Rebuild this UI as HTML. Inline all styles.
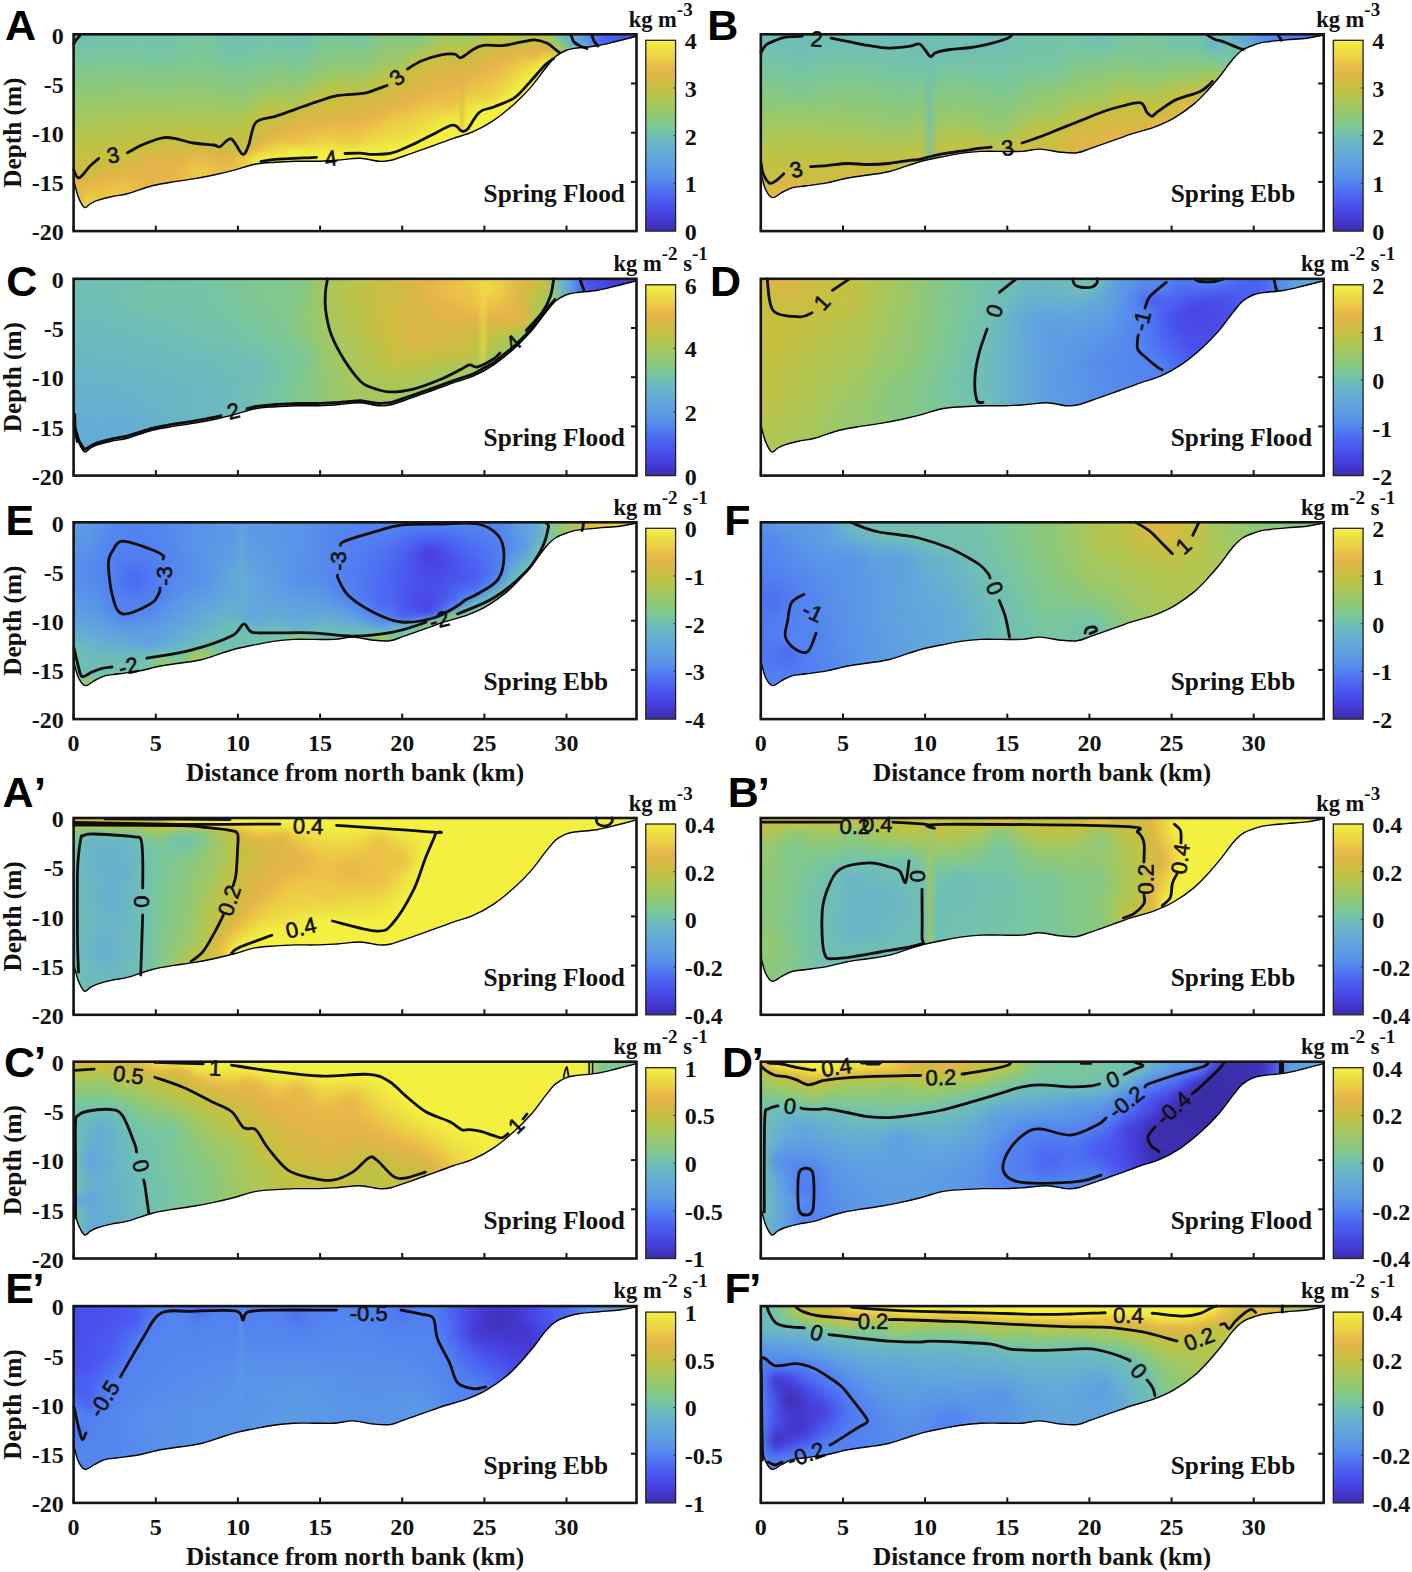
<!DOCTYPE html>
<html><head><meta charset="utf-8"><style>
html,body{margin:0;padding:0;background:#fff;}
body{width:1412px;height:1572px;position:relative;overflow:hidden;}
.fo{position:absolute;overflow:hidden;}
.fi{position:absolute;}
.fi i{position:absolute;left:0;right:0;display:block;}
svg{position:absolute;left:0;top:0;}
.tk{font-family:"Liberation Serif",serif;font-weight:bold;font-size:24px;fill:#111;}
.lab{font-family:"Liberation Serif",serif;font-weight:bold;font-size:25.3px;fill:#111;}
.un{font-family:"Liberation Serif",serif;font-weight:bold;font-size:22.5px;fill:#111;}
.un .sup{font-size:19px;}
.let{font-family:"Liberation Sans",sans-serif;font-weight:bold;font-size:43px;fill:#000;}
.cl{font-family:"Liberation Sans",sans-serif;font-size:22px;fill:#111;stroke:#111;stroke-width:0.6px;text-anchor:middle;dominant-baseline:central;}
.ct{fill:none;stroke:#0d0d0d;stroke-width:2.8;stroke-linejoin:round;stroke-linecap:round;}
</style></head><body>

<div class="fo" style="left:73.6px;top:34.3px;width:562.9px;height:196.8px">
<div class="fi" style="left:-10px;top:-10px;width:582.9px;height:220px;filter:blur(2.5px)">
<i style="top:0px;height:6px;background:linear-gradient(90deg,#6fbeb6,#6fbeb6,#71c0b2,#74c2ab,#74c3aa,#74c3aa,#75c3a8,#74c2ab,#73c1ad,#75c3a8,#78c6a1,#79c69f,#77c6a1,#74c3a9,#70bfb3,#71c0b2,#74c2aa,#75c4a7,#74c3aa,#72c0b0,#73c2ac,#79c69e,#7dc796,#7cc798,#78c6a0,#7cc799,#86c886,#8bc87d,#8ac87e,#86c885,#8fc877,#a4c860,#a6c75d,#99c86c,#9fc865,#b7c54c,#bbc349,#afc653,#adc755,#b4c54e,#a2c862,#70bfb4,#66afd0,#5a95e7,#4e73f1,#4a5cf0,#4a59f0,#4a58f0,#4a58f0)"></i>
<i style="top:5px;height:6px;background:linear-gradient(90deg,#6fbeb6,#6fbeb6,#71c0b2,#74c2ab,#74c3aa,#74c3aa,#75c3a8,#74c2ab,#73c1ad,#75c3a8,#78c6a1,#79c69f,#77c6a1,#74c3a9,#70bfb3,#71c0b2,#74c2aa,#75c4a7,#74c3aa,#72c0b0,#73c2ac,#79c69e,#7dc796,#7cc798,#78c6a0,#7cc799,#86c886,#8bc87d,#8ac87e,#86c885,#8fc877,#a4c860,#a6c75d,#99c86c,#9fc865,#b7c54c,#bbc349,#afc653,#adc755,#b4c54e,#a2c862,#70bfb4,#66afd0,#5a95e7,#4e73f1,#4a5cf0,#4a59f0,#4a58f0,#4a58f0)"></i>
<i style="top:10px;height:6px;background:linear-gradient(90deg,#6fbeb6,#6fbeb6,#71c0b1,#74c2ab,#74c3aa,#74c3aa,#75c3a8,#74c2ab,#73c1ad,#75c3a8,#78c6a1,#79c69e,#78c6a1,#74c3a9,#70bfb3,#71c0b2,#74c3aa,#76c4a6,#74c3a9,#72c0b0,#73c2ac,#79c69d,#7dc796,#7cc798,#78c6a0,#7cc798,#86c885,#8cc87c,#8bc87e,#86c885,#90c876,#a5c75f,#a7c75c,#99c86c,#a0c864,#b8c44b,#bcc348,#b1c651,#b0c653,#b9c44a,#a3c861,#70bfb4,#64abd7,#5b96e7,#4e70f1,#4a5cf0,#4a59f0,#4a58f0,#4a58f0)"></i>
<i style="top:15px;height:6px;background:linear-gradient(90deg,#70beb5,#70beb5,#72c1af,#74c3a9,#74c3a9,#74c3a9,#75c4a7,#74c3a9,#73c1ad,#75c4a7,#78c6a0,#79c69d,#78c6a0,#75c3a8,#71c0b3,#71c0b1,#75c3a8,#76c4a5,#75c3a8,#72c0b0,#74c2ab,#7ac69b,#7ec793,#7dc795,#78c6a0,#7dc796,#88c883,#8dc87a,#8dc87a,#86c885,#94c871,#aac759,#adc756,#a0c864,#acc757,#bec246,#c0c245,#bfc246,#c0c245,#ccbd41,#b2c650,#77c6a1,#63a8d9,#5d9ee1,#4e70f2,#4b5df1,#4a59f0,#4a58f0,#4a58f0)"></i>
<i style="top:20px;height:6px;background:linear-gradient(90deg,#72c1ae,#72c1ae,#74c3aa,#76c4a6,#75c4a6,#75c4a6,#76c5a4,#75c4a7,#74c2ab,#76c4a4,#79c69e,#7ac69b,#79c69e,#76c4a5,#72c1af,#72c1ae,#76c4a6,#77c5a2,#76c4a4,#73c2ab,#75c4a6,#7cc797,#81c88f,#80c890,#7cc799,#80c890,#8ac87f,#90c876,#91c875,#8ec877,#a0c864,#b3c650,#b5c54d,#b2c650,#c1c144,#c7c040,#c7bf40,#d0bb42,#d7b944,#deb647,#ccbd41,#99c86b,#6cbabd,#6ab6c4,#5281f0,#4b5df1,#4a59f0,#4a58f0,#4a58f0)"></i>
<i style="top:25px;height:6px;background:linear-gradient(90deg,#76c4a6,#76c4a5,#77c5a4,#77c6a1,#77c5a1,#77c6a1,#78c6a0,#77c5a3,#76c4a5,#78c6a1,#7bc79b,#7cc798,#7bc79b,#77c5a2,#74c3a9,#75c3a8,#77c5a2,#79c69e,#78c6a0,#77c5a4,#78c69f,#7fc792,#84c889,#83c88a,#82c88c,#85c887,#8dc879,#94c871,#97c86e,#a1c863,#b1c651,#bec246,#c0c245,#c3c143,#c9be41,#d0bc42,#d4ba43,#dbb745,#e2b548,#e5b44a,#e5b449,#bac349,#74c3aa,#70bfb4,#5281f0,#4b5df1,#4a59f0,#4a58f0,#4a58f0)"></i>
<i style="top:30px;height:6px;background:linear-gradient(90deg,#79c69f,#79c69e,#79c69e,#7ac69c,#7ac69c,#7ac69b,#7ac69c,#78c69f,#78c6a1,#79c69d,#7dc797,#7ec795,#7cc797,#79c69d,#76c5a4,#77c5a4,#7ac69d,#7cc799,#7bc79a,#7ac69d,#7bc799,#83c88b,#87c884,#87c883,#87c884,#89c880,#93c873,#98c86c,#9bc86a,#b4c54f,#c2c143,#c8bf40,#c8bf40,#c6c040,#cfbc42,#d9b844,#e1b548,#e5b44a,#e8b949,#e8ba48,#eee042,#c2c143,#74c3aa,#70bfb4,#5281f0,#4b5df1,#4a59f0,#4a58f0,#4a58f0)"></i>
<i style="top:35px;height:6px;background:linear-gradient(90deg,#7ac69c,#7ac69d,#7bc79a,#7dc797,#7dc795,#7dc795,#7dc796,#7bc79b,#78c6a0,#7bc799,#7fc792,#80c890,#7fc792,#7cc799,#77c5a2,#78c6a1,#7cc797,#7fc793,#7ec794,#7bc79a,#7ec795,#86c885,#8bc87c,#8cc87c,#88c882,#8dc87a,#99c86c,#9dc867,#9cc869,#c3c143,#c8bf41,#cfbc42,#cfbc42,#cbbe41,#d5b943,#e0b648,#e8b849,#e9bc48,#ecc646,#ecd544,#f4f040,#c2c143,#74c3aa,#70bfb4,#5281f0,#4b5df1,#4a59f0,#4a58f0,#4a58f0)"></i>
<i style="top:40px;height:6px;background:linear-gradient(90deg,#7cc797,#7cc798,#7ec795,#80c890,#80c88f,#81c88f,#80c890,#7ec794,#7bc79b,#7fc793,#82c88d,#82c88b,#81c88d,#7ec793,#7ac69d,#7bc79b,#80c891,#82c88c,#82c88c,#7ec794,#82c88c,#8bc87d,#91c875,#92c874,#8cc87b,#93c873,#a1c863,#a7c75c,#b1c652,#c7c040,#cdbd41,#d5b943,#d8b844,#d4ba43,#dbb745,#e5b44a,#e8b849,#ecc446,#ecd444,#f0e741,#f4f040,#c2c143,#74c3aa,#70bfb4,#5281f0,#4b5df1,#4a59f0,#4a58f0,#4a58f0)"></i>
<i style="top:45px;height:6px;background:linear-gradient(90deg,#82c88c,#82c88c,#82c88c,#83c88a,#84c889,#84c889,#83c88a,#82c88c,#82c88d,#83c88b,#84c888,#85c887,#84c888,#82c88d,#7fc792,#80c891,#83c88a,#86c886,#86c885,#85c886,#88c882,#91c875,#98c86d,#99c86b,#98c86d,#9dc868,#abc758,#b5c54d,#c6c040,#cabe41,#d2bb43,#dbb745,#dfb647,#dcb746,#e1b548,#e7b849,#eabe48,#eccc45,#edde43,#f4ef40,#f4f040,#c2c143,#74c3aa,#70bfb4,#5281f0,#4b5df1,#4a59f0,#4a58f0,#4a58f0)"></i>
<i style="top:50px;height:6px;background:linear-gradient(90deg,#86c885,#86c885,#86c886,#86c885,#87c884,#87c884,#87c884,#86c886,#86c885,#86c885,#88c883,#88c882,#87c883,#85c887,#83c88a,#84c889,#87c883,#8ac87f,#8ac87e,#8bc87e,#8dc87a,#98c86d,#a0c864,#a2c862,#a2c862,#a5c75e,#b5c54e,#c2c143,#c8bf40,#cfbc42,#d6b944,#deb647,#e1b548,#e2b548,#e7b54a,#e9bd48,#ecc546,#ecd444,#f0e641,#f4f040,#f4f040,#c2c143,#74c3aa,#70bfb4,#5281f0,#4b5df1,#4a59f0,#4a58f0,#4a58f0)"></i>
<i style="top:55px;height:6px;background:linear-gradient(90deg,#87c884,#87c884,#88c882,#89c880,#8ac87f,#8ac87e,#8ac87f,#89c881,#86c885,#89c880,#8bc87d,#8bc87d,#8ac87e,#88c882,#84c888,#86c886,#8bc87d,#8fc877,#8fc877,#8cc87c,#91c874,#a1c863,#a9c759,#abc758,#a2c861,#adc756,#bec246,#c6c040,#ccbd41,#d4ba43,#dbb745,#e1b548,#e3b549,#e6b54a,#e9bc48,#ecc346,#eccc45,#eddb43,#f1ea41,#f4f040,#f4f040,#c2c143,#74c3aa,#70bfb4,#5281f0,#4b5df1,#4a59f0,#4a58f0,#4a58f0)"></i>
<i style="top:60px;height:6px;background:linear-gradient(90deg,#8ac87e,#8ac87e,#8bc87d,#8dc87a,#8dc879,#8ec879,#8dc879,#8dc87a,#8bc87d,#8dc87a,#8ec878,#8fc877,#8ec878,#8cc87c,#88c882,#8ac87f,#90c875,#95c870,#96c86f,#92c873,#9ac86b,#aac759,#b3c64f,#b5c54d,#afc654,#bac44a,#c5c041,#cabe41,#d3ba43,#d9b845,#e0b647,#e4b449,#e6b54a,#e9bb48,#ebc246,#ecc845,#ecd344,#eee342,#f4f040,#f4f040,#f4f040,#c2c143,#74c3aa,#70bfb4,#5281f0,#4b5df1,#4a59f0,#4a58f0,#4a58f0)"></i>
<i style="top:65px;height:6px;background:linear-gradient(90deg,#90c876,#90c876,#90c876,#90c876,#91c874,#92c874,#92c874,#91c874,#92c873,#92c874,#93c873,#93c872,#92c873,#90c876,#8ec879,#8fc877,#96c86f,#9cc868,#9dc867,#9cc868,#a5c75f,#b5c54e,#bec247,#c1c144,#bfc246,#c6c040,#c8bf40,#d1bb43,#dab745,#dfb647,#e4b449,#e7b749,#e8ba49,#ebc147,#ecc945,#eccc45,#edd943,#f1ea41,#f4f040,#f4f040,#f4f040,#c2c143,#74c3aa,#70bfb4,#5281f0,#4b5df1,#4a59f0,#4a58f0,#4a58f0)"></i>
<i style="top:70px;height:6px;background:linear-gradient(90deg,#94c871,#95c871,#94c872,#94c871,#95c870,#96c86f,#96c86f,#96c86f,#98c86d,#97c86e,#97c86e,#98c86d,#97c86e,#95c871,#93c873,#94c871,#9dc867,#a4c860,#a6c75e,#a4c85f,#afc653,#c0c245,#c5c041,#c8bf41,#cbbe41,#cbbe41,#cebc42,#d9b844,#e0b648,#e4b549,#e8b849,#e9bb48,#e9bd48,#ecc846,#ecd144,#eccc45,#eee042,#f4f040,#f4f040,#f4f040,#f4f040,#c2c143,#74c3aa,#70bfb4,#5281f0,#4b5df1,#4a59f0,#4a58f0,#4a58f0)"></i>
<i style="top:75px;height:6px;background:linear-gradient(90deg,#95c870,#95c870,#96c86f,#98c86d,#9ac86b,#9ac86a,#9bc86a,#9ac86a,#99c86c,#9bc86a,#9cc868,#9cc868,#9cc869,#9ac86b,#94c871,#98c86d,#a4c85f,#acc756,#afc654,#a7c75c,#bcc348,#c7c040,#cabe41,#cebd42,#d3ba43,#d2bb43,#d5b943,#deb646,#e1b548,#e7b849,#eabf47,#eabf47,#eabe48,#eccf45,#eddb43,#eddd43,#f2ec41,#f4f040,#f4f040,#f4f040,#f4f040,#c2c143,#74c3aa,#70bfb4,#5281f0,#4b5df1,#4a59f0,#4a58f0,#4a58f0)"></i>
<i style="top:80px;height:6px;background:linear-gradient(90deg,#99c86c,#99c86c,#9ac86a,#9cc868,#9ec866,#9fc865,#9fc865,#9fc865,#9dc868,#a0c864,#a1c863,#a1c863,#a1c863,#9fc865,#99c86b,#9ec866,#adc756,#b5c54d,#bac44a,#bdc347,#c7c040,#cbbe41,#cfbc42,#d3ba43,#d8b844,#d8b844,#dcb746,#e3b549,#e5b44a,#eabf47,#ecc646,#ecc646,#ecc646,#ecd744,#efe542,#f3ee40,#f4f040,#f4f040,#f4f040,#f4f040,#f4f040,#c2c143,#74c3aa,#70bfb4,#5281f0,#4b5df1,#4a59f0,#4a58f0,#4a58f0)"></i>
<i style="top:85px;height:6px;background:linear-gradient(90deg,#a0c864,#a0c864,#a0c864,#a1c863,#a2c862,#a3c860,#a4c85f,#a4c85f,#a5c75f,#a5c75e,#a6c75d,#a6c75d,#a6c75d,#a6c75e,#a2c862,#a8c75b,#b6c54d,#bfc246,#c4c142,#c9be41,#cfbc42,#d1bb43,#d5b943,#d8b844,#d8b844,#dcb746,#e3b549,#e7b849,#e9bd48,#ecc646,#eccf45,#ecd144,#ecd444,#eedf42,#f3ee40,#f4f040,#f4f040,#f4f040,#f4f040,#f4f040,#f4f040,#c2c143,#74c3aa,#70bfb4,#5281f0,#4b5df1,#4a59f0,#4a58f0,#4a58f0)"></i>
<i style="top:90px;height:6px;background:linear-gradient(90deg,#a5c75e,#a6c75e,#a5c75f,#a5c75e,#a6c75d,#a8c75b,#a9c75a,#aac759,#acc757,#aac758,#abc758,#abc758,#abc758,#abc757,#a9c759,#b1c651,#c0c245,#c5c041,#c9bf41,#d0bb42,#d6b943,#d9b844,#dcb746,#deb647,#ddb746,#e1b548,#e7b849,#ebc047,#ecc646,#ecce45,#edd843,#eddb43,#eee042,#efe542,#f4f040,#f4f040,#f4f040,#f4f040,#f4f040,#f4f040,#f4f040,#c2c143,#74c3aa,#70bfb4,#5281f0,#4b5df1,#4a59f0,#4a58f0,#4a58f0)"></i>
<i style="top:95px;height:6px;background:linear-gradient(90deg,#a7c75c,#a7c75c,#a8c75b,#a9c75a,#abc758,#acc756,#aec655,#aec654,#aec655,#afc653,#b0c652,#b0c652,#afc654,#adc756,#b0c652,#bac44a,#c6c040,#c9bf41,#d0bc42,#d8b844,#ddb746,#e0b647,#e3b549,#e4b449,#e4b449,#e7b749,#eac047,#ecc945,#eccf45,#ecd544,#eede42,#efe342,#f2eb41,#f1e941,#f4f040,#f4f040,#f4f040,#f4f040,#f4f040,#f4f040,#f4f040,#c2c143,#74c3aa,#70bfb4,#5281f0,#4b5df1,#4a59f0,#4a58f0,#4a58f0)"></i>
<i style="top:100px;height:6px;background:linear-gradient(90deg,#aac759,#aac759,#acc757,#adc755,#afc653,#b1c651,#b3c64f,#b3c64f,#b0c652,#b4c54e,#b6c54d,#b5c54d,#b3c64f,#afc653,#b6c54d,#bfc246,#c8bf40,#cfbc42,#d8b844,#e0b647,#e4b549,#e7b64a,#e8b949,#e8ba49,#e8ba48,#eabf47,#ecc846,#ecd044,#ecd544,#edda43,#eede42,#f2eb41,#f4f040,#f2ec41,#f4f040,#f4f040,#f4f040,#f4f040,#f4f040,#f4f040,#f4f040,#c2c143,#74c3aa,#70bfb4,#5281f0,#4b5df1,#4a59f0,#4a58f0,#4a58f0)"></i>
<i style="top:105px;height:6px;background:linear-gradient(90deg,#b1c651,#b1c651,#b1c651,#b2c650,#b3c64f,#b6c54d,#b8c44b,#bac44a,#b9c44a,#bbc349,#bdc347,#bbc349,#b9c44a,#b7c44c,#bdc347,#c2c143,#cabe41,#d7b844,#e1b648,#e7b64a,#e8b949,#eabf47,#ebc247,#ebc047,#ebc147,#ecc846,#ecd044,#ecd544,#ecd644,#edde43,#f0e741,#f4f040,#f4f040,#f4f040,#f4f040,#f4f040,#f4f040,#f4f040,#f4f040,#f4f040,#f4f040,#c2c143,#74c3aa,#70bfb4,#5281f0,#4b5df1,#4a59f0,#4a58f0,#4a58f0)"></i>
<i style="top:110px;height:6px;background:linear-gradient(90deg,#b6c54d,#b7c54c,#b6c54d,#b6c54d,#b8c44b,#bac349,#bdc347,#bec246,#c2c143,#c3c143,#c3c142,#c0c245,#bec246,#bfc246,#c3c142,#c3c142,#cfbc42,#e1b548,#e8b949,#e9bd48,#eabf47,#ecc945,#eccb45,#ecc546,#ecc446,#ecd144,#edd843,#eddb43,#eddc43,#efe442,#f4f040,#f4f040,#f4f040,#f4f040,#f4f040,#f4f040,#f4f040,#f4f040,#f4f040,#f4f040,#f4f040,#c2c143,#74c3aa,#70bfb4,#5281f0,#4b5df1,#4a59f0,#4a58f0,#4a58f0)"></i>
<i style="top:115px;height:6px;background:linear-gradient(90deg,#b8c44c,#b7c44c,#b9c44a,#bbc349,#bcc348,#bfc246,#c2c143,#bec246,#c9bf41,#c9bf41,#c6c040,#c5c040,#bec246,#c4c142,#c6c040,#c3c142,#d7b844,#e9bb48,#ecc546,#eabf47,#ecc646,#ecd344,#ecd644,#eccd45,#eccc45,#edda43,#eee042,#efe342,#f0e741,#f3ef40,#f4f040,#f4f040,#f4f040,#f4f040,#f4f040,#f4f040,#f4f040,#f4f040,#f4f040,#f4f040,#f4f040,#c2c143,#74c3aa,#70bfb4,#5281f0,#4b5df1,#4a59f0,#4a58f0,#4a58f0)"></i>
<i style="top:120px;height:6px;background:linear-gradient(90deg,#bcc348,#bcc348,#bec246,#bfc246,#c0c244,#c3c143,#c5c040,#c7bf40,#cebc42,#cfbc42,#cdbd42,#cfbc42,#cabe41,#c8bf40,#c8bf40,#c6c040,#e5b44a,#eccb45,#ecd444,#ecd444,#ecd744,#edde43,#eee142,#eddc43,#eddc43,#efe342,#f0e741,#f2eb41,#f4ef40,#f4f040,#f4f040,#f4f040,#f4f040,#f4f040,#f4f040,#f4f040,#f4f040,#f4f040,#f4f040,#f4f040,#f4f040,#c2c143,#74c3aa,#70bfb4,#5281f0,#4b5df1,#4a59f0,#4a58f0,#4a58f0)"></i>
<i style="top:125px;height:6px;background:linear-gradient(90deg,#c3c142,#c3c142,#c4c142,#c3c143,#c4c141,#c5c041,#c8bf41,#d1bb42,#d4ba43,#d5b943,#d7b844,#deb647,#d8b844,#d1bb43,#d0bc42,#d4ba43,#ecca45,#eddb43,#eee242,#f2ec41,#f1e841,#f1e841,#f2ec41,#f2ea41,#f2ea41,#f2ec41,#f3ee40,#f4f040,#f4f040,#f4f040,#f4f040,#f4f040,#f4f040,#f4f040,#f4f040,#f4f040,#f4f040,#f4f040,#f4f040,#f4f040,#f4f040,#c2c143,#74c3aa,#70bfb4,#5281f0,#4b5df1,#4a59f0,#4a58f0,#4a58f0)"></i>
<i style="top:130px;height:6px;background:linear-gradient(90deg,#c8bf40,#c9bf41,#c9bf41,#c6c040,#c6c040,#c8bf41,#d0bc42,#dbb745,#dbb745,#dbb745,#e0b647,#e9bc48,#e3b549,#dcb746,#e3b549,#eccc45,#eee042,#f1e941,#f2ec41,#f4f040,#f4f040,#f4ef40,#f4f040,#f4f040,#f4f040,#f4f040,#f4f040,#f4f040,#f4f040,#f4f040,#f4f040,#f4f040,#f4f040,#f4f040,#f4f040,#f4f040,#f4f040,#f4f040,#f4f040,#f4f040,#f4f040,#c2c143,#74c3aa,#70bfb4,#5281f0,#4b5df1,#4a59f0,#4a58f0,#4a58f0)"></i>
<i style="top:135px;height:6px;background:linear-gradient(90deg,#c9bf41,#cabe41,#c9bf41,#c8bf40,#cbbe41,#cfbc42,#d8b844,#e3b549,#e0b647,#e0b648,#e6b54a,#e9bd48,#e8b949,#e4b549,#e9bb48,#eccc45,#f2ec41,#f4f040,#f4f040,#f4f040,#f4f040,#f4f040,#f4f040,#f4f040,#f4f040,#f4f040,#f4f040,#f4f040,#f4f040,#f4f040,#f4f040,#f4f040,#f4f040,#f4f040,#f4f040,#f4f040,#f4f040,#f4f040,#f4f040,#f4f040,#f4f040,#c2c143,#74c3aa,#70bfb4,#5281f0,#4b5df1,#4a59f0,#4a58f0,#4a58f0)"></i>
<i style="top:140px;height:6px;background:linear-gradient(90deg,#c7bf40,#c8bf40,#c6c040,#ccbd41,#d2bb43,#d7b844,#deb647,#e5b44a,#e3b549,#e4b549,#e8bb48,#ecc646,#ebc047,#e7b849,#eabf47,#eccd45,#f3ed40,#f4f040,#f4f040,#f4f040,#f4f040,#f4f040,#f4f040,#f4f040,#f4f040,#f4f040,#f4f040,#f4f040,#f4f040,#f4f040,#f4f040,#f4f040,#f4f040,#f4f040,#f4f040,#f4f040,#f4f040,#f4f040,#f4f040,#f4f040,#f4f040,#c2c143,#74c3aa,#70bfb4,#5281f0,#4b5df1,#4a59f0,#4a58f0,#4a58f0)"></i>
<i style="top:145px;height:6px;background:linear-gradient(90deg,#c6c040,#c6c040,#c8bf40,#d3ba43,#dbb745,#dfb647,#e3b549,#e6b44a,#e5b44a,#e6b54a,#eabe47,#eccc45,#ecc546,#e9bb48,#eac047,#eccd45,#f3ed40,#f4f040,#f4f040,#f4f040,#f4f040,#f4f040,#f4f040,#f4f040,#f4f040,#f4f040,#f4f040,#f4f040,#f4f040,#f4f040,#f4f040,#f4f040,#f4f040,#f4f040,#f4f040,#f4f040,#f4f040,#f4f040,#f4f040,#f4f040,#f4f040,#c2c143,#74c3aa,#70bfb4,#5281f0,#4b5df1,#4a59f0,#4a58f0,#4a58f0)"></i>
<i style="top:150px;height:6px;background:linear-gradient(90deg,#c6c040,#c8bf41,#d2bb43,#dbb745,#e3b549,#e6b54a,#e6b54a,#e6b54a,#e6b44a,#e7b749,#eac047,#eccc45,#ecc646,#e9bb48,#eac047,#eccd45,#f3ed40,#f4f040,#f4f040,#f4f040,#f4f040,#f4f040,#f4f040,#f4f040,#f4f040,#f4f040,#f4f040,#f4f040,#f4f040,#f4f040,#f4f040,#f4f040,#f4f040,#f4f040,#f4f040,#f4f040,#f4f040,#f4f040,#f4f040,#f4f040,#f4f040,#c2c143,#74c3aa,#70bfb4,#5281f0,#4b5df1,#4a59f0,#4a58f0,#4a58f0)"></i>
<i style="top:155px;height:6px;background:linear-gradient(90deg,#c7c040,#e0b647,#e3b549,#e4b549,#e9bb48,#eabe48,#e8b849,#e7b64a,#e6b54a,#e7b849,#eabf47,#eccc45,#ecc646,#e9bb48,#eac047,#eccd45,#f3ed40,#f4f040,#f4f040,#f4f040,#f4f040,#f4f040,#f4f040,#f4f040,#f4f040,#f4f040,#f4f040,#f4f040,#f4f040,#f4f040,#f4f040,#f4f040,#f4f040,#f4f040,#f4f040,#f4f040,#f4f040,#f4f040,#f4f040,#f4f040,#f4f040,#c2c143,#74c3aa,#70bfb4,#5281f0,#4b5df1,#4a59f0,#4a58f0,#4a58f0)"></i>
<i style="top:160px;height:6px;background:linear-gradient(90deg,#c7c040,#e0b647,#e8b949,#e8ba48,#ecc346,#ecc446,#e9bb48,#e7b749,#e6b54a,#e7b849,#eabf47,#eccc45,#ecc646,#e9bb48,#eac047,#eccd45,#f3ed40,#f4f040,#f4f040,#f4f040,#f4f040,#f4f040,#f4f040,#f4f040,#f4f040,#f4f040,#f4f040,#f4f040,#f4f040,#f4f040,#f4f040,#f4f040,#f4f040,#f4f040,#f4f040,#f4f040,#f4f040,#f4f040,#f4f040,#f4f040,#f4f040,#c2c143,#74c3aa,#70bfb4,#5281f0,#4b5df1,#4a59f0,#4a58f0,#4a58f0)"></i>
<i style="top:165px;height:6px;background:linear-gradient(90deg,#c7c040,#e0b648,#ebc246,#ebc147,#ecc646,#ecc646,#e9bc48,#e7b749,#e6b54a,#e7b849,#eabf47,#eccc45,#ecc646,#e9bb48,#eac047,#eccd45,#f3ed40,#f4f040,#f4f040,#f4f040,#f4f040,#f4f040,#f4f040,#f4f040,#f4f040,#f4f040,#f4f040,#f4f040,#f4f040,#f4f040,#f4f040,#f4f040,#f4f040,#f4f040,#f4f040,#f4f040,#f4f040,#f4f040,#f4f040,#f4f040,#f4f040,#c2c143,#74c3aa,#70bfb4,#5281f0,#4b5df1,#4a59f0,#4a58f0,#4a58f0)"></i>
<i style="top:170px;height:6px;background:linear-gradient(90deg,#c7c040,#e0b648,#eccc45,#ecc646,#ecc646,#ecc646,#e9bc48,#e7b749,#e6b54a,#e7b849,#eabf47,#eccc45,#ecc646,#e9bb48,#eac047,#eccd45,#f3ed40,#f4f040,#f4f040,#f4f040,#f4f040,#f4f040,#f4f040,#f4f040,#f4f040,#f4f040,#f4f040,#f4f040,#f4f040,#f4f040,#f4f040,#f4f040,#f4f040,#f4f040,#f4f040,#f4f040,#f4f040,#f4f040,#f4f040,#f4f040,#f4f040,#c2c143,#74c3aa,#70bfb4,#5281f0,#4b5df1,#4a59f0,#4a58f0,#4a58f0)"></i>
<i style="top:175px;height:6px;background:linear-gradient(90deg,#c7c040,#e0b648,#ecd544,#ecc846,#ecc646,#ecc646,#e9bc48,#e7b749,#e6b54a,#e7b849,#eabf47,#eccc45,#ecc646,#e9bb48,#eac047,#eccd45,#f3ed40,#f4f040,#f4f040,#f4f040,#f4f040,#f4f040,#f4f040,#f4f040,#f4f040,#f4f040,#f4f040,#f4f040,#f4f040,#f4f040,#f4f040,#f4f040,#f4f040,#f4f040,#f4f040,#f4f040,#f4f040,#f4f040,#f4f040,#f4f040,#f4f040,#c2c143,#74c3aa,#70bfb4,#5281f0,#4b5df1,#4a59f0,#4a58f0,#4a58f0)"></i>
<i style="top:180px;height:6px;background:linear-gradient(90deg,#c7c040,#e0b648,#ecd644,#ecc846,#ecc646,#ecc646,#e9bc48,#e7b749,#e6b54a,#e7b849,#eabf47,#eccc45,#ecc646,#e9bb48,#eac047,#eccd45,#f3ed40,#f4f040,#f4f040,#f4f040,#f4f040,#f4f040,#f4f040,#f4f040,#f4f040,#f4f040,#f4f040,#f4f040,#f4f040,#f4f040,#f4f040,#f4f040,#f4f040,#f4f040,#f4f040,#f4f040,#f4f040,#f4f040,#f4f040,#f4f040,#f4f040,#c2c143,#74c3aa,#70bfb4,#5281f0,#4b5df1,#4a59f0,#4a58f0,#4a58f0)"></i>
<i style="top:185px;height:6px;background:linear-gradient(90deg,#c7c040,#e0b648,#ecd644,#ecc846,#ecc646,#ecc646,#e9bc48,#e7b749,#e6b54a,#e7b849,#eabf47,#eccc45,#ecc646,#e9bb48,#eac047,#eccd45,#f3ed40,#f4f040,#f4f040,#f4f040,#f4f040,#f4f040,#f4f040,#f4f040,#f4f040,#f4f040,#f4f040,#f4f040,#f4f040,#f4f040,#f4f040,#f4f040,#f4f040,#f4f040,#f4f040,#f4f040,#f4f040,#f4f040,#f4f040,#f4f040,#f4f040,#c2c143,#74c3aa,#70bfb4,#5281f0,#4b5df1,#4a59f0,#4a58f0,#4a58f0)"></i>
<i style="top:190px;height:6px;background:linear-gradient(90deg,#c7c040,#e0b648,#ecd644,#ecc846,#ecc646,#ecc646,#e9bc48,#e7b749,#e6b54a,#e7b849,#eabf47,#eccc45,#ecc646,#e9bb48,#eac047,#eccd45,#f3ed40,#f4f040,#f4f040,#f4f040,#f4f040,#f4f040,#f4f040,#f4f040,#f4f040,#f4f040,#f4f040,#f4f040,#f4f040,#f4f040,#f4f040,#f4f040,#f4f040,#f4f040,#f4f040,#f4f040,#f4f040,#f4f040,#f4f040,#f4f040,#f4f040,#c2c143,#74c3aa,#70bfb4,#5281f0,#4b5df1,#4a59f0,#4a58f0,#4a58f0)"></i>
<i style="top:195px;height:6px;background:linear-gradient(90deg,#c7c040,#e0b648,#ecd644,#ecc846,#ecc646,#ecc646,#e9bc48,#e7b749,#e6b54a,#e7b849,#eabf47,#eccc45,#ecc646,#e9bb48,#eac047,#eccd45,#f3ed40,#f4f040,#f4f040,#f4f040,#f4f040,#f4f040,#f4f040,#f4f040,#f4f040,#f4f040,#f4f040,#f4f040,#f4f040,#f4f040,#f4f040,#f4f040,#f4f040,#f4f040,#f4f040,#f4f040,#f4f040,#f4f040,#f4f040,#f4f040,#f4f040,#c2c143,#74c3aa,#70bfb4,#5281f0,#4b5df1,#4a59f0,#4a58f0,#4a58f0)"></i>
<i style="top:200px;height:6px;background:linear-gradient(90deg,#c7c040,#e0b648,#ecd644,#ecc846,#ecc646,#ecc646,#e9bc48,#e7b749,#e6b54a,#e7b849,#eabf47,#eccc45,#ecc646,#e9bb48,#eac047,#eccd45,#f3ed40,#f4f040,#f4f040,#f4f040,#f4f040,#f4f040,#f4f040,#f4f040,#f4f040,#f4f040,#f4f040,#f4f040,#f4f040,#f4f040,#f4f040,#f4f040,#f4f040,#f4f040,#f4f040,#f4f040,#f4f040,#f4f040,#f4f040,#f4f040,#f4f040,#c2c143,#74c3aa,#70bfb4,#5281f0,#4b5df1,#4a59f0,#4a58f0,#4a58f0)"></i>
<i style="top:205px;height:6px;background:linear-gradient(90deg,#c7c040,#e0b648,#ecd644,#ecc846,#ecc646,#ecc646,#e9bc48,#e7b749,#e6b54a,#e7b849,#eabf47,#eccc45,#ecc646,#e9bb48,#eac047,#eccd45,#f3ed40,#f4f040,#f4f040,#f4f040,#f4f040,#f4f040,#f4f040,#f4f040,#f4f040,#f4f040,#f4f040,#f4f040,#f4f040,#f4f040,#f4f040,#f4f040,#f4f040,#f4f040,#f4f040,#f4f040,#f4f040,#f4f040,#f4f040,#f4f040,#f4f040,#c2c143,#74c3aa,#70bfb4,#5281f0,#4b5df1,#4a59f0,#4a58f0,#4a58f0)"></i>
<i style="top:210px;height:6px;background:linear-gradient(90deg,#c7c040,#e0b648,#ecd644,#ecc846,#ecc646,#ecc646,#e9bc48,#e7b749,#e6b54a,#e7b849,#eabf47,#eccc45,#ecc646,#e9bb48,#eac047,#eccd45,#f3ed40,#f4f040,#f4f040,#f4f040,#f4f040,#f4f040,#f4f040,#f4f040,#f4f040,#f4f040,#f4f040,#f4f040,#f4f040,#f4f040,#f4f040,#f4f040,#f4f040,#f4f040,#f4f040,#f4f040,#f4f040,#f4f040,#f4f040,#f4f040,#f4f040,#c2c143,#74c3aa,#70bfb4,#5281f0,#4b5df1,#4a59f0,#4a58f0,#4a58f0)"></i>
<i style="top:215px;height:6px;background:linear-gradient(90deg,#c7c040,#e0b648,#ecd644,#ecc846,#ecc646,#ecc646,#e9bc48,#e7b749,#e6b54a,#e7b849,#eabf47,#eccc45,#ecc646,#e9bb48,#eac047,#eccd45,#f3ed40,#f4f040,#f4f040,#f4f040,#f4f040,#f4f040,#f4f040,#f4f040,#f4f040,#f4f040,#f4f040,#f4f040,#f4f040,#f4f040,#f4f040,#f4f040,#f4f040,#f4f040,#f4f040,#f4f040,#f4f040,#f4f040,#f4f040,#f4f040,#f4f040,#c2c143,#74c3aa,#70bfb4,#5281f0,#4b5df1,#4a59f0,#4a58f0,#4a58f0)"></i>
</div></div>
<div class="fo" style="left:760.8px;top:34.3px;width:562.9px;height:196.8px">
<div class="fi" style="left:-10px;top:-10px;width:582.9px;height:220px;filter:blur(2.5px)">
<i style="top:0px;height:6px;background:linear-gradient(90deg,#6cb9be,#6cb9be,#6fbeb6,#70bfb3,#6dbbbb,#70bfb3,#70bfb4,#70bfb4,#70bfb4,#70bfb4,#70beb5,#6ebdb8,#6cbabe,#6dbcba,#70beb5,#70bfb4,#70bfb4,#70bfb5,#70bfb4,#70bfb4,#6fbeb6,#6fbeb6,#71c0b1,#73c2ac,#75c3a8,#75c4a6,#76c4a5,#75c3a8,#71c0b1,#70bfb4,#75c3a8,#79c69d,#7bc79b,#7ac69c,#77c5a2,#74c2ab,#73c2ac,#71c0b1,#72c1af,#6fbeb6,#65add4,#61a5dc,#5a95e7,#558aed,#517ef0,#4f76f1,#4c68f2,#4c65f2,#4c65f2)"></i>
<i style="top:5px;height:6px;background:linear-gradient(90deg,#6cb9be,#6cb9be,#6fbeb6,#70bfb3,#6dbbbb,#70bfb3,#70bfb4,#70bfb4,#70bfb4,#70bfb4,#70beb5,#6ebdb8,#6cbabe,#6dbcba,#70beb5,#70bfb4,#70bfb4,#70bfb5,#70bfb4,#70bfb4,#6fbeb6,#6fbeb6,#71c0b1,#73c2ac,#75c3a8,#75c4a6,#76c4a5,#75c3a8,#71c0b1,#70bfb4,#75c3a8,#79c69d,#7bc79b,#7ac69c,#77c5a2,#74c2ab,#73c2ac,#71c0b1,#72c1af,#6fbeb6,#65add4,#61a5dc,#5a95e7,#558aed,#517ef0,#4f76f1,#4c68f2,#4c65f2,#4c65f2)"></i>
<i style="top:10px;height:6px;background:linear-gradient(90deg,#6cb9be,#6cb9be,#70beb5,#70bfb4,#6dbbbc,#70bfb4,#70bfb4,#70bfb4,#70bfb4,#70bfb4,#70beb5,#6fbdb8,#6cbabe,#6ebcba,#70bfb5,#70bfb4,#70bfb4,#70bfb5,#70bfb4,#70bfb4,#6fbeb6,#6fbeb6,#71c0b1,#73c2ab,#75c3a8,#75c4a6,#76c4a5,#75c3a8,#71c0b0,#70bfb4,#75c4a7,#79c69d,#7bc79a,#7ac69c,#77c5a2,#74c2ab,#73c2ac,#71c0b1,#70bfb3,#6fbeb6,#65acd4,#61a5dc,#5a95e7,#568bec,#517ef0,#4f76f1,#4c68f2,#4c65f2,#4c65f2)"></i>
<i style="top:15px;height:6px;background:linear-gradient(90deg,#6cbabe,#6cbabe,#70bfb4,#70bfb5,#6dbbbc,#70bfb5,#70bfb3,#70bfb3,#70bfb4,#70bfb4,#70bfb5,#6fbeb6,#6dbbbc,#6fbdb7,#70bfb4,#70bfb4,#70bfb4,#70bfb5,#70bfb4,#70bfb4,#70bfb4,#6fbeb5,#72c1af,#74c2ab,#75c3a8,#76c4a6,#76c4a4,#75c4a6,#72c1af,#70bfb4,#76c4a5,#7ac69b,#7bc799,#7ac69b,#78c6a1,#74c2aa,#74c2aa,#71c0b0,#6ab7c3,#70bfb4,#66aed2,#62a7da,#5a95e7,#568bec,#517ff0,#4f76f1,#4c68f2,#4c65f2,#4c65f2)"></i>
<i style="top:20px;height:6px;background:linear-gradient(90deg,#6fbdb7,#70bfb5,#71c0b1,#70bfb4,#6ebcb9,#70bfb4,#71c0b1,#71c0b1,#71c0b2,#70bfb3,#70bfb4,#70bfb4,#70bfb4,#70bfb4,#70bfb4,#70bfb4,#70bfb4,#70bfb4,#70bfb4,#70bfb4,#70bfb3,#70bfb3,#73c1ad,#74c3aa,#75c3a8,#76c4a6,#77c5a3,#77c5a3,#74c2aa,#73c1ae,#78c6a0,#7cc798,#7cc797,#7bc79a,#79c69e,#76c4a5,#76c4a5,#74c3aa,#6ab7c2,#70bfb5,#70bfb4,#65add3,#5b96e7,#568bec,#517ff0,#4f76f1,#4c68f2,#4c65f2,#4c65f2)"></i>
<i style="top:25px;height:6px;background:linear-gradient(90deg,#70bfb4,#70bfb3,#73c1ae,#71c0b1,#70bfb4,#71c0b1,#73c1ae,#73c1ad,#72c1ae,#72c1af,#71c0b1,#71c0b2,#72c0b0,#72c0b0,#70bfb3,#70bfb4,#70bfb4,#71bfb3,#71c0b2,#71c0b1,#72c0b0,#72c1af,#74c2ab,#75c3a8,#75c3a7,#76c4a5,#78c6a0,#79c69f,#77c5a2,#77c5a3,#7bc799,#7ec793,#7ec795,#7cc798,#7bc799,#7ac69c,#7ac69c,#7ac69c,#6fbeb6,#72c1b0,#72c1af,#67b0ce,#5b96e7,#568bec,#517ff0,#4f76f1,#4c68f2,#4c65f2,#4c65f2)"></i>
<i style="top:30px;height:6px;background:linear-gradient(90deg,#72c1af,#72c1ae,#74c2ab,#73c1ad,#73c1ad,#73c1ad,#74c2aa,#74c3a9,#74c3aa,#74c2ab,#73c2ac,#72c1ae,#73c2ad,#73c1ad,#71c0b0,#70bfb3,#71c0b1,#72c1af,#72c1ae,#72c1ae,#73c1ad,#73c2ac,#75c3a8,#76c4a6,#75c4a7,#76c4a5,#79c69d,#7cc799,#7cc799,#7cc798,#80c891,#81c88d,#7fc792,#7dc796,#7ec793,#7fc792,#7fc792,#7fc793,#77c5a2,#76c5a4,#73c2ab,#67b0ce,#5b96e7,#568bec,#517ff0,#4f76f1,#4c68f2,#4c65f2,#4c65f2)"></i>
<i style="top:35px;height:6px;background:linear-gradient(90deg,#74c3a9,#75c3a8,#75c3a7,#74c3aa,#73c2ac,#74c3aa,#75c4a6,#76c4a5,#76c4a5,#76c4a6,#75c3a8,#74c2aa,#73c2ac,#74c2ab,#73c2ac,#72c1ae,#73c2ac,#74c2aa,#74c3aa,#74c2aa,#74c2ab,#74c2ab,#76c4a6,#77c5a3,#76c4a5,#76c4a5,#7cc799,#7fc792,#80c88f,#82c88c,#84c888,#85c887,#82c88d,#7dc796,#82c88c,#85c888,#84c889,#80c891,#82c88d,#7dc796,#74c2ab,#67b0ce,#5b96e7,#568bec,#517ff0,#4f76f1,#4c68f2,#4c65f2,#4c65f2)"></i>
<i style="top:40px;height:6px;background:linear-gradient(90deg,#77c5a3,#77c5a3,#77c5a3,#76c4a6,#74c3aa,#76c4a6,#77c5a2,#78c6a0,#78c6a0,#78c6a1,#77c5a3,#76c4a6,#74c3aa,#75c3a8,#75c3a7,#75c3a8,#76c4a6,#76c4a5,#76c4a5,#76c4a6,#75c3a9,#75c3a9,#77c5a2,#79c69f,#78c6a1,#78c6a0,#7fc793,#83c88b,#85c887,#87c884,#89c881,#89c880,#86c886,#81c88e,#87c884,#8bc87e,#8bc87d,#8ac87f,#8dc87a,#85c887,#74c2ab,#67b0ce,#5b96e7,#568bec,#517ff0,#4f76f1,#4c68f2,#4c65f2,#4c65f2)"></i>
<i style="top:45px;height:6px;background:linear-gradient(90deg,#79c69d,#79c69d,#79c69e,#77c5a2,#76c4a5,#77c5a2,#79c69d,#7bc79b,#7bc79b,#7ac69c,#79c69e,#78c6a1,#76c5a4,#77c5a3,#77c5a2,#78c6a1,#78c6a0,#78c69f,#78c6a0,#77c6a1,#76c5a4,#77c5a4,#79c69e,#7bc79a,#7cc798,#7dc796,#82c88c,#86c885,#89c880,#8cc87c,#8ec878,#8ec878,#8cc87c,#8bc87e,#8dc87a,#92c874,#94c871,#97c86e,#9cc868,#8ac87e,#74c2ab,#67b0ce,#5b96e7,#568bec,#517ff0,#4f76f1,#4c68f2,#4c65f2,#4c65f2)"></i>
<i style="top:50px;height:6px;background:linear-gradient(90deg,#7cc797,#7cc798,#7bc799,#7ac69d,#78c69f,#7ac69d,#7cc798,#7dc795,#7ec795,#7dc796,#7cc798,#7ac69c,#79c69e,#79c69e,#7ac69c,#7bc79b,#7bc799,#7cc799,#7bc79a,#7ac69c,#78c69f,#79c69f,#7cc799,#7ec794,#80c891,#81c88f,#86c886,#8ac87e,#8ec878,#91c875,#94c871,#95c870,#92c873,#93c873,#95c871,#9bc86a,#9dc867,#a0c864,#aec654,#8bc87c,#74c2ab,#67b0ce,#5b96e7,#568bec,#517ff0,#4f76f1,#4c68f2,#4c65f2,#4c65f2)"></i>
<i style="top:55px;height:6px;background:linear-gradient(90deg,#7fc791,#7fc791,#7ec793,#7cc798,#7bc79a,#7cc798,#7fc793,#80c890,#80c88f,#80c890,#7fc793,#7dc796,#7cc798,#7cc798,#7dc796,#7ec794,#7fc793,#7fc793,#7ec794,#7cc797,#7ac69b,#7bc79b,#7ec794,#81c88d,#81c88d,#82c88c,#8ac87f,#8fc877,#93c872,#97c86e,#9bc86a,#9dc868,#99c86c,#93c873,#9cc869,#a4c860,#a6c75d,#a0c864,#c4c142,#8bc87c,#74c2ab,#67b0ce,#5b96e7,#568bec,#517ff0,#4f76f1,#4c68f2,#4c65f2,#4c65f2)"></i>
<i style="top:60px;height:6px;background:linear-gradient(90deg,#83c88b,#83c88b,#81c88d,#7fc793,#7dc797,#7fc793,#82c88d,#83c88a,#83c88a,#83c88b,#81c88d,#7fc791,#7ec794,#7ec793,#80c890,#81c88d,#82c88c,#82c88c,#81c88e,#7fc792,#7cc799,#7bc799,#81c88e,#85c887,#86c885,#88c882,#8ec878,#95c871,#99c86c,#9cc868,#a2c862,#a5c75e,#a2c862,#9bc869,#a5c75f,#aec655,#b3c64f,#b9c44a,#c6c040,#8bc87c,#74c2ab,#67b0ce,#5b96e7,#568bec,#517ff0,#4f76f1,#4c68f2,#4c65f2,#4c65f2)"></i>
<i style="top:65px;height:6px;background:linear-gradient(90deg,#86c886,#86c886,#85c888,#82c88d,#7dc796,#81c88e,#85c887,#86c885,#86c885,#86c886,#84c888,#82c88c,#7fc793,#80c88f,#83c88a,#85c888,#85c886,#85c887,#84c888,#82c88c,#7ec793,#7ec794,#84c888,#89c880,#8dc87a,#8fc877,#94c871,#9ac86a,#9ec866,#a1c863,#a9c75a,#aec654,#adc756,#a8c75b,#afc653,#b8c44b,#c1c244,#c6c040,#c6c040,#8bc87c,#74c2ab,#67b0ce,#5b96e7,#568bec,#517ff0,#4f76f1,#4c68f2,#4c65f2,#4c65f2)"></i>
<i style="top:70px;height:6px;background:linear-gradient(90deg,#89c880,#89c880,#88c882,#85c886,#81c88e,#85c887,#88c882,#89c880,#89c880,#89c881,#87c884,#85c888,#81c88e,#83c88a,#86c885,#88c882,#89c881,#89c881,#87c883,#85c887,#82c88b,#83c88b,#88c883,#8dc879,#94c872,#96c86f,#9ac86a,#a1c863,#a3c860,#a4c85f,#b1c651,#b9c44b,#b9c44a,#b4c54f,#b9c44a,#c1c144,#c7bf40,#c9bf41,#c6c040,#8bc87c,#74c2ab,#67b0ce,#5b96e7,#568bec,#517ff0,#4f76f1,#4c68f2,#4c65f2,#4c65f2)"></i>
<i style="top:75px;height:6px;background:linear-gradient(90deg,#8dc87a,#8dc87a,#8cc87b,#8bc87e,#8bc87e,#8bc87e,#8cc87b,#8dc87a,#8dc87a,#8cc87c,#8ac87f,#88c882,#86c885,#87c884,#89c880,#8bc87c,#8cc87b,#8cc87b,#8bc87d,#88c882,#86c886,#86c885,#8bc87d,#92c874,#97c86e,#98c86c,#a1c863,#a8c75b,#a9c75a,#a5c75f,#bac449,#c2c143,#c4c142,#bec247,#c2c143,#c8bf40,#d8b844,#cbbe41,#c6c040,#8bc87c,#74c2ab,#67b0ce,#5b96e7,#568bec,#517ff0,#4f76f1,#4c68f2,#4c65f2,#4c65f2)"></i>
<i style="top:80px;height:6px;background:linear-gradient(90deg,#91c875,#91c875,#90c875,#90c876,#93c873,#90c876,#90c876,#91c875,#90c875,#8fc877,#8dc879,#8bc87d,#8ac87e,#8ac87e,#8dc87a,#8fc877,#90c875,#90c876,#8ec878,#8bc87d,#87c883,#87c883,#8fc877,#97c86e,#9bc86a,#9dc867,#a7c75d,#b0c652,#b3c650,#b4c54e,#c4c142,#c6c040,#c7c040,#c3c142,#c6c040,#cfbc42,#e7b849,#cbbe41,#c6c040,#8bc87c,#74c2ab,#67b0ce,#5b96e7,#568bec,#517ff0,#4f76f1,#4c68f2,#4c65f2,#4c65f2)"></i>
<i style="top:85px;height:6px;background:linear-gradient(90deg,#95c870,#95c870,#95c870,#95c871,#93c873,#94c871,#95c870,#95c870,#94c871,#93c872,#91c875,#8ec878,#8ac87e,#8dc87a,#91c875,#94c872,#95c870,#95c870,#93c872,#8fc877,#8ac87f,#8ac87f,#94c871,#9dc867,#a1c863,#a4c85f,#adc756,#bac44a,#c0c245,#c5c041,#c9bf41,#cbbe41,#c8bf41,#c5c041,#cabe41,#d5b943,#e7b849,#cbbe41,#c6c040,#8bc87c,#74c2ab,#67b0ce,#5b96e7,#568bec,#517ff0,#4f76f1,#4c68f2,#4c65f2,#4c65f2)"></i>
<i style="top:90px;height:6px;background:linear-gradient(90deg,#9ac86b,#9ac86b,#9ac86b,#9ac86b,#99c86c,#9ac86b,#9ac86b,#99c86b,#99c86c,#97c86e,#95c870,#92c873,#8fc877,#91c874,#96c86f,#99c86c,#9ac86b,#9ac86b,#98c86d,#93c872,#8ec878,#8fc877,#9ac86b,#a4c860,#a9c75a,#abc758,#b2c650,#c2c143,#c6c040,#cabe41,#cfbc42,#d0bc42,#ccbd41,#cbbe41,#dcb746,#d7b844,#e8b849,#cbbe41,#c6c040,#8bc87c,#74c2ab,#67b0ce,#5b96e7,#568bec,#517ff0,#4f76f1,#4c68f2,#4c65f2,#4c65f2)"></i>
<i style="top:95px;height:6px;background:linear-gradient(90deg,#9fc865,#9fc865,#9fc865,#a0c864,#a1c863,#a0c864,#9ec866,#9ec866,#9dc867,#9cc869,#9ac86b,#97c86e,#95c870,#97c86e,#9bc86a,#9ec866,#9fc865,#9fc865,#9dc867,#98c86c,#93c872,#94c871,#a1c863,#acc757,#b1c651,#b0c653,#bcc348,#c6c040,#c9be41,#cfbc42,#d5b943,#d6b944,#d2bb43,#ddb746,#e9bb48,#d8b844,#e7b849,#cbbe41,#c6c040,#8bc87c,#74c2ab,#67b0ce,#5b96e7,#568bec,#517ff0,#4f76f1,#4c68f2,#4c65f2,#4c65f2)"></i>
<i style="top:100px;height:6px;background:linear-gradient(90deg,#a3c860,#a3c860,#a4c860,#a5c75f,#a8c75b,#a5c75f,#a3c860,#a2c861,#a1c862,#a0c864,#9ec866,#9cc869,#9bc86a,#9cc869,#a0c864,#a3c860,#a5c75f,#a5c75e,#a4c860,#9ec867,#97c86e,#98c86d,#a8c75b,#b4c54f,#bbc349,#bcc348,#c6c040,#cdbd41,#d0bc42,#d4ba43,#dcb746,#dcb746,#d7b844,#e4b549,#e9bb48,#d8b844,#e7b849,#cbbe41,#c6c040,#8bc87c,#74c2ab,#67b0ce,#5b96e7,#568bec,#517ff0,#4f76f1,#4c68f2,#4c65f2,#4c65f2)"></i>
<i style="top:105px;height:6px;background:linear-gradient(90deg,#a8c75b,#a8c75b,#a8c75b,#a9c75a,#a9c75a,#a9c75a,#a8c75b,#a7c75c,#a6c75d,#a5c75f,#a3c860,#a0c864,#9cc869,#a0c864,#a5c75e,#a9c75a,#abc758,#abc757,#aac758,#a3c860,#9ac86b,#9bc86a,#b1c652,#bdc347,#c3c143,#c7c040,#cdbd42,#d8b844,#d7b944,#d9b844,#e2b548,#e1b548,#d9b844,#e4b549,#e9bb48,#d8b844,#e8b849,#cbbe41,#c6c040,#8bc87c,#74c2ab,#67b0ce,#5b96e7,#568bec,#517ff0,#4f76f1,#4c68f2,#4c65f2,#4c65f2)"></i>
<i style="top:110px;height:6px;background:linear-gradient(90deg,#acc756,#acc756,#acc756,#adc756,#acc757,#adc756,#acc756,#abc757,#aac758,#a9c75a,#a8c75b,#a6c75e,#a1c863,#a5c75e,#abc757,#afc653,#b0c652,#b2c650,#b2c650,#aac759,#a2c861,#a7c75c,#bcc348,#c4c142,#c6c040,#c9bf41,#d3ba43,#e1b648,#dcb746,#dcb746,#e4b549,#e4b549,#d9b844,#e4b549,#e9bb48,#d8b844,#e8b849,#cbbe41,#c6c040,#8bc87c,#74c2ab,#67b0ce,#5b96e7,#568bec,#517ff0,#4f76f1,#4c68f2,#4c65f2,#4c65f2)"></i>
<i style="top:115px;height:6px;background:linear-gradient(90deg,#b1c651,#b1c651,#b1c651,#b1c651,#b2c650,#b2c650,#b1c651,#b0c652,#afc653,#aec654,#adc755,#acc757,#abc757,#adc755,#b2c650,#b5c54d,#b7c54c,#b9c44b,#bbc349,#b2c650,#b0c652,#bbc349,#c5c041,#c6c040,#c7bf40,#ccbd41,#d7b944,#e1b648,#deb647,#deb646,#e4b549,#e4b549,#d9b844,#e4b549,#e9bb48,#d8b844,#e8b849,#cbbe41,#c6c040,#8bc87c,#74c2ab,#67b0ce,#5b96e7,#568bec,#517ff0,#4f76f1,#4c68f2,#4c65f2,#4c65f2)"></i>
<i style="top:120px;height:6px;background:linear-gradient(90deg,#b6c54d,#b6c54d,#b5c54d,#b6c54d,#b9c44b,#b6c54d,#b5c54d,#b5c54e,#b4c64f,#b3c64f,#b3c64f,#b2c650,#b5c54e,#b5c54e,#b9c44b,#bdc348,#bec247,#bfc245,#c3c142,#c1c244,#b8c44b,#c8bf40,#c7c040,#c7c040,#c8bf40,#cdbd42,#d8b844,#e0b648,#dfb647,#deb647,#e4b549,#e4b549,#d9b844,#e4b549,#e9bb48,#d8b844,#e8b849,#cbbe41,#c6c040,#8bc87c,#74c2ab,#67b0ce,#5b96e7,#568bec,#517ff0,#4f76f1,#4c68f2,#4c65f2,#4c65f2)"></i>
<i style="top:125px;height:6px;background:linear-gradient(90deg,#bbc349,#bbc349,#b9c44a,#b9c44a,#bac44a,#bac449,#bac449,#bac44a,#b8c44b,#b8c44b,#b9c44b,#b9c44b,#b7c44c,#bbc349,#c0c245,#c3c142,#c6c040,#c7c040,#c6c040,#c5c041,#b4c54e,#cbbe41,#c8bf40,#c7c040,#c8bf40,#cebc42,#d8b844,#e0b647,#dfb647,#deb647,#e4b549,#e4b549,#d9b844,#e4b549,#e9bb48,#d8b844,#e8b849,#cbbe41,#c6c040,#8bc87c,#74c2ab,#67b0ce,#5b96e7,#568bec,#517ff0,#4f76f1,#4c68f2,#4c65f2,#4c65f2)"></i>
<i style="top:130px;height:6px;background:linear-gradient(90deg,#c0c245,#c0c245,#bdc347,#bcc348,#bcc348,#bec246,#bfc246,#bfc245,#bec347,#bec247,#bfc246,#bfc246,#bcc348,#c1c144,#c5c041,#c6c040,#cbbe41,#cabe41,#c6c040,#c5c041,#b4c54e,#cbbe41,#c8bf40,#c7c040,#c8bf40,#cebc42,#d8b844,#e0b647,#dfb647,#deb647,#e4b549,#e4b549,#d9b844,#e4b549,#e9bb48,#d8b844,#e8b849,#cbbe41,#c6c040,#8bc87c,#74c2ab,#67b0ce,#5b96e7,#568bec,#517ff0,#4f76f1,#4c68f2,#4c65f2,#4c65f2)"></i>
<i style="top:135px;height:6px;background:linear-gradient(90deg,#c5c041,#c4c141,#c0c245,#c0c245,#c0c245,#c3c143,#c3c142,#c5c041,#c4c142,#c4c142,#c4c041,#c4c041,#c5c041,#c7c040,#c6c040,#c6c040,#ccbd41,#cabe41,#c6c040,#c5c041,#b4c54e,#cbbe41,#c8bf40,#c7c040,#c8bf40,#cebc42,#d8b844,#e0b647,#dfb647,#deb647,#e4b549,#e4b549,#d9b844,#e4b549,#e9bb48,#d8b844,#e8b849,#cbbe41,#c6c040,#8bc87c,#74c2ab,#67b0ce,#5b96e7,#568bec,#517ff0,#4f76f1,#4c68f2,#4c65f2,#4c65f2)"></i>
<i style="top:140px;height:6px;background:linear-gradient(90deg,#c6c040,#c6c040,#c3c143,#c3c143,#c4c141,#c6c040,#c6c040,#c6c040,#cdbd42,#cbbe41,#c8bf41,#c8bf40,#c7c040,#c8bf41,#c7c040,#c6c040,#ccbd41,#cabe41,#c6c040,#c5c041,#b4c54e,#cbbe41,#c8bf40,#c7c040,#c8bf40,#cebc42,#d8b844,#e0b647,#dfb647,#deb647,#e4b549,#e4b549,#d9b844,#e4b549,#e9bb48,#d8b844,#e8b849,#cbbe41,#c6c040,#8bc87c,#74c2ab,#67b0ce,#5b96e7,#568bec,#517ff0,#4f76f1,#4c68f2,#4c65f2,#4c65f2)"></i>
<i style="top:145px;height:6px;background:linear-gradient(90deg,#c6c040,#c6c040,#c4c142,#c6c040,#c8bf41,#c9bf41,#c8bf41,#cbbe41,#d7b844,#d1bb42,#cbbe41,#c9bf41,#c7bf40,#c8bf41,#c7c040,#c6c040,#ccbd41,#cabe41,#c6c040,#c5c041,#b4c54e,#cbbe41,#c8bf40,#c7c040,#c8bf40,#cebc42,#d8b844,#e0b647,#dfb647,#deb647,#e4b549,#e4b549,#d9b844,#e4b549,#e9bb48,#d8b844,#e8b849,#cbbe41,#c6c040,#8bc87c,#74c2ab,#67b0ce,#5b96e7,#568bec,#517ff0,#4f76f1,#4c68f2,#4c65f2,#4c65f2)"></i>
<i style="top:150px;height:6px;background:linear-gradient(90deg,#c6c040,#c6c040,#c5c040,#cfbc42,#d1bb42,#ccbe41,#cabe41,#cdbd42,#d8b844,#d3ba43,#ccbe41,#c9bf41,#c7bf40,#c8bf41,#c7c040,#c6c040,#ccbd41,#cabe41,#c6c040,#c5c041,#b4c54e,#cbbe41,#c8bf40,#c7c040,#c8bf40,#cebc42,#d8b844,#e0b647,#dfb647,#deb647,#e4b549,#e4b549,#d9b844,#e4b549,#e9bb48,#d8b844,#e8b849,#cbbe41,#c6c040,#8bc87c,#74c2ab,#67b0ce,#5b96e7,#568bec,#517ff0,#4f76f1,#4c68f2,#4c65f2,#4c65f2)"></i>
<i style="top:155px;height:6px;background:linear-gradient(90deg,#c6c040,#c5c040,#c7c040,#dfb647,#dab845,#cebc42,#cbbe41,#cebd42,#d8b844,#d3ba43,#ccbe41,#c9bf41,#c7bf40,#c8bf41,#c7c040,#c6c040,#ccbd41,#cabe41,#c6c040,#c5c041,#b4c54e,#cbbe41,#c8bf40,#c7c040,#c8bf40,#cebc42,#d8b844,#e0b647,#dfb647,#deb647,#e4b549,#e4b549,#d9b844,#e4b549,#e9bb48,#d8b844,#e8b849,#cbbe41,#c6c040,#8bc87c,#74c2ab,#67b0ce,#5b96e7,#568bec,#517ff0,#4f76f1,#4c68f2,#4c65f2,#4c65f2)"></i>
<i style="top:160px;height:6px;background:linear-gradient(90deg,#c6c040,#c5c041,#d5ba43,#e0b648,#dcb746,#cfbc42,#cbbe41,#cebd42,#d8b844,#d3ba43,#ccbe41,#c9bf41,#c7bf40,#c8bf41,#c7c040,#c6c040,#ccbd41,#cabe41,#c6c040,#c5c041,#b4c54e,#cbbe41,#c8bf40,#c7c040,#c8bf40,#cebc42,#d8b844,#e0b647,#dfb647,#deb647,#e4b549,#e4b549,#d9b844,#e4b549,#e9bb48,#d8b844,#e8b849,#cbbe41,#c6c040,#8bc87c,#74c2ab,#67b0ce,#5b96e7,#568bec,#517ff0,#4f76f1,#4c68f2,#4c65f2,#4c65f2)"></i>
<i style="top:165px;height:6px;background:linear-gradient(90deg,#c6c040,#c5c041,#e5b44a,#e1b548,#dcb746,#cfbc42,#cbbe41,#cebd42,#d8b844,#d3ba43,#ccbe41,#c9bf41,#c7bf40,#c8bf41,#c7c040,#c6c040,#ccbd41,#cabe41,#c6c040,#c5c041,#b4c54e,#cbbe41,#c8bf40,#c7c040,#c8bf40,#cebc42,#d8b844,#e0b647,#dfb647,#deb647,#e4b549,#e4b549,#d9b844,#e4b549,#e9bb48,#d8b844,#e8b849,#cbbe41,#c6c040,#8bc87c,#74c2ab,#67b0ce,#5b96e7,#568bec,#517ff0,#4f76f1,#4c68f2,#4c65f2,#4c65f2)"></i>
<i style="top:170px;height:6px;background:linear-gradient(90deg,#c6c040,#c5c041,#e8b849,#e1b548,#dcb746,#cfbc42,#cbbe41,#cebd42,#d8b844,#d3ba43,#ccbe41,#c9bf41,#c7bf40,#c8bf41,#c7c040,#c6c040,#ccbd41,#cabe41,#c6c040,#c5c041,#b4c54e,#cbbe41,#c8bf40,#c7c040,#c8bf40,#cebc42,#d8b844,#e0b647,#dfb647,#deb647,#e4b549,#e4b549,#d9b844,#e4b549,#e9bb48,#d8b844,#e8b849,#cbbe41,#c6c040,#8bc87c,#74c2ab,#67b0ce,#5b96e7,#568bec,#517ff0,#4f76f1,#4c68f2,#4c65f2,#4c65f2)"></i>
<i style="top:175px;height:6px;background:linear-gradient(90deg,#c6c040,#c5c041,#e8b849,#e1b548,#dcb746,#cfbc42,#cbbe41,#cebd42,#d8b844,#d3ba43,#ccbe41,#c9bf41,#c7bf40,#c8bf41,#c7c040,#c6c040,#ccbd41,#cabe41,#c6c040,#c5c041,#b4c54e,#cbbe41,#c8bf40,#c7c040,#c8bf40,#cebc42,#d8b844,#e0b647,#dfb647,#deb647,#e4b549,#e4b549,#d9b844,#e4b549,#e9bb48,#d8b844,#e8b849,#cbbe41,#c6c040,#8bc87c,#74c2ab,#67b0ce,#5b96e7,#568bec,#517ff0,#4f76f1,#4c68f2,#4c65f2,#4c65f2)"></i>
<i style="top:180px;height:6px;background:linear-gradient(90deg,#c6c040,#c5c041,#e8b849,#e1b548,#dcb746,#cfbc42,#cbbe41,#cebd42,#d8b844,#d3ba43,#ccbe41,#c9bf41,#c7bf40,#c8bf41,#c7c040,#c6c040,#ccbd41,#cabe41,#c6c040,#c5c041,#b4c54e,#cbbe41,#c8bf40,#c7c040,#c8bf40,#cebc42,#d8b844,#e0b647,#dfb647,#deb647,#e4b549,#e4b549,#d9b844,#e4b549,#e9bb48,#d8b844,#e8b849,#cbbe41,#c6c040,#8bc87c,#74c2ab,#67b0ce,#5b96e7,#568bec,#517ff0,#4f76f1,#4c68f2,#4c65f2,#4c65f2)"></i>
<i style="top:185px;height:6px;background:linear-gradient(90deg,#c6c040,#c5c041,#e8b849,#e1b548,#dcb746,#cfbc42,#cbbe41,#cebd42,#d8b844,#d3ba43,#ccbe41,#c9bf41,#c7bf40,#c8bf41,#c7c040,#c6c040,#ccbd41,#cabe41,#c6c040,#c5c041,#b4c54e,#cbbe41,#c8bf40,#c7c040,#c8bf40,#cebc42,#d8b844,#e0b647,#dfb647,#deb647,#e4b549,#e4b549,#d9b844,#e4b549,#e9bb48,#d8b844,#e8b849,#cbbe41,#c6c040,#8bc87c,#74c2ab,#67b0ce,#5b96e7,#568bec,#517ff0,#4f76f1,#4c68f2,#4c65f2,#4c65f2)"></i>
<i style="top:190px;height:6px;background:linear-gradient(90deg,#c6c040,#c5c041,#e8b849,#e1b548,#dcb746,#cfbc42,#cbbe41,#cebd42,#d8b844,#d3ba43,#ccbe41,#c9bf41,#c7bf40,#c8bf41,#c7c040,#c6c040,#ccbd41,#cabe41,#c6c040,#c5c041,#b4c54e,#cbbe41,#c8bf40,#c7c040,#c8bf40,#cebc42,#d8b844,#e0b647,#dfb647,#deb647,#e4b549,#e4b549,#d9b844,#e4b549,#e9bb48,#d8b844,#e8b849,#cbbe41,#c6c040,#8bc87c,#74c2ab,#67b0ce,#5b96e7,#568bec,#517ff0,#4f76f1,#4c68f2,#4c65f2,#4c65f2)"></i>
<i style="top:195px;height:6px;background:linear-gradient(90deg,#c6c040,#c5c041,#e8b849,#e1b548,#dcb746,#cfbc42,#cbbe41,#cebd42,#d8b844,#d3ba43,#ccbe41,#c9bf41,#c7bf40,#c8bf41,#c7c040,#c6c040,#ccbd41,#cabe41,#c6c040,#c5c041,#b4c54e,#cbbe41,#c8bf40,#c7c040,#c8bf40,#cebc42,#d8b844,#e0b647,#dfb647,#deb647,#e4b549,#e4b549,#d9b844,#e4b549,#e9bb48,#d8b844,#e8b849,#cbbe41,#c6c040,#8bc87c,#74c2ab,#67b0ce,#5b96e7,#568bec,#517ff0,#4f76f1,#4c68f2,#4c65f2,#4c65f2)"></i>
<i style="top:200px;height:6px;background:linear-gradient(90deg,#c6c040,#c5c041,#e8b849,#e1b548,#dcb746,#cfbc42,#cbbe41,#cebd42,#d8b844,#d3ba43,#ccbe41,#c9bf41,#c7bf40,#c8bf41,#c7c040,#c6c040,#ccbd41,#cabe41,#c6c040,#c5c041,#b4c54e,#cbbe41,#c8bf40,#c7c040,#c8bf40,#cebc42,#d8b844,#e0b647,#dfb647,#deb647,#e4b549,#e4b549,#d9b844,#e4b549,#e9bb48,#d8b844,#e8b849,#cbbe41,#c6c040,#8bc87c,#74c2ab,#67b0ce,#5b96e7,#568bec,#517ff0,#4f76f1,#4c68f2,#4c65f2,#4c65f2)"></i>
<i style="top:205px;height:6px;background:linear-gradient(90deg,#c6c040,#c5c041,#e8b849,#e1b548,#dcb746,#cfbc42,#cbbe41,#cebd42,#d8b844,#d3ba43,#ccbe41,#c9bf41,#c7bf40,#c8bf41,#c7c040,#c6c040,#ccbd41,#cabe41,#c6c040,#c5c041,#b4c54e,#cbbe41,#c8bf40,#c7c040,#c8bf40,#cebc42,#d8b844,#e0b647,#dfb647,#deb647,#e4b549,#e4b549,#d9b844,#e4b549,#e9bb48,#d8b844,#e8b849,#cbbe41,#c6c040,#8bc87c,#74c2ab,#67b0ce,#5b96e7,#568bec,#517ff0,#4f76f1,#4c68f2,#4c65f2,#4c65f2)"></i>
<i style="top:210px;height:6px;background:linear-gradient(90deg,#c6c040,#c5c041,#e8b849,#e1b548,#dcb746,#cfbc42,#cbbe41,#cebd42,#d8b844,#d3ba43,#ccbe41,#c9bf41,#c7bf40,#c8bf41,#c7c040,#c6c040,#ccbd41,#cabe41,#c6c040,#c5c041,#b4c54e,#cbbe41,#c8bf40,#c7c040,#c8bf40,#cebc42,#d8b844,#e0b647,#dfb647,#deb647,#e4b549,#e4b549,#d9b844,#e4b549,#e9bb48,#d8b844,#e8b849,#cbbe41,#c6c040,#8bc87c,#74c2ab,#67b0ce,#5b96e7,#568bec,#517ff0,#4f76f1,#4c68f2,#4c65f2,#4c65f2)"></i>
<i style="top:215px;height:6px;background:linear-gradient(90deg,#c6c040,#c5c041,#e8b849,#e1b548,#dcb746,#cfbc42,#cbbe41,#cebd42,#d8b844,#d3ba43,#ccbe41,#c9bf41,#c7bf40,#c8bf41,#c7c040,#c6c040,#ccbd41,#cabe41,#c6c040,#c5c041,#b4c54e,#cbbe41,#c8bf40,#c7c040,#c8bf40,#cebc42,#d8b844,#e0b647,#dfb647,#deb647,#e4b549,#e4b549,#d9b844,#e4b549,#e9bb48,#d8b844,#e8b849,#cbbe41,#c6c040,#8bc87c,#74c2ab,#67b0ce,#5b96e7,#568bec,#517ff0,#4f76f1,#4c68f2,#4c65f2,#4c65f2)"></i>
</div></div>
<div class="fo" style="left:73.6px;top:278.8px;width:562.9px;height:196.8px">
<div class="fi" style="left:-10px;top:-10px;width:582.9px;height:220px;filter:blur(2.5px)">
<i style="top:0px;height:6px;background:linear-gradient(90deg,#70bfb4,#70bfb4,#70bfb4,#70bfb4,#71c0b3,#72c0b0,#73c2ad,#74c2aa,#74c3aa,#74c3a9,#75c3a8,#75c4a6,#77c5a3,#79c69f,#7bc799,#7ec794,#7fc792,#81c88f,#82c88c,#84c889,#8bc87d,#9dc867,#a7c75c,#b1c651,#bac44a,#c1c244,#c8bf40,#cebc42,#d4ba43,#dbb745,#e3b549,#e8ba48,#eac047,#ecc546,#eccf45,#edd843,#ecd045,#e9bb48,#dbb745,#d0bc42,#c4c041,#6ab7c3,#5a94e8,#4952ec,#494ee9,#4741dd,#453dd7,#453dd7,#453dd7)"></i>
<i style="top:5px;height:6px;background:linear-gradient(90deg,#70bfb4,#70bfb4,#70bfb4,#70bfb4,#71c0b3,#72c0b0,#73c2ad,#74c2aa,#74c3aa,#74c3a9,#75c3a8,#75c4a6,#77c5a3,#79c69f,#7bc799,#7ec794,#7fc792,#81c88f,#82c88c,#84c889,#8bc87d,#9dc867,#a7c75c,#b1c651,#bac44a,#c1c244,#c8bf40,#cebc42,#d4ba43,#dbb745,#e3b549,#e8ba48,#eac047,#ecc546,#eccf45,#edd843,#ecd045,#e9bb48,#dbb745,#d0bc42,#c4c041,#6ab7c3,#5a94e8,#4952ec,#494ee9,#4741dd,#453dd7,#453dd7,#453dd7)"></i>
<i style="top:10px;height:6px;background:linear-gradient(90deg,#70bfb4,#70bfb4,#70bfb4,#70bfb4,#71bfb3,#72c0b0,#73c2ad,#74c2aa,#74c3aa,#74c3a9,#75c3a8,#75c4a6,#77c5a3,#79c69f,#7bc799,#7ec794,#7fc792,#81c88f,#82c88c,#84c889,#8bc87e,#9dc867,#a8c75c,#b2c651,#bac44a,#c1c244,#c8bf40,#cebc42,#d4ba43,#dbb745,#e3b549,#e8ba48,#eabf47,#ecc546,#eccf45,#edd843,#ecd045,#e9bb48,#dbb745,#cebc42,#c2c143,#6bb8c2,#5a94e8,#4953ed,#494ee9,#4741dd,#453dd7,#453dd7,#453dd7)"></i>
<i style="top:15px;height:6px;background:linear-gradient(90deg,#70bfb4,#70bfb4,#70bfb4,#70bfb4,#70bfb3,#72c0b0,#73c2ad,#74c3aa,#74c3aa,#74c3aa,#75c3a9,#75c4a7,#77c5a4,#78c69f,#7bc799,#7ec793,#7fc792,#80c88f,#82c88c,#84c889,#89c880,#9dc868,#a9c75a,#b3c650,#bac44a,#c1c244,#c8bf40,#cebc42,#d4ba43,#dab745,#e3b549,#e9bb48,#eabf47,#ecc446,#eccd45,#edd943,#eccf45,#e8ba49,#d9b845,#c9bf41,#b1c651,#6bb8c1,#5a95e7,#4a56ef,#494ee9,#4742de,#453dd7,#453dd7,#453dd7)"></i>
<i style="top:20px;height:6px;background:linear-gradient(90deg,#70bfb4,#70bfb4,#70bfb5,#70bfb5,#70bfb3,#71c0b0,#73c2ac,#74c3a9,#74c3aa,#74c3aa,#74c3a9,#75c3a7,#76c5a4,#78c6a0,#7bc79a,#7ec793,#7fc792,#80c88f,#82c88c,#84c889,#89c880,#9cc868,#aac758,#b4c54e,#bac44a,#c1c244,#c8bf40,#cfbc42,#d3ba43,#dab845,#e2b548,#e8bb48,#eabf47,#ecc346,#ecca45,#edd843,#eccd45,#e8b949,#d7b844,#c3c142,#a9c75a,#6dbbbc,#5b98e5,#4a58f0,#494ee9,#4742df,#453dd7,#453dd7,#453dd7)"></i>
<i style="top:25px;height:6px;background:linear-gradient(90deg,#70beb5,#70beb5,#6fbeb5,#70beb5,#70bfb4,#71c0b1,#73c2ac,#74c3a9,#74c3aa,#74c2aa,#74c3aa,#75c3a8,#76c4a5,#78c6a1,#7bc79b,#7ec794,#7fc793,#80c890,#82c88c,#84c888,#8ac87e,#9dc868,#abc758,#b6c54d,#bac44a,#c0c244,#c8bf40,#cfbc42,#d2bb43,#d9b844,#e1b548,#e8b949,#eabe48,#ebc147,#ecc646,#eccf45,#ecc945,#e7b749,#d6b943,#bdc347,#a8c75b,#76c5a4,#5c9ae4,#4a58f0,#494ee9,#4742df,#453dd7,#453dd7,#453dd7)"></i>
<i style="top:30px;height:6px;background:linear-gradient(90deg,#6fbeb6,#6fbeb6,#6fbeb6,#6fbeb6,#70bfb5,#71c0b2,#73c1ad,#74c3a9,#74c2aa,#74c2ab,#74c2aa,#75c3a9,#76c4a6,#77c5a2,#7ac69c,#7dc797,#7ec794,#80c890,#82c88c,#85c887,#8cc87b,#9dc867,#abc758,#b6c54d,#bac44a,#c0c245,#c8bf40,#cfbc42,#d2bb43,#d9b844,#e0b647,#e6b54a,#e8ba49,#eabe47,#ecc546,#ecc846,#ecc346,#e7b64a,#d4ba43,#b7c54c,#a6c75d,#7bc79a,#5c9ae4,#4a58f0,#494ee9,#4742df,#453dd7,#453dd7,#453dd7)"></i>
<i style="top:35px;height:6px;background:linear-gradient(90deg,#6fbdb7,#6fbdb7,#6fbdb7,#6fbeb7,#6fbeb6,#70bfb3,#72c1ae,#74c2aa,#73c2ac,#73c2ac,#73c2ab,#74c3aa,#75c4a7,#77c5a3,#79c69e,#7cc799,#7dc795,#7fc791,#82c88c,#86c885,#8ec878,#9ec867,#aac758,#b4c54e,#b9c44a,#c0c245,#c7bf40,#cebc42,#d2bb43,#d8b844,#deb647,#e4b549,#e6b54a,#e8ba48,#ebc147,#ebc147,#e9bd48,#e7b54a,#d5b943,#b1c651,#a6c75d,#7bc79a,#5c9ae4,#4a58f0,#494ee9,#4742df,#453dd7,#453dd7,#453dd7)"></i>
<i style="top:40px;height:6px;background:linear-gradient(90deg,#6ebdb8,#6ebdb8,#6ebdb8,#6fbdb8,#6fbeb6,#70bfb5,#71c0b1,#73c1ad,#73c1ad,#73c1ad,#73c2ad,#74c2ab,#75c3a8,#76c4a5,#78c6a0,#7ac69b,#7dc797,#7fc792,#82c88d,#86c885,#8fc876,#9ec866,#a9c75a,#b2c650,#b9c44b,#c0c245,#c7c040,#cdbd42,#d3ba43,#d8b844,#ddb746,#e1b548,#e3b549,#e7b64a,#e8ba48,#e8b949,#e7b749,#e7b64a,#d8b844,#acc757,#a6c75d,#7bc79a,#5c9ae4,#4a58f0,#494ee9,#4742df,#453dd7,#453dd7,#453dd7)"></i>
<i style="top:45px;height:6px;background:linear-gradient(90deg,#6ebcba,#6ebcba,#6ebcb9,#6ebcb9,#6fbdb7,#6fbeb6,#70bfb3,#72c0b0,#72c1af,#72c1af,#73c1ae,#73c2ac,#74c3aa,#76c4a6,#77c5a2,#79c69d,#7cc798,#7ec793,#81c88e,#86c885,#90c876,#9fc866,#a8c75b,#b0c652,#b8c44b,#c0c245,#c7c040,#cdbd41,#d3ba43,#d8b844,#dcb746,#dfb647,#dfb647,#e3b549,#e5b449,#e3b549,#e3b549,#e7b54a,#deb646,#a7c75c,#a6c75d,#7bc79a,#5c9ae4,#4a58f0,#494ee9,#4742df,#453dd7,#453dd7,#453dd7)"></i>
<i style="top:50px;height:6px;background:linear-gradient(90deg,#6dbbbb,#6dbbbb,#6dbbbb,#6ebcba,#6ebdb8,#6fbdb7,#70bfb5,#70bfb3,#71c0b2,#71c0b1,#72c1af,#73c1ad,#73c2ab,#75c3a8,#76c5a4,#78c69f,#7bc79a,#7ec795,#80c890,#86c886,#90c876,#9ec866,#a7c75c,#afc654,#b7c54c,#c0c245,#c6c040,#ccbd41,#d2ba43,#d8b844,#dcb746,#ddb646,#deb647,#dfb647,#deb647,#dcb746,#dbb745,#e4b549,#ddb746,#a6c75d,#a6c75d,#7bc79a,#5c9ae4,#4a58f0,#494ee9,#4742df,#453dd7,#453dd7,#453dd7)"></i>
<i style="top:55px;height:6px;background:linear-gradient(90deg,#6dbbbc,#6dbbbc,#6dbbbc,#6dbbbb,#6ebcba,#6ebdb8,#6fbeb6,#70beb5,#70bfb4,#71c0b2,#71c0b0,#72c1ae,#73c2ad,#74c3aa,#76c4a6,#77c5a2,#7ac69c,#7dc796,#7fc792,#85c887,#8fc877,#9dc868,#a7c75d,#adc755,#b5c54d,#bfc245,#c6c040,#cbbe41,#d3ba43,#d9b844,#dbb745,#dcb746,#dcb746,#dab745,#d8b844,#d4ba43,#d1bb43,#d6b944,#c8bf40,#a5c75e,#a6c75d,#7bc79a,#5c9ae4,#4a58f0,#494ee9,#4742df,#453dd7,#453dd7,#453dd7)"></i>
<i style="top:60px;height:6px;background:linear-gradient(90deg,#6cbabd,#6cbabd,#6cbabd,#6dbbbc,#6dbbbb,#6ebcb9,#6ebdb8,#6fbeb6,#6fbeb5,#70bfb4,#71c0b2,#72c1ae,#72c1ae,#73c2ac,#75c3a8,#76c5a4,#79c69e,#7cc797,#7fc793,#84c889,#8dc879,#9bc869,#a6c75d,#acc757,#b4c54e,#bec246,#c6c040,#cabe41,#d3ba43,#dab745,#dab745,#dab845,#d9b844,#d6b944,#d2bb43,#ccbd41,#c6c040,#bec347,#a8c75b,#a5c75e,#a6c75d,#7bc79a,#5c9ae4,#4a58f0,#494ee9,#4742df,#453dd7,#453dd7,#453dd7)"></i>
<i style="top:65px;height:6px;background:linear-gradient(90deg,#6cbabe,#6cbabe,#6cbabe,#6cbabd,#6dbbbc,#6dbbbb,#6ebcb9,#6ebdb8,#6fbdb7,#6fbeb6,#70bfb4,#72c0b0,#72c1b0,#73c1ae,#74c2ab,#75c4a7,#78c6a1,#7bc799,#7ec794,#83c88b,#8bc87c,#99c86b,#a6c75e,#aac759,#b2c650,#bdc348,#c5c041,#cabe41,#d2bb43,#dbb745,#d9b845,#d7b944,#d5b943,#d2bb43,#ccbd41,#c4c142,#bac44a,#acc757,#a2c862,#a5c75e,#a6c75d,#7bc79a,#5c9ae4,#4a58f0,#494ee9,#4742df,#453dd7,#453dd7,#453dd7)"></i>
<i style="top:70px;height:6px;background:linear-gradient(90deg,#6cb9bf,#6cb9be,#6cbabe,#6cbabe,#6cbabd,#6dbbbc,#6dbbbb,#6ebcb9,#6ebdb8,#6fbdb7,#70beb5,#70bfb3,#71c0b2,#72c0b0,#73c1ad,#74c3a9,#76c5a4,#7ac69d,#7dc796,#81c88e,#89c880,#97c86e,#a5c75f,#a9c75a,#b0c652,#bac449,#c3c143,#c9bf41,#d1bb42,#dbb745,#d7b844,#d3ba43,#d1bb42,#cebc42,#c7c040,#bcc348,#b0c652,#a6c75d,#a2c862,#a5c75e,#a6c75d,#7bc79a,#5c9ae4,#4a58f0,#494ee9,#4742df,#453dd7,#453dd7,#453dd7)"></i>
<i style="top:75px;height:6px;background:linear-gradient(90deg,#6bb9bf,#6bb9bf,#6cb9bf,#6cb9bf,#6cb9be,#6cbabd,#6dbbbc,#6dbbbb,#6ebcba,#6ebdb8,#6fbdb7,#6fbeb5,#70bfb4,#71c0b2,#72c0b0,#73c2ad,#75c3a7,#78c6a0,#7bc79a,#7ec794,#86c885,#94c871,#a3c861,#a8c75b,#afc654,#b8c44c,#c0c245,#c8bf40,#cfbc42,#d6b944,#d3ba43,#cebc42,#cdbd42,#ccbd41,#c0c244,#b4c54f,#aac759,#a6c75d,#a2c862,#a5c75e,#a6c75d,#7bc79a,#5c9ae4,#4a58f0,#494ee9,#4742df,#453dd7,#453dd7,#453dd7)"></i>
<i style="top:80px;height:6px;background:linear-gradient(90deg,#6bb8c1,#6bb8c1,#6bb8c0,#6bb8c0,#6bb9c0,#6cb9bf,#6cbabd,#6dbbbc,#6dbbbb,#6ebcba,#6ebdb9,#6fbdb7,#6fbeb6,#70bfb5,#71bfb3,#72c0b0,#74c2ab,#77c5a3,#79c69d,#7bc799,#83c88b,#91c874,#a1c863,#a7c75d,#adc756,#b5c54e,#bec246,#c7c040,#ccbd41,#d0bb42,#cdbd42,#c9bf41,#cabe41,#cbbe41,#bac44a,#adc755,#a7c75d,#a6c75d,#a2c862,#a5c75e,#a6c75d,#7bc79a,#5c9ae4,#4a58f0,#494ee9,#4742df,#453dd7,#453dd7,#453dd7)"></i>
<i style="top:85px;height:6px;background:linear-gradient(90deg,#6ab7c2,#6ab7c2,#6ab7c2,#6bb8c1,#6bb8c1,#6bb8c0,#6cb9bf,#6cbabe,#6dbabc,#6dbbbb,#6ebcba,#6ebcb9,#6ebdb8,#6fbeb6,#70bfb5,#70bfb4,#72c1af,#76c4a6,#78c6a0,#79c69d,#7fc791,#8fc877,#9ec866,#a6c75d,#abc758,#b2c650,#bbc349,#c6c040,#c9bf41,#cabe41,#c7c040,#c2c143,#c4c142,#c4c041,#b2c650,#a8c75b,#a6c75e,#a6c75d,#a2c862,#a5c75e,#a6c75d,#7bc79a,#5c9ae4,#4a58f0,#494ee9,#4742df,#453dd7,#453dd7,#453dd7)"></i>
<i style="top:90px;height:6px;background:linear-gradient(90deg,#6ab6c4,#6ab6c4,#6ab7c3,#6ab7c3,#6ab7c2,#6bb8c1,#6bb8c0,#6cb9bf,#6cbabe,#6dbabd,#6dbbbc,#6dbbbb,#6ebcba,#6fbdb8,#6fbeb6,#6fbeb6,#70bfb3,#75c3a9,#78c6a1,#79c69e,#7ec793,#8dc879,#9cc868,#a5c75e,#a9c75a,#b0c653,#b8c44b,#c4c142,#c9bf41,#c5c041,#bfc245,#bac349,#b8c44b,#b4c54e,#abc758,#a6c75d,#a6c75e,#a6c75d,#a2c862,#a5c75e,#a6c75d,#7bc79a,#5c9ae4,#4a58f0,#494ee9,#4742df,#453dd7,#453dd7,#453dd7)"></i>
<i style="top:95px;height:6px;background:linear-gradient(90deg,#69b6c5,#69b6c5,#69b6c5,#69b6c4,#6ab6c4,#6ab7c3,#6bb8c2,#6bb8c0,#6cb9bf,#6cb9be,#6cbabe,#6cbabd,#6dbbbb,#6ebcb9,#6fbdb7,#6fbdb7,#70beb5,#74c2aa,#77c5a2,#79c69d,#7fc791,#8dc87a,#9ac86a,#a4c85f,#a7c75c,#adc755,#b5c54e,#c0c245,#c5c041,#bec246,#b8c44b,#b2c650,#adc756,#a8c75b,#a6c75e,#a6c75d,#a6c75e,#a6c75d,#a2c862,#a5c75e,#a6c75d,#7bc79a,#5c9ae4,#4a58f0,#494ee9,#4742df,#453dd7,#453dd7,#453dd7)"></i>
<i style="top:100px;height:6px;background:linear-gradient(90deg,#68b5c7,#68b5c7,#69b5c7,#69b5c6,#69b6c5,#6ab6c4,#6ab7c3,#6ab7c2,#6bb8c1,#6bb9bf,#6cb9bf,#6cb9bf,#6cbabd,#6ebcba,#6ebdb8,#6fbdb7,#6fbeb5,#74c2ab,#77c5a2,#7bc79b,#81c88e,#8cc87b,#99c86c,#a3c861,#a6c75d,#abc758,#b1c651,#b9c44a,#bdc348,#b7c44c,#b1c651,#acc757,#a6c75d,#a5c75f,#a4c860,#a6c75e,#a6c75e,#a6c75d,#a2c862,#a5c75e,#a6c75d,#7bc79a,#5c9ae4,#4a58f0,#494ee9,#4742df,#453dd7,#453dd7,#453dd7)"></i>
<i style="top:105px;height:6px;background:linear-gradient(90deg,#68b4c8,#68b4c8,#68b4c8,#68b4c8,#68b5c7,#69b5c6,#69b6c4,#6ab7c3,#6ab7c2,#6bb8c1,#6bb8c0,#6bb8c1,#6cb9bf,#6dbbbb,#6ebcb9,#6fbdb7,#70bfb5,#74c2ab,#77c6a1,#7cc798,#83c88b,#8cc87b,#97c86d,#a1c863,#a6c75d,#a8c75b,#adc755,#b3c650,#b4c54e,#b0c652,#abc757,#a7c75c,#a6c75e,#a4c860,#a3c860,#a6c75e,#a6c75e,#a6c75d,#a2c862,#a5c75e,#a6c75d,#7bc79a,#5c9ae4,#4a58f0,#494ee9,#4742df,#453dd7,#453dd7,#453dd7)"></i>
<i style="top:110px;height:6px;background:linear-gradient(90deg,#68b3ca,#68b3ca,#68b3ca,#68b3c9,#68b4c8,#68b4c7,#69b5c6,#69b6c5,#6ab7c3,#6ab7c2,#6bb8c1,#6bb8c1,#6bb9bf,#6dbbbc,#6ebcb9,#6fbdb7,#70bfb4,#74c2aa,#78c6a0,#7dc796,#84c889,#8cc87b,#96c86f,#9fc865,#a5c75e,#a7c75d,#aac759,#adc756,#aec655,#aac758,#a7c75c,#a6c75d,#a5c75e,#a4c860,#a3c860,#a6c75e,#a6c75e,#a6c75d,#a2c862,#a5c75e,#a6c75d,#7bc79a,#5c9ae4,#4a58f0,#494ee9,#4742df,#453dd7,#453dd7,#453dd7)"></i>
<i style="top:115px;height:6px;background:linear-gradient(90deg,#67b2cb,#67b2cb,#67b2cb,#67b2ca,#68b3ca,#68b4c9,#68b4c7,#69b5c6,#69b6c4,#6ab7c3,#6ab7c2,#6bb8c1,#6bb9c0,#6dbbbc,#6ebcb9,#6fbeb7,#71c0b2,#74c3aa,#78c6a0,#7ec795,#84c888,#8cc87b,#96c870,#9ec866,#a4c860,#a6c75d,#a7c75c,#a8c75b,#a8c75b,#a6c75d,#a6c75e,#a6c75e,#a5c75e,#a4c860,#a3c860,#a6c75e,#a6c75e,#a6c75d,#a2c862,#a5c75e,#a6c75d,#7bc79a,#5c9ae4,#4a58f0,#494ee9,#4742df,#453dd7,#453dd7,#453dd7)"></i>
<i style="top:120px;height:6px;background:linear-gradient(90deg,#67b1cc,#67b1cc,#67b1cc,#67b2cc,#67b2cb,#68b3ca,#68b4c8,#68b4c7,#69b5c5,#6ab6c4,#6ab7c2,#6bb8c1,#6bb9bf,#6dbabc,#6ebcb9,#6fbeb6,#71c0b2,#74c3a9,#78c69f,#7ec794,#85c887,#8cc87b,#95c870,#9dc867,#a3c861,#a5c75e,#a6c75e,#a6c75d,#a6c75e,#a6c75e,#a6c75e,#a5c75e,#a5c75e,#a4c860,#a3c860,#a6c75e,#a6c75e,#a6c75d,#a2c862,#a5c75e,#a6c75d,#7bc79a,#5c9ae4,#4a58f0,#494ee9,#4742df,#453dd7,#453dd7,#453dd7)"></i>
<i style="top:125px;height:6px;background:linear-gradient(90deg,#67b1cd,#67b1cd,#67b1cd,#67b1cd,#67b1cc,#67b2cb,#68b3ca,#68b4c8,#69b5c6,#69b6c4,#6ab7c3,#6bb8c1,#6bb9bf,#6dbabc,#6ebcb9,#6fbeb6,#71c0b1,#75c3a9,#79c69f,#7fc793,#85c887,#8cc87b,#95c871,#9cc868,#a2c862,#a5c75f,#a5c75e,#a6c75e,#a5c75f,#a5c75e,#a6c75e,#a5c75e,#a5c75e,#a4c860,#a3c860,#a6c75e,#a6c75e,#a6c75d,#a2c862,#a5c75e,#a6c75d,#7bc79a,#5c9ae4,#4a58f0,#494ee9,#4742df,#453dd7,#453dd7,#453dd7)"></i>
<i style="top:130px;height:6px;background:linear-gradient(90deg,#67b0ce,#67b0ce,#67b1cd,#67b1ce,#67b1cd,#67b1cd,#67b2cb,#68b4c8,#68b5c7,#69b6c5,#6ab7c3,#6bb8c1,#6cb9bf,#6dbabd,#6ebcba,#6fbeb6,#71c0b1,#75c3a8,#79c69f,#7fc792,#85c886,#8cc87b,#94c871,#9bc869,#a1c863,#a4c85f,#a5c75e,#a6c75e,#a5c75f,#a5c75e,#a6c75e,#a5c75e,#a5c75e,#a4c860,#a3c860,#a6c75e,#a6c75e,#a6c75d,#a2c862,#a5c75e,#a6c75d,#7bc79a,#5c9ae4,#4a58f0,#494ee9,#4742df,#453dd7,#453dd7,#453dd7)"></i>
<i style="top:135px;height:6px;background:linear-gradient(90deg,#66b0cf,#66b0cf,#66b0ce,#66b0ce,#66b0cf,#66b0cf,#67b1cd,#68b3c9,#68b4c8,#69b5c5,#6ab7c3,#6bb8c1,#6bb9bf,#6dbabd,#6ebcba,#6fbeb6,#71c0b1,#75c3a8,#78c6a0,#7fc792,#85c886,#8cc87b,#94c871,#9bc869,#a1c863,#a4c85f,#a5c75e,#a5c75e,#a5c75f,#a5c75e,#a6c75e,#a5c75e,#a5c75e,#a4c860,#a3c860,#a6c75e,#a6c75e,#a6c75d,#a2c862,#a5c75e,#a6c75d,#7bc79a,#5c9ae4,#4a58f0,#494ee9,#4742df,#453dd7,#453dd7,#453dd7)"></i>
<i style="top:140px;height:6px;background:linear-gradient(90deg,#66afd0,#66afd0,#66afd0,#66afd0,#66afd0,#66afd1,#66afcf,#67b2cb,#68b4c8,#69b5c6,#6ab6c4,#6bb8c2,#6bb9bf,#6cbabd,#6ebcba,#6fbeb7,#71c0b1,#75c3a8,#78c6a0,#7fc792,#85c886,#8cc87b,#94c871,#9bc869,#a1c863,#a4c85f,#a5c75e,#a5c75e,#a5c75f,#a5c75e,#a6c75e,#a5c75e,#a5c75e,#a4c860,#a3c860,#a6c75e,#a6c75e,#a6c75d,#a2c862,#a5c75e,#a6c75d,#7bc79a,#5c9ae4,#4a58f0,#494ee9,#4742df,#453dd7,#453dd7,#453dd7)"></i>
<i style="top:145px;height:6px;background:linear-gradient(90deg,#66aed1,#66aed1,#66aed1,#66afd1,#66aed1,#65aed2,#66aed1,#67b1cc,#68b3c9,#69b5c7,#6ab6c4,#6ab7c2,#6bb9bf,#6cbabd,#6ebcba,#6fbeb7,#71c0b1,#75c3a8,#78c6a0,#7fc792,#85c886,#8cc87b,#94c871,#9bc869,#a1c863,#a4c85f,#a5c75e,#a5c75e,#a5c75f,#a5c75e,#a6c75e,#a5c75e,#a5c75e,#a4c860,#a3c860,#a6c75e,#a6c75e,#a6c75d,#a2c862,#a5c75e,#a6c75d,#7bc79a,#5c9ae4,#4a58f0,#494ee9,#4742df,#453dd7,#453dd7,#453dd7)"></i>
<i style="top:150px;height:6px;background:linear-gradient(90deg,#65aed2,#65add2,#65add2,#66aed2,#66aed2,#65add3,#66aed2,#67b1cd,#68b3ca,#68b5c7,#69b6c4,#6ab7c2,#6bb9c0,#6cbabd,#6ebcba,#6fbeb7,#71c0b1,#75c3a8,#78c6a0,#7fc792,#85c886,#8cc87b,#94c871,#9bc869,#a1c863,#a4c85f,#a5c75e,#a5c75e,#a5c75f,#a5c75e,#a6c75e,#a5c75e,#a5c75e,#a4c860,#a3c860,#a6c75e,#a6c75e,#a6c75d,#a2c862,#a5c75e,#a6c75d,#7bc79a,#5c9ae4,#4a58f0,#494ee9,#4742df,#453dd7,#453dd7,#453dd7)"></i>
<i style="top:155px;height:6px;background:linear-gradient(90deg,#65add2,#65add4,#65add4,#65add3,#65add2,#65add3,#66aed2,#67b0ce,#67b3ca,#68b4c7,#69b6c5,#6ab7c2,#6bb9c0,#6cbabd,#6ebcba,#6fbeb7,#71c0b1,#75c3a8,#78c6a0,#7fc792,#85c886,#8cc87b,#94c871,#9bc869,#a1c863,#a4c85f,#a5c75e,#a5c75e,#a5c75f,#a5c75e,#a6c75e,#a5c75e,#a5c75e,#a4c860,#a3c860,#a6c75e,#a6c75e,#a6c75d,#a2c862,#a5c75e,#a6c75d,#7bc79a,#5c9ae4,#4a58f0,#494ee9,#4742df,#453dd7,#453dd7,#453dd7)"></i>
<i style="top:160px;height:6px;background:linear-gradient(90deg,#65add2,#65acd5,#65acd5,#65add4,#65add3,#65add3,#66aed2,#66b0ce,#67b3ca,#68b4c7,#69b6c5,#6ab7c2,#6bb9c0,#6cbabd,#6ebcba,#6fbeb7,#71c0b1,#75c3a8,#78c6a0,#7fc792,#85c886,#8cc87b,#94c871,#9bc869,#a1c863,#a4c85f,#a5c75e,#a5c75e,#a5c75f,#a5c75e,#a6c75e,#a5c75e,#a5c75e,#a4c860,#a3c860,#a6c75e,#a6c75e,#a6c75d,#a2c862,#a5c75e,#a6c75d,#7bc79a,#5c9ae4,#4a58f0,#494ee9,#4742df,#453dd7,#453dd7,#453dd7)"></i>
<i style="top:165px;height:6px;background:linear-gradient(90deg,#65add2,#64abd6,#64abd7,#65acd5,#65add3,#65add3,#66aed2,#66b0cf,#67b3ca,#68b4c7,#69b6c5,#6ab7c2,#6bb9c0,#6cbabd,#6ebcba,#6fbeb7,#71c0b1,#75c3a8,#78c6a0,#7fc792,#85c886,#8cc87b,#94c871,#9bc869,#a1c863,#a4c85f,#a5c75e,#a5c75e,#a5c75f,#a5c75e,#a6c75e,#a5c75e,#a5c75e,#a4c860,#a3c860,#a6c75e,#a6c75e,#a6c75d,#a2c862,#a5c75e,#a6c75d,#7bc79a,#5c9ae4,#4a58f0,#494ee9,#4742df,#453dd7,#453dd7,#453dd7)"></i>
<i style="top:170px;height:6px;background:linear-gradient(90deg,#65add2,#64abd6,#64aad7,#65acd5,#65add3,#65add3,#66aed2,#66b0cf,#67b3ca,#68b4c7,#69b6c5,#6ab7c2,#6bb9c0,#6cbabd,#6ebcba,#6fbeb7,#71c0b1,#75c3a8,#78c6a0,#7fc792,#85c886,#8cc87b,#94c871,#9bc869,#a1c863,#a4c85f,#a5c75e,#a5c75e,#a5c75f,#a5c75e,#a6c75e,#a5c75e,#a5c75e,#a4c860,#a3c860,#a6c75e,#a6c75e,#a6c75d,#a2c862,#a5c75e,#a6c75d,#7bc79a,#5c9ae4,#4a58f0,#494ee9,#4742df,#453dd7,#453dd7,#453dd7)"></i>
<i style="top:175px;height:6px;background:linear-gradient(90deg,#65add2,#64abd6,#64aad8,#65acd5,#65add3,#65add3,#66aed2,#66b0cf,#67b3ca,#68b4c7,#69b6c5,#6ab7c2,#6bb9c0,#6cbabd,#6ebcba,#6fbeb7,#71c0b1,#75c3a8,#78c6a0,#7fc792,#85c886,#8cc87b,#94c871,#9bc869,#a1c863,#a4c85f,#a5c75e,#a5c75e,#a5c75f,#a5c75e,#a6c75e,#a5c75e,#a5c75e,#a4c860,#a3c860,#a6c75e,#a6c75e,#a6c75d,#a2c862,#a5c75e,#a6c75d,#7bc79a,#5c9ae4,#4a58f0,#494ee9,#4742df,#453dd7,#453dd7,#453dd7)"></i>
<i style="top:180px;height:6px;background:linear-gradient(90deg,#65add2,#64abd6,#64aad8,#65acd5,#65add3,#65add3,#66aed2,#66b0cf,#67b3ca,#68b4c7,#69b6c5,#6ab7c2,#6bb9c0,#6cbabd,#6ebcba,#6fbeb7,#71c0b1,#75c3a8,#78c6a0,#7fc792,#85c886,#8cc87b,#94c871,#9bc869,#a1c863,#a4c85f,#a5c75e,#a5c75e,#a5c75f,#a5c75e,#a6c75e,#a5c75e,#a5c75e,#a4c860,#a3c860,#a6c75e,#a6c75e,#a6c75d,#a2c862,#a5c75e,#a6c75d,#7bc79a,#5c9ae4,#4a58f0,#494ee9,#4742df,#453dd7,#453dd7,#453dd7)"></i>
<i style="top:185px;height:6px;background:linear-gradient(90deg,#65add2,#64abd6,#64aad8,#65acd5,#65add3,#65add3,#66aed2,#66b0cf,#67b3ca,#68b4c7,#69b6c5,#6ab7c2,#6bb9c0,#6cbabd,#6ebcba,#6fbeb7,#71c0b1,#75c3a8,#78c6a0,#7fc792,#85c886,#8cc87b,#94c871,#9bc869,#a1c863,#a4c85f,#a5c75e,#a5c75e,#a5c75f,#a5c75e,#a6c75e,#a5c75e,#a5c75e,#a4c860,#a3c860,#a6c75e,#a6c75e,#a6c75d,#a2c862,#a5c75e,#a6c75d,#7bc79a,#5c9ae4,#4a58f0,#494ee9,#4742df,#453dd7,#453dd7,#453dd7)"></i>
<i style="top:190px;height:6px;background:linear-gradient(90deg,#65add2,#64abd6,#64aad8,#65acd5,#65add3,#65add3,#66aed2,#66b0cf,#67b3ca,#68b4c7,#69b6c5,#6ab7c2,#6bb9c0,#6cbabd,#6ebcba,#6fbeb7,#71c0b1,#75c3a8,#78c6a0,#7fc792,#85c886,#8cc87b,#94c871,#9bc869,#a1c863,#a4c85f,#a5c75e,#a5c75e,#a5c75f,#a5c75e,#a6c75e,#a5c75e,#a5c75e,#a4c860,#a3c860,#a6c75e,#a6c75e,#a6c75d,#a2c862,#a5c75e,#a6c75d,#7bc79a,#5c9ae4,#4a58f0,#494ee9,#4742df,#453dd7,#453dd7,#453dd7)"></i>
<i style="top:195px;height:6px;background:linear-gradient(90deg,#65add2,#64abd6,#64aad8,#65acd5,#65add3,#65add3,#66aed2,#66b0cf,#67b3ca,#68b4c7,#69b6c5,#6ab7c2,#6bb9c0,#6cbabd,#6ebcba,#6fbeb7,#71c0b1,#75c3a8,#78c6a0,#7fc792,#85c886,#8cc87b,#94c871,#9bc869,#a1c863,#a4c85f,#a5c75e,#a5c75e,#a5c75f,#a5c75e,#a6c75e,#a5c75e,#a5c75e,#a4c860,#a3c860,#a6c75e,#a6c75e,#a6c75d,#a2c862,#a5c75e,#a6c75d,#7bc79a,#5c9ae4,#4a58f0,#494ee9,#4742df,#453dd7,#453dd7,#453dd7)"></i>
<i style="top:200px;height:6px;background:linear-gradient(90deg,#65add2,#64abd6,#64aad8,#65acd5,#65add3,#65add3,#66aed2,#66b0cf,#67b3ca,#68b4c7,#69b6c5,#6ab7c2,#6bb9c0,#6cbabd,#6ebcba,#6fbeb7,#71c0b1,#75c3a8,#78c6a0,#7fc792,#85c886,#8cc87b,#94c871,#9bc869,#a1c863,#a4c85f,#a5c75e,#a5c75e,#a5c75f,#a5c75e,#a6c75e,#a5c75e,#a5c75e,#a4c860,#a3c860,#a6c75e,#a6c75e,#a6c75d,#a2c862,#a5c75e,#a6c75d,#7bc79a,#5c9ae4,#4a58f0,#494ee9,#4742df,#453dd7,#453dd7,#453dd7)"></i>
<i style="top:205px;height:6px;background:linear-gradient(90deg,#65add2,#64abd6,#64aad8,#65acd5,#65add3,#65add3,#66aed2,#66b0cf,#67b3ca,#68b4c7,#69b6c5,#6ab7c2,#6bb9c0,#6cbabd,#6ebcba,#6fbeb7,#71c0b1,#75c3a8,#78c6a0,#7fc792,#85c886,#8cc87b,#94c871,#9bc869,#a1c863,#a4c85f,#a5c75e,#a5c75e,#a5c75f,#a5c75e,#a6c75e,#a5c75e,#a5c75e,#a4c860,#a3c860,#a6c75e,#a6c75e,#a6c75d,#a2c862,#a5c75e,#a6c75d,#7bc79a,#5c9ae4,#4a58f0,#494ee9,#4742df,#453dd7,#453dd7,#453dd7)"></i>
<i style="top:210px;height:6px;background:linear-gradient(90deg,#65add2,#64abd6,#64aad8,#65acd5,#65add3,#65add3,#66aed2,#66b0cf,#67b3ca,#68b4c7,#69b6c5,#6ab7c2,#6bb9c0,#6cbabd,#6ebcba,#6fbeb7,#71c0b1,#75c3a8,#78c6a0,#7fc792,#85c886,#8cc87b,#94c871,#9bc869,#a1c863,#a4c85f,#a5c75e,#a5c75e,#a5c75f,#a5c75e,#a6c75e,#a5c75e,#a5c75e,#a4c860,#a3c860,#a6c75e,#a6c75e,#a6c75d,#a2c862,#a5c75e,#a6c75d,#7bc79a,#5c9ae4,#4a58f0,#494ee9,#4742df,#453dd7,#453dd7,#453dd7)"></i>
<i style="top:215px;height:6px;background:linear-gradient(90deg,#65add2,#64abd6,#64aad8,#65acd5,#65add3,#65add3,#66aed2,#66b0cf,#67b3ca,#68b4c7,#69b6c5,#6ab7c2,#6bb9c0,#6cbabd,#6ebcba,#6fbeb7,#71c0b1,#75c3a8,#78c6a0,#7fc792,#85c886,#8cc87b,#94c871,#9bc869,#a1c863,#a4c85f,#a5c75e,#a5c75e,#a5c75f,#a5c75e,#a6c75e,#a5c75e,#a5c75e,#a4c860,#a3c860,#a6c75e,#a6c75e,#a6c75d,#a2c862,#a5c75e,#a6c75d,#7bc79a,#5c9ae4,#4a58f0,#494ee9,#4742df,#453dd7,#453dd7,#453dd7)"></i>
</div></div>
<div class="fo" style="left:760.8px;top:278.8px;width:562.9px;height:196.8px">
<div class="fi" style="left:-10px;top:-10px;width:582.9px;height:220px;filter:blur(2.5px)">
<i style="top:0px;height:6px;background:linear-gradient(90deg,#dfb647,#dfb647,#dfb647,#dab745,#d5b943,#cebc42,#c8bf41,#c6c040,#c6c040,#bdc347,#b2c650,#a9c75a,#a1c863,#9ac86b,#91c875,#89c881,#82c88c,#7dc796,#78c69f,#75c3a8,#72c0b0,#70bfb3,#6fbeb6,#6cb9bf,#6ab7c2,#6cb9bf,#6dbbbb,#71c0b0,#73c1ad,#68b4c8,#5d9de2,#5b98e5,#578deb,#5487ee,#5283f0,#507af1,#5079f1,#5384ef,#5384ef,#517ff0,#4c68f2,#4b62f1,#4b65f1,#517ef0,#5a95e7,#5ea1df,#62a8da,#63a8da,#63a8da)"></i>
<i style="top:5px;height:6px;background:linear-gradient(90deg,#dfb647,#dfb647,#dfb647,#dab745,#d5b943,#cebc42,#c8bf41,#c6c040,#c6c040,#bdc347,#b2c650,#a9c75a,#a1c863,#9ac86b,#91c875,#89c881,#82c88c,#7dc796,#78c69f,#75c3a8,#72c0b0,#70bfb3,#6fbeb6,#6cb9bf,#6ab7c2,#6cb9bf,#6dbbbb,#71c0b0,#73c1ad,#68b4c8,#5d9de2,#5b98e5,#578deb,#5487ee,#5283f0,#507af1,#5079f1,#5384ef,#5384ef,#517ff0,#4c68f2,#4b62f1,#4b65f1,#517ef0,#5a95e7,#5ea1df,#62a8da,#63a8da,#63a8da)"></i>
<i style="top:10px;height:6px;background:linear-gradient(90deg,#deb647,#deb647,#deb647,#d9b845,#d5b943,#cebd42,#c8bf41,#c6c040,#c6c040,#bdc347,#b2c650,#a9c75a,#a1c863,#9ac86b,#91c875,#88c881,#82c88c,#7dc796,#78c69f,#75c3a8,#72c0b0,#70bfb4,#6fbeb7,#6bb9c0,#6ab7c2,#6cb9bf,#6dbbbb,#71c0b1,#72c1ae,#68b4c8,#5d9de2,#5b98e5,#578ceb,#5487ee,#5282f0,#5079f1,#4f78f1,#5282f0,#5282f0,#507bf1,#4c68f2,#4b62f1,#4b65f1,#517ef0,#5a95e7,#5ea1e0,#62a8da,#63a8da,#63a8da)"></i>
<i style="top:15px;height:6px;background:linear-gradient(90deg,#d7b844,#d7b844,#d8b844,#d8b844,#d5b943,#cdbd42,#c8bf40,#c6c040,#c5c041,#bdc347,#b2c650,#a9c75a,#a1c863,#9ac86b,#91c875,#88c882,#82c88d,#7dc796,#78c69f,#75c3a9,#71c0b1,#70bfb4,#6ebcb9,#6ab7c2,#69b6c4,#6bb9c0,#6dbabc,#70bfb4,#71c0b2,#67b1cd,#5d9de2,#5b97e6,#5589ed,#5486ee,#5282f0,#4f75f1,#4e70f1,#4f75f1,#4e73f1,#4d6df2,#4b64f1,#4b61f1,#4b64f1,#507bf1,#5a94e8,#5ea0e0,#62a8da,#63a8da,#63a8da)"></i>
<i style="top:20px;height:6px;background:linear-gradient(90deg,#cdbd42,#ccbd41,#cdbd42,#d8b844,#d5ba43,#ccbd41,#c7c040,#c6c040,#c3c143,#bdc348,#b2c650,#a8c75b,#a1c863,#9bc86a,#91c875,#88c882,#81c88e,#7dc796,#78c69f,#74c3a9,#71c0b1,#70bfb5,#6cbabd,#69b6c5,#68b4c8,#6ab7c3,#6bb8c0,#6ebcba,#6bb9c0,#64abd6,#5d9ee2,#5a95e8,#5283f0,#5384ef,#507bf1,#4d6ef2,#4c67f2,#4c66f2,#4b62f1,#4b5ef1,#4b60f1,#4b61f1,#4b64f1,#4f76f1,#5992e9,#5ea0e0,#62a8da,#63a8da,#63a8da)"></i>
<i style="top:25px;height:6px;background:linear-gradient(90deg,#c8bf40,#c8bf40,#c9bf41,#d5b943,#d3ba43,#cbbe41,#c6c040,#c5c041,#c1c144,#bdc348,#b1c651,#a7c75c,#a0c864,#9bc869,#91c875,#88c883,#80c891,#7dc795,#78c6a0,#74c3a9,#71c0b2,#6fbdb7,#6bb8c1,#68b3c9,#67b2cc,#68b3c9,#69b5c7,#69b6c5,#66afd1,#61a5dc,#5d9de2,#5992e9,#507af1,#4b62f1,#4d6cf2,#4c66f2,#4b5ef1,#4a59f0,#4a55ee,#4952ec,#4a5bf0,#4b61f1,#4b63f1,#4f76f1,#5992e9,#5ea0e0,#62a8da,#63a8da,#63a8da)"></i>
<i style="top:30px;height:6px;background:linear-gradient(90deg,#c6c040,#c6c040,#c7bf40,#cfbc42,#cfbc42,#c9bf41,#c6c040,#c3c142,#c1c244,#bcc348,#b0c652,#a7c75c,#a0c864,#9bc86a,#90c875,#87c883,#7fc791,#7dc796,#78c6a0,#74c3aa,#71bfb3,#6ebcba,#69b5c6,#66b0ce,#66afd0,#66b0cf,#67b1cd,#66b0ce,#64a9d8,#61a5dc,#5d9ce3,#5890ea,#507af1,#4a5cf0,#4b64f1,#4b5ff1,#4a55ee,#494de9,#494fea,#4950eb,#4a58f0,#4b60f1,#4b63f1,#4f76f1,#5992e9,#5ea0e0,#62a8da,#63a8da,#63a8da)"></i>
<i style="top:35px;height:6px;background:linear-gradient(90deg,#c6c040,#c6c040,#c7c040,#cabe41,#cbbe41,#c7bf40,#c5c041,#c2c143,#c0c245,#bac44a,#afc653,#a6c75d,#a0c864,#9ac86b,#90c876,#87c883,#80c890,#7dc796,#78c6a1,#74c2ab,#70bfb3,#6cbabd,#67b2cb,#65add3,#65acd6,#65acd5,#65add3,#65acd5,#62a7db,#60a3dd,#5c9be4,#588fea,#5282f0,#4d6ff2,#4b61f1,#4a58f0,#494ee9,#4846e4,#494ce8,#494fea,#4a55ee,#4b60f1,#4b63f1,#4f76f1,#5992e9,#5ea0e0,#62a8da,#63a8da,#63a8da)"></i>
<i style="top:40px;height:6px;background:linear-gradient(90deg,#c6c040,#c6c040,#c6c040,#c7c040,#c8bf40,#c6c040,#c4c142,#c0c244,#bdc347,#b7c44c,#aec654,#a6c75e,#9fc865,#99c86c,#8fc877,#87c883,#81c88f,#7cc798,#77c5a2,#73c2ac,#70bfb5,#6bb8c0,#66b0cf,#63a9d9,#63a8da,#63a8d9,#64a9d9,#63a8d9,#61a4dd,#5ea1e0,#5c99e5,#578eeb,#5384ef,#4f78f1,#4b60f1,#4953ec,#494be7,#4846e4,#494be7,#494eea,#4a54ed,#4b60f1,#4b63f1,#4f76f1,#5992e9,#5ea0e0,#62a8da,#63a8da,#63a8da)"></i>
<i style="top:45px;height:6px;background:linear-gradient(90deg,#c6c040,#c6c040,#c6c040,#c6c040,#c6c040,#c5c041,#c2c143,#bec246,#bbc349,#b5c54e,#adc756,#a5c75f,#9ec866,#97c86e,#8fc877,#87c883,#81c88e,#7cc798,#77c5a3,#73c2ad,#6fbeb5,#6ab7c3,#65aed2,#61a6db,#61a5dc,#61a5dc,#61a6db,#61a5dc,#5fa2de,#5d9ee1,#5b97e6,#578deb,#5383ef,#4f78f1,#4b60f1,#494ee9,#484ae6,#4847e5,#484ae7,#494de9,#4a54ed,#4b60f1,#4b63f1,#4f76f1,#5992e9,#5ea0e0,#62a8da,#63a8da,#63a8da)"></i>
<i style="top:50px;height:6px;background:linear-gradient(90deg,#c6c040,#c6c040,#c6c040,#c6c040,#c5c041,#c3c142,#c0c245,#bcc348,#b8c44b,#b2c650,#abc758,#a4c860,#9dc867,#96c86f,#8ec878,#87c883,#81c88e,#7bc799,#76c5a4,#72c1ae,#6fbdb7,#69b6c5,#65acd4,#61a5dc,#5fa2de,#5fa1df,#60a3de,#5fa2de,#5ea0e0,#5c9be3,#5a95e7,#568cec,#5283f0,#4f76f1,#4b60f1,#494de8,#484ae7,#4849e6,#494be7,#494de8,#4a54ed,#4b60f1,#4b63f1,#4f76f1,#5992e9,#5ea0e0,#62a8da,#63a8da,#63a8da)"></i>
<i style="top:55px;height:6px;background:linear-gradient(90deg,#c6c040,#c6c040,#c6c040,#c5c041,#c4c142,#c2c143,#bec246,#bac449,#b6c54d,#b0c652,#aac759,#a3c861,#9cc869,#95c870,#8ec879,#87c884,#81c88f,#7bc79a,#76c4a5,#72c1af,#6ebdb8,#69b5c6,#65acd5,#61a5dc,#5ea0e0,#5d9ee1,#5ea1e0,#5ea0e0,#5d9de2,#5c99e5,#5a93e8,#568aec,#5282f0,#4f76f1,#4b61f1,#494fea,#494be8,#494be7,#494be7,#494ce8,#4a54ed,#4b60f1,#4b63f1,#4f76f1,#5992e9,#5ea0e0,#62a8da,#63a8da,#63a8da)"></i>
<i style="top:60px;height:6px;background:linear-gradient(90deg,#c6c040,#c6c040,#c6c040,#c5c041,#c3c143,#c0c245,#bcc348,#b8c44b,#b3c64f,#aec654,#a8c75b,#a1c863,#9bc86a,#94c871,#8dc87a,#86c885,#80c88f,#7ac69b,#75c4a7,#71c0b1,#6ebcb9,#68b4c8,#65acd5,#61a5dc,#5e9fe1,#5d9de2,#5e9fe1,#5d9ee2,#5c9be4,#5b97e6,#5991e9,#5589ed,#5282f0,#4f75f1,#4b63f1,#4953ed,#494de9,#494ce8,#494ce8,#494ce8,#4a54ed,#4b60f1,#4b63f1,#4f76f1,#5992e9,#5ea0e0,#62a8da,#63a8da,#63a8da)"></i>
<i style="top:65px;height:6px;background:linear-gradient(90deg,#c5c040,#c5c040,#c6c040,#c5c041,#c2c143,#bec246,#bac349,#b6c54d,#b1c651,#adc756,#a7c75c,#a0c864,#9ac86b,#94c872,#8cc87b,#86c885,#80c891,#7ac69d,#75c3a8,#71c0b2,#6dbbbb,#68b4c8,#65acd4,#61a6db,#5ea0e0,#5d9de2,#5d9de2,#5c9be3,#5b98e5,#5a95e7,#588fea,#5588ed,#5282f0,#4f76f1,#4b65f1,#4a56ef,#494fea,#494ee9,#494ce8,#494ce8,#4a54ed,#4b60f1,#4b63f1,#4f76f1,#5992e9,#5ea0e0,#62a8da,#63a8da,#63a8da)"></i>
<i style="top:70px;height:6px;background:linear-gradient(90deg,#c5c041,#c5c041,#c6c040,#c4c041,#c0c244,#bdc347,#b9c44b,#b4c54e,#b0c653,#acc757,#a6c75e,#9fc866,#99c86c,#93c872,#8cc87b,#85c886,#7fc792,#79c69e,#74c3a9,#70bfb3,#6dbbbc,#68b4c9,#65add4,#62a6db,#5ea0e0,#5d9de2,#5d9ce3,#5c9ae4,#5b96e7,#5992e9,#578deb,#5488ee,#5282f0,#4f78f1,#4c68f2,#4a5af0,#494fea,#494eea,#494ce8,#494ce8,#4a54ed,#4b60f1,#4b63f1,#4f76f1,#5992e9,#5ea0e0,#62a8da,#63a8da,#63a8da)"></i>
<i style="top:75px;height:6px;background:linear-gradient(90deg,#c4c141,#c4c141,#c5c041,#c3c142,#bfc246,#bbc349,#b7c54c,#b2c650,#aec655,#abc758,#a4c85f,#9dc867,#97c86e,#93c872,#8bc87c,#85c887,#7ec793,#78c69f,#74c2ab,#70bfb4,#6cbabd,#68b3c9,#65add4,#62a6db,#5fa1df,#5d9de2,#5c9be3,#5b98e5,#5a94e8,#5890ea,#568cec,#5487ee,#5282f0,#507af1,#4c6bf2,#4b5ef1,#4952ec,#494fea,#494ce8,#494ce8,#4a54ed,#4b60f1,#4b63f1,#4f76f1,#5992e9,#5ea0e0,#62a8da,#63a8da,#63a8da)"></i>
<i style="top:80px;height:6px;background:linear-gradient(90deg,#c3c142,#c3c142,#c3c142,#c1c144,#bec347,#bac44a,#b5c54d,#b1c651,#aec655,#aac758,#a3c861,#9cc868,#97c86e,#93c873,#8bc87e,#84c889,#7ec795,#78c6a1,#73c2ac,#70bfb5,#6cbabe,#68b3c9,#65add3,#62a7db,#5fa2df,#5d9ee2,#5c9ae4,#5b97e6,#5991e9,#578deb,#568bec,#5487ee,#5282f0,#517df0,#4e70f1,#4b62f1,#4a56ef,#4950eb,#494ce8,#494ce8,#4a54ed,#4b60f1,#4b63f1,#4f76f1,#5992e9,#5ea0e0,#62a8da,#63a8da,#63a8da)"></i>
<i style="top:85px;height:6px;background:linear-gradient(90deg,#c2c143,#c2c143,#c2c144,#c0c245,#bcc348,#b8c44b,#b4c54f,#b0c653,#adc756,#a9c75a,#a2c862,#9bc86a,#97c86f,#92c874,#8ac87f,#83c88a,#7dc797,#77c5a2,#73c1ae,#70beb5,#6cb9be,#68b3ca,#65add3,#62a7da,#5fa2df,#5d9de2,#5c9ae4,#5b96e7,#588fea,#568bec,#568aec,#5487ee,#5283f0,#5280f0,#4f75f1,#4c66f2,#4a5af0,#4950eb,#494ce8,#494ce8,#4a54ed,#4b60f1,#4b63f1,#4f76f1,#5992e9,#5ea0e0,#62a8da,#63a8da,#63a8da)"></i>
<i style="top:90px;height:6px;background:linear-gradient(90deg,#c1c244,#c1c244,#c0c245,#bec246,#bbc349,#b7c54c,#b2c650,#aec654,#abc757,#a7c75c,#a0c864,#9ac86b,#95c870,#8fc876,#89c881,#82c88c,#7cc799,#77c5a4,#72c1ae,#6fbeb6,#6cb9bf,#68b3ca,#65add3,#62a7da,#5fa2df,#5d9de2,#5c99e4,#5a95e7,#578eeb,#568bec,#558aed,#5487ee,#5383ef,#5282f0,#507af1,#4c6af2,#4a5cf0,#4950eb,#494ce8,#494ce8,#4a54ed,#4b60f1,#4b63f1,#4f76f1,#5992e9,#5ea0e0,#62a8da,#63a8da,#63a8da)"></i>
<i style="top:95px;height:6px;background:linear-gradient(90deg,#c0c245,#c0c245,#bfc246,#bdc347,#b9c44a,#b5c54d,#b1c651,#adc756,#a9c75a,#a5c75f,#9ec866,#98c86d,#93c873,#8dc879,#87c883,#81c88e,#7ac69b,#76c4a5,#72c1af,#6fbeb6,#6cb9bf,#68b3ca,#65add3,#62a7da,#5fa2df,#5d9ce2,#5c99e5,#5a95e7,#588fea,#568bec,#558aed,#5487ee,#5384ef,#5282f0,#517ff0,#4d6ef2,#4a5cf0,#4950eb,#494ce8,#494ce8,#4a54ed,#4b60f1,#4b63f1,#4f76f1,#5992e9,#5ea0e0,#62a8da,#63a8da,#63a8da)"></i>
<i style="top:100px;height:6px;background:linear-gradient(90deg,#bfc246,#bfc246,#bec246,#bcc348,#b8c44b,#b4c54e,#b0c653,#abc757,#a7c75c,#a2c861,#9cc868,#96c86f,#91c875,#8cc87c,#86c885,#80c891,#79c69e,#76c4a6,#72c0b0,#6fbeb6,#6bb9bf,#68b3ca,#65add3,#62a7da,#5fa1df,#5d9ce3,#5b98e5,#5a95e7,#5890ea,#568cec,#568aec,#5588ed,#5385ef,#5283f0,#5282f0,#4e70f1,#4a5cf0,#4950eb,#494ce8,#494ce8,#4a54ed,#4b60f1,#4b63f1,#4f76f1,#5992e9,#5ea0e0,#62a8da,#63a8da,#63a8da)"></i>
<i style="top:105px;height:6px;background:linear-gradient(90deg,#bec246,#bec246,#bdc347,#bbc349,#b7c44c,#b3c64f,#aec654,#aac759,#a5c75e,#a0c864,#9ac86a,#94c871,#8ec878,#8ac87f,#85c887,#7fc793,#78c6a1,#76c4a6,#71c0b1,#6fbeb6,#6bb9c0,#68b3ca,#65add3,#62a7da,#5fa1df,#5c9be4,#5b98e5,#5a95e7,#5991e9,#578deb,#568bec,#5589ed,#5486ee,#5383ef,#5283f0,#4e70f1,#4a5cf0,#4950eb,#494ce8,#494ce8,#4a54ed,#4b60f1,#4b63f1,#4f76f1,#5992e9,#5ea0e0,#62a8da,#63a8da,#63a8da)"></i>
<i style="top:110px;height:6px;background:linear-gradient(90deg,#bdc347,#bdc347,#bdc348,#bac349,#b6c54d,#b1c651,#adc756,#a8c75b,#a4c860,#9ec866,#98c86c,#92c874,#8cc87b,#88c881,#84c889,#7ec794,#77c5a2,#76c4a6,#71c0b1,#6fbeb7,#6bb9bf,#68b3ca,#65add3,#62a7da,#5fa1df,#5c9ae4,#5b98e5,#5a95e7,#5991e9,#578eeb,#568bec,#5589ed,#5486ee,#5384ef,#5283f0,#4e70f1,#4a5cf0,#4950eb,#494ce8,#494ce8,#4a54ed,#4b60f1,#4b63f1,#4f76f1,#5992e9,#5ea0e0,#62a8da,#63a8da,#63a8da)"></i>
<i style="top:115px;height:6px;background:linear-gradient(90deg,#bdc347,#bdc347,#bcc348,#bac44a,#b5c54d,#b0c652,#acc757,#a7c75c,#a2c862,#9dc868,#97c86e,#90c876,#8ac87e,#87c883,#83c88a,#7dc795,#77c6a1,#75c4a6,#72c0b0,#6fbeb6,#6cb9bf,#68b3ca,#65add3,#62a7da,#5fa1df,#5c9be4,#5b98e5,#5b96e7,#5992e9,#578eeb,#568bec,#568aec,#5487ee,#5384ef,#5283f0,#4e70f1,#4a5cf0,#4950eb,#494ce8,#494ce8,#4a54ed,#4b60f1,#4b63f1,#4f76f1,#5992e9,#5ea0e0,#62a8da,#63a8da,#63a8da)"></i>
<i style="top:120px;height:6px;background:linear-gradient(90deg,#bcc348,#bcc348,#bcc348,#bac44a,#b4c54e,#afc653,#aac759,#a5c75e,#a0c864,#9bc86a,#95c870,#8ec878,#88c882,#86c885,#83c88b,#7dc795,#78c6a0,#75c4a7,#72c1af,#6fbeb6,#6cb9bf,#68b3c9,#65add3,#63a8da,#5fa2df,#5d9ce3,#5c99e5,#5b96e7,#5993e9,#588fea,#568bec,#568aec,#5487ee,#5384ef,#5283f0,#4e70f1,#4a5cf0,#4950eb,#494ce8,#494ce8,#4a54ed,#4b60f1,#4b63f1,#4f76f1,#5992e9,#5ea0e0,#62a8da,#63a8da,#63a8da)"></i>
<i style="top:125px;height:6px;background:linear-gradient(90deg,#bbc348,#bbc348,#bcc348,#bac44a,#b4c64f,#aec654,#a9c75a,#a4c860,#9ec866,#9ac86b,#94c872,#8dc87a,#86c885,#86c886,#82c88b,#7ec795,#79c69f,#75c4a7,#72c1af,#6fbeb5,#6cbabe,#68b3c9,#65add2,#63a8da,#5fa2de,#5d9ce3,#5c99e5,#5b96e7,#5a93e8,#588fea,#568bec,#568aec,#5487ee,#5384ef,#5283f0,#4e70f1,#4a5cf0,#4950eb,#494ce8,#494ce8,#4a54ed,#4b60f1,#4b63f1,#4f76f1,#5992e9,#5ea0e0,#62a8da,#63a8da,#63a8da)"></i>
<i style="top:130px;height:6px;background:linear-gradient(90deg,#bac349,#bbc349,#bcc348,#b9c44a,#b2c650,#adc756,#a8c75b,#a2c862,#9dc868,#98c86d,#93c873,#8cc87b,#86c885,#85c886,#82c88c,#7ec794,#79c69e,#75c4a7,#72c1af,#70bfb4,#6cbabd,#68b3c9,#65aed2,#63a8da,#5fa2de,#5d9ce2,#5c99e5,#5b96e6,#5a94e8,#588fea,#568bec,#568aec,#5487ee,#5384ef,#5283f0,#4e70f1,#4a5cf0,#4950eb,#494ce8,#494ce8,#4a54ed,#4b60f1,#4b63f1,#4f76f1,#5992e9,#5ea0e0,#62a8da,#63a8da,#63a8da)"></i>
<i style="top:135px;height:6px;background:linear-gradient(90deg,#b9c44a,#b9c44a,#bac44a,#b7c44c,#b1c651,#acc757,#a7c75d,#a1c863,#9bc86a,#97c86e,#92c873,#8cc87b,#87c883,#85c886,#82c88b,#7ec794,#79c69e,#75c4a7,#72c1af,#70bfb4,#6cbabd,#68b3c9,#65aed2,#63a8da,#60a3de,#5d9ce3,#5c99e5,#5b97e6,#5a94e8,#588fea,#568bec,#568aec,#5487ee,#5384ef,#5283f0,#4e70f1,#4a5cf0,#4950eb,#494ce8,#494ce8,#4a54ed,#4b60f1,#4b63f1,#4f76f1,#5992e9,#5ea0e0,#62a8da,#63a8da,#63a8da)"></i>
<i style="top:140px;height:6px;background:linear-gradient(90deg,#b7c44c,#b7c44c,#b7c44c,#b5c54e,#b0c653,#abc758,#a5c75e,#9fc865,#99c86c,#96c86f,#92c874,#8cc87b,#88c882,#85c886,#82c88b,#7ec793,#79c69e,#75c4a7,#72c1ae,#70bfb4,#6cbabd,#68b3c9,#65aed2,#63a8da,#60a3de,#5d9ce3,#5c99e5,#5b97e6,#5a94e8,#588fea,#568bec,#568aec,#5487ee,#5384ef,#5283f0,#4e70f1,#4a5cf0,#4950eb,#494ce8,#494ce8,#4a54ed,#4b60f1,#4b63f1,#4f76f1,#5992e9,#5ea0e0,#62a8da,#63a8da,#63a8da)"></i>
<i style="top:145px;height:6px;background:linear-gradient(90deg,#b6c54d,#b6c54d,#b5c54e,#b2c650,#aec654,#aac759,#a5c75f,#9ec866,#97c86e,#96c86f,#92c874,#8dc87a,#88c881,#86c886,#83c88b,#7ec793,#79c69e,#75c4a7,#72c1ae,#70bfb4,#6cbabd,#68b3c9,#65aed2,#63a8da,#60a3de,#5d9ce3,#5c99e5,#5b97e6,#5a94e8,#588fea,#568bec,#568aec,#5487ee,#5384ef,#5283f0,#4e70f1,#4a5cf0,#4950eb,#494ce8,#494ce8,#4a54ed,#4b60f1,#4b63f1,#4f76f1,#5992e9,#5ea0e0,#62a8da,#63a8da,#63a8da)"></i>
<i style="top:150px;height:6px;background:linear-gradient(90deg,#b4c54e,#b4c54f,#b2c650,#b0c653,#adc756,#a9c75a,#a4c860,#9ec867,#97c86e,#96c86f,#92c874,#8dc87a,#89c881,#86c886,#83c88b,#7ec793,#79c69e,#75c4a7,#72c1ae,#70bfb4,#6cbabd,#68b3c9,#65aed2,#63a8da,#60a3de,#5d9ce3,#5c99e5,#5b97e6,#5a94e8,#588fea,#568bec,#568aec,#5487ee,#5384ef,#5283f0,#4e70f1,#4a5cf0,#4950eb,#494ce8,#494ce8,#4a54ed,#4b60f1,#4b63f1,#4f76f1,#5992e9,#5ea0e0,#62a8da,#63a8da,#63a8da)"></i>
<i style="top:155px;height:6px;background:linear-gradient(90deg,#b4c54f,#b2c650,#b0c652,#adc755,#abc758,#a8c75b,#a4c860,#9ec867,#97c86e,#96c86f,#92c873,#8dc87a,#89c881,#86c886,#83c88b,#7ec793,#79c69e,#75c4a7,#72c1ae,#70bfb4,#6cbabd,#68b3c9,#65aed2,#63a8da,#60a3de,#5d9ce3,#5c99e5,#5b97e6,#5a94e8,#588fea,#568bec,#568aec,#5487ee,#5384ef,#5283f0,#4e70f1,#4a5cf0,#4950eb,#494ce8,#494ce8,#4a54ed,#4b60f1,#4b63f1,#4f76f1,#5992e9,#5ea0e0,#62a8da,#63a8da,#63a8da)"></i>
<i style="top:160px;height:6px;background:linear-gradient(90deg,#b4c54f,#b1c651,#aec654,#abc757,#aac759,#a8c75b,#a4c860,#9ec866,#98c86d,#96c86f,#92c873,#8dc87a,#89c881,#86c886,#83c88b,#7ec793,#79c69e,#75c4a7,#72c1ae,#70bfb4,#6cbabd,#68b3c9,#65aed2,#63a8da,#60a3de,#5d9ce3,#5c99e5,#5b97e6,#5a94e8,#588fea,#568bec,#568aec,#5487ee,#5384ef,#5283f0,#4e70f1,#4a5cf0,#4950eb,#494ce8,#494ce8,#4a54ed,#4b60f1,#4b63f1,#4f76f1,#5992e9,#5ea0e0,#62a8da,#63a8da,#63a8da)"></i>
<i style="top:165px;height:6px;background:linear-gradient(90deg,#b4c54f,#b0c652,#adc756,#aac759,#a9c75a,#a7c75c,#a4c860,#9ec866,#98c86d,#96c86f,#92c873,#8dc87a,#89c881,#86c886,#83c88b,#7ec793,#79c69e,#75c4a7,#72c1ae,#70bfb4,#6cbabd,#68b3c9,#65aed2,#63a8da,#60a3de,#5d9ce3,#5c99e5,#5b97e6,#5a94e8,#588fea,#568bec,#568aec,#5487ee,#5384ef,#5283f0,#4e70f1,#4a5cf0,#4950eb,#494ce8,#494ce8,#4a54ed,#4b60f1,#4b63f1,#4f76f1,#5992e9,#5ea0e0,#62a8da,#63a8da,#63a8da)"></i>
<i style="top:170px;height:6px;background:linear-gradient(90deg,#b4c54f,#b0c652,#acc757,#a9c75a,#a9c75a,#a7c75c,#a4c860,#9ec866,#98c86d,#96c86f,#92c873,#8dc87a,#89c881,#86c886,#83c88b,#7ec793,#79c69e,#75c4a7,#72c1ae,#70bfb4,#6cbabd,#68b3c9,#65aed2,#63a8da,#60a3de,#5d9ce3,#5c99e5,#5b97e6,#5a94e8,#588fea,#568bec,#568aec,#5487ee,#5384ef,#5283f0,#4e70f1,#4a5cf0,#4950eb,#494ce8,#494ce8,#4a54ed,#4b60f1,#4b63f1,#4f76f1,#5992e9,#5ea0e0,#62a8da,#63a8da,#63a8da)"></i>
<i style="top:175px;height:6px;background:linear-gradient(90deg,#b4c54f,#b0c652,#acc757,#a9c75a,#a9c75a,#a7c75c,#a4c860,#9ec866,#98c86d,#96c86f,#92c873,#8dc87a,#89c881,#86c886,#83c88b,#7ec793,#79c69e,#75c4a7,#72c1ae,#70bfb4,#6cbabd,#68b3c9,#65aed2,#63a8da,#60a3de,#5d9ce3,#5c99e5,#5b97e6,#5a94e8,#588fea,#568bec,#568aec,#5487ee,#5384ef,#5283f0,#4e70f1,#4a5cf0,#4950eb,#494ce8,#494ce8,#4a54ed,#4b60f1,#4b63f1,#4f76f1,#5992e9,#5ea0e0,#62a8da,#63a8da,#63a8da)"></i>
<i style="top:180px;height:6px;background:linear-gradient(90deg,#b4c54f,#b0c652,#acc757,#a9c75a,#a9c75a,#a7c75c,#a4c860,#9ec866,#98c86d,#96c86f,#92c873,#8dc87a,#89c881,#86c886,#83c88b,#7ec793,#79c69e,#75c4a7,#72c1ae,#70bfb4,#6cbabd,#68b3c9,#65aed2,#63a8da,#60a3de,#5d9ce3,#5c99e5,#5b97e6,#5a94e8,#588fea,#568bec,#568aec,#5487ee,#5384ef,#5283f0,#4e70f1,#4a5cf0,#4950eb,#494ce8,#494ce8,#4a54ed,#4b60f1,#4b63f1,#4f76f1,#5992e9,#5ea0e0,#62a8da,#63a8da,#63a8da)"></i>
<i style="top:185px;height:6px;background:linear-gradient(90deg,#b4c54f,#b0c652,#acc757,#a9c75a,#a9c75a,#a7c75c,#a4c860,#9ec866,#98c86d,#96c86f,#92c873,#8dc87a,#89c881,#86c886,#83c88b,#7ec793,#79c69e,#75c4a7,#72c1ae,#70bfb4,#6cbabd,#68b3c9,#65aed2,#63a8da,#60a3de,#5d9ce3,#5c99e5,#5b97e6,#5a94e8,#588fea,#568bec,#568aec,#5487ee,#5384ef,#5283f0,#4e70f1,#4a5cf0,#4950eb,#494ce8,#494ce8,#4a54ed,#4b60f1,#4b63f1,#4f76f1,#5992e9,#5ea0e0,#62a8da,#63a8da,#63a8da)"></i>
<i style="top:190px;height:6px;background:linear-gradient(90deg,#b4c54f,#b0c652,#acc757,#a9c75a,#a9c75a,#a7c75c,#a4c860,#9ec866,#98c86d,#96c86f,#92c873,#8dc87a,#89c881,#86c886,#83c88b,#7ec793,#79c69e,#75c4a7,#72c1ae,#70bfb4,#6cbabd,#68b3c9,#65aed2,#63a8da,#60a3de,#5d9ce3,#5c99e5,#5b97e6,#5a94e8,#588fea,#568bec,#568aec,#5487ee,#5384ef,#5283f0,#4e70f1,#4a5cf0,#4950eb,#494ce8,#494ce8,#4a54ed,#4b60f1,#4b63f1,#4f76f1,#5992e9,#5ea0e0,#62a8da,#63a8da,#63a8da)"></i>
<i style="top:195px;height:6px;background:linear-gradient(90deg,#b4c54f,#b0c652,#acc757,#a9c75a,#a9c75a,#a7c75c,#a4c860,#9ec866,#98c86d,#96c86f,#92c873,#8dc87a,#89c881,#86c886,#83c88b,#7ec793,#79c69e,#75c4a7,#72c1ae,#70bfb4,#6cbabd,#68b3c9,#65aed2,#63a8da,#60a3de,#5d9ce3,#5c99e5,#5b97e6,#5a94e8,#588fea,#568bec,#568aec,#5487ee,#5384ef,#5283f0,#4e70f1,#4a5cf0,#4950eb,#494ce8,#494ce8,#4a54ed,#4b60f1,#4b63f1,#4f76f1,#5992e9,#5ea0e0,#62a8da,#63a8da,#63a8da)"></i>
<i style="top:200px;height:6px;background:linear-gradient(90deg,#b4c54f,#b0c652,#acc757,#a9c75a,#a9c75a,#a7c75c,#a4c860,#9ec866,#98c86d,#96c86f,#92c873,#8dc87a,#89c881,#86c886,#83c88b,#7ec793,#79c69e,#75c4a7,#72c1ae,#70bfb4,#6cbabd,#68b3c9,#65aed2,#63a8da,#60a3de,#5d9ce3,#5c99e5,#5b97e6,#5a94e8,#588fea,#568bec,#568aec,#5487ee,#5384ef,#5283f0,#4e70f1,#4a5cf0,#4950eb,#494ce8,#494ce8,#4a54ed,#4b60f1,#4b63f1,#4f76f1,#5992e9,#5ea0e0,#62a8da,#63a8da,#63a8da)"></i>
<i style="top:205px;height:6px;background:linear-gradient(90deg,#b4c54f,#b0c652,#acc757,#a9c75a,#a9c75a,#a7c75c,#a4c860,#9ec866,#98c86d,#96c86f,#92c873,#8dc87a,#89c881,#86c886,#83c88b,#7ec793,#79c69e,#75c4a7,#72c1ae,#70bfb4,#6cbabd,#68b3c9,#65aed2,#63a8da,#60a3de,#5d9ce3,#5c99e5,#5b97e6,#5a94e8,#588fea,#568bec,#568aec,#5487ee,#5384ef,#5283f0,#4e70f1,#4a5cf0,#4950eb,#494ce8,#494ce8,#4a54ed,#4b60f1,#4b63f1,#4f76f1,#5992e9,#5ea0e0,#62a8da,#63a8da,#63a8da)"></i>
<i style="top:210px;height:6px;background:linear-gradient(90deg,#b4c54f,#b0c652,#acc757,#a9c75a,#a9c75a,#a7c75c,#a4c860,#9ec866,#98c86d,#96c86f,#92c873,#8dc87a,#89c881,#86c886,#83c88b,#7ec793,#79c69e,#75c4a7,#72c1ae,#70bfb4,#6cbabd,#68b3c9,#65aed2,#63a8da,#60a3de,#5d9ce3,#5c99e5,#5b97e6,#5a94e8,#588fea,#568bec,#568aec,#5487ee,#5384ef,#5283f0,#4e70f1,#4a5cf0,#4950eb,#494ce8,#494ce8,#4a54ed,#4b60f1,#4b63f1,#4f76f1,#5992e9,#5ea0e0,#62a8da,#63a8da,#63a8da)"></i>
<i style="top:215px;height:6px;background:linear-gradient(90deg,#b4c54f,#b0c652,#acc757,#a9c75a,#a9c75a,#a7c75c,#a4c860,#9ec866,#98c86d,#96c86f,#92c873,#8dc87a,#89c881,#86c886,#83c88b,#7ec793,#79c69e,#75c4a7,#72c1ae,#70bfb4,#6cbabd,#68b3c9,#65aed2,#63a8da,#60a3de,#5d9ce3,#5c99e5,#5b97e6,#5a94e8,#588fea,#568bec,#568aec,#5487ee,#5384ef,#5283f0,#4e70f1,#4a5cf0,#4950eb,#494ce8,#494ce8,#4a54ed,#4b60f1,#4b63f1,#4f76f1,#5992e9,#5ea0e0,#62a8da,#63a8da,#63a8da)"></i>
</div></div>
<div class="fo" style="left:73.6px;top:522.3px;width:562.9px;height:196.8px">
<div class="fi" style="left:-10px;top:-10px;width:582.9px;height:220px;filter:blur(2.5px)">
<i style="top:0px;height:6px;background:linear-gradient(90deg,#5c9ae4,#5c9ae4,#5b98e5,#5891ea,#5589ed,#5385ef,#5384ef,#5385ef,#5487ee,#568aec,#588fea,#5a93e8,#5b96e7,#5b98e5,#5c9ae4,#5c9ae4,#5c9ae4,#5b98e5,#5b96e6,#5a94e8,#5991e9,#578deb,#5588ed,#5384ef,#5283f0,#5282f0,#5282f0,#5282f0,#5283f0,#5383ef,#5384ef,#5384ef,#5383ef,#5283f0,#5282f0,#5282f0,#5588ed,#5a95e7,#60a3de,#64abd6,#78c6a0,#95c870,#a9c75a,#e0b647,#ebc047,#ecd144,#edd843,#edda43,#edda43)"></i>
<i style="top:5px;height:6px;background:linear-gradient(90deg,#5c9ae4,#5c9ae4,#5b98e5,#5891ea,#5589ed,#5385ef,#5384ef,#5385ef,#5487ee,#568aec,#588fea,#5a93e8,#5b96e7,#5b98e5,#5c9ae4,#5c9ae4,#5c9ae4,#5b98e5,#5b96e6,#5a94e8,#5991e9,#578deb,#5588ed,#5384ef,#5283f0,#5282f0,#5282f0,#5282f0,#5283f0,#5383ef,#5384ef,#5384ef,#5383ef,#5283f0,#5282f0,#5282f0,#5588ed,#5a95e7,#60a3de,#64abd6,#78c6a0,#95c870,#a9c75a,#e0b647,#ebc047,#ecd144,#edd843,#edda43,#edda43)"></i>
<i style="top:10px;height:6px;background:linear-gradient(90deg,#5c9ae4,#5c9ae4,#5b98e5,#5890ea,#5589ed,#5385ef,#5384ef,#5385ef,#5487ee,#568aec,#588fea,#5a93e8,#5b96e7,#5b98e5,#5c9ae4,#5c9ae4,#5c9ae4,#5b98e5,#5b96e6,#5a94e8,#5991e9,#578deb,#5488ee,#5384ef,#5283f0,#5282f0,#5282f0,#5282f0,#5282f0,#5282f0,#5282f0,#5282f0,#5282f0,#5282f0,#5282f0,#5282f0,#5487ee,#5a95e7,#60a3de,#64abd7,#78c69f,#94c872,#a9c75a,#e0b647,#ebc047,#ecd144,#edd843,#edda43,#edda43)"></i>
<i style="top:15px;height:6px;background:linear-gradient(90deg,#5c9ae4,#5c9ae4,#5b98e5,#5890ea,#5588ed,#5384ef,#5383ef,#5384ef,#5486ee,#568aec,#588fea,#5a93e8,#5a95e7,#5b98e5,#5c9ae4,#5c9be4,#5c9ae4,#5c99e5,#5b96e6,#5a94e8,#5992e9,#578deb,#5487ee,#5384ef,#5282f0,#5282f0,#5282f0,#5281f0,#517ef0,#507bf1,#5078f1,#5079f1,#507cf1,#517ef0,#5280f0,#5282f0,#5486ee,#5a94e8,#5fa2df,#64aad8,#78c69f,#93c873,#abc758,#e0b647,#ebc047,#ecd144,#edd843,#edda43,#edda43)"></i>
<i style="top:20px;height:6px;background:linear-gradient(90deg,#5c9ae4,#5c9ae4,#5b97e6,#588fea,#5487ee,#5283f0,#5283f0,#5384ef,#5486ee,#558aed,#588fea,#5a94e8,#5a95e7,#5b98e5,#5c9ae4,#5c9be3,#5c9ae4,#5c99e5,#5b96e6,#5a94e8,#5992e9,#578ceb,#5487ee,#5283f0,#5282f0,#5282f0,#5281f0,#517df0,#4f77f1,#4d70f2,#4c6af2,#4c6cf2,#4e72f1,#4f78f1,#517df0,#5281f0,#5384ef,#5992e9,#5ea0e0,#64abd7,#76c4a4,#91c875,#acc756,#e0b647,#ebc047,#ecd144,#edd843,#edda43,#edda43)"></i>
<i style="top:25px;height:6px;background:linear-gradient(90deg,#5b98e5,#5b98e5,#5b96e7,#578deb,#5385ef,#5282f0,#5283f0,#5283f0,#5385ef,#5589ed,#588fea,#5a94e8,#5a95e7,#5c99e5,#5c9be3,#5d9ce3,#5c9be3,#5c99e5,#5b97e6,#5a94e8,#5992e9,#578ceb,#5486ee,#5282f0,#5282f0,#5281f0,#517ef0,#5079f1,#4e70f1,#4c66f2,#4b5df1,#4b60f1,#4c68f2,#4e71f1,#5078f1,#517ef0,#5283f0,#5890ea,#5c9be3,#67b1cd,#76c4a5,#90c876,#acc756,#e0b647,#ebc047,#ecd144,#edd843,#edda43,#edda43)"></i>
<i style="top:30px;height:6px;background:linear-gradient(90deg,#5b96e6,#5b96e6,#5a93e8,#568bec,#5383ef,#5282f0,#5282f0,#5282f0,#5384ef,#5588ed,#588eea,#5a94e8,#5b96e7,#5c99e4,#5d9ce3,#5d9de2,#5d9ce3,#5c9ae4,#5b97e6,#5a94e8,#5992e9,#568cec,#5486ee,#5282f0,#5281f0,#517ff0,#507af1,#4e74f1,#4c69f2,#4b5df1,#4950ea,#4a55ee,#4b61f1,#4c6af2,#4e73f1,#507bf1,#5282f0,#588fea,#5b98e6,#6ab7c3,#74c3a9,#90c876,#acc756,#e0b647,#ebc047,#ecd144,#edd843,#edda43,#edda43)"></i>
<i style="top:35px;height:6px;background:linear-gradient(90deg,#5a94e8,#5a94e8,#5991e9,#5589ed,#5282f0,#5281f0,#5281f0,#5282f0,#5283f0,#5487ee,#578eeb,#5a93e8,#5b96e7,#5c9ae4,#5d9de2,#5d9ee1,#5d9de2,#5c9ae4,#5b97e6,#5a94e8,#5991e9,#568cec,#5486ee,#5282f0,#5180f0,#517cf0,#4f77f1,#4d6ff2,#4b64f1,#4a55ee,#4743e0,#494be8,#4a5af0,#4b65f1,#4d6ff2,#5078f1,#5281f0,#5890ea,#5c9ae4,#6ebdb9,#74c3aa,#90c876,#acc756,#e0b647,#ebc047,#ecd144,#edd843,#edda43,#edda43)"></i>
<i style="top:40px;height:6px;background:linear-gradient(90deg,#5992e9,#5992e9,#588fea,#5588ed,#5282f0,#517ff0,#517ef0,#5280f0,#5282f0,#5487ee,#578deb,#5992e9,#5b96e6,#5c9be3,#5e9fe1,#5ea0e0,#5d9ee1,#5c9be3,#5b97e6,#5a94e8,#5890ea,#568bec,#5486ee,#5282f0,#517ff0,#507af1,#4f74f1,#4c6bf2,#4b61f1,#4951eb,#463fda,#4847e4,#4a55ee,#4b61f1,#4c6af2,#4f75f1,#5180f0,#5a95e7,#61a6db,#70bfb4,#74c3aa,#90c876,#acc756,#e0b647,#ebc047,#ecd144,#edd843,#edda43,#edda43)"></i>
<i style="top:45px;height:6px;background:linear-gradient(90deg,#5890ea,#5890ea,#578deb,#5487ee,#5281f0,#507cf1,#507af1,#517ef0,#5281f0,#5487ee,#578deb,#5992e9,#5b97e6,#5d9ce2,#5fa1df,#5fa1df,#5e9fe1,#5c9be3,#5b97e6,#5a94e8,#5890ea,#568bec,#5486ee,#5282f0,#517ef0,#5079f1,#4e72f1,#4c69f2,#4b5ef1,#494fea,#4640dc,#4846e4,#4951ec,#4b5df1,#4c67f2,#4e73f1,#5180f0,#5c9be3,#66b0ce,#70bfb3,#74c3aa,#90c876,#acc756,#e0b647,#ebc047,#ecd144,#edd843,#edda43,#edda43)"></i>
<i style="top:50px;height:6px;background:linear-gradient(90deg,#588fea,#588fea,#578ceb,#5487ee,#5280f0,#5079f1,#4f76f1,#507bf1,#5281f0,#5487ee,#578ceb,#5991e9,#5b97e6,#5d9ee2,#60a3de,#60a4dd,#5ea1e0,#5d9ce2,#5b98e6,#5a93e8,#588fea,#568bec,#5486ee,#5281f0,#517df0,#4f77f1,#4d70f2,#4c67f2,#4a5cf0,#494fea,#4744e1,#4846e4,#4950eb,#4a5bf0,#4b64f1,#4e72f1,#5281f0,#5fa2df,#6bb9c0,#71c0b2,#74c3aa,#90c876,#acc756,#e0b647,#ebc047,#ecd144,#edd843,#edda43,#edda43)"></i>
<i style="top:55px;height:6px;background:linear-gradient(90deg,#588fea,#588fea,#568cec,#5487ee,#5280f0,#4f75f1,#4e70f1,#5079f1,#5281f0,#5487ee,#578ceb,#5890ea,#5b96e6,#5e9fe1,#61a6db,#62a6db,#5fa2df,#5d9de2,#5b98e6,#5992e9,#588fea,#568bec,#5486ee,#5281f0,#517cf0,#4f76f1,#4d6ef2,#4b65f1,#4a5bf0,#4950eb,#4847e5,#4849e6,#4951eb,#4a59f0,#4b61f1,#4e71f1,#5384ef,#64aad8,#6fbeb7,#71c0b2,#74c3aa,#90c876,#acc756,#e0b647,#ebc047,#ecd144,#edd843,#edda43,#edda43)"></i>
<i style="top:60px;height:6px;background:linear-gradient(90deg,#588fea,#588fea,#568cec,#5487ee,#5180f0,#4e72f1,#4c6bf2,#4f77f1,#5281f0,#5487ee,#578deb,#5890ea,#5b96e7,#5ea0e0,#63a8d9,#63a8da,#60a3de,#5d9ee1,#5b98e5,#5991e9,#588fea,#578ceb,#5486ee,#5280f0,#517cf0,#4f76f1,#4d6df2,#4b64f1,#4a5bf0,#4951eb,#484ae7,#494ce8,#4952ec,#4a58f0,#4b5ef1,#4e72f1,#5487ee,#68b4c9,#70bfb4,#71c0b2,#74c3aa,#90c876,#acc756,#e0b647,#ebc047,#ecd144,#edd843,#edda43,#edda43)"></i>
<i style="top:65px;height:6px;background:linear-gradient(90deg,#588fea,#588fea,#578ceb,#5487ee,#5280f0,#4e72f1,#4c6af2,#4f77f1,#5281f0,#5588ed,#578eeb,#588fea,#5b96e6,#5fa1df,#64a9d9,#63a9d9,#60a4dd,#5e9fe1,#5c99e5,#5890ea,#5890ea,#578eeb,#5487ee,#5281f0,#517df0,#4f75f1,#4d6cf2,#4b64f1,#4a5af0,#4951eb,#494ce8,#494ee9,#4a55ee,#4a58f0,#4b5ff1,#4f77f1,#578eeb,#6ebdb8,#70bfb4,#71c0b2,#74c3aa,#90c876,#acc756,#e0b647,#ebc047,#ecd144,#edd843,#edda43,#edda43)"></i>
<i style="top:70px;height:6px;background:linear-gradient(90deg,#5890ea,#5890ea,#578deb,#5488ee,#5282f0,#4e74f1,#4d6df2,#5079f1,#5282f0,#5589ed,#588fea,#5991e9,#5b98e5,#5fa2de,#63a9d9,#63a9d9,#61a4dc,#5ea0e0,#5c9ae4,#5993e9,#5992e9,#5890ea,#5589ed,#5282f0,#517ef0,#4f75f1,#4c6bf2,#4b63f1,#4a5af0,#4951eb,#494de8,#4950eb,#4a58f0,#4b5df1,#4c66f2,#5281f0,#62a7da,#70bfb4,#70bfb4,#71c0b2,#74c3aa,#90c876,#acc756,#e0b647,#ebc047,#ecd144,#edd843,#edda43,#edda43)"></i>
<i style="top:75px;height:6px;background:linear-gradient(90deg,#5992e9,#5992e9,#588fea,#5589ed,#5282f0,#4f77f1,#4e73f1,#507bf1,#5282f0,#568bec,#5992e9,#5a95e7,#5c9be3,#60a4dd,#63a9d9,#63a8d9,#61a5dc,#5fa1df,#5d9de2,#5b97e6,#5b96e7,#5a94e8,#578deb,#5283f0,#517ff0,#4f76f1,#4c6bf2,#4b64f1,#4a59f0,#4950eb,#494ce8,#4952ec,#4b5df1,#4c68f2,#4f78f1,#5a93e8,#6ebcb9,#70bfb4,#83c88a,#71c0b2,#74c3aa,#90c876,#acc756,#e0b647,#ebc047,#ecd144,#edd843,#edda43,#edda43)"></i>
<i style="top:80px;height:6px;background:linear-gradient(90deg,#5a94e8,#5a94e8,#5991e9,#568aec,#5282f0,#507bf1,#5079f1,#517ff0,#5383ef,#578deb,#5a95e7,#5c99e5,#5e9fe1,#61a5dc,#63a9d9,#63a8da,#61a5dc,#60a3de,#5e9fe1,#5c9be3,#5c99e5,#5b97e6,#5992e9,#5486ee,#5281f0,#4f77f1,#4c6af2,#4b64f1,#4a59f0,#494fea,#484ae7,#4953ec,#4b62f1,#4f78f1,#5385ef,#66aed1,#70bfb4,#70bfb4,#83c88a,#71c0b2,#74c3aa,#90c876,#acc756,#e0b647,#ebc047,#ecd144,#edd843,#edda43,#edda43)"></i>
<i style="top:85px;height:6px;background:linear-gradient(90deg,#5b96e6,#5b96e6,#5a94e8,#578deb,#5383ef,#517ff0,#517df0,#5281f0,#5385ef,#5991e9,#5b98e5,#5d9de2,#5fa2de,#62a7da,#64aad8,#63a8d9,#61a6db,#61a4dd,#5fa2df,#5e9fe1,#5d9de2,#5c9be3,#5b97e6,#568bec,#5282f0,#507bf1,#4c6af2,#4b65f1,#4a59f0,#494de9,#4847e5,#4a54ed,#4c68f2,#5281f0,#61a5dc,#6fbeb5,#70bfb4,#70bfb4,#83c88a,#71c0b2,#74c3aa,#90c876,#acc756,#e0b647,#ebc047,#ecd144,#edd843,#edda43,#edda43)"></i>
<i style="top:90px;height:6px;background:linear-gradient(90deg,#5c99e5,#5c99e5,#5b96e6,#5890ea,#5385ef,#5281f0,#5280f0,#5282f0,#5589ed,#5a95e8,#5c9be3,#5ea0e0,#61a5dc,#64aad8,#65abd6,#63a8d9,#62a6db,#62a6db,#61a4dd,#5fa2df,#5ea1df,#5ea0e0,#5d9ce3,#5a94e8,#5486ee,#5280f0,#4d6df2,#4c69f2,#4a59f0,#494de9,#4845e2,#4a57f0,#4f75f1,#5c99e5,#6ebcba,#71c0b2,#70bfb4,#70bfb4,#83c88a,#71c0b2,#74c3aa,#90c876,#acc756,#e0b647,#ebc047,#ecd144,#edd843,#edda43,#edda43)"></i>
<i style="top:95px;height:6px;background:linear-gradient(90deg,#5d9ce3,#5d9ce3,#5c99e4,#5a94e8,#5588ed,#5282f0,#5282f0,#5385ef,#578eeb,#5b98e6,#5d9ee1,#60a4dd,#63a8d9,#65add4,#66aed1,#63a8d9,#62a6db,#63a8da,#62a7da,#61a5dc,#60a4dd,#60a4dd,#5fa2df,#5c9be3,#5890ea,#5283f0,#5079f1,#4d70f2,#4a5af0,#4951eb,#4846e3,#4b62f1,#558aed,#70bfb4,#75c4a7,#71c0b1,#70bfb4,#70bfb4,#83c88a,#71c0b2,#74c3aa,#90c876,#acc756,#e0b647,#ebc047,#ecd144,#edd843,#edda43,#edda43)"></i>
<i style="top:100px;height:6px;background:linear-gradient(90deg,#5ea0e0,#5e9fe0,#5d9de2,#5b97e6,#578ceb,#5283f0,#5486ee,#568bec,#5a94e8,#5c9be3,#5fa1df,#62a7db,#65acd5,#66b0ce,#67b2cb,#63a9d9,#62a7db,#64abd7,#64aad8,#62a7da,#62a7da,#63a9d9,#63a8da,#60a3de,#5c9ae4,#568cec,#5282f0,#507bf1,#4b5ef1,#4b5ef1,#4a55ee,#517ff0,#88c882,#72c1ae,#77c6a1,#71c0b1,#70bfb4,#70bfb4,#83c88a,#71c0b2,#74c3aa,#90c876,#acc756,#e0b647,#ebc047,#ecd144,#edd843,#edda43,#edda43)"></i>
<i style="top:105px;height:6px;background:linear-gradient(90deg,#60a3de,#60a3de,#5ea1df,#5c9be3,#5a93e8,#568aec,#578deb,#5992e9,#5b98e5,#5e9fe1,#61a4dc,#64aad8,#66afd0,#68b4c9,#6ab7c2,#65acd5,#63a8da,#66afd1,#66aed1,#64aad8,#64abd7,#66aed2,#66aed2,#64aad7,#61a4dd,#5c9ae4,#568bec,#5385ef,#4f74f1,#4f78f1,#61a5dc,#7bc79a,#99c86c,#73c1ad,#77c6a1,#71c0b1,#70bfb4,#70bfb4,#83c88a,#71c0b2,#74c3aa,#90c876,#acc756,#e0b647,#ebc047,#ecd144,#edd843,#edda43,#edda43)"></i>
<i style="top:110px;height:6px;background:linear-gradient(90deg,#62a7db,#62a7db,#61a4dd,#5ea0e0,#5c99e5,#5a94e8,#5a95e7,#5b98e6,#5d9ce3,#5fa2df,#62a7da,#65add3,#67b2cb,#6ab7c2,#6ebcb9,#6ab6c4,#65acd5,#68b4c8,#68b3ca,#65aed2,#66afd0,#68b4c9,#69b5c7,#67b2cb,#65aed2,#62a6db,#5b98e5,#5d9de2,#64aad8,#70bfb4,#7ec794,#8dc87a,#99c86c,#73c1ad,#77c6a1,#71c0b1,#70bfb4,#70bfb4,#83c88a,#71c0b2,#74c3aa,#90c876,#acc756,#e0b647,#ebc047,#ecd144,#edd843,#edda43,#edda43)"></i>
<i style="top:115px;height:6px;background:linear-gradient(90deg,#64abd6,#64abd6,#63a8d9,#60a4dd,#5e9fe0,#5c9be3,#5c9ae4,#5d9ce3,#5e9fe1,#61a5dc,#64abd7,#67b0ce,#69b6c4,#6dbbbc,#70beb5,#70bfb4,#6bb8c0,#6dbbbc,#6cbabe,#68b4c8,#69b6c5,#6dbabc,#6dbbba,#6cb9be,#6ab7c3,#68b4c8,#63a9d9,#69b5c6,#70bfb4,#76c4a6,#83c88a,#8dc87a,#99c86c,#73c1ad,#77c6a1,#71c0b1,#70bfb4,#70bfb4,#83c88a,#71c0b2,#74c3aa,#90c876,#acc756,#e0b647,#ebc047,#ecd144,#edd843,#edda43,#edda43)"></i>
<i style="top:120px;height:6px;background:linear-gradient(90deg,#66b0ce,#66b0cf,#65add4,#63a8d9,#61a4dc,#5fa2df,#5e9fe0,#5e9fe1,#5fa2df,#63a8d9,#66aed2,#68b4c9,#6cbabd,#6fbeb7,#70bfb4,#70bfb3,#71c0b1,#71c0b1,#72c1ae,#7dc795,#78c6a0,#72c0b0,#71c0b2,#6fbeb6,#6fbeb6,#73c2ac,#8ec878,#75c4a6,#74c3a9,#79c69e,#83c88a,#8dc87a,#99c86c,#73c1ad,#77c6a1,#71c0b1,#70bfb4,#70bfb4,#83c88a,#71c0b2,#74c3aa,#90c876,#acc756,#e0b647,#ebc047,#ecd144,#edd843,#edda43,#edda43)"></i>
<i style="top:125px;height:6px;background:linear-gradient(90deg,#69b6c5,#69b5c6,#67b1cd,#65add4,#64a9d8,#62a7da,#60a4dd,#5ea0e0,#60a4dd,#65acd5,#67b1cc,#6ab7c2,#6fbdb7,#70bfb4,#70bfb3,#71c0b1,#74c2aa,#74c3a9,#78c6a0,#a9c75a,#91c874,#75c3a7,#72c1af,#71c0b2,#70bfb4,#7cc799,#b2c650,#83c88a,#75c4a7,#79c69e,#83c88a,#8dc87a,#99c86c,#73c1ad,#77c6a1,#71c0b1,#70bfb4,#70bfb4,#83c88a,#71c0b2,#74c3aa,#90c876,#acc756,#e0b647,#ebc047,#ecd144,#edd843,#edda43,#edda43)"></i>
<i style="top:130px;height:6px;background:linear-gradient(90deg,#6ebcba,#6dbbbc,#68b5c7,#67b1cd,#66aed1,#65add4,#64a9d8,#60a3dd,#63a8da,#67b1cd,#69b6c5,#6ebcba,#70bfb3,#71c0b0,#71c0b2,#72c0b0,#74c3a9,#75c3a8,#78c6a0,#a9c75a,#91c874,#75c3a7,#72c1af,#71c0b2,#70bfb4,#7cc799,#b2c650,#83c88a,#75c4a7,#79c69e,#83c88a,#8dc87a,#99c86c,#73c1ad,#77c6a1,#71c0b1,#70bfb4,#70bfb4,#83c88a,#71c0b2,#74c3aa,#90c876,#acc756,#e0b647,#ebc047,#ecd144,#edd843,#edda43,#edda43)"></i>
<i style="top:135px;height:6px;background:linear-gradient(90deg,#70bfb4,#6fbeb5,#6bb8c1,#68b4c7,#68b3ca,#67b2cb,#67b1cd,#65add2,#66b0cf,#6ab7c2,#6ebdb9,#7ec794,#81c88f,#74c3a9,#71c0b1,#72c0b0,#74c3a9,#75c3a8,#78c6a0,#a9c75a,#91c874,#75c3a7,#72c1af,#71c0b2,#70bfb4,#7cc799,#b2c650,#83c88a,#75c4a7,#79c69e,#83c88a,#8dc87a,#99c86c,#73c1ad,#77c6a1,#71c0b1,#70bfb4,#70bfb4,#83c88a,#71c0b2,#74c3aa,#90c876,#acc756,#e0b647,#ebc047,#ecd144,#edd843,#edda43,#edda43)"></i>
<i style="top:140px;height:6px;background:linear-gradient(90deg,#70bfb3,#70bfb4,#6dbbbc,#6bb8c0,#6bb8c1,#6bb8c0,#6cb9bf,#6cb9be,#76c4a6,#71c0b1,#78c6a0,#b2c650,#96c86f,#77c5a2,#71c0b1,#72c0b0,#74c3a9,#75c3a8,#78c6a0,#a9c75a,#91c874,#75c3a7,#72c1af,#71c0b2,#70bfb4,#7cc799,#b2c650,#83c88a,#75c4a7,#79c69e,#83c88a,#8dc87a,#99c86c,#73c1ad,#77c6a1,#71c0b1,#70bfb4,#70bfb4,#83c88a,#71c0b2,#74c3aa,#90c876,#acc756,#e0b647,#ebc047,#ecd144,#edd843,#edda43,#edda43)"></i>
<i style="top:145px;height:6px;background:linear-gradient(90deg,#70bfb3,#70bfb4,#6ebcb9,#6dbbbb,#6ebcba,#6ebdb8,#70bfb5,#73c2ad,#97c86e,#7ec793,#82c88d,#b2c650,#9dc867,#77c5a2,#71c0b1,#72c0b0,#74c3a9,#75c3a8,#78c6a0,#a9c75a,#91c874,#75c3a7,#72c1af,#71c0b2,#70bfb4,#7cc799,#b2c650,#83c88a,#75c4a7,#79c69e,#83c88a,#8dc87a,#99c86c,#73c1ad,#77c6a1,#71c0b1,#70bfb4,#70bfb4,#83c88a,#71c0b2,#74c3aa,#90c876,#acc756,#e0b647,#ebc047,#ecd144,#edd843,#edda43,#edda43)"></i>
<i style="top:150px;height:6px;background:linear-gradient(90deg,#70bfb3,#70bfb4,#6fbdb7,#6fbeb6,#70beb5,#70bfb4,#71c0b2,#78c6a0,#97c86e,#83c88a,#83c88b,#b2c650,#9dc867,#77c5a2,#71c0b1,#72c0b0,#74c3a9,#75c3a8,#78c6a0,#a9c75a,#91c874,#75c3a7,#72c1af,#71c0b2,#70bfb4,#7cc799,#b2c650,#83c88a,#75c4a7,#79c69e,#83c88a,#8dc87a,#99c86c,#73c1ad,#77c6a1,#71c0b1,#70bfb4,#70bfb4,#83c88a,#71c0b2,#74c3aa,#90c876,#acc756,#e0b647,#ebc047,#ecd144,#edd843,#edda43,#edda43)"></i>
<i style="top:155px;height:6px;background:linear-gradient(90deg,#70bfb3,#70bfb3,#6fbeb6,#70bfb4,#70bfb3,#71bfb3,#71c0b0,#79c69e,#98c86d,#83c88a,#83c88b,#b2c650,#9dc867,#77c5a2,#71c0b1,#72c0b0,#74c3a9,#75c3a8,#78c6a0,#a9c75a,#91c874,#75c3a7,#72c1af,#71c0b2,#70bfb4,#7cc799,#b2c650,#83c88a,#75c4a7,#79c69e,#83c88a,#8dc87a,#99c86c,#73c1ad,#77c6a1,#71c0b1,#70bfb4,#70bfb4,#83c88a,#71c0b2,#74c3aa,#90c876,#acc756,#e0b647,#ebc047,#ecd144,#edd843,#edda43,#edda43)"></i>
<i style="top:160px;height:6px;background:linear-gradient(90deg,#70bfb3,#70bfb3,#70bfb4,#74c2ab,#71c0b2,#71c0b2,#71c0b0,#79c69e,#98c86d,#83c88a,#83c88b,#b2c650,#9dc867,#77c5a2,#71c0b1,#72c0b0,#74c3a9,#75c3a8,#78c6a0,#a9c75a,#91c874,#75c3a7,#72c1af,#71c0b2,#70bfb4,#7cc799,#b2c650,#83c88a,#75c4a7,#79c69e,#83c88a,#8dc87a,#99c86c,#73c1ad,#77c6a1,#71c0b1,#70bfb4,#70bfb4,#83c88a,#71c0b2,#74c3aa,#90c876,#acc756,#e0b647,#ebc047,#ecd144,#edd843,#edda43,#edda43)"></i>
<i style="top:165px;height:6px;background:linear-gradient(90deg,#70bfb3,#70bfb3,#93c873,#78c6a0,#71c0b2,#71c0b2,#71c0b0,#79c69e,#98c86d,#83c88a,#83c88b,#b2c650,#9dc867,#77c5a2,#71c0b1,#72c0b0,#74c3a9,#75c3a8,#78c6a0,#a9c75a,#91c874,#75c3a7,#72c1af,#71c0b2,#70bfb4,#7cc799,#b2c650,#83c88a,#75c4a7,#79c69e,#83c88a,#8dc87a,#99c86c,#73c1ad,#77c6a1,#71c0b1,#70bfb4,#70bfb4,#83c88a,#71c0b2,#74c3aa,#90c876,#acc756,#e0b647,#ebc047,#ecd144,#edd843,#edda43,#edda43)"></i>
<i style="top:170px;height:6px;background:linear-gradient(90deg,#70bfb3,#70bfb3,#a0c864,#78c6a0,#71c0b2,#71c0b2,#71c0b0,#79c69e,#98c86d,#83c88a,#83c88b,#b2c650,#9dc867,#77c5a2,#71c0b1,#72c0b0,#74c3a9,#75c3a8,#78c6a0,#a9c75a,#91c874,#75c3a7,#72c1af,#71c0b2,#70bfb4,#7cc799,#b2c650,#83c88a,#75c4a7,#79c69e,#83c88a,#8dc87a,#99c86c,#73c1ad,#77c6a1,#71c0b1,#70bfb4,#70bfb4,#83c88a,#71c0b2,#74c3aa,#90c876,#acc756,#e0b647,#ebc047,#ecd144,#edd843,#edda43,#edda43)"></i>
<i style="top:175px;height:6px;background:linear-gradient(90deg,#70bfb3,#70bfb3,#a0c864,#78c6a0,#71c0b2,#71c0b2,#71c0b0,#79c69e,#98c86d,#83c88a,#83c88b,#b2c650,#9dc867,#77c5a2,#71c0b1,#72c0b0,#74c3a9,#75c3a8,#78c6a0,#a9c75a,#91c874,#75c3a7,#72c1af,#71c0b2,#70bfb4,#7cc799,#b2c650,#83c88a,#75c4a7,#79c69e,#83c88a,#8dc87a,#99c86c,#73c1ad,#77c6a1,#71c0b1,#70bfb4,#70bfb4,#83c88a,#71c0b2,#74c3aa,#90c876,#acc756,#e0b647,#ebc047,#ecd144,#edd843,#edda43,#edda43)"></i>
<i style="top:180px;height:6px;background:linear-gradient(90deg,#70bfb3,#70bfb3,#a0c864,#78c6a0,#71c0b2,#71c0b2,#71c0b0,#79c69e,#98c86d,#83c88a,#83c88b,#b2c650,#9dc867,#77c5a2,#71c0b1,#72c0b0,#74c3a9,#75c3a8,#78c6a0,#a9c75a,#91c874,#75c3a7,#72c1af,#71c0b2,#70bfb4,#7cc799,#b2c650,#83c88a,#75c4a7,#79c69e,#83c88a,#8dc87a,#99c86c,#73c1ad,#77c6a1,#71c0b1,#70bfb4,#70bfb4,#83c88a,#71c0b2,#74c3aa,#90c876,#acc756,#e0b647,#ebc047,#ecd144,#edd843,#edda43,#edda43)"></i>
<i style="top:185px;height:6px;background:linear-gradient(90deg,#70bfb3,#70bfb3,#a0c864,#78c6a0,#71c0b2,#71c0b2,#71c0b0,#79c69e,#98c86d,#83c88a,#83c88b,#b2c650,#9dc867,#77c5a2,#71c0b1,#72c0b0,#74c3a9,#75c3a8,#78c6a0,#a9c75a,#91c874,#75c3a7,#72c1af,#71c0b2,#70bfb4,#7cc799,#b2c650,#83c88a,#75c4a7,#79c69e,#83c88a,#8dc87a,#99c86c,#73c1ad,#77c6a1,#71c0b1,#70bfb4,#70bfb4,#83c88a,#71c0b2,#74c3aa,#90c876,#acc756,#e0b647,#ebc047,#ecd144,#edd843,#edda43,#edda43)"></i>
<i style="top:190px;height:6px;background:linear-gradient(90deg,#70bfb3,#70bfb3,#a0c864,#78c6a0,#71c0b2,#71c0b2,#71c0b0,#79c69e,#98c86d,#83c88a,#83c88b,#b2c650,#9dc867,#77c5a2,#71c0b1,#72c0b0,#74c3a9,#75c3a8,#78c6a0,#a9c75a,#91c874,#75c3a7,#72c1af,#71c0b2,#70bfb4,#7cc799,#b2c650,#83c88a,#75c4a7,#79c69e,#83c88a,#8dc87a,#99c86c,#73c1ad,#77c6a1,#71c0b1,#70bfb4,#70bfb4,#83c88a,#71c0b2,#74c3aa,#90c876,#acc756,#e0b647,#ebc047,#ecd144,#edd843,#edda43,#edda43)"></i>
<i style="top:195px;height:6px;background:linear-gradient(90deg,#70bfb3,#70bfb3,#a0c864,#78c6a0,#71c0b2,#71c0b2,#71c0b0,#79c69e,#98c86d,#83c88a,#83c88b,#b2c650,#9dc867,#77c5a2,#71c0b1,#72c0b0,#74c3a9,#75c3a8,#78c6a0,#a9c75a,#91c874,#75c3a7,#72c1af,#71c0b2,#70bfb4,#7cc799,#b2c650,#83c88a,#75c4a7,#79c69e,#83c88a,#8dc87a,#99c86c,#73c1ad,#77c6a1,#71c0b1,#70bfb4,#70bfb4,#83c88a,#71c0b2,#74c3aa,#90c876,#acc756,#e0b647,#ebc047,#ecd144,#edd843,#edda43,#edda43)"></i>
<i style="top:200px;height:6px;background:linear-gradient(90deg,#70bfb3,#70bfb3,#a0c864,#78c6a0,#71c0b2,#71c0b2,#71c0b0,#79c69e,#98c86d,#83c88a,#83c88b,#b2c650,#9dc867,#77c5a2,#71c0b1,#72c0b0,#74c3a9,#75c3a8,#78c6a0,#a9c75a,#91c874,#75c3a7,#72c1af,#71c0b2,#70bfb4,#7cc799,#b2c650,#83c88a,#75c4a7,#79c69e,#83c88a,#8dc87a,#99c86c,#73c1ad,#77c6a1,#71c0b1,#70bfb4,#70bfb4,#83c88a,#71c0b2,#74c3aa,#90c876,#acc756,#e0b647,#ebc047,#ecd144,#edd843,#edda43,#edda43)"></i>
<i style="top:205px;height:6px;background:linear-gradient(90deg,#70bfb3,#70bfb3,#a0c864,#78c6a0,#71c0b2,#71c0b2,#71c0b0,#79c69e,#98c86d,#83c88a,#83c88b,#b2c650,#9dc867,#77c5a2,#71c0b1,#72c0b0,#74c3a9,#75c3a8,#78c6a0,#a9c75a,#91c874,#75c3a7,#72c1af,#71c0b2,#70bfb4,#7cc799,#b2c650,#83c88a,#75c4a7,#79c69e,#83c88a,#8dc87a,#99c86c,#73c1ad,#77c6a1,#71c0b1,#70bfb4,#70bfb4,#83c88a,#71c0b2,#74c3aa,#90c876,#acc756,#e0b647,#ebc047,#ecd144,#edd843,#edda43,#edda43)"></i>
<i style="top:210px;height:6px;background:linear-gradient(90deg,#70bfb3,#70bfb3,#a0c864,#78c6a0,#71c0b2,#71c0b2,#71c0b0,#79c69e,#98c86d,#83c88a,#83c88b,#b2c650,#9dc867,#77c5a2,#71c0b1,#72c0b0,#74c3a9,#75c3a8,#78c6a0,#a9c75a,#91c874,#75c3a7,#72c1af,#71c0b2,#70bfb4,#7cc799,#b2c650,#83c88a,#75c4a7,#79c69e,#83c88a,#8dc87a,#99c86c,#73c1ad,#77c6a1,#71c0b1,#70bfb4,#70bfb4,#83c88a,#71c0b2,#74c3aa,#90c876,#acc756,#e0b647,#ebc047,#ecd144,#edd843,#edda43,#edda43)"></i>
<i style="top:215px;height:6px;background:linear-gradient(90deg,#70bfb3,#70bfb3,#a0c864,#78c6a0,#71c0b2,#71c0b2,#71c0b0,#79c69e,#98c86d,#83c88a,#83c88b,#b2c650,#9dc867,#77c5a2,#71c0b1,#72c0b0,#74c3a9,#75c3a8,#78c6a0,#a9c75a,#91c874,#75c3a7,#72c1af,#71c0b2,#70bfb4,#7cc799,#b2c650,#83c88a,#75c4a7,#79c69e,#83c88a,#8dc87a,#99c86c,#73c1ad,#77c6a1,#71c0b1,#70bfb4,#70bfb4,#83c88a,#71c0b2,#74c3aa,#90c876,#acc756,#e0b647,#ebc047,#ecd144,#edd843,#edda43,#edda43)"></i>
</div></div>
<div class="fo" style="left:760.8px;top:522.3px;width:562.9px;height:196.8px">
<div class="fi" style="left:-10px;top:-10px;width:582.9px;height:220px;filter:blur(2.5px)">
<i style="top:0px;height:6px;background:linear-gradient(90deg,#5992e9,#5992e9,#5c99e5,#5c99e5,#5c9ae4,#5d9de2,#5e9fe1,#64aad8,#6dbbbb,#70bfb3,#71bfb3,#71c0b1,#72c1af,#72c1b0,#72c1b0,#72c0b0,#72c0b0,#72c1ae,#73c2ab,#75c4a7,#78c6a0,#7cc798,#81c88d,#87c884,#8cc87b,#91c874,#99c86c,#a3c861,#acc757,#b2c650,#b9c44b,#c1c244,#c6c040,#ddb646,#dcb746,#d3ba43,#cabe41,#c4c142,#a9c75a,#9fc865,#99c86b,#92c874,#8ec878,#8bc87d,#86c885,#83c88b,#83c88b,#83c88b,#83c88b)"></i>
<i style="top:5px;height:6px;background:linear-gradient(90deg,#5992e9,#5992e9,#5c99e5,#5c99e5,#5c9ae4,#5d9de2,#5e9fe1,#64aad8,#6dbbbb,#70bfb3,#71bfb3,#71c0b1,#72c1af,#72c1b0,#72c1b0,#72c0b0,#72c0b0,#72c1ae,#73c2ab,#75c4a7,#78c6a0,#7cc798,#81c88d,#87c884,#8cc87b,#91c874,#99c86c,#a3c861,#acc757,#b2c650,#b9c44b,#c1c244,#c6c040,#ddb646,#dcb746,#d3ba43,#cabe41,#c4c142,#a9c75a,#9fc865,#99c86b,#92c874,#8ec878,#8bc87d,#86c885,#83c88b,#83c88b,#83c88b,#83c88b)"></i>
<i style="top:10px;height:6px;background:linear-gradient(90deg,#5991e9,#5991e9,#5b98e5,#5c99e5,#5c9ae4,#5d9de2,#5e9fe1,#64a9d9,#6cbabd,#70bfb4,#70bfb3,#71c0b1,#72c1af,#72c0b0,#72c0b0,#72c0b0,#72c0b0,#72c1af,#73c2ab,#75c4a7,#78c6a0,#7cc798,#81c88d,#87c884,#8cc87b,#91c875,#99c86c,#a3c861,#acc757,#b2c650,#b9c44b,#c0c245,#c6c040,#dfb647,#dcb746,#d3ba43,#cabe41,#c4c142,#a9c75a,#9fc865,#9ac86b,#92c874,#8ec878,#8bc87d,#86c885,#83c88b,#83c88b,#83c88b,#83c88b)"></i>
<i style="top:15px;height:6px;background:linear-gradient(90deg,#578deb,#578eeb,#5b96e6,#5b98e6,#5c99e5,#5d9ce2,#5e9fe1,#63a8da,#69b5c6,#6ebdb8,#70bfb4,#70bfb3,#71c0b0,#71c0b1,#71c0b0,#71c0b0,#71c0b0,#72c1af,#73c2ac,#75c3a7,#78c6a1,#7cc798,#81c88e,#87c884,#8cc87b,#91c875,#99c86c,#a3c861,#adc756,#b2c650,#b8c44b,#c0c245,#c7c040,#e1b648,#dab745,#d3ba43,#c9bf41,#c1c144,#a7c75c,#a0c864,#9ac86a,#92c873,#8ec878,#8bc87d,#86c885,#83c88a,#83c88b,#83c88b,#83c88b)"></i>
<i style="top:20px;height:6px;background:linear-gradient(90deg,#5589ed,#5589ed,#578eeb,#5a95e7,#5b98e5,#5c9be3,#5d9ee1,#61a6dc,#66b0cf,#6ab7c2,#6ebcb9,#70bfb5,#70bfb5,#71c0b2,#71c0b2,#71c0b1,#71c0b1,#72c1b0,#73c2ac,#75c3a8,#77c6a1,#7bc799,#81c88f,#87c884,#8dc87a,#90c876,#98c86d,#a2c861,#adc755,#b2c650,#b7c44c,#bfc246,#cabe41,#deb646,#d6b943,#d3ba43,#c7bf40,#bfc246,#a7c75c,#a0c864,#9bc869,#93c872,#8ec878,#8bc87d,#86c885,#83c88a,#83c88b,#83c88b,#83c88b)"></i>
<i style="top:25px;height:6px;background:linear-gradient(90deg,#5487ee,#5487ee,#5588ed,#5992e9,#5b96e6,#5c9ae4,#5d9de2,#60a3de,#64aad8,#67b1cd,#6ab6c4,#6cb9be,#6cbabd,#6ebdb8,#70bfb5,#71c0b2,#71c0b2,#71c0b1,#73c1ad,#74c3a9,#77c5a2,#7bc79a,#80c890,#86c885,#8dc87a,#8fc877,#98c86d,#a2c862,#adc755,#b2c650,#b6c54d,#bdc347,#c8bf40,#c9bf41,#d0bc42,#d2bb43,#c6c040,#bcc348,#a9c75a,#a1c863,#9dc868,#94c872,#8ec878,#8bc87d,#86c885,#83c88a,#83c88b,#83c88b,#83c88b)"></i>
<i style="top:30px;height:6px;background:linear-gradient(90deg,#5486ee,#5486ee,#5588ed,#588fea,#5a95e8,#5b98e5,#5c9be3,#5ea0e0,#60a4dd,#64aad8,#66b0ce,#67b3ca,#68b3ca,#6ab7c3,#6dbbbb,#6fbeb5,#70bfb4,#71c0b2,#72c1af,#74c2aa,#77c5a4,#7ac69c,#7fc791,#86c886,#8cc87b,#8fc877,#97c86e,#a1c863,#acc757,#b2c651,#b4c54e,#bbc349,#c3c142,#c4c141,#c9bf41,#ccbd41,#c4c141,#b9c44a,#abc758,#a3c860,#9ec866,#94c872,#8ec878,#8bc87d,#86c885,#83c88a,#83c88b,#83c88b,#83c88b)"></i>
<i style="top:35px;height:6px;background:linear-gradient(90deg,#5486ee,#5486ee,#5487ee,#578deb,#5993e9,#5b96e7,#5c99e5,#5d9ce3,#5d9ee1,#60a4dd,#64abd7,#65add4,#65abd6,#66b0ce,#6ab7c3,#6dbbbb,#6fbdb7,#70bfb3,#72c0b0,#73c2ac,#76c4a5,#79c69e,#7fc793,#85c887,#8bc87d,#8fc877,#96c86f,#9fc865,#aac759,#afc653,#b2c650,#b8c44b,#bfc246,#c2c144,#c5c040,#c6c040,#c0c245,#b6c54d,#adc756,#a6c75e,#9fc866,#94c872,#8ec878,#8bc87d,#86c885,#83c88a,#83c88b,#83c88b,#83c88b)"></i>
<i style="top:40px;height:6px;background:linear-gradient(90deg,#5385ef,#5385ef,#5487ee,#568bec,#5890ea,#5a95e8,#5b97e6,#5c99e5,#5b97e6,#5d9ee1,#61a6db,#62a7da,#60a4dd,#64aad8,#67b3ca,#6bb8c2,#6bb8c1,#6ebdb8,#71c0b2,#72c1af,#76c4a6,#78c6a0,#7ec795,#84c889,#89c880,#8ec878,#95c870,#9ec867,#a6c75d,#acc756,#b0c652,#b5c54d,#bbc349,#bfc246,#c3c142,#c4c142,#bcc348,#b3c64f,#aec655,#a8c75b,#9fc866,#94c872,#8ec878,#8bc87d,#86c885,#83c88a,#83c88b,#83c88b,#83c88b)"></i>
<i style="top:45px;height:6px;background:linear-gradient(90deg,#5384ef,#5384ef,#5486ee,#558aed,#578eeb,#5993e9,#5a95e7,#5b96e7,#5a94e8,#5c9ae4,#5fa2de,#60a4dd,#5ea0e0,#62a6db,#66b0cf,#68b4c8,#68b4c7,#6bb8c0,#70bfb4,#71c0b1,#75c4a7,#77c5a2,#7dc797,#83c88b,#88c882,#8dc87a,#94c872,#9cc869,#a4c860,#a9c75a,#adc755,#b2c650,#b7c44c,#bcc348,#bfc245,#c0c245,#b8c44b,#b2c650,#afc654,#a9c75a,#9fc866,#94c872,#8ec878,#8bc87d,#86c885,#83c88a,#83c88b,#83c88b,#83c88b)"></i>
<i style="top:50px;height:6px;background:linear-gradient(90deg,#5283f0,#5283f0,#5384ef,#5588ed,#568cec,#5890ea,#5a94e8,#5a95e8,#5a94e8,#5b98e5,#5e9fe0,#5fa1df,#5ea0e0,#61a5dc,#65add3,#67b2cb,#68b4c8,#6ab7c3,#6fbeb7,#70bfb4,#75c3a9,#77c5a3,#7cc798,#82c88c,#87c884,#8cc87b,#92c873,#9ac86b,#a1c863,#a6c75d,#abc758,#afc653,#b4c54e,#b8c44b,#bcc348,#bcc348,#b6c54d,#b2c650,#b0c653,#a9c759,#9fc866,#94c872,#8ec878,#8bc87d,#86c885,#83c88a,#83c88b,#83c88b,#83c88b)"></i>
<i style="top:55px;height:6px;background:linear-gradient(90deg,#5281f0,#5281f0,#5282f0,#5486ee,#568aec,#578eeb,#5992e9,#5a94e8,#5a94e8,#5b98e6,#5d9ee2,#5ea0e0,#5ea0e0,#61a5dc,#65acd6,#66b0ce,#68b3ca,#6ab6c4,#6ebcb9,#70bfb4,#73c1ad,#76c5a4,#7bc79a,#81c88e,#86c885,#8bc87d,#90c875,#98c86d,#9fc865,#a3c860,#a8c75b,#adc756,#b1c651,#b5c54d,#b8c44b,#b9c44b,#b5c54e,#b2c650,#b0c652,#a9c759,#9fc866,#94c872,#8ec878,#8bc87d,#86c885,#83c88a,#83c88b,#83c88b,#83c88b)"></i>
<i style="top:60px;height:6px;background:linear-gradient(90deg,#517ef0,#517ef0,#5180f0,#5384ef,#5588ed,#578ceb,#5890ea,#5993e9,#5a94e8,#5b98e5,#5d9de2,#5e9fe0,#5fa1df,#61a5dc,#64aad7,#66afd0,#67b2cb,#69b6c5,#6dbbbc,#6fbeb5,#71c0b1,#75c4a7,#7ac69c,#80c891,#85c887,#89c880,#8fc877,#96c86f,#9ec867,#a1c863,#a5c75e,#aac759,#aec654,#b2c650,#b5c54d,#b6c54d,#b4c54e,#b2c650,#b1c652,#a9c759,#9fc866,#94c872,#8ec878,#8bc87d,#86c885,#83c88a,#83c88b,#83c88b,#83c88b)"></i>
<i style="top:65px;height:6px;background:linear-gradient(90deg,#507bf1,#507cf1,#517df0,#5281f0,#5486ee,#568aec,#588fea,#5992e9,#5a95e8,#5b98e5,#5d9ce3,#5e9fe1,#5fa1df,#61a5dc,#64aad8,#66aed2,#67b1cc,#69b5c6,#6cbabe,#6fbeb7,#70bfb3,#74c3a9,#79c69e,#7fc792,#84c889,#88c882,#8dc87a,#93c872,#9cc868,#a0c864,#a3c861,#a7c75c,#acc757,#b0c652,#b3c64f,#b4c54e,#b3c64f,#b2c650,#b1c652,#a9c759,#9fc866,#94c872,#8ec878,#8bc87d,#86c885,#83c88a,#83c88b,#83c88b,#83c88b)"></i>
<i style="top:70px;height:6px;background:linear-gradient(90deg,#5079f1,#5079f1,#5079f1,#517ef0,#5384ef,#5589ed,#578deb,#5991e9,#5a95e8,#5b98e5,#5d9ce3,#5e9fe1,#5fa2df,#61a5dc,#63a9d9,#65add3,#67b0ce,#68b4c8,#6bb9c0,#6ebdb8,#70bfb4,#73c2ab,#78c6a0,#7ec794,#83c88a,#87c884,#8bc87d,#90c875,#99c86b,#9fc866,#a0c864,#a5c75f,#a9c75a,#aec655,#b1c652,#b2c650,#b2c650,#b2c650,#b1c652,#a9c759,#9fc866,#94c872,#8ec878,#8bc87d,#86c885,#83c88a,#83c88b,#83c88b,#83c88b)"></i>
<i style="top:75px;height:6px;background:linear-gradient(90deg,#4f76f1,#4f76f1,#4f75f1,#507bf1,#5283f0,#5487ee,#578ceb,#5991e9,#5a95e8,#5b98e5,#5c9be3,#5e9fe1,#5fa2df,#61a5dc,#63a9d9,#65acd5,#66afcf,#68b3c9,#6bb8c2,#6ebcba,#70bfb4,#73c1ad,#77c5a2,#7dc796,#82c88c,#85c887,#89c881,#8dc879,#95c871,#9ac86a,#9dc867,#a2c862,#a7c75c,#abc757,#afc654,#b1c651,#b2c650,#b2c650,#b1c652,#a9c759,#9fc866,#94c872,#8ec878,#8bc87d,#86c885,#83c88a,#83c88b,#83c88b,#83c88b)"></i>
<i style="top:80px;height:6px;background:linear-gradient(90deg,#4f74f1,#4f74f1,#4e72f1,#5079f1,#5282f0,#5486ee,#568cec,#5890ea,#5a94e8,#5b98e6,#5c9be3,#5e9fe1,#5fa2df,#61a5dc,#63a8da,#65abd6,#66aed1,#67b2cb,#6ab7c3,#6dbbbb,#70bfb4,#72c1af,#77c5a4,#7cc798,#82c88c,#84c889,#86c885,#8ac87f,#8fc876,#95c870,#9ac86b,#9fc865,#a5c75f,#aac759,#adc755,#b0c653,#b1c651,#b2c650,#b1c652,#a9c759,#9fc866,#94c872,#8ec878,#8bc87d,#86c885,#83c88a,#83c88b,#83c88b,#83c88b)"></i>
<i style="top:85px;height:6px;background:linear-gradient(90deg,#4e73f1,#4e73f1,#4e70f1,#507af1,#5282f0,#5486ee,#568bec,#5890ea,#5a94e8,#5b97e6,#5c9be3,#5e9fe1,#5fa2df,#61a5dc,#63a8da,#64abd7,#65add2,#67b1cd,#69b5c5,#6dbabc,#70beb5,#71c0b1,#76c4a6,#7bc799,#82c88d,#83c88b,#84c889,#86c885,#8bc87e,#90c876,#96c86f,#9dc868,#a3c861,#a8c75b,#acc757,#afc654,#b1c651,#b2c650,#b1c652,#a9c759,#9fc866,#94c872,#8ec878,#8bc87d,#86c885,#83c88a,#83c88b,#83c88b,#83c88b)"></i>
<i style="top:90px;height:6px;background:linear-gradient(90deg,#4e74f1,#4e74f1,#4e71f1,#517cf0,#5283f0,#5486ee,#568bec,#5890ea,#5a94e8,#5b97e6,#5c9be3,#5e9fe1,#5fa2de,#61a4dc,#62a7da,#64aad8,#65acd4,#66b0cf,#68b4c7,#6cbabe,#6fbeb6,#71c0b2,#75c3a7,#7ac69b,#81c88f,#82c88c,#81c88e,#82c88c,#86c886,#8bc87c,#92c873,#9ac86b,#a1c863,#a6c75d,#abc758,#aec655,#b1c651,#b2c650,#b1c652,#a9c759,#9fc866,#94c872,#8ec878,#8bc87d,#86c885,#83c88a,#83c88b,#83c88b,#83c88b)"></i>
<i style="top:95px;height:6px;background:linear-gradient(90deg,#4f75f1,#4f75f1,#4f75f1,#5180f0,#5283f0,#5486ee,#568aec,#588fea,#5a94e8,#5b97e6,#5c9be4,#5e9fe1,#5fa2de,#60a4dd,#62a7db,#64a9d9,#65abd6,#66aed1,#68b4c9,#6cb9bf,#6fbeb6,#70bfb3,#74c3a9,#79c69e,#7fc793,#80c890,#7ec794,#7dc796,#81c88f,#87c884,#8ec878,#97c86e,#9fc865,#a5c75e,#aac759,#aec655,#b1c651,#b2c650,#b1c652,#a9c759,#9fc866,#94c872,#8ec878,#8bc87d,#86c885,#83c88a,#83c88b,#83c88b,#83c88b)"></i>
<i style="top:100px;height:6px;background:linear-gradient(90deg,#4f77f1,#4f77f1,#5079f1,#5282f0,#5383ef,#5485ee,#558aed,#588fea,#5a94e8,#5b96e7,#5c9be4,#5e9fe1,#5fa2de,#60a4dd,#62a6db,#63a9d9,#64aad7,#65add4,#67b3ca,#6bb9bf,#6fbeb6,#70bfb4,#74c2ab,#78c6a0,#7cc797,#7dc795,#7bc799,#79c69f,#7bc79a,#82c88c,#8bc87d,#95c870,#9dc867,#a4c85f,#a9c75a,#aec655,#b1c651,#b2c650,#b1c652,#a9c759,#9fc866,#94c872,#8ec878,#8bc87d,#86c885,#83c88a,#83c88b,#83c88b,#83c88b)"></i>
<i style="top:105px;height:6px;background:linear-gradient(90deg,#5079f1,#5079f1,#507bf1,#5282f0,#5383ef,#5385ef,#5589ed,#588fea,#5a94e8,#5b96e7,#5c9ae4,#5e9fe1,#60a2de,#60a4dd,#62a6db,#63a8d9,#64aad8,#65acd5,#67b2cb,#6bb8c0,#6fbeb6,#70bfb4,#73c2ad,#77c5a3,#7bc79b,#7bc799,#79c69e,#77c5a3,#76c4a5,#7dc796,#88c882,#93c873,#9dc868,#a4c860,#a9c75a,#aec655,#b1c651,#b2c650,#b1c652,#a9c759,#9fc866,#94c872,#8ec878,#8bc87d,#86c885,#83c88a,#83c88b,#83c88b,#83c88b)"></i>
<i style="top:110px;height:6px;background:linear-gradient(90deg,#507af1,#507af1,#517df0,#5282f0,#5383ef,#5384ef,#5588ed,#578eeb,#5a94e8,#5b96e7,#5c9ae4,#5e9fe1,#5fa2de,#60a3dd,#61a6db,#63a8da,#64aad8,#65acd5,#67b2cc,#6bb8c1,#6fbeb7,#70bfb4,#72c1ae,#76c4a5,#79c69e,#7ac69c,#78c6a0,#76c5a4,#72c0b0,#78c6a0,#85c886,#90c875,#9dc868,#a4c860,#a9c75a,#aec655,#b1c651,#b2c650,#b1c652,#a9c759,#9fc866,#94c872,#8ec878,#8bc87d,#86c885,#83c88a,#83c88b,#83c88b,#83c88b)"></i>
<i style="top:115px;height:6px;background:linear-gradient(90deg,#507bf1,#507bf1,#517ef0,#5282f0,#5384ef,#5283f0,#5487ee,#578deb,#5a93e8,#5b96e7,#5c9ae4,#5d9ee1,#5fa2df,#60a3dd,#61a5dc,#63a8da,#64aad8,#65acd5,#67b2cc,#6bb8c1,#6ebdb8,#70bfb4,#72c1af,#76c4a6,#78c6a0,#79c69f,#77c5a2,#74c2aa,#70bfb4,#75c3a8,#84c888,#90c875,#9dc868,#a4c860,#a9c75a,#aec655,#b1c651,#b2c650,#b1c652,#a9c759,#9fc866,#94c872,#8ec878,#8bc87d,#86c885,#83c88a,#83c88b,#83c88b,#83c88b)"></i>
<i style="top:120px;height:6px;background:linear-gradient(90deg,#507bf1,#507bf1,#517ef0,#5282f0,#5384ef,#5282f0,#5486ee,#578deb,#5992e9,#5b96e7,#5c9ae4,#5d9ee1,#5fa1df,#60a3de,#61a5dc,#62a7da,#64aad8,#65acd4,#67b1cc,#6ab7c2,#6ebcb9,#70bfb5,#72c1af,#75c3a7,#78c6a1,#78c6a0,#76c5a4,#73c1ad,#70bfb4,#73c1ad,#84c888,#90c875,#9dc868,#a4c860,#a9c75a,#aec655,#b1c651,#b2c650,#b1c652,#a9c759,#9fc866,#94c872,#8ec878,#8bc87d,#86c885,#83c88a,#83c88b,#83c88b,#83c88b)"></i>
<i style="top:125px;height:6px;background:linear-gradient(90deg,#507af1,#507af1,#517cf0,#5282f0,#5486ee,#5282f0,#5486ee,#568cec,#5992e9,#5b96e7,#5c99e4,#5d9de2,#5ea1e0,#60a3de,#61a5dc,#62a7da,#64aad8,#65add4,#67b1cc,#6ab7c2,#6ebcb9,#70bfb5,#72c1af,#75c3a8,#78c6a1,#78c6a1,#76c4a5,#72c1ae,#70bfb4,#73c1ad,#84c888,#90c875,#9dc868,#a4c860,#a9c75a,#aec655,#b1c651,#b2c650,#b1c652,#a9c759,#9fc866,#94c872,#8ec878,#8bc87d,#86c885,#83c88a,#83c88b,#83c88b,#83c88b)"></i>
<i style="top:130px;height:6px;background:linear-gradient(90deg,#507af1,#507af1,#5079f1,#507cf1,#5486ee,#5282f0,#5486ee,#568cec,#5991e9,#5b96e7,#5c99e5,#5d9de2,#5ea0e0,#5fa2de,#61a5dc,#62a7da,#64a9d9,#65add4,#67b1cc,#6ab7c2,#6ebcb9,#70bfb5,#72c1af,#75c3a8,#78c6a1,#78c6a1,#76c4a5,#72c1ae,#70bfb4,#73c1ad,#84c888,#90c875,#9dc868,#a4c860,#a9c75a,#aec655,#b1c651,#b2c650,#b1c652,#a9c759,#9fc866,#94c872,#8ec878,#8bc87d,#86c885,#83c88a,#83c88b,#83c88b,#83c88b)"></i>
<i style="top:135px;height:6px;background:linear-gradient(90deg,#5079f1,#5079f1,#4f76f1,#4c6bf2,#5283f0,#5282f0,#5486ee,#568bec,#5991e9,#5a95e7,#5c99e5,#5d9ce2,#5ea0e0,#5fa2de,#61a4dc,#62a7db,#64a9d9,#65add4,#67b1cc,#6ab7c2,#6ebcb9,#70bfb5,#72c1af,#75c3a8,#78c6a1,#78c6a1,#76c4a5,#72c1ae,#70bfb4,#73c1ad,#84c888,#90c875,#9dc868,#a4c860,#a9c75a,#aec655,#b1c651,#b2c650,#b1c652,#a9c759,#9fc866,#94c872,#8ec878,#8bc87d,#86c885,#83c88a,#83c88b,#83c88b,#83c88b)"></i>
<i style="top:140px;height:6px;background:linear-gradient(90deg,#5079f1,#5079f1,#4f75f1,#4c6bf2,#517cf0,#5282f0,#5486ee,#568bec,#5890ea,#5a95e7,#5c99e5,#5d9ce3,#5e9fe1,#5fa2df,#61a4dd,#62a7db,#64a9d9,#65add4,#67b1cc,#6ab7c2,#6ebcb9,#70bfb5,#72c1af,#75c3a8,#78c6a1,#78c6a1,#76c4a5,#72c1ae,#70bfb4,#73c1ad,#84c888,#90c875,#9dc868,#a4c860,#a9c75a,#aec655,#b1c651,#b2c650,#b1c652,#a9c759,#9fc866,#94c872,#8ec878,#8bc87d,#86c885,#83c88a,#83c88b,#83c88b,#83c88b)"></i>
<i style="top:145px;height:6px;background:linear-gradient(90deg,#5079f1,#5079f1,#4f76f1,#4d6ff2,#5079f1,#5281f0,#5486ee,#568bec,#5890ea,#5a95e7,#5b98e5,#5d9ce3,#5e9fe1,#5fa2df,#61a4dd,#62a7db,#64a9d9,#65add4,#67b1cc,#6ab7c2,#6ebcb9,#70bfb5,#72c1af,#75c3a8,#78c6a1,#78c6a1,#76c4a5,#72c1ae,#70bfb4,#73c1ad,#84c888,#90c875,#9dc868,#a4c860,#a9c75a,#aec655,#b1c651,#b2c650,#b1c652,#a9c759,#9fc866,#94c872,#8ec878,#8bc87d,#86c885,#83c88a,#83c88b,#83c88b,#83c88b)"></i>
<i style="top:150px;height:6px;background:linear-gradient(90deg,#5079f1,#507af1,#5079f1,#4f74f1,#5079f1,#5280f0,#5385ef,#568aec,#5890ea,#5a95e7,#5b98e5,#5d9ce3,#5e9fe1,#5fa2df,#61a4dd,#62a7db,#64a9d9,#65add4,#67b1cc,#6ab7c2,#6ebcb9,#70bfb5,#72c1af,#75c3a8,#78c6a1,#78c6a1,#76c4a5,#72c1ae,#70bfb4,#73c1ad,#84c888,#90c875,#9dc868,#a4c860,#a9c75a,#aec655,#b1c651,#b2c650,#b1c652,#a9c759,#9fc866,#94c872,#8ec878,#8bc87d,#86c885,#83c88a,#83c88b,#83c88b,#83c88b)"></i>
<i style="top:155px;height:6px;background:linear-gradient(90deg,#5079f1,#507cf1,#517df0,#5078f1,#507af1,#5280f0,#5385ef,#558aed,#588fea,#5a95e7,#5b98e5,#5d9ce3,#5e9fe1,#5fa2df,#61a4dd,#62a7db,#64a9d9,#65add4,#67b1cc,#6ab7c2,#6ebcb9,#70bfb5,#72c1af,#75c3a8,#78c6a1,#78c6a1,#76c4a5,#72c1ae,#70bfb4,#73c1ad,#84c888,#90c875,#9dc868,#a4c860,#a9c75a,#aec655,#b1c651,#b2c650,#b1c652,#a9c759,#9fc866,#94c872,#8ec878,#8bc87d,#86c885,#83c88a,#83c88b,#83c88b,#83c88b)"></i>
<i style="top:160px;height:6px;background:linear-gradient(90deg,#5079f1,#517cf0,#5280f0,#507cf1,#507af1,#5180f0,#5385ef,#558aed,#588fea,#5a95e7,#5b98e5,#5d9ce3,#5e9fe1,#5fa2df,#61a4dd,#62a7db,#64a9d9,#65add4,#67b1cc,#6ab7c2,#6ebcb9,#70bfb5,#72c1af,#75c3a8,#78c6a1,#78c6a1,#76c4a5,#72c1ae,#70bfb4,#73c1ad,#84c888,#90c875,#9dc868,#a4c860,#a9c75a,#aec655,#b1c651,#b2c650,#b1c652,#a9c759,#9fc866,#94c872,#8ec878,#8bc87d,#86c885,#83c88a,#83c88b,#83c88b,#83c88b)"></i>
<i style="top:165px;height:6px;background:linear-gradient(90deg,#5079f1,#517cf0,#5282f0,#517ef0,#507af1,#5180f0,#5385ef,#558aed,#588fea,#5a95e7,#5b98e5,#5d9ce3,#5e9fe1,#5fa2df,#61a4dd,#62a7db,#64a9d9,#65add4,#67b1cc,#6ab7c2,#6ebcb9,#70bfb5,#72c1af,#75c3a8,#78c6a1,#78c6a1,#76c4a5,#72c1ae,#70bfb4,#73c1ad,#84c888,#90c875,#9dc868,#a4c860,#a9c75a,#aec655,#b1c651,#b2c650,#b1c652,#a9c759,#9fc866,#94c872,#8ec878,#8bc87d,#86c885,#83c88a,#83c88b,#83c88b,#83c88b)"></i>
<i style="top:170px;height:6px;background:linear-gradient(90deg,#5079f1,#517cf0,#5282f0,#517ef0,#507af1,#5180f0,#5385ef,#558aed,#588fea,#5a95e7,#5b98e5,#5d9ce3,#5e9fe1,#5fa2df,#61a4dd,#62a7db,#64a9d9,#65add4,#67b1cc,#6ab7c2,#6ebcb9,#70bfb5,#72c1af,#75c3a8,#78c6a1,#78c6a1,#76c4a5,#72c1ae,#70bfb4,#73c1ad,#84c888,#90c875,#9dc868,#a4c860,#a9c75a,#aec655,#b1c651,#b2c650,#b1c652,#a9c759,#9fc866,#94c872,#8ec878,#8bc87d,#86c885,#83c88a,#83c88b,#83c88b,#83c88b)"></i>
<i style="top:175px;height:6px;background:linear-gradient(90deg,#5079f1,#517cf0,#5282f0,#517ef0,#507af1,#5180f0,#5385ef,#558aed,#588fea,#5a95e7,#5b98e5,#5d9ce3,#5e9fe1,#5fa2df,#61a4dd,#62a7db,#64a9d9,#65add4,#67b1cc,#6ab7c2,#6ebcb9,#70bfb5,#72c1af,#75c3a8,#78c6a1,#78c6a1,#76c4a5,#72c1ae,#70bfb4,#73c1ad,#84c888,#90c875,#9dc868,#a4c860,#a9c75a,#aec655,#b1c651,#b2c650,#b1c652,#a9c759,#9fc866,#94c872,#8ec878,#8bc87d,#86c885,#83c88a,#83c88b,#83c88b,#83c88b)"></i>
<i style="top:180px;height:6px;background:linear-gradient(90deg,#5079f1,#517cf0,#5282f0,#517ef0,#507af1,#5180f0,#5385ef,#558aed,#588fea,#5a95e7,#5b98e5,#5d9ce3,#5e9fe1,#5fa2df,#61a4dd,#62a7db,#64a9d9,#65add4,#67b1cc,#6ab7c2,#6ebcb9,#70bfb5,#72c1af,#75c3a8,#78c6a1,#78c6a1,#76c4a5,#72c1ae,#70bfb4,#73c1ad,#84c888,#90c875,#9dc868,#a4c860,#a9c75a,#aec655,#b1c651,#b2c650,#b1c652,#a9c759,#9fc866,#94c872,#8ec878,#8bc87d,#86c885,#83c88a,#83c88b,#83c88b,#83c88b)"></i>
<i style="top:185px;height:6px;background:linear-gradient(90deg,#5079f1,#517cf0,#5282f0,#517ef0,#507af1,#5180f0,#5385ef,#558aed,#588fea,#5a95e7,#5b98e5,#5d9ce3,#5e9fe1,#5fa2df,#61a4dd,#62a7db,#64a9d9,#65add4,#67b1cc,#6ab7c2,#6ebcb9,#70bfb5,#72c1af,#75c3a8,#78c6a1,#78c6a1,#76c4a5,#72c1ae,#70bfb4,#73c1ad,#84c888,#90c875,#9dc868,#a4c860,#a9c75a,#aec655,#b1c651,#b2c650,#b1c652,#a9c759,#9fc866,#94c872,#8ec878,#8bc87d,#86c885,#83c88a,#83c88b,#83c88b,#83c88b)"></i>
<i style="top:190px;height:6px;background:linear-gradient(90deg,#5079f1,#517cf0,#5282f0,#517ef0,#507af1,#5180f0,#5385ef,#558aed,#588fea,#5a95e7,#5b98e5,#5d9ce3,#5e9fe1,#5fa2df,#61a4dd,#62a7db,#64a9d9,#65add4,#67b1cc,#6ab7c2,#6ebcb9,#70bfb5,#72c1af,#75c3a8,#78c6a1,#78c6a1,#76c4a5,#72c1ae,#70bfb4,#73c1ad,#84c888,#90c875,#9dc868,#a4c860,#a9c75a,#aec655,#b1c651,#b2c650,#b1c652,#a9c759,#9fc866,#94c872,#8ec878,#8bc87d,#86c885,#83c88a,#83c88b,#83c88b,#83c88b)"></i>
<i style="top:195px;height:6px;background:linear-gradient(90deg,#5079f1,#517cf0,#5282f0,#517ef0,#507af1,#5180f0,#5385ef,#558aed,#588fea,#5a95e7,#5b98e5,#5d9ce3,#5e9fe1,#5fa2df,#61a4dd,#62a7db,#64a9d9,#65add4,#67b1cc,#6ab7c2,#6ebcb9,#70bfb5,#72c1af,#75c3a8,#78c6a1,#78c6a1,#76c4a5,#72c1ae,#70bfb4,#73c1ad,#84c888,#90c875,#9dc868,#a4c860,#a9c75a,#aec655,#b1c651,#b2c650,#b1c652,#a9c759,#9fc866,#94c872,#8ec878,#8bc87d,#86c885,#83c88a,#83c88b,#83c88b,#83c88b)"></i>
<i style="top:200px;height:6px;background:linear-gradient(90deg,#5079f1,#517cf0,#5282f0,#517ef0,#507af1,#5180f0,#5385ef,#558aed,#588fea,#5a95e7,#5b98e5,#5d9ce3,#5e9fe1,#5fa2df,#61a4dd,#62a7db,#64a9d9,#65add4,#67b1cc,#6ab7c2,#6ebcb9,#70bfb5,#72c1af,#75c3a8,#78c6a1,#78c6a1,#76c4a5,#72c1ae,#70bfb4,#73c1ad,#84c888,#90c875,#9dc868,#a4c860,#a9c75a,#aec655,#b1c651,#b2c650,#b1c652,#a9c759,#9fc866,#94c872,#8ec878,#8bc87d,#86c885,#83c88a,#83c88b,#83c88b,#83c88b)"></i>
<i style="top:205px;height:6px;background:linear-gradient(90deg,#5079f1,#517cf0,#5282f0,#517ef0,#507af1,#5180f0,#5385ef,#558aed,#588fea,#5a95e7,#5b98e5,#5d9ce3,#5e9fe1,#5fa2df,#61a4dd,#62a7db,#64a9d9,#65add4,#67b1cc,#6ab7c2,#6ebcb9,#70bfb5,#72c1af,#75c3a8,#78c6a1,#78c6a1,#76c4a5,#72c1ae,#70bfb4,#73c1ad,#84c888,#90c875,#9dc868,#a4c860,#a9c75a,#aec655,#b1c651,#b2c650,#b1c652,#a9c759,#9fc866,#94c872,#8ec878,#8bc87d,#86c885,#83c88a,#83c88b,#83c88b,#83c88b)"></i>
<i style="top:210px;height:6px;background:linear-gradient(90deg,#5079f1,#517cf0,#5282f0,#517ef0,#507af1,#5180f0,#5385ef,#558aed,#588fea,#5a95e7,#5b98e5,#5d9ce3,#5e9fe1,#5fa2df,#61a4dd,#62a7db,#64a9d9,#65add4,#67b1cc,#6ab7c2,#6ebcb9,#70bfb5,#72c1af,#75c3a8,#78c6a1,#78c6a1,#76c4a5,#72c1ae,#70bfb4,#73c1ad,#84c888,#90c875,#9dc868,#a4c860,#a9c75a,#aec655,#b1c651,#b2c650,#b1c652,#a9c759,#9fc866,#94c872,#8ec878,#8bc87d,#86c885,#83c88a,#83c88b,#83c88b,#83c88b)"></i>
<i style="top:215px;height:6px;background:linear-gradient(90deg,#5079f1,#517cf0,#5282f0,#517ef0,#507af1,#5180f0,#5385ef,#558aed,#588fea,#5a95e7,#5b98e5,#5d9ce3,#5e9fe1,#5fa2df,#61a4dd,#62a7db,#64a9d9,#65add4,#67b1cc,#6ab7c2,#6ebcb9,#70bfb5,#72c1af,#75c3a8,#78c6a1,#78c6a1,#76c4a5,#72c1ae,#70bfb4,#73c1ad,#84c888,#90c875,#9dc868,#a4c860,#a9c75a,#aec655,#b1c651,#b2c650,#b1c652,#a9c759,#9fc866,#94c872,#8ec878,#8bc87d,#86c885,#83c88a,#83c88b,#83c88b,#83c88b)"></i>
</div></div>
<div class="fo" style="left:73.6px;top:818.0px;width:562.9px;height:196.8px">
<div class="fi" style="left:-10px;top:-10px;width:582.9px;height:220px;filter:blur(2.5px)">
<i style="top:0px;height:6px;background:linear-gradient(90deg,#d5b943,#d5b943,#dab745,#dcb746,#d9b845,#d7b944,#d5b943,#d1bb42,#e5b449,#f4f040,#f4f040,#f4f040,#f4f040,#f4f040,#f4f040,#f4f040,#f4f040,#f4f040,#f4f040,#f4f040,#f4f040,#f4f040,#f4f040,#f4f040,#f4f040,#f4f040,#f4f040,#f4f040,#f4f040,#f4f040,#f4f040,#f4f040,#f4f040,#f4f040,#f4f040,#f4f040,#f4f040,#f4f040,#f4f040,#f4f040,#f4f040,#f4f040,#f4f040,#f4f040,#f4f040,#f4f040,#f4f040,#f4f040,#f4f040)"></i>
<i style="top:5px;height:6px;background:linear-gradient(90deg,#d5b943,#d5b943,#dab745,#dcb746,#d9b845,#d7b944,#d5b943,#d1bb42,#e5b449,#f4f040,#f4f040,#f4f040,#f4f040,#f4f040,#f4f040,#f4f040,#f4f040,#f4f040,#f4f040,#f4f040,#f4f040,#f4f040,#f4f040,#f4f040,#f4f040,#f4f040,#f4f040,#f4f040,#f4f040,#f4f040,#f4f040,#f4f040,#f4f040,#f4f040,#f4f040,#f4f040,#f4f040,#f4f040,#f4f040,#f4f040,#f4f040,#f4f040,#f4f040,#f4f040,#f4f040,#f4f040,#f4f040,#f4f040,#f4f040)"></i>
<i style="top:10px;height:6px;background:linear-gradient(90deg,#d1bb42,#d1bb43,#d5b943,#d7b944,#d4ba43,#d2bb43,#d1bb42,#cebd42,#dab745,#f4f040,#f4f040,#f4f040,#f4f040,#f4f040,#f4f040,#f4f040,#f4f040,#f4f040,#f4f040,#f4f040,#f4f040,#f4f040,#f4f040,#f4f040,#f4f040,#f4f040,#f4f040,#f4f040,#f4f040,#f4f040,#f4f040,#f4f040,#f4f040,#f4f040,#f4f040,#f4f040,#f4f040,#f4f040,#f4f040,#f4f040,#f4f040,#f4f040,#f4f040,#f4f040,#f4f040,#f4f040,#f4f040,#f4f040,#f4f040)"></i>
<i style="top:15px;height:6px;background:linear-gradient(90deg,#bcc348,#bcc348,#b7c54c,#b5c54d,#b8c44b,#bac449,#bbc349,#bfc246,#c2c143,#ebc246,#ebc246,#ebc246,#ebc246,#ecd744,#edda43,#f0e641,#f2eb41,#f2ea41,#f1e941,#f2ec41,#f3ee40,#f3ee40,#f4ef40,#f4f040,#f4f040,#f4f040,#f4f040,#f4f040,#f4f040,#f4f040,#f4f040,#f4f040,#f4f040,#f4f040,#f4f040,#f4f040,#f4f040,#f4f040,#f4f040,#f4f040,#f4f040,#f4f040,#f4f040,#f4f040,#f4f040,#f4f040,#f4f040,#f4f040,#f4f040)"></i>
<i style="top:20px;height:6px;background:linear-gradient(90deg,#9bc86a,#99c86b,#85c886,#83c88b,#8cc87b,#92c874,#93c873,#a4c85f,#aac759,#93c872,#8fc876,#91c874,#a4c860,#c3c143,#cabe41,#ecc446,#ecd744,#ecd544,#eccd45,#eddd43,#efe542,#f1e841,#f1ea41,#f2ec41,#f2eb41,#f0e741,#efe442,#f3ee40,#f4ef40,#f4f040,#f4f040,#f4f040,#f4f040,#f4f040,#f4f040,#f4f040,#f4f040,#f4f040,#f4f040,#f4f040,#f4f040,#f4f040,#f4f040,#f4f040,#f4f040,#f4f040,#f4f040,#f4f040,#f4f040)"></i>
<i style="top:25px;height:6px;background:linear-gradient(90deg,#81c88d,#7fc792,#6ebcb9,#6cbabe,#72c1b0,#72c1ae,#72c1ae,#8bc87c,#91c875,#7bc799,#76c4a6,#7bc79b,#93c872,#acc756,#c1c144,#ddb746,#ebc047,#eabf47,#e3b549,#eccd45,#eddb43,#eee142,#efe442,#efe542,#eee342,#edd943,#ecc546,#eddd43,#efe542,#f2eb41,#f4f040,#f4f040,#f4f040,#f4f040,#f4f040,#f4f040,#f4f040,#f4f040,#f4f040,#f4f040,#f4f040,#f4f040,#f4f040,#f4f040,#f4f040,#f4f040,#f4f040,#f4f040,#f4f040)"></i>
<i style="top:30px;height:6px;background:linear-gradient(90deg,#75c4a6,#74c3aa,#6bb8c1,#69b5c6,#6bb9c0,#6bb8c1,#6fbeb5,#7dc796,#84c889,#76c4a5,#72c1ae,#79c69f,#90c875,#a7c75d,#bcc348,#d2bb43,#dfb647,#e4b549,#e1b648,#ebc247,#ecd244,#edd943,#eddd43,#eddd43,#edda43,#ecd044,#ebc247,#ecd144,#eddd43,#f0e841,#f4ef40,#f4f040,#f4f040,#f4f040,#f4f040,#f4f040,#f4f040,#f4f040,#f4f040,#f4f040,#f4f040,#f4f040,#f4f040,#f4f040,#f4f040,#f4f040,#f4f040,#f4f040,#f4f040)"></i>
<i style="top:35px;height:6px;background:linear-gradient(90deg,#73c1ad,#72c1af,#6ab7c2,#68b3c9,#69b5c6,#69b5c5,#6ebcb9,#76c4a4,#7cc797,#76c5a4,#75c3a8,#7dc795,#93c873,#a5c75f,#bbc349,#ccbd41,#d1bb43,#ddb746,#e1b648,#e9bb48,#ecc845,#ecd244,#ecd644,#ecd644,#ecd344,#ecca45,#ebc247,#ecca45,#ecd544,#efe442,#f4ef40,#f4f040,#f4f040,#f4f040,#f4f040,#f4f040,#f4f040,#f4f040,#f4f040,#f4f040,#f4f040,#f4f040,#f4f040,#f4f040,#f4f040,#f4f040,#f4f040,#f4f040,#f4f040)"></i>
<i style="top:40px;height:6px;background:linear-gradient(90deg,#72c1ae,#72c1af,#6ab7c3,#67b2ca,#68b3c9,#68b5c7,#6dbbbb,#75c3a8,#7ac69b,#78c69f,#7ac69d,#83c88a,#96c86f,#a4c85f,#bcc348,#cabe41,#ccbd41,#dab845,#e0b648,#e7b649,#ebc047,#eccc45,#ecd045,#ecce45,#eccb45,#ecc646,#ebc247,#ecc646,#eccd45,#eee242,#f4f040,#f4f040,#f4f040,#f4f040,#f4f040,#f4f040,#f4f040,#f4f040,#f4f040,#f4f040,#f4f040,#f4f040,#f4f040,#f4f040,#f4f040,#f4f040,#f4f040,#f4f040,#f4f040)"></i>
<i style="top:45px;height:6px;background:linear-gradient(90deg,#72c1af,#72c0b0,#69b6c5,#67b2cc,#67b2ca,#68b4c8,#6dbbbc,#75c3a9,#7ac69b,#7bc79a,#7fc791,#89c881,#98c86c,#a6c75e,#c0c245,#cabe41,#cdbd41,#d9b844,#e0b648,#e5b44a,#e8ba48,#ecc646,#ecca45,#ecc746,#ecc446,#ecc346,#ebc247,#ecc346,#ecc446,#eee142,#f4f040,#f4f040,#f4f040,#f4f040,#f4f040,#f4f040,#f4f040,#f4f040,#f4f040,#f4f040,#f4f040,#f4f040,#f4f040,#f4f040,#f4f040,#f4f040,#f4f040,#f4f040,#f4f040)"></i>
<i style="top:50px;height:6px;background:linear-gradient(90deg,#71c0b1,#71c0b2,#69b5c6,#67b2cc,#67b2cb,#67b3ca,#6cbabd,#74c3a9,#7ac69b,#7ec795,#84c889,#8ec879,#9ac86b,#a9c75a,#c2c143,#cbbe41,#d0bc42,#dab845,#e1b548,#e5b44a,#e7b849,#ecc346,#ecc546,#ebc047,#eabe47,#ebc147,#ebc147,#ebc246,#ebc246,#eee242,#f4f040,#f4f040,#f4f040,#f4f040,#f4f040,#f4f040,#f4f040,#f4f040,#f4f040,#f4f040,#f4f040,#f4f040,#f4f040,#f4f040,#f4f040,#f4f040,#f4f040,#f4f040,#f4f040)"></i>
<i style="top:55px;height:6px;background:linear-gradient(90deg,#70bfb3,#70bfb4,#69b6c5,#67b2cc,#67b2cc,#67b2cc,#6cb9be,#74c3a9,#7bc79b,#80c891,#87c883,#92c873,#9ac86a,#acc756,#c3c143,#cebd42,#d3ba43,#dbb745,#e3b549,#e6b44a,#e8b949,#ebc247,#ecc346,#e9bb48,#e8ba49,#eac047,#ebc147,#ecc346,#ecc746,#f0e641,#f4f040,#f4f040,#f4f040,#f4f040,#f4f040,#f4f040,#f4f040,#f4f040,#f4f040,#f4f040,#f4f040,#f4f040,#f4f040,#f4f040,#f4f040,#f4f040,#f4f040,#f4f040,#f4f040)"></i>
<i style="top:60px;height:6px;background:linear-gradient(90deg,#71c0b3,#70bfb4,#6ab7c2,#67b2ca,#67b2cc,#67b2cc,#6cb9bf,#74c3a9,#7bc79a,#81c88e,#89c880,#92c873,#9cc869,#afc653,#c3c142,#d1bb42,#d6b944,#deb647,#e5b44a,#e7b749,#e9bc48,#ebc247,#ebc247,#e8ba48,#e8b949,#eabf47,#ebc247,#ecc646,#ecd144,#f2ea41,#f4f040,#f4f040,#f4f040,#f4f040,#f4f040,#f4f040,#f4f040,#f4f040,#f4f040,#f4f040,#f4f040,#f4f040,#f4f040,#f4f040,#f4f040,#f4f040,#f4f040,#f4f040,#f4f040)"></i>
<i style="top:65px;height:6px;background:linear-gradient(90deg,#71c0b2,#70bfb4,#6bb8c0,#68b3c9,#67b2cc,#67b2cb,#6cbabe,#74c3a9,#7bc79a,#82c88b,#8ac87f,#93c873,#9ec866,#b2c650,#c4c142,#d4ba43,#d9b844,#e0b648,#e7b649,#e9bb48,#eac047,#ecc346,#ecc346,#e9bd48,#e9bc48,#ebc047,#ebc247,#ecc945,#edd943,#f3ed40,#f4f040,#f4f040,#f4f040,#f4f040,#f4f040,#f4f040,#f4f040,#f4f040,#f4f040,#f4f040,#f4f040,#f4f040,#f4f040,#f4f040,#f4f040,#f4f040,#f4f040,#f4f040,#f4f040)"></i>
<i style="top:70px;height:6px;background:linear-gradient(90deg,#71c0b2,#70bfb4,#6cb9bf,#68b3c9,#67b2cc,#68b3c9,#6dbabd,#74c3aa,#7cc799,#83c88a,#8ac87e,#94c871,#a2c862,#b5c54e,#c6c040,#d6b944,#dab745,#e3b549,#e8ba49,#ebc047,#ecc446,#ecc646,#ecc546,#ebc147,#ebc047,#ebc246,#ebc247,#eccd45,#eedf42,#f4f040,#f4f040,#f4f040,#f4f040,#f4f040,#f4f040,#f4f040,#f4f040,#f4f040,#f4f040,#f4f040,#f4f040,#f4f040,#f4f040,#f4f040,#f4f040,#f4f040,#f4f040,#f4f040,#f4f040)"></i>
<i style="top:75px;height:6px;background:linear-gradient(90deg,#71c0b2,#70bfb4,#6cb9be,#68b3c9,#67b1cd,#68b4c8,#6dbbbc,#74c3aa,#7cc798,#84c889,#8bc87e,#96c86f,#a5c75e,#b8c44b,#c7c040,#d6b943,#dcb746,#e6b54a,#eabe47,#ecc646,#ecc845,#ecc845,#ecc846,#ecc646,#ecc646,#ecc646,#ecc446,#ecd244,#efe442,#f4f040,#f4f040,#f4f040,#f4f040,#f4f040,#f4f040,#f4f040,#f4f040,#f4f040,#f4f040,#f4f040,#f4f040,#f4f040,#f4f040,#f4f040,#f4f040,#f4f040,#f4f040,#f4f040,#f4f040)"></i>
<i style="top:80px;height:6px;background:linear-gradient(90deg,#71c0b3,#70bfb4,#6cb9be,#67b3ca,#66b0ce,#68b4c8,#6dbbbb,#74c3aa,#7cc797,#84c888,#8ac87f,#98c86d,#a8c75b,#bbc349,#c7c040,#d6b944,#e0b647,#e8b949,#ecc346,#eccb45,#eccc45,#eccb45,#eccb45,#ecca45,#eccb45,#eccb45,#eccb45,#edd843,#f1e941,#f4f040,#f4f040,#f4f040,#f4f040,#f4f040,#f4f040,#f4f040,#f4f040,#f4f040,#f4f040,#f4f040,#f4f040,#f4f040,#f4f040,#f4f040,#f4f040,#f4f040,#f4f040,#f4f040,#f4f040)"></i>
<i style="top:85px;height:6px;background:linear-gradient(90deg,#71c0b3,#70bfb4,#6cb9be,#67b2cb,#66afd0,#68b4c8,#6dbbbb,#74c3aa,#7dc797,#85c887,#89c880,#99c86c,#abc758,#bdc347,#c8bf40,#d8b844,#e4b549,#eabe48,#ecc746,#ecd045,#ecd045,#ecce45,#eccc45,#eccf45,#ecd144,#ecd244,#ecd444,#edde43,#f2ec41,#f4f040,#f4f040,#f4f040,#f4f040,#f4f040,#f4f040,#f4f040,#f4f040,#f4f040,#f4f040,#f4f040,#f4f040,#f4f040,#f4f040,#f4f040,#f4f040,#f4f040,#f4f040,#f4f040,#f4f040)"></i>
<i style="top:90px;height:6px;background:linear-gradient(90deg,#71bfb3,#70bfb4,#6cbabe,#67b2cb,#66afd0,#68b4c7,#6dbbba,#74c3aa,#7dc796,#85c886,#8ac87f,#9bc86a,#aec655,#c0c245,#cabe41,#dbb745,#e7b749,#ecc346,#eccc45,#ecd144,#ecd244,#ecd244,#ecce45,#ecd544,#ecd744,#edd843,#eddb43,#efe442,#f3ef40,#f4f040,#f4f040,#f4f040,#f4f040,#f4f040,#f4f040,#f4f040,#f4f040,#f4f040,#f4f040,#f4f040,#f4f040,#f4f040,#f4f040,#f4f040,#f4f040,#f4f040,#f4f040,#f4f040,#f4f040)"></i>
<i style="top:95px;height:6px;background:linear-gradient(90deg,#71bfb3,#70bfb4,#6cbabe,#68b3ca,#66b0ce,#69b5c6,#6ebcba,#74c2aa,#7dc796,#85c886,#8bc87c,#9dc867,#b0c652,#c2c143,#ccbd41,#dfb647,#e9bd48,#ecc945,#ecd144,#ecd444,#ecd744,#edd843,#ecd744,#eddb43,#eddd43,#edde43,#eee142,#f1e841,#f4f040,#f4f040,#f4f040,#f4f040,#f4f040,#f4f040,#f4f040,#f4f040,#f4f040,#f4f040,#f4f040,#f4f040,#f4f040,#f4f040,#f4f040,#f4f040,#f4f040,#f4f040,#f4f040,#f4f040,#f4f040)"></i>
<i style="top:100px;height:6px;background:linear-gradient(90deg,#71bfb3,#70bfb4,#6cbabd,#68b4c8,#67b2cb,#69b6c5,#6ebcba,#74c2aa,#7dc796,#86c886,#8ec878,#a0c865,#b3c64f,#c4c142,#d0bc42,#e4b549,#ecc446,#ecd045,#ecd744,#edda43,#eddd43,#eedf42,#eee042,#eee242,#eee342,#eee342,#f0e641,#f2ec41,#f4f040,#f4f040,#f4f040,#f4f040,#f4f040,#f4f040,#f4f040,#f4f040,#f4f040,#f4f040,#f4f040,#f4f040,#f4f040,#f4f040,#f4f040,#f4f040,#f4f040,#f4f040,#f4f040,#f4f040,#f4f040)"></i>
<i style="top:105px;height:6px;background:linear-gradient(90deg,#71bfb3,#70bfb4,#6dbabd,#69b5c6,#68b3c9,#6ab7c3,#6ebcba,#74c2aa,#7dc795,#87c884,#91c875,#a2c862,#b6c54d,#c6c040,#d5b943,#e8b949,#eccb45,#ecd744,#eddd43,#eee042,#efe442,#f0e741,#f1e941,#f1e941,#f1e841,#f1e841,#f1ea41,#f3ee40,#f4f040,#f4f040,#f4f040,#f4f040,#f4f040,#f4f040,#f4f040,#f4f040,#f4f040,#f4f040,#f4f040,#f4f040,#f4f040,#f4f040,#f4f040,#f4f040,#f4f040,#f4f040,#f4f040,#f4f040,#f4f040)"></i>
<i style="top:110px;height:6px;background:linear-gradient(90deg,#71bfb3,#70bfb4,#6dbabc,#69b6c5,#68b4c7,#6ab7c2,#6ebcb9,#74c3aa,#7ec794,#88c883,#92c873,#a3c860,#b9c44a,#c7c040,#dbb745,#ebc247,#ecd444,#eddd43,#eee342,#f0e741,#f2eb41,#f3ee40,#f4f040,#f3ee40,#f3ed40,#f2ec41,#f3ed40,#f4f040,#f4f040,#f4f040,#f4f040,#f4f040,#f4f040,#f4f040,#f4f040,#f4f040,#f4f040,#f4f040,#f4f040,#f4f040,#f4f040,#f4f040,#f4f040,#f4f040,#f4f040,#f4f040,#f4f040,#f4f040,#f4f040)"></i>
<i style="top:115px;height:6px;background:linear-gradient(90deg,#71bfb3,#70bfb4,#6cbabd,#69b5c5,#69b5c7,#6bb8c1,#6ebcb9,#74c3aa,#7ec793,#89c881,#93c872,#a4c85f,#bcc348,#c9be41,#e4b549,#eccc45,#eddc43,#efe542,#f1e941,#f3ed40,#f4f040,#f4f040,#f4f040,#f4f040,#f4f040,#f4ef40,#f4ef40,#f4f040,#f4f040,#f4f040,#f4f040,#f4f040,#f4f040,#f4f040,#f4f040,#f4f040,#f4f040,#f4f040,#f4f040,#f4f040,#f4f040,#f4f040,#f4f040,#f4f040,#f4f040,#f4f040,#f4f040,#f4f040,#f4f040)"></i>
<i style="top:120px;height:6px;background:linear-gradient(90deg,#71c0b3,#70bfb4,#6cbabe,#69b5c7,#68b5c7,#6bb8c1,#6ebcb9,#74c3aa,#7fc792,#89c880,#94c871,#a4c860,#c0c245,#cfbc42,#e9bd48,#ecd744,#efe542,#f2eb41,#f3ef40,#f4f040,#f4f040,#f4f040,#f4f040,#f4f040,#f4f040,#f4f040,#f4f040,#f4f040,#f4f040,#f4f040,#f4f040,#f4f040,#f4f040,#f4f040,#f4f040,#f4f040,#f4f040,#f4f040,#f4f040,#f4f040,#f4f040,#f4f040,#f4f040,#f4f040,#f4f040,#f4f040,#f4f040,#f4f040,#f4f040)"></i>
<i style="top:125px;height:6px;background:linear-gradient(90deg,#71c0b2,#70bfb4,#6cb9bf,#68b3c9,#68b4c8,#6bb8c1,#6ebcb9,#74c3a9,#7fc791,#8bc87e,#95c870,#a2c862,#c3c142,#d7b944,#ecca45,#eee142,#f2ec41,#f4f040,#f4f040,#f4f040,#f4f040,#f4f040,#f4f040,#f4f040,#f4f040,#f4f040,#f4f040,#f4f040,#f4f040,#f4f040,#f4f040,#f4f040,#f4f040,#f4f040,#f4f040,#f4f040,#f4f040,#f4f040,#f4f040,#f4f040,#f4f040,#f4f040,#f4f040,#f4f040,#f4f040,#f4f040,#f4f040,#f4f040,#f4f040)"></i>
<i style="top:130px;height:6px;background:linear-gradient(90deg,#71c0b2,#70bfb3,#6bb8c1,#67b1cc,#68b3c9,#6bb8c1,#6ebcb9,#74c3a9,#80c890,#8cc87c,#96c86f,#a2c862,#c6c040,#e0b647,#edd943,#f2eb41,#f4f040,#f4f040,#f4f040,#f4f040,#f4f040,#f4f040,#f4f040,#f4f040,#f4f040,#f4f040,#f4f040,#f4f040,#f4f040,#f4f040,#f4f040,#f4f040,#f4f040,#f4f040,#f4f040,#f4f040,#f4f040,#f4f040,#f4f040,#f4f040,#f4f040,#f4f040,#f4f040,#f4f040,#f4f040,#f4f040,#f4f040,#f4f040,#f4f040)"></i>
<i style="top:135px;height:6px;background:linear-gradient(90deg,#71c0b2,#70bfb3,#6ab7c3,#66afcf,#67b3ca,#6bb8c1,#6ebcb9,#74c3a9,#81c88e,#8ec879,#99c86c,#aac759,#c8bf40,#e7b749,#f0e741,#f4f040,#f4f040,#f4f040,#f4f040,#f4f040,#f4f040,#f4f040,#f4f040,#f4f040,#f4f040,#f4f040,#f4f040,#f4f040,#f4f040,#f4f040,#f4f040,#f4f040,#f4f040,#f4f040,#f4f040,#f4f040,#f4f040,#f4f040,#f4f040,#f4f040,#f4f040,#f4f040,#f4f040,#f4f040,#f4f040,#f4f040,#f4f040,#f4f040,#f4f040)"></i>
<i style="top:140px;height:6px;background:linear-gradient(90deg,#71c0b2,#70bfb4,#6ab7c3,#66afd0,#67b2cb,#6bb8c1,#6ebdb8,#74c3a9,#82c88d,#90c875,#a2c862,#bac44a,#cbbe41,#eabf47,#f4f040,#f4f040,#f4f040,#f4f040,#f4f040,#f4f040,#f4f040,#f4f040,#f4f040,#f4f040,#f4f040,#f4f040,#f4f040,#f4f040,#f4f040,#f4f040,#f4f040,#f4f040,#f4f040,#f4f040,#f4f040,#f4f040,#f4f040,#f4f040,#f4f040,#f4f040,#f4f040,#f4f040,#f4f040,#f4f040,#f4f040,#f4f040,#f4f040,#f4f040,#f4f040)"></i>
<i style="top:145px;height:6px;background:linear-gradient(90deg,#70bfb3,#70bfb4,#6bb8c1,#66b0ce,#68b3ca,#6bb8c0,#6fbdb8,#74c3a9,#82c88c,#93c872,#abc757,#c5c041,#cebd42,#ebc147,#f4f040,#f4f040,#f4f040,#f4f040,#f4f040,#f4f040,#f4f040,#f4f040,#f4f040,#f4f040,#f4f040,#f4f040,#f4f040,#f4f040,#f4f040,#f4f040,#f4f040,#f4f040,#f4f040,#f4f040,#f4f040,#f4f040,#f4f040,#f4f040,#f4f040,#f4f040,#f4f040,#f4f040,#f4f040,#f4f040,#f4f040,#f4f040,#f4f040,#f4f040,#f4f040)"></i>
<i style="top:150px;height:6px;background:linear-gradient(90deg,#70bfb3,#70bfb4,#6cb9be,#67b3ca,#68b4c7,#6cb9bf,#6fbeb6,#74c3aa,#82c88c,#95c870,#b1c651,#c7c040,#cebc42,#ebc147,#f4f040,#f4f040,#f4f040,#f4f040,#f4f040,#f4f040,#f4f040,#f4f040,#f4f040,#f4f040,#f4f040,#f4f040,#f4f040,#f4f040,#f4f040,#f4f040,#f4f040,#f4f040,#f4f040,#f4f040,#f4f040,#f4f040,#f4f040,#f4f040,#f4f040,#f4f040,#f4f040,#f4f040,#f4f040,#f4f040,#f4f040,#f4f040,#f4f040,#f4f040,#f4f040)"></i>
<i style="top:155px;height:6px;background:linear-gradient(90deg,#70bfb3,#70bfb3,#6dbbbc,#69b5c6,#69b6c5,#6cb9be,#6fbeb6,#74c3aa,#82c88d,#95c870,#afc654,#c7bf40,#cebc42,#ebc147,#f4f040,#f4f040,#f4f040,#f4f040,#f4f040,#f4f040,#f4f040,#f4f040,#f4f040,#f4f040,#f4f040,#f4f040,#f4f040,#f4f040,#f4f040,#f4f040,#f4f040,#f4f040,#f4f040,#f4f040,#f4f040,#f4f040,#f4f040,#f4f040,#f4f040,#f4f040,#f4f040,#f4f040,#f4f040,#f4f040,#f4f040,#f4f040,#f4f040,#f4f040,#f4f040)"></i>
<i style="top:160px;height:6px;background:linear-gradient(90deg,#70bfb3,#71bfb3,#6dbbbb,#6ab7c3,#6ab7c3,#6cbabe,#6fbeb6,#74c2aa,#81c88d,#95c870,#afc654,#c7bf40,#cebc42,#ebc147,#f4f040,#f4f040,#f4f040,#f4f040,#f4f040,#f4f040,#f4f040,#f4f040,#f4f040,#f4f040,#f4f040,#f4f040,#f4f040,#f4f040,#f4f040,#f4f040,#f4f040,#f4f040,#f4f040,#f4f040,#f4f040,#f4f040,#f4f040,#f4f040,#f4f040,#f4f040,#f4f040,#f4f040,#f4f040,#f4f040,#f4f040,#f4f040,#f4f040,#f4f040,#f4f040)"></i>
<i style="top:165px;height:6px;background:linear-gradient(90deg,#70bfb3,#70bfb3,#6ebcba,#6bb8c0,#6bb8c2,#6cbabd,#6fbeb6,#74c2ab,#81c88d,#95c870,#afc654,#c7bf40,#cebc42,#ebc147,#f4f040,#f4f040,#f4f040,#f4f040,#f4f040,#f4f040,#f4f040,#f4f040,#f4f040,#f4f040,#f4f040,#f4f040,#f4f040,#f4f040,#f4f040,#f4f040,#f4f040,#f4f040,#f4f040,#f4f040,#f4f040,#f4f040,#f4f040,#f4f040,#f4f040,#f4f040,#f4f040,#f4f040,#f4f040,#f4f040,#f4f040,#f4f040,#f4f040,#f4f040,#f4f040)"></i>
<i style="top:170px;height:6px;background:linear-gradient(90deg,#70bfb3,#70bfb3,#6ebcba,#6bb9bf,#6bb8c1,#6cbabd,#6fbeb6,#74c2ab,#81c88d,#95c870,#afc654,#c7bf40,#cebc42,#ebc147,#f4f040,#f4f040,#f4f040,#f4f040,#f4f040,#f4f040,#f4f040,#f4f040,#f4f040,#f4f040,#f4f040,#f4f040,#f4f040,#f4f040,#f4f040,#f4f040,#f4f040,#f4f040,#f4f040,#f4f040,#f4f040,#f4f040,#f4f040,#f4f040,#f4f040,#f4f040,#f4f040,#f4f040,#f4f040,#f4f040,#f4f040,#f4f040,#f4f040,#f4f040,#f4f040)"></i>
<i style="top:175px;height:6px;background:linear-gradient(90deg,#70bfb3,#70bfb3,#6ebcba,#6cb9bf,#6bb8c1,#6cbabd,#6fbeb6,#74c2ab,#81c88d,#95c870,#afc654,#c7bf40,#cebc42,#ebc147,#f4f040,#f4f040,#f4f040,#f4f040,#f4f040,#f4f040,#f4f040,#f4f040,#f4f040,#f4f040,#f4f040,#f4f040,#f4f040,#f4f040,#f4f040,#f4f040,#f4f040,#f4f040,#f4f040,#f4f040,#f4f040,#f4f040,#f4f040,#f4f040,#f4f040,#f4f040,#f4f040,#f4f040,#f4f040,#f4f040,#f4f040,#f4f040,#f4f040,#f4f040,#f4f040)"></i>
<i style="top:180px;height:6px;background:linear-gradient(90deg,#70bfb3,#70bfb3,#6ebcba,#6cb9bf,#6bb8c1,#6cbabd,#6fbeb6,#74c2ab,#81c88d,#95c870,#afc654,#c7bf40,#cebc42,#ebc147,#f4f040,#f4f040,#f4f040,#f4f040,#f4f040,#f4f040,#f4f040,#f4f040,#f4f040,#f4f040,#f4f040,#f4f040,#f4f040,#f4f040,#f4f040,#f4f040,#f4f040,#f4f040,#f4f040,#f4f040,#f4f040,#f4f040,#f4f040,#f4f040,#f4f040,#f4f040,#f4f040,#f4f040,#f4f040,#f4f040,#f4f040,#f4f040,#f4f040,#f4f040,#f4f040)"></i>
<i style="top:185px;height:6px;background:linear-gradient(90deg,#70bfb3,#70bfb3,#6ebcba,#6cb9bf,#6bb8c1,#6cbabd,#6fbeb6,#74c2ab,#81c88d,#95c870,#afc654,#c7bf40,#cebc42,#ebc147,#f4f040,#f4f040,#f4f040,#f4f040,#f4f040,#f4f040,#f4f040,#f4f040,#f4f040,#f4f040,#f4f040,#f4f040,#f4f040,#f4f040,#f4f040,#f4f040,#f4f040,#f4f040,#f4f040,#f4f040,#f4f040,#f4f040,#f4f040,#f4f040,#f4f040,#f4f040,#f4f040,#f4f040,#f4f040,#f4f040,#f4f040,#f4f040,#f4f040,#f4f040,#f4f040)"></i>
<i style="top:190px;height:6px;background:linear-gradient(90deg,#70bfb3,#70bfb3,#6ebcba,#6cb9bf,#6bb8c1,#6cbabd,#6fbeb6,#74c2ab,#81c88d,#95c870,#afc654,#c7bf40,#cebc42,#ebc147,#f4f040,#f4f040,#f4f040,#f4f040,#f4f040,#f4f040,#f4f040,#f4f040,#f4f040,#f4f040,#f4f040,#f4f040,#f4f040,#f4f040,#f4f040,#f4f040,#f4f040,#f4f040,#f4f040,#f4f040,#f4f040,#f4f040,#f4f040,#f4f040,#f4f040,#f4f040,#f4f040,#f4f040,#f4f040,#f4f040,#f4f040,#f4f040,#f4f040,#f4f040,#f4f040)"></i>
<i style="top:195px;height:6px;background:linear-gradient(90deg,#70bfb3,#70bfb3,#6ebcba,#6cb9bf,#6bb8c1,#6cbabd,#6fbeb6,#74c2ab,#81c88d,#95c870,#afc654,#c7bf40,#cebc42,#ebc147,#f4f040,#f4f040,#f4f040,#f4f040,#f4f040,#f4f040,#f4f040,#f4f040,#f4f040,#f4f040,#f4f040,#f4f040,#f4f040,#f4f040,#f4f040,#f4f040,#f4f040,#f4f040,#f4f040,#f4f040,#f4f040,#f4f040,#f4f040,#f4f040,#f4f040,#f4f040,#f4f040,#f4f040,#f4f040,#f4f040,#f4f040,#f4f040,#f4f040,#f4f040,#f4f040)"></i>
<i style="top:200px;height:6px;background:linear-gradient(90deg,#70bfb3,#70bfb3,#6ebcba,#6cb9bf,#6bb8c1,#6cbabd,#6fbeb6,#74c2ab,#81c88d,#95c870,#afc654,#c7bf40,#cebc42,#ebc147,#f4f040,#f4f040,#f4f040,#f4f040,#f4f040,#f4f040,#f4f040,#f4f040,#f4f040,#f4f040,#f4f040,#f4f040,#f4f040,#f4f040,#f4f040,#f4f040,#f4f040,#f4f040,#f4f040,#f4f040,#f4f040,#f4f040,#f4f040,#f4f040,#f4f040,#f4f040,#f4f040,#f4f040,#f4f040,#f4f040,#f4f040,#f4f040,#f4f040,#f4f040,#f4f040)"></i>
<i style="top:205px;height:6px;background:linear-gradient(90deg,#70bfb3,#70bfb3,#6ebcba,#6cb9bf,#6bb8c1,#6cbabd,#6fbeb6,#74c2ab,#81c88d,#95c870,#afc654,#c7bf40,#cebc42,#ebc147,#f4f040,#f4f040,#f4f040,#f4f040,#f4f040,#f4f040,#f4f040,#f4f040,#f4f040,#f4f040,#f4f040,#f4f040,#f4f040,#f4f040,#f4f040,#f4f040,#f4f040,#f4f040,#f4f040,#f4f040,#f4f040,#f4f040,#f4f040,#f4f040,#f4f040,#f4f040,#f4f040,#f4f040,#f4f040,#f4f040,#f4f040,#f4f040,#f4f040,#f4f040,#f4f040)"></i>
<i style="top:210px;height:6px;background:linear-gradient(90deg,#70bfb3,#70bfb3,#6ebcba,#6cb9bf,#6bb8c1,#6cbabd,#6fbeb6,#74c2ab,#81c88d,#95c870,#afc654,#c7bf40,#cebc42,#ebc147,#f4f040,#f4f040,#f4f040,#f4f040,#f4f040,#f4f040,#f4f040,#f4f040,#f4f040,#f4f040,#f4f040,#f4f040,#f4f040,#f4f040,#f4f040,#f4f040,#f4f040,#f4f040,#f4f040,#f4f040,#f4f040,#f4f040,#f4f040,#f4f040,#f4f040,#f4f040,#f4f040,#f4f040,#f4f040,#f4f040,#f4f040,#f4f040,#f4f040,#f4f040,#f4f040)"></i>
<i style="top:215px;height:6px;background:linear-gradient(90deg,#70bfb3,#70bfb3,#6ebcba,#6cb9bf,#6bb8c1,#6cbabd,#6fbeb6,#74c2ab,#81c88d,#95c870,#afc654,#c7bf40,#cebc42,#ebc147,#f4f040,#f4f040,#f4f040,#f4f040,#f4f040,#f4f040,#f4f040,#f4f040,#f4f040,#f4f040,#f4f040,#f4f040,#f4f040,#f4f040,#f4f040,#f4f040,#f4f040,#f4f040,#f4f040,#f4f040,#f4f040,#f4f040,#f4f040,#f4f040,#f4f040,#f4f040,#f4f040,#f4f040,#f4f040,#f4f040,#f4f040,#f4f040,#f4f040,#f4f040,#f4f040)"></i>
</div></div>
<div class="fo" style="left:760.8px;top:818.0px;width:562.9px;height:196.8px">
<div class="fi" style="left:-10px;top:-10px;width:582.9px;height:220px;filter:blur(2.5px)">
<i style="top:0px;height:6px;background:linear-gradient(90deg,#c7bf40,#c8bf40,#c8bf41,#cabe41,#ebc247,#cbbe41,#c9bf41,#cabe41,#cdbd42,#ccbe41,#c9bf41,#c8bf40,#c7c040,#c9bf41,#c8bf40,#c7bf40,#c7bf40,#c9bf41,#cabe41,#cebd42,#e1b648,#e7b749,#cfbc42,#cabe41,#c8bf40,#c8bf41,#cbbe41,#d1bb42,#e8ba49,#eccc45,#d9b844,#cabe41,#cfbc42,#e3b549,#ecd544,#f3ef40,#f4f040,#f4f040,#f4f040,#f4f040,#f4f040,#f4f040,#f4f040,#f4f040,#f4f040,#f4f040,#f4f040,#f4f040,#f4f040)"></i>
<i style="top:5px;height:6px;background:linear-gradient(90deg,#c7bf40,#c8bf40,#c8bf41,#cabe41,#ebc247,#cbbe41,#c9bf41,#cabe41,#cdbd42,#ccbe41,#c9bf41,#c8bf40,#c7c040,#c9bf41,#c8bf40,#c7bf40,#c7bf40,#c9bf41,#cabe41,#cebd42,#e1b648,#e7b749,#cfbc42,#cabe41,#c8bf40,#c8bf41,#cbbe41,#d1bb42,#e8ba49,#eccc45,#d9b844,#cabe41,#cfbc42,#e3b549,#ecd544,#f3ef40,#f4f040,#f4f040,#f4f040,#f4f040,#f4f040,#f4f040,#f4f040,#f4f040,#f4f040,#f4f040,#f4f040,#f4f040,#f4f040)"></i>
<i style="top:10px;height:6px;background:linear-gradient(90deg,#c6c040,#c6c040,#c6c040,#c7c040,#ebc247,#c7c040,#c6c040,#c7c040,#c7bf40,#c7c040,#c6c040,#c6c040,#c6c040,#c8bf40,#c8bf40,#c7c040,#c7c040,#c8bf40,#c9bf41,#ccbd41,#dab745,#e4b549,#cdbd41,#c9bf41,#c7bf40,#c8bf40,#cabe41,#d0bc42,#e7b64a,#eccb45,#d6b944,#cabe41,#cebc42,#e3b549,#ecd544,#f4ef40,#f4f040,#f4f040,#f4f040,#f4f040,#f4f040,#f4f040,#f4f040,#f4f040,#f4f040,#f4f040,#f4f040,#f4f040,#f4f040)"></i>
<i style="top:15px;height:6px;background:linear-gradient(90deg,#bfc246,#bfc246,#bdc347,#b4c54e,#bfc245,#b3c64f,#bbc349,#b7c54c,#a7c75d,#b0c652,#bbc349,#bec246,#c2c143,#c4c142,#c4c141,#c6c040,#c5c041,#c4c142,#c3c142,#c1c144,#b9c44a,#c3c142,#c0c244,#c3c142,#c5c041,#c7c040,#c7bf40,#c9bf41,#d1bb42,#e0b648,#cabe41,#c7c040,#cbbe41,#e1b648,#ecd344,#f4f040,#f4f040,#f4f040,#f4f040,#f4f040,#f4f040,#f4f040,#f4f040,#f4f040,#f4f040,#f4f040,#f4f040,#f4f040,#f4f040)"></i>
<i style="top:20px;height:6px;background:linear-gradient(90deg,#b6c54d,#b5c54d,#b0c652,#a2c862,#8ec878,#a1c863,#acc757,#a6c75d,#8ac87e,#9cc869,#adc756,#b2c650,#b7c44c,#b9c44a,#bcc348,#c1c244,#bfc246,#bcc348,#b8c44b,#b0c652,#93c872,#8cc87b,#aec655,#b9c44a,#bec246,#c1c144,#c1c244,#bdc347,#aec655,#a0c864,#bac44a,#c5c040,#c8bf40,#ddb746,#eccf45,#f3ee40,#f4f040,#f4f040,#f4f040,#f4f040,#f4f040,#f4f040,#f4f040,#f4f040,#f4f040,#f4f040,#f4f040,#f4f040,#f4f040)"></i>
<i style="top:25px;height:6px;background:linear-gradient(90deg,#adc756,#acc756,#a5c75e,#96c870,#8ec878,#96c86f,#9fc865,#99c86b,#8ac87e,#91c874,#a0c864,#a6c75d,#aac759,#adc756,#b1c651,#b6c54d,#b5c54e,#b1c651,#adc756,#a2c862,#8ac87e,#88c882,#9fc865,#aec655,#b5c54e,#b8c44b,#b7c44c,#b1c652,#9cc869,#8ec878,#adc755,#c0c245,#c6c040,#d9b844,#ecca45,#f1ea41,#f4f040,#f4f040,#f4f040,#f4f040,#f4f040,#f4f040,#f4f040,#f4f040,#f4f040,#f4f040,#f4f040,#f4f040,#f4f040)"></i>
<i style="top:30px;height:6px;background:linear-gradient(90deg,#a5c75f,#a4c85f,#9cc869,#8cc87c,#8ac87f,#8fc876,#95c870,#90c876,#88c882,#8bc87d,#94c871,#9ac86b,#9dc867,#a0c864,#a5c75e,#aac759,#aac759,#a7c75c,#a2c862,#96c86f,#85c887,#83c88a,#95c870,#a4c860,#acc757,#afc653,#aec654,#a7c75c,#96c86f,#8fc877,#a7c75c,#bbc349,#c5c041,#d5b943,#ecc446,#f0e641,#f4f040,#f4f040,#f4f040,#f4f040,#f4f040,#f4f040,#f4f040,#f4f040,#f4f040,#f4f040,#f4f040,#f4f040,#f4f040)"></i>
<i style="top:35px;height:6px;background:linear-gradient(90deg,#9fc866,#9ec866,#94c871,#83c88a,#85c888,#8ac87e,#8dc87a,#89c880,#84c888,#85c887,#8ac87f,#8ec878,#90c876,#92c873,#99c86b,#9fc865,#a0c864,#9dc867,#98c86d,#8dc87a,#7ec794,#7cc798,#8dc87a,#9bc869,#a3c861,#a6c75d,#a6c75d,#a0c864,#95c871,#93c873,#a5c75f,#b7c54c,#c2c143,#d3ba43,#e9bd48,#eee342,#f4f040,#f4f040,#f4f040,#f4f040,#f4f040,#f4f040,#f4f040,#f4f040,#f4f040,#f4f040,#f4f040,#f4f040,#f4f040)"></i>
<i style="top:40px;height:6px;background:linear-gradient(90deg,#9ac86a,#9ac86b,#90c876,#7fc791,#81c88d,#86c885,#87c884,#83c88a,#7fc792,#7fc793,#81c88d,#84c888,#85c887,#86c886,#8ec878,#95c871,#96c86f,#94c872,#8fc877,#87c884,#7ac69c,#78c6a0,#87c883,#93c872,#9bc86a,#9ec866,#9fc866,#9bc86a,#94c872,#95c871,#a4c860,#b4c54f,#c0c245,#d2bb43,#e7b749,#eedf42,#f4f040,#f4f040,#f4f040,#f4f040,#f4f040,#f4f040,#f4f040,#f4f040,#f4f040,#f4f040,#f4f040,#f4f040,#f4f040)"></i>
<i style="top:45px;height:6px;background:linear-gradient(90deg,#98c86d,#97c86d,#8ec878,#80c890,#80c890,#83c88b,#82c88c,#7dc795,#79c69d,#78c6a0,#78c69f,#7bc79a,#7bc79a,#79c69e,#85c887,#8cc87c,#8dc87a,#8bc87d,#88c882,#82c88c,#79c69f,#78c6a0,#84c889,#8dc87a,#93c872,#97c86e,#98c86d,#96c86f,#92c873,#95c870,#a3c860,#b2c650,#bfc246,#d1bb43,#e4b549,#eddd43,#f4f040,#f4f040,#f4f040,#f4f040,#f4f040,#f4f040,#f4f040,#f4f040,#f4f040,#f4f040,#f4f040,#f4f040,#f4f040)"></i>
<i style="top:50px;height:6px;background:linear-gradient(90deg,#97c86e,#97c86e,#8ec878,#82c88c,#80c891,#7fc791,#7dc796,#78c6a1,#74c3a9,#73c2ac,#72c1ae,#74c2aa,#74c3a9,#71c0b2,#7ec795,#85c887,#86c886,#84c889,#81c88d,#7dc795,#78c6a1,#78c6a1,#80c88f,#88c882,#8cc87b,#8fc877,#92c874,#92c874,#90c876,#94c871,#a3c861,#b1c651,#bdc347,#d2bb43,#e3b549,#eddd43,#f4f040,#f4f040,#f4f040,#f4f040,#f4f040,#f4f040,#f4f040,#f4f040,#f4f040,#f4f040,#f4f040,#f4f040,#f4f040)"></i>
<i style="top:55px;height:6px;background:linear-gradient(90deg,#96c86f,#96c86f,#8ec879,#84c889,#7fc791,#7dc796,#79c69e,#74c2ab,#70bfb3,#70bfb4,#6fbeb6,#70bfb3,#71c0b2,#70bfb3,#78c69f,#7fc793,#7fc793,#7cc799,#7bc79a,#79c69d,#77c5a4,#77c5a2,#7ec795,#84c889,#87c884,#89c880,#8dc87a,#8ec878,#8dc879,#92c874,#a1c862,#b2c650,#bbc349,#d3ba43,#e6b44a,#eee142,#f4f040,#f4f040,#f4f040,#f4f040,#f4f040,#f4f040,#f4f040,#f4f040,#f4f040,#f4f040,#f4f040,#f4f040,#f4f040)"></i>
<i style="top:60px;height:6px;background:linear-gradient(90deg,#93c872,#93c872,#8dc87a,#84c888,#7fc792,#7bc79a,#76c4a5,#71c0b2,#6fbdb7,#6ebcba,#6ebdb8,#6fbeb6,#70bfb4,#70bfb3,#76c4a6,#7ac69d,#78c6a0,#74c3a9,#76c4a6,#77c5a4,#75c4a7,#76c4a5,#7bc799,#80c88f,#82c88d,#84c889,#89c881,#8bc87d,#8bc87d,#8dc879,#9fc865,#b2c650,#bac449,#d7b844,#eabe48,#f1ea41,#f4f040,#f4f040,#f4f040,#f4f040,#f4f040,#f4f040,#f4f040,#f4f040,#f4f040,#f4f040,#f4f040,#f4f040,#f4f040)"></i>
<i style="top:65px;height:6px;background:linear-gradient(90deg,#90c875,#90c876,#8bc87c,#84c888,#7fc793,#79c69d,#74c3aa,#70bfb4,#6bb8c1,#6bb9bf,#6dbbbb,#6ebdb8,#70beb5,#70bfb4,#74c2ab,#76c4a5,#74c2aa,#6fbeb6,#72c1b0,#74c3a9,#74c3aa,#75c3a9,#79c69d,#7dc795,#7dc796,#7ec793,#85c886,#88c881,#88c881,#89c881,#9dc867,#b0c652,#b9c44a,#ddb746,#ecc646,#f4f040,#f4f040,#f4f040,#f4f040,#f4f040,#f4f040,#f4f040,#f4f040,#f4f040,#f4f040,#f4f040,#f4f040,#f4f040,#f4f040)"></i>
<i style="top:70px;height:6px;background:linear-gradient(90deg,#8ec878,#8ec879,#8ac87e,#84c888,#7ec794,#78c6a0,#73c1ae,#70beb5,#69b5c6,#6ab7c3,#6cb9be,#6dbbbb,#6fbdb7,#70bfb4,#72c1af,#74c2ab,#71c0b1,#6ebcb9,#70bfb5,#73c2ad,#73c2ab,#74c2aa,#78c6a0,#7bc799,#7bc79a,#7cc798,#83c88a,#87c884,#87c884,#87c884,#9bc869,#adc755,#b9c44a,#e1b648,#eccc45,#f4f040,#f4f040,#f4f040,#f4f040,#f4f040,#f4f040,#f4f040,#f4f040,#f4f040,#f4f040,#f4f040,#f4f040,#f4f040,#f4f040)"></i>
<i style="top:75px;height:6px;background:linear-gradient(90deg,#8cc87b,#8cc87b,#8ac87f,#84c889,#7ec795,#77c5a3,#71c0b1,#6fbeb7,#69b6c5,#6ab6c4,#6bb8c1,#6cbabe,#6ebcba,#70bfb5,#71c0b2,#72c1af,#70bfb4,#6ebcb9,#6fbeb5,#72c1af,#73c2ac,#74c2aa,#77c5a2,#7ac69c,#7bc79b,#7cc799,#82c88c,#86c886,#87c884,#88c882,#9bc869,#adc756,#b9c44a,#dfb647,#ecd244,#f4f040,#f4f040,#f4f040,#f4f040,#f4f040,#f4f040,#f4f040,#f4f040,#f4f040,#f4f040,#f4f040,#f4f040,#f4f040,#f4f040)"></i>
<i style="top:80px;height:6px;background:linear-gradient(90deg,#8bc87d,#8bc87d,#89c880,#84c889,#7dc796,#76c4a5,#71c0b2,#6ebdb8,#6ab7c3,#69b6c5,#6ab7c3,#6bb8c1,#6cb9bf,#6ebdb8,#70bfb4,#71c0b2,#70bfb4,#6fbdb7,#70beb5,#72c1af,#73c2ac,#74c3a9,#77c5a3,#79c69e,#7ac69b,#7cc797,#81c88d,#85c887,#87c883,#8bc87d,#9dc868,#aec655,#bbc349,#ddb646,#edda43,#f4f040,#f4f040,#f4f040,#f4f040,#f4f040,#f4f040,#f4f040,#f4f040,#f4f040,#f4f040,#f4f040,#f4f040,#f4f040,#f4f040)"></i>
<i style="top:85px;height:6px;background:linear-gradient(90deg,#8bc87e,#8ac87e,#8ac87f,#84c889,#7cc797,#76c4a6,#71bfb3,#6ebcb9,#6ab7c2,#69b5c6,#69b5c6,#6ab7c3,#6ab7c3,#6dbbbb,#70bfb5,#71c0b3,#70bfb4,#6fbeb6,#70bfb4,#72c1b0,#73c2ac,#75c3a9,#77c5a3,#79c69e,#7ac69b,#7dc797,#81c88e,#85c887,#88c882,#8ec878,#9fc865,#b0c652,#bdc347,#dfb647,#eee242,#f4f040,#f4f040,#f4f040,#f4f040,#f4f040,#f4f040,#f4f040,#f4f040,#f4f040,#f4f040,#f4f040,#f4f040,#f4f040,#f4f040)"></i>
<i style="top:90px;height:6px;background:linear-gradient(90deg,#8ac87e,#8ac87e,#89c880,#83c88a,#7cc798,#75c3a7,#70bfb4,#6ebcb9,#6bb8c1,#69b5c6,#68b4c7,#6ab6c4,#6ab7c3,#6dbbbc,#70bfb5,#70bfb3,#70bfb4,#70beb5,#70bfb3,#72c1af,#73c2ac,#75c3a8,#77c5a3,#79c69f,#7ac69b,#7dc796,#81c88e,#85c888,#88c881,#90c876,#a2c861,#b5c54e,#c0c245,#e1b548,#f1ea41,#f4f040,#f4f040,#f4f040,#f4f040,#f4f040,#f4f040,#f4f040,#f4f040,#f4f040,#f4f040,#f4f040,#f4f040,#f4f040,#f4f040)"></i>
<i style="top:95px;height:6px;background:linear-gradient(90deg,#8bc87e,#8ac87e,#89c881,#83c88b,#7cc799,#75c3a8,#70bfb4,#6ebcba,#6bb8c1,#68b5c7,#68b4c8,#69b6c4,#6ab7c2,#6dbbbc,#70bfb5,#70bfb3,#70bfb4,#70bfb4,#71c0b2,#72c1af,#73c2ab,#75c3a8,#77c5a3,#78c69f,#7ac69b,#7dc796,#81c88f,#85c888,#89c881,#90c876,#a5c75e,#bbc349,#c5c041,#e2b548,#f4f040,#f4f040,#f4f040,#f4f040,#f4f040,#f4f040,#f4f040,#f4f040,#f4f040,#f4f040,#f4f040,#f4f040,#f4f040,#f4f040,#f4f040)"></i>
<i style="top:100px;height:6px;background:linear-gradient(90deg,#8bc87d,#8bc87d,#88c882,#82c88c,#7bc799,#74c3a9,#70bfb4,#6ebcba,#6ab7c2,#68b4c7,#68b4c8,#6ab6c4,#6bb8c0,#6dbbbb,#70bfb5,#71bfb3,#70bfb3,#70bfb3,#71c0b1,#72c1ae,#74c2ab,#75c3a7,#77c5a3,#78c69f,#7ac69b,#7dc796,#80c88f,#85c888,#89c881,#8fc877,#a8c75b,#c1c244,#c6c040,#e1b548,#f4ef40,#f4f040,#f4f040,#f4f040,#f4f040,#f4f040,#f4f040,#f4f040,#f4f040,#f4f040,#f4f040,#f4f040,#f4f040,#f4f040,#f4f040)"></i>
<i style="top:105px;height:6px;background:linear-gradient(90deg,#8cc87c,#8cc87c,#88c882,#81c88d,#7bc799,#74c3a9,#70bfb4,#6dbbbb,#6ab7c3,#68b4c8,#68b5c7,#6ab7c3,#6cb9bf,#6ebcba,#70bfb5,#71bfb3,#70bfb3,#71c0b2,#71c0b1,#72c1ae,#74c2ab,#75c3a7,#77c5a3,#78c69f,#7ac69c,#7cc797,#80c890,#84c888,#89c881,#8cc87c,#a9c75a,#c5c041,#c6c040,#e1b548,#f4ef40,#f4f040,#f4f040,#f4f040,#f4f040,#f4f040,#f4f040,#f4f040,#f4f040,#f4f040,#f4f040,#f4f040,#f4f040,#f4f040,#f4f040)"></i>
<i style="top:110px;height:6px;background:linear-gradient(90deg,#8dc879,#8dc87a,#88c881,#80c88f,#7cc799,#75c3a8,#70bfb4,#6dbbbb,#6ab6c3,#68b3c9,#69b5c7,#6bb8c1,#6cbabd,#6ebcb9,#70bfb4,#70bfb3,#71bfb3,#71c0b2,#71c0b0,#73c1ae,#74c2ab,#75c4a7,#77c5a3,#78c69f,#7ac69c,#7cc798,#80c890,#84c888,#89c881,#8ac87e,#a7c75d,#c7c040,#c6c040,#e1b548,#f4ef40,#f4f040,#f4f040,#f4f040,#f4f040,#f4f040,#f4f040,#f4f040,#f4f040,#f4f040,#f4f040,#f4f040,#f4f040,#f4f040,#f4f040)"></i>
<i style="top:115px;height:6px;background:linear-gradient(90deg,#90c876,#8fc877,#8ac87f,#7fc792,#7cc798,#75c4a7,#70bfb4,#6dbbbb,#6ab6c4,#68b3ca,#69b5c6,#6bb8c0,#6dbbbb,#6fbdb8,#70bfb4,#70bfb3,#71c0b2,#71c0b2,#72c0b0,#73c1ad,#74c2aa,#75c4a7,#77c5a3,#78c69f,#7ac69c,#7bc79a,#80c891,#84c889,#88c882,#8bc87e,#a4c85f,#c7c040,#c6c040,#e1b548,#f4ef40,#f4f040,#f4f040,#f4f040,#f4f040,#f4f040,#f4f040,#f4f040,#f4f040,#f4f040,#f4f040,#f4f040,#f4f040,#f4f040,#f4f040)"></i>
<i style="top:120px;height:6px;background:linear-gradient(90deg,#93c873,#93c873,#8cc87c,#7fc792,#7cc798,#75c4a7,#70bfb4,#6dbbbb,#6ab7c3,#68b3ca,#69b6c4,#6cbabe,#6ebcba,#6fbeb7,#70bfb4,#70bfb3,#71c0b2,#71c0b1,#72c0b0,#73c1ad,#74c2aa,#75c4a7,#77c5a3,#78c6a0,#7ac69c,#7bc79a,#7fc791,#84c889,#88c882,#8ac87f,#a4c85f,#c7c040,#c6c040,#e1b548,#f4ef40,#f4f040,#f4f040,#f4f040,#f4f040,#f4f040,#f4f040,#f4f040,#f4f040,#f4f040,#f4f040,#f4f040,#f4f040,#f4f040,#f4f040)"></i>
<i style="top:125px;height:6px;background:linear-gradient(90deg,#96c86f,#96c86f,#8fc877,#81c88d,#7cc798,#75c4a6,#70bfb4,#6ebcba,#6bb8c1,#68b4c7,#6bb8c1,#6dbbbb,#6ebdb8,#6fbeb6,#70bfb4,#70bfb3,#71c0b2,#71c0b1,#72c0b0,#73c1ad,#74c2aa,#75c4a7,#77c5a3,#78c6a0,#7ac69c,#7bc79a,#7fc791,#84c889,#88c883,#8ac87f,#a4c85f,#c7c040,#c6c040,#e1b548,#f4ef40,#f4f040,#f4f040,#f4f040,#f4f040,#f4f040,#f4f040,#f4f040,#f4f040,#f4f040,#f4f040,#f4f040,#f4f040,#f4f040,#f4f040)"></i>
<i style="top:130px;height:6px;background:linear-gradient(90deg,#97c86e,#97c86e,#91c875,#84c889,#7cc797,#76c4a6,#70bfb4,#6ebcb9,#6cbabe,#6bb8c1,#6cbabd,#6ebcb9,#6fbeb6,#70bfb5,#70bfb4,#70bfb3,#71c0b2,#71c0b1,#72c0b0,#73c1ad,#74c2aa,#75c4a7,#77c5a3,#78c6a0,#7ac69c,#7bc79a,#7fc791,#84c889,#88c883,#8ac87f,#a4c85f,#c7c040,#c6c040,#e1b548,#f4ef40,#f4f040,#f4f040,#f4f040,#f4f040,#f4f040,#f4f040,#f4f040,#f4f040,#f4f040,#f4f040,#f4f040,#f4f040,#f4f040,#f4f040)"></i>
<i style="top:135px;height:6px;background:linear-gradient(90deg,#97c86e,#97c86e,#91c875,#85c887,#7dc796,#76c4a6,#70bfb4,#6fbdb7,#6ebcba,#6dbbbb,#6ebcb9,#6fbeb6,#70bfb5,#70bfb4,#70bfb4,#70bfb3,#71c0b3,#71c0b1,#72c0b0,#73c1ad,#74c2aa,#75c4a7,#77c5a3,#78c6a0,#7ac69c,#7bc79a,#7fc791,#84c889,#88c883,#8ac87f,#a4c85f,#c7c040,#c6c040,#e1b548,#f4ef40,#f4f040,#f4f040,#f4f040,#f4f040,#f4f040,#f4f040,#f4f040,#f4f040,#f4f040,#f4f040,#f4f040,#f4f040,#f4f040,#f4f040)"></i>
<i style="top:140px;height:6px;background:linear-gradient(90deg,#95c870,#95c871,#8fc877,#85c886,#7dc796,#76c4a6,#70bfb4,#6fbeb5,#6fbeb7,#6fbeb6,#6fbeb5,#70bfb4,#70bfb4,#70bfb4,#70bfb4,#70bfb3,#71c0b3,#71c0b1,#72c0b0,#73c1ad,#74c2aa,#75c4a7,#77c5a3,#78c6a0,#7ac69c,#7bc79a,#7fc791,#84c889,#88c883,#8ac87f,#a4c85f,#c7c040,#c6c040,#e1b548,#f4ef40,#f4f040,#f4f040,#f4f040,#f4f040,#f4f040,#f4f040,#f4f040,#f4f040,#f4f040,#f4f040,#f4f040,#f4f040,#f4f040,#f4f040)"></i>
<i style="top:145px;height:6px;background:linear-gradient(90deg,#94c871,#92c873,#8dc87a,#85c886,#7ec795,#76c4a5,#70bfb3,#70bfb4,#70bfb4,#70bfb4,#70bfb3,#70bfb4,#70bfb4,#70bfb4,#70bfb4,#70bfb3,#71c0b3,#71c0b1,#72c0b0,#73c1ad,#74c2aa,#75c4a7,#77c5a3,#78c6a0,#7ac69c,#7bc79a,#7fc791,#84c889,#88c883,#8ac87f,#a4c85f,#c7c040,#c6c040,#e1b548,#f4ef40,#f4f040,#f4f040,#f4f040,#f4f040,#f4f040,#f4f040,#f4f040,#f4f040,#f4f040,#f4f040,#f4f040,#f4f040,#f4f040,#f4f040)"></i>
<i style="top:150px;height:6px;background:linear-gradient(90deg,#94c871,#90c875,#8cc87c,#85c886,#7ec794,#76c5a4,#71c0b1,#70bfb4,#70bfb3,#70bfb4,#71c0b2,#70bfb4,#70bfb4,#70bfb4,#70bfb4,#70bfb3,#71c0b3,#71c0b1,#72c0b0,#73c1ad,#74c2aa,#75c4a7,#77c5a3,#78c6a0,#7ac69c,#7bc79a,#7fc791,#84c889,#88c883,#8ac87f,#a4c85f,#c7c040,#c6c040,#e1b548,#f4ef40,#f4f040,#f4f040,#f4f040,#f4f040,#f4f040,#f4f040,#f4f040,#f4f040,#f4f040,#f4f040,#f4f040,#f4f040,#f4f040,#f4f040)"></i>
<i style="top:155px;height:6px;background:linear-gradient(90deg,#94c871,#8fc877,#8bc87e,#85c886,#7ec793,#77c5a3,#72c1af,#70bfb3,#70bfb3,#70bfb4,#71c0b2,#70bfb4,#70bfb4,#70bfb4,#70bfb4,#70bfb3,#71c0b3,#71c0b1,#72c0b0,#73c1ad,#74c2aa,#75c4a7,#77c5a3,#78c6a0,#7ac69c,#7bc79a,#7fc791,#84c889,#88c883,#8ac87f,#a4c85f,#c7c040,#c6c040,#e1b548,#f4ef40,#f4f040,#f4f040,#f4f040,#f4f040,#f4f040,#f4f040,#f4f040,#f4f040,#f4f040,#f4f040,#f4f040,#f4f040,#f4f040,#f4f040)"></i>
<i style="top:160px;height:6px;background:linear-gradient(90deg,#94c871,#8fc877,#8ac87f,#86c886,#7fc793,#77c5a3,#72c1af,#70bfb3,#70bfb3,#70bfb4,#71c0b2,#70bfb4,#70bfb4,#70bfb4,#70bfb4,#70bfb3,#71c0b3,#71c0b1,#72c0b0,#73c1ad,#74c2aa,#75c4a7,#77c5a3,#78c6a0,#7ac69c,#7bc79a,#7fc791,#84c889,#88c883,#8ac87f,#a4c85f,#c7c040,#c6c040,#e1b548,#f4ef40,#f4f040,#f4f040,#f4f040,#f4f040,#f4f040,#f4f040,#f4f040,#f4f040,#f4f040,#f4f040,#f4f040,#f4f040,#f4f040,#f4f040)"></i>
<i style="top:165px;height:6px;background:linear-gradient(90deg,#94c871,#8fc877,#8ac87f,#86c885,#7fc793,#77c5a3,#72c1af,#70bfb3,#70bfb3,#70bfb4,#71c0b2,#70bfb4,#70bfb4,#70bfb4,#70bfb4,#70bfb3,#71c0b3,#71c0b1,#72c0b0,#73c1ad,#74c2aa,#75c4a7,#77c5a3,#78c6a0,#7ac69c,#7bc79a,#7fc791,#84c889,#88c883,#8ac87f,#a4c85f,#c7c040,#c6c040,#e1b548,#f4ef40,#f4f040,#f4f040,#f4f040,#f4f040,#f4f040,#f4f040,#f4f040,#f4f040,#f4f040,#f4f040,#f4f040,#f4f040,#f4f040,#f4f040)"></i>
<i style="top:170px;height:6px;background:linear-gradient(90deg,#94c871,#8fc877,#8ac87f,#86c885,#7fc793,#77c5a3,#72c1af,#70bfb3,#70bfb3,#70bfb4,#71c0b2,#70bfb4,#70bfb4,#70bfb4,#70bfb4,#70bfb3,#71c0b3,#71c0b1,#72c0b0,#73c1ad,#74c2aa,#75c4a7,#77c5a3,#78c6a0,#7ac69c,#7bc79a,#7fc791,#84c889,#88c883,#8ac87f,#a4c85f,#c7c040,#c6c040,#e1b548,#f4ef40,#f4f040,#f4f040,#f4f040,#f4f040,#f4f040,#f4f040,#f4f040,#f4f040,#f4f040,#f4f040,#f4f040,#f4f040,#f4f040,#f4f040)"></i>
<i style="top:175px;height:6px;background:linear-gradient(90deg,#94c871,#8fc877,#8ac87f,#86c885,#7fc793,#77c5a3,#72c1af,#70bfb3,#70bfb3,#70bfb4,#71c0b2,#70bfb4,#70bfb4,#70bfb4,#70bfb4,#70bfb3,#71c0b3,#71c0b1,#72c0b0,#73c1ad,#74c2aa,#75c4a7,#77c5a3,#78c6a0,#7ac69c,#7bc79a,#7fc791,#84c889,#88c883,#8ac87f,#a4c85f,#c7c040,#c6c040,#e1b548,#f4ef40,#f4f040,#f4f040,#f4f040,#f4f040,#f4f040,#f4f040,#f4f040,#f4f040,#f4f040,#f4f040,#f4f040,#f4f040,#f4f040,#f4f040)"></i>
<i style="top:180px;height:6px;background:linear-gradient(90deg,#94c871,#8fc877,#8ac87f,#86c885,#7fc793,#77c5a3,#72c1af,#70bfb3,#70bfb3,#70bfb4,#71c0b2,#70bfb4,#70bfb4,#70bfb4,#70bfb4,#70bfb3,#71c0b3,#71c0b1,#72c0b0,#73c1ad,#74c2aa,#75c4a7,#77c5a3,#78c6a0,#7ac69c,#7bc79a,#7fc791,#84c889,#88c883,#8ac87f,#a4c85f,#c7c040,#c6c040,#e1b548,#f4ef40,#f4f040,#f4f040,#f4f040,#f4f040,#f4f040,#f4f040,#f4f040,#f4f040,#f4f040,#f4f040,#f4f040,#f4f040,#f4f040,#f4f040)"></i>
<i style="top:185px;height:6px;background:linear-gradient(90deg,#94c871,#8fc877,#8ac87f,#86c885,#7fc793,#77c5a3,#72c1af,#70bfb3,#70bfb3,#70bfb4,#71c0b2,#70bfb4,#70bfb4,#70bfb4,#70bfb4,#70bfb3,#71c0b3,#71c0b1,#72c0b0,#73c1ad,#74c2aa,#75c4a7,#77c5a3,#78c6a0,#7ac69c,#7bc79a,#7fc791,#84c889,#88c883,#8ac87f,#a4c85f,#c7c040,#c6c040,#e1b548,#f4ef40,#f4f040,#f4f040,#f4f040,#f4f040,#f4f040,#f4f040,#f4f040,#f4f040,#f4f040,#f4f040,#f4f040,#f4f040,#f4f040,#f4f040)"></i>
<i style="top:190px;height:6px;background:linear-gradient(90deg,#94c871,#8fc877,#8ac87f,#86c885,#7fc793,#77c5a3,#72c1af,#70bfb3,#70bfb3,#70bfb4,#71c0b2,#70bfb4,#70bfb4,#70bfb4,#70bfb4,#70bfb3,#71c0b3,#71c0b1,#72c0b0,#73c1ad,#74c2aa,#75c4a7,#77c5a3,#78c6a0,#7ac69c,#7bc79a,#7fc791,#84c889,#88c883,#8ac87f,#a4c85f,#c7c040,#c6c040,#e1b548,#f4ef40,#f4f040,#f4f040,#f4f040,#f4f040,#f4f040,#f4f040,#f4f040,#f4f040,#f4f040,#f4f040,#f4f040,#f4f040,#f4f040,#f4f040)"></i>
<i style="top:195px;height:6px;background:linear-gradient(90deg,#94c871,#8fc877,#8ac87f,#86c885,#7fc793,#77c5a3,#72c1af,#70bfb3,#70bfb3,#70bfb4,#71c0b2,#70bfb4,#70bfb4,#70bfb4,#70bfb4,#70bfb3,#71c0b3,#71c0b1,#72c0b0,#73c1ad,#74c2aa,#75c4a7,#77c5a3,#78c6a0,#7ac69c,#7bc79a,#7fc791,#84c889,#88c883,#8ac87f,#a4c85f,#c7c040,#c6c040,#e1b548,#f4ef40,#f4f040,#f4f040,#f4f040,#f4f040,#f4f040,#f4f040,#f4f040,#f4f040,#f4f040,#f4f040,#f4f040,#f4f040,#f4f040,#f4f040)"></i>
<i style="top:200px;height:6px;background:linear-gradient(90deg,#94c871,#8fc877,#8ac87f,#86c885,#7fc793,#77c5a3,#72c1af,#70bfb3,#70bfb3,#70bfb4,#71c0b2,#70bfb4,#70bfb4,#70bfb4,#70bfb4,#70bfb3,#71c0b3,#71c0b1,#72c0b0,#73c1ad,#74c2aa,#75c4a7,#77c5a3,#78c6a0,#7ac69c,#7bc79a,#7fc791,#84c889,#88c883,#8ac87f,#a4c85f,#c7c040,#c6c040,#e1b548,#f4ef40,#f4f040,#f4f040,#f4f040,#f4f040,#f4f040,#f4f040,#f4f040,#f4f040,#f4f040,#f4f040,#f4f040,#f4f040,#f4f040,#f4f040)"></i>
<i style="top:205px;height:6px;background:linear-gradient(90deg,#94c871,#8fc877,#8ac87f,#86c885,#7fc793,#77c5a3,#72c1af,#70bfb3,#70bfb3,#70bfb4,#71c0b2,#70bfb4,#70bfb4,#70bfb4,#70bfb4,#70bfb3,#71c0b3,#71c0b1,#72c0b0,#73c1ad,#74c2aa,#75c4a7,#77c5a3,#78c6a0,#7ac69c,#7bc79a,#7fc791,#84c889,#88c883,#8ac87f,#a4c85f,#c7c040,#c6c040,#e1b548,#f4ef40,#f4f040,#f4f040,#f4f040,#f4f040,#f4f040,#f4f040,#f4f040,#f4f040,#f4f040,#f4f040,#f4f040,#f4f040,#f4f040,#f4f040)"></i>
<i style="top:210px;height:6px;background:linear-gradient(90deg,#94c871,#8fc877,#8ac87f,#86c885,#7fc793,#77c5a3,#72c1af,#70bfb3,#70bfb3,#70bfb4,#71c0b2,#70bfb4,#70bfb4,#70bfb4,#70bfb4,#70bfb3,#71c0b3,#71c0b1,#72c0b0,#73c1ad,#74c2aa,#75c4a7,#77c5a3,#78c6a0,#7ac69c,#7bc79a,#7fc791,#84c889,#88c883,#8ac87f,#a4c85f,#c7c040,#c6c040,#e1b548,#f4ef40,#f4f040,#f4f040,#f4f040,#f4f040,#f4f040,#f4f040,#f4f040,#f4f040,#f4f040,#f4f040,#f4f040,#f4f040,#f4f040,#f4f040)"></i>
<i style="top:215px;height:6px;background:linear-gradient(90deg,#94c871,#8fc877,#8ac87f,#86c885,#7fc793,#77c5a3,#72c1af,#70bfb3,#70bfb3,#70bfb4,#71c0b2,#70bfb4,#70bfb4,#70bfb4,#70bfb4,#70bfb3,#71c0b3,#71c0b1,#72c0b0,#73c1ad,#74c2aa,#75c4a7,#77c5a3,#78c6a0,#7ac69c,#7bc79a,#7fc791,#84c889,#88c883,#8ac87f,#a4c85f,#c7c040,#c6c040,#e1b548,#f4ef40,#f4f040,#f4f040,#f4f040,#f4f040,#f4f040,#f4f040,#f4f040,#f4f040,#f4f040,#f4f040,#f4f040,#f4f040,#f4f040,#f4f040)"></i>
</div></div>
<div class="fo" style="left:73.6px;top:1061.7px;width:562.9px;height:196.8px">
<div class="fi" style="left:-10px;top:-10px;width:582.9px;height:220px;filter:blur(2.5px)">
<i style="top:0px;height:6px;background:linear-gradient(90deg,#d5b943,#d5b943,#d8b844,#cdbd41,#cdbd42,#cdbd42,#d6b944,#ecd144,#f4f040,#f4f040,#f4f040,#f4f040,#f4f040,#f4f040,#f4f040,#f4f040,#f4f040,#f4f040,#f4f040,#f4f040,#f4f040,#f4f040,#f4f040,#f4f040,#f4f040,#f4f040,#f4f040,#f4f040,#f4f040,#f4f040,#f4f040,#f4f040,#f4f040,#f4f040,#f4f040,#f4f040,#f4f040,#f4f040,#f4f040,#f4f040,#f4f040,#f4f040,#f4f040,#f4f040,#88c882,#7fc793,#7fc793,#7fc793,#7fc793)"></i>
<i style="top:5px;height:6px;background:linear-gradient(90deg,#d5b943,#d5b943,#d8b844,#cdbd41,#cdbd42,#cdbd42,#d6b944,#ecd144,#f4f040,#f4f040,#f4f040,#f4f040,#f4f040,#f4f040,#f4f040,#f4f040,#f4f040,#f4f040,#f4f040,#f4f040,#f4f040,#f4f040,#f4f040,#f4f040,#f4f040,#f4f040,#f4f040,#f4f040,#f4f040,#f4f040,#f4f040,#f4f040,#f4f040,#f4f040,#f4f040,#f4f040,#f4f040,#f4f040,#f4f040,#f4f040,#f4f040,#f4f040,#f4f040,#f4f040,#88c882,#7fc793,#7fc793,#7fc793,#7fc793)"></i>
<i style="top:10px;height:6px;background:linear-gradient(90deg,#d3ba43,#d4ba43,#d8b844,#ccbd41,#ccbd41,#cdbd41,#d4ba43,#ecc945,#efe542,#eddb43,#f4f040,#f4f040,#f4f040,#f4f040,#f4f040,#f4f040,#f4f040,#f4f040,#f4f040,#f4f040,#f4f040,#f4f040,#f4f040,#f4f040,#f4f040,#f4f040,#f4f040,#f4f040,#f4f040,#f4f040,#f4f040,#f4f040,#f4f040,#f4f040,#f4f040,#f4f040,#f4f040,#f4f040,#f4f040,#f4f040,#f4f040,#f4f040,#f4f040,#f4f040,#88c881,#7fc793,#7fc793,#7fc793,#7fc793)"></i>
<i style="top:15px;height:6px;background:linear-gradient(90deg,#cabe41,#cabe41,#cfbc42,#c8bf40,#c8bf40,#cabe41,#cdbd42,#e4b549,#ecc446,#e2b548,#eabe47,#eee142,#f0e641,#f0e841,#f1ea41,#f2ec41,#f3ef40,#f4f040,#f4f040,#f4f040,#f4f040,#f4f040,#f4f040,#f4f040,#f4f040,#f4f040,#f4f040,#f4f040,#f4f040,#f4f040,#f4f040,#f4f040,#f4f040,#f4f040,#f4f040,#f4f040,#f4f040,#f4f040,#f4f040,#f4f040,#f4f040,#f4f040,#f4f040,#f4f040,#8ac87f,#7ec793,#7fc793,#7fc793,#7fc793)"></i>
<i style="top:20px;height:6px;background:linear-gradient(90deg,#bac44a,#bac44a,#b7c54c,#b6c54d,#bdc347,#c5c041,#c6c040,#cebc42,#d6b944,#d7b944,#dfb647,#eccc45,#ecd744,#eddb43,#eddd43,#edd943,#eee142,#f1e941,#f3ee40,#f3ee40,#f3ef40,#f4f040,#f4f040,#f4f040,#f4ef40,#f4f040,#f4f040,#f4f040,#f4f040,#f4f040,#f4f040,#f4f040,#f4f040,#f4f040,#f4f040,#f4f040,#f4f040,#f4f040,#f4f040,#f4f040,#f4f040,#f4f040,#f4f040,#f4f040,#8bc87d,#7ec793,#7fc793,#7fc793,#7fc793)"></i>
<i style="top:25px;height:6px;background:linear-gradient(90deg,#abc758,#aac759,#a5c75e,#9cc868,#acc757,#b9c44a,#bfc246,#c1c244,#c7c040,#ccbd41,#d5b943,#e7b849,#ecc646,#eccd45,#eccd45,#eac047,#ecc945,#eddd43,#eee142,#edd943,#eedf42,#f2ec41,#f2ec41,#f2ec41,#f1e841,#f2ec41,#f4f040,#f4f040,#f4f040,#f4f040,#f4f040,#f4f040,#f4f040,#f4f040,#f4f040,#f4f040,#f4f040,#f4f040,#f4f040,#f4f040,#f4f040,#f4f040,#f4f040,#f4f040,#8bc87d,#7ec793,#7fc793,#7fc793,#7fc793)"></i>
<i style="top:30px;height:6px;background:linear-gradient(90deg,#9ec867,#9dc867,#98c86d,#8ec878,#9ec866,#adc756,#b4c54e,#b8c44b,#c0c245,#c5c041,#cbbe41,#dab745,#e6b54a,#e9bd48,#eabe48,#e3b549,#e8b949,#ecd045,#ecd444,#ebc147,#eccc45,#eee142,#eee342,#eee042,#edde43,#efe542,#f2ec41,#f4f040,#f4f040,#f4f040,#f4f040,#f4f040,#f4f040,#f4f040,#f4f040,#f4f040,#f4f040,#f4f040,#f4f040,#f4f040,#f4f040,#f4f040,#f4f040,#f4f040,#8bc87d,#7ec793,#7fc793,#7fc793,#7fc793)"></i>
<i style="top:35px;height:6px;background:linear-gradient(90deg,#92c873,#92c874,#8fc877,#8ec879,#94c872,#a0c864,#a9c75a,#afc653,#b8c44b,#c0c245,#c6c040,#cebd42,#d9b845,#e2b548,#e4b549,#e1b648,#e5b44a,#ecc446,#ecc746,#e8b949,#ebc147,#ecd644,#edd943,#ecd344,#ecd244,#eddd43,#f0e741,#f3ef40,#f4f040,#f4f040,#f4f040,#f4f040,#f4f040,#f4f040,#f4f040,#f4f040,#f4f040,#f4f040,#f4f040,#f4f040,#f4f040,#f4f040,#f4f040,#f4f040,#8bc87d,#7ec793,#7fc793,#7fc793,#7fc793)"></i>
<i style="top:40px;height:6px;background:linear-gradient(90deg,#89c880,#89c881,#87c883,#88c883,#8bc87d,#95c871,#9fc865,#a7c75d,#afc653,#b8c44b,#c1c144,#c6c040,#cebc42,#d7b944,#dbb745,#ddb746,#e2b548,#e9bb48,#eabf47,#e8b849,#eabe48,#eccd45,#eccf45,#ecc446,#ecc446,#ecd644,#eee242,#f2eb41,#f4f040,#f4f040,#f4f040,#f4f040,#f4f040,#f4f040,#f4f040,#f4f040,#f4f040,#f4f040,#f4f040,#f4f040,#f4f040,#f4f040,#f4f040,#f4f040,#8bc87d,#7ec793,#7fc793,#7fc793,#7fc793)"></i>
<i style="top:45px;height:6px;background:linear-gradient(90deg,#81c88e,#81c88e,#80c891,#80c890,#82c88c,#8ac87e,#95c870,#9ec866,#a6c75d,#afc653,#b9c44a,#c3c143,#c7bf40,#cebd42,#d4ba43,#d8b844,#deb647,#e6b54a,#e8b949,#e7b749,#e9bc48,#ecc546,#ecc646,#e9bc48,#e9bb48,#eccf45,#eddc43,#f0e641,#f3ee40,#f4f040,#f4f040,#f4f040,#f4f040,#f4f040,#f4f040,#f4f040,#f4f040,#f4f040,#f4f040,#f4f040,#f4f040,#f4f040,#f4f040,#f4f040,#8bc87d,#7ec793,#7fc793,#7fc793,#7fc793)"></i>
<i style="top:50px;height:6px;background:linear-gradient(90deg,#79c69e,#79c69f,#78c6a1,#77c5a2,#78c6a1,#81c88e,#8cc87c,#95c870,#9dc867,#a6c75e,#b0c652,#bcc348,#c4c141,#c8bf40,#cdbd42,#d4ba43,#dab745,#e2b548,#e6b44a,#e7b64a,#e8ba49,#eac047,#ebc047,#e8ba49,#e8ba48,#ecca45,#ecd744,#eee142,#f2eb41,#f4f040,#f4f040,#f4f040,#f4f040,#f4f040,#f4f040,#f4f040,#f4f040,#f4f040,#f4f040,#f4f040,#f4f040,#f4f040,#f4f040,#f4f040,#8bc87d,#7ec793,#7fc793,#7fc793,#7fc793)"></i>
<i style="top:55px;height:6px;background:linear-gradient(90deg,#73c2ab,#73c2ac,#72c1af,#71c0b2,#71c0b2,#78c6a0,#85c888,#8dc879,#94c871,#9cc869,#a8c75b,#b4c54e,#bfc246,#c5c041,#c8bf40,#cfbc42,#d6b944,#ddb646,#e3b549,#e6b54a,#e7b849,#e9bc48,#e9bc48,#e8b849,#e8ba49,#ecc646,#ecd244,#eddc43,#f0e641,#f3ee40,#f4f040,#f4f040,#f4f040,#f4f040,#f4f040,#f4f040,#f4f040,#f4f040,#f4f040,#f4f040,#f4f040,#f4f040,#f4f040,#f4f040,#8bc87d,#7ec793,#7fc793,#7fc793,#7fc793)"></i>
<i style="top:60px;height:6px;background:linear-gradient(90deg,#71c0b2,#70bfb3,#6fbeb6,#6dbabc,#6fbeb6,#73c1ad,#7ec794,#87c884,#8bc87c,#92c874,#9fc865,#adc756,#b8c44b,#c1c244,#c6c040,#ccbd41,#d2bb43,#dab845,#e0b648,#e6b44a,#e7b64a,#e8b949,#e8b949,#e7b749,#e8b949,#ebc247,#eccc45,#ecd644,#eee042,#f1ea41,#f4f040,#f4f040,#f4f040,#f4f040,#f4f040,#f4f040,#f4f040,#f4f040,#f4f040,#f4f040,#f4f040,#f4f040,#f4f040,#f4f040,#8bc87d,#7ec793,#7fc793,#7fc793,#7fc793)"></i>
<i style="top:65px;height:6px;background:linear-gradient(90deg,#70bfb3,#70bfb4,#6dbabd,#68b5c7,#6cbabd,#70bfb4,#79c69f,#81c88e,#84c888,#88c882,#97c86e,#a6c75d,#b2c650,#bcc348,#c5c041,#c9bf41,#cebc42,#d6b943,#deb646,#e5b44a,#e6b44a,#e7b64a,#e7b649,#e7b54a,#e7b849,#eabe47,#ecc646,#ecd044,#edda43,#efe442,#f2ec41,#f4f040,#f4f040,#f4f040,#f4f040,#f4f040,#f4f040,#f4f040,#f4f040,#f4f040,#f4f040,#f4f040,#f4f040,#f4f040,#8bc87d,#7ec793,#7fc793,#7fc793,#7fc793)"></i>
<i style="top:70px;height:6px;background:linear-gradient(90deg,#71c0b2,#70bfb3,#6ab7c2,#66afd0,#6ab6c4,#70bfb4,#75c4a7,#7cc798,#7ec795,#7ec793,#8fc877,#a0c864,#acc757,#b6c54d,#c1c144,#c7bf40,#cabe41,#d2bb43,#dbb745,#e4b549,#e5b449,#e5b44a,#e6b44a,#e6b44a,#e6b54a,#e8ba48,#ebc147,#ecca45,#ecd444,#eddd43,#f0e641,#f2ec41,#f4f040,#f4f040,#f4f040,#f4f040,#f4f040,#f4f040,#f4f040,#f4f040,#f4f040,#f4f040,#f4f040,#f4f040,#8bc87d,#7ec793,#7fc793,#7fc793,#7fc793)"></i>
<i style="top:75px;height:6px;background:linear-gradient(90deg,#71c0b2,#70bfb3,#69b5c6,#65acd5,#68b4c9,#6fbeb6,#73c2ac,#78c69f,#79c69d,#78c69f,#8ac87e,#9ac86a,#a7c75d,#b0c652,#bbc349,#c5c041,#c7c040,#cebc42,#d7b844,#dfb647,#e2b548,#e3b549,#e4b549,#e4b549,#e5b449,#e7b649,#e9bb48,#ecc346,#eccd45,#ecd744,#eedf42,#f0e741,#f3ee40,#f4f040,#f4f040,#f4f040,#f4f040,#f4f040,#f4f040,#f4f040,#f4f040,#f4f040,#f4f040,#f4f040,#8bc87d,#7ec793,#7fc793,#7fc793,#7fc793)"></i>
<i style="top:80px;height:6px;background:linear-gradient(90deg,#71c0b1,#70bfb3,#68b4c8,#65acd5,#67b2ca,#6ebdb8,#72c1af,#76c4a5,#78c6a0,#78c69f,#87c883,#96c86f,#a2c862,#aac759,#b3c64f,#c0c245,#c6c040,#cbbe41,#d4ba43,#dbb745,#dfb647,#e1b548,#e2b548,#e1b548,#e2b548,#e5b449,#e7b64a,#e9bd48,#ecc646,#eccf45,#edd843,#eee142,#f1e941,#f3ee40,#f4ef40,#f4f040,#f4f040,#f4f040,#f4f040,#f4f040,#f4f040,#f4f040,#f4f040,#f4f040,#8bc87d,#7ec793,#7fc793,#7fc793,#7fc793)"></i>
<i style="top:85px;height:6px;background:linear-gradient(90deg,#71c0b0,#70bfb3,#68b3ca,#65add4,#67b2cb,#6dbbba,#71c0b2,#75c3a8,#77c5a2,#7ac69c,#86c886,#92c873,#9dc867,#a5c75f,#abc758,#bac44a,#c4c041,#c9bf41,#d1bb42,#d8b844,#dcb746,#dfb647,#e0b648,#dfb647,#deb647,#e1b548,#e6b44a,#e7b749,#eabe47,#ecc746,#ecd144,#eddb43,#efe442,#f2ea41,#f3ed40,#f4ef40,#f4f040,#f4f040,#f4f040,#f4f040,#f4f040,#f4f040,#f4f040,#f4f040,#8bc87d,#7ec793,#7fc793,#7fc793,#7fc793)"></i>
<i style="top:90px;height:6px;background:linear-gradient(90deg,#72c1af,#71bfb3,#67b1cc,#65add4,#67b2cb,#6dbbbc,#70bfb3,#74c2aa,#77c5a3,#7bc799,#85c887,#8fc877,#99c86b,#a0c864,#a3c860,#b4c54e,#c2c143,#c7c040,#cebd42,#d4ba43,#d9b845,#deb646,#dfb647,#dcb746,#dab745,#dcb746,#e4b549,#e4b549,#e7b749,#eabe47,#ecc845,#ecd544,#eedf42,#f0e741,#f2eb41,#f3ee40,#f4f040,#f4f040,#f4f040,#f4f040,#f4f040,#f4f040,#f4f040,#f4f040,#8bc87d,#7ec793,#7fc793,#7fc793,#7fc793)"></i>
<i style="top:95px;height:6px;background:linear-gradient(90deg,#73c1ad,#71c0b2,#66aed2,#65acd5,#67b2cb,#6cbabd,#70bfb4,#73c2ac,#77c5a3,#7cc799,#84c889,#8dc87a,#96c86f,#9ec866,#a1c863,#b0c652,#bfc246,#c6c040,#cbbe41,#d1bb42,#d6b944,#dcb746,#dfb647,#dab845,#d5b943,#d4ba43,#dab745,#ddb746,#e2b548,#e7b54a,#eac047,#eccd45,#edda43,#eee342,#f1e941,#f3ed40,#f4f040,#f4f040,#f4f040,#f4f040,#f4f040,#f4f040,#f4f040,#f4f040,#8bc87d,#7ec793,#7fc793,#7fc793,#7fc793)"></i>
<i style="top:100px;height:6px;background:linear-gradient(90deg,#74c2ab,#71c0b1,#63a8d9,#64abd7,#67b2cc,#6cb9be,#70bfb4,#73c1ad,#77c5a4,#7cc799,#83c88a,#8ac87e,#93c873,#9cc869,#a1c863,#aec655,#bbc349,#c5c041,#c8bf41,#cebd42,#d3ba43,#d9b844,#ddb746,#d6b944,#d0bc42,#cbbe41,#cfbc42,#d6b944,#dbb745,#dfb647,#e7b649,#ecc646,#ecd644,#eee042,#f0e741,#f3ed40,#f4f040,#f4f040,#f4f040,#f4f040,#f4f040,#f4f040,#f4f040,#f4f040,#8bc87d,#7ec793,#7fc793,#7fc793,#7fc793)"></i>
<i style="top:105px;height:6px;background:linear-gradient(90deg,#74c3a9,#71c0b1,#61a5dc,#64aad8,#67b1cc,#6cb9bf,#70bfb4,#72c1ae,#76c5a4,#7bc799,#82c88c,#88c881,#90c876,#9ac86b,#a1c863,#acc757,#b8c44b,#c3c142,#c7c040,#cbbe41,#d0bc42,#d5b943,#d7b844,#d2bb43,#cbbe41,#c6c040,#c8bf40,#cfbc42,#d4ba43,#d7b944,#e0b647,#eabf47,#ecd144,#edde43,#f0e641,#f3ed40,#f4f040,#f4f040,#f4f040,#f4f040,#f4f040,#f4f040,#f4f040,#f4f040,#8bc87d,#7ec793,#7fc793,#7fc793,#7fc793)"></i>
<i style="top:110px;height:6px;background:linear-gradient(90deg,#74c3aa,#71c0b1,#61a5dc,#64aad8,#67b1cc,#6bb9c0,#6fbeb5,#72c1af,#76c4a5,#7bc79a,#81c88e,#86c885,#8dc87a,#97c86e,#a0c864,#aac759,#b4c54e,#c0c245,#c6c040,#c9bf41,#ccbd41,#d0bc42,#d1bb43,#cdbd42,#c8bf40,#c5c041,#c6c040,#cabe41,#cebd42,#cebc42,#d7b944,#e8b949,#ecce45,#eddc43,#f0e641,#f3ed40,#f4f040,#f4f040,#f4f040,#f4f040,#f4f040,#f4f040,#f4f040,#f4f040,#8bc87d,#7ec793,#7fc793,#7fc793,#7fc793)"></i>
<i style="top:115px;height:6px;background:linear-gradient(90deg,#73c2ac,#71c0b2,#64abd7,#65abd6,#67b2cc,#6bb8c0,#6fbeb6,#72c0b0,#76c4a6,#7bc79b,#80c890,#84c889,#8ac87e,#95c870,#9fc865,#a9c75a,#b1c652,#bdc348,#c5c041,#c7c040,#c9bf41,#ccbd41,#ccbd41,#c9bf41,#c6c040,#c0c245,#c3c142,#c7c040,#c9bf41,#c8bf40,#cebc42,#e6b44a,#eccc45,#eddc43,#f0e641,#f3ed40,#f4f040,#f4f040,#f4f040,#f4f040,#f4f040,#f4f040,#f4f040,#f4f040,#8bc87d,#7ec793,#7fc793,#7fc793,#7fc793)"></i>
<i style="top:120px;height:6px;background:linear-gradient(90deg,#72c1ae,#71c0b2,#66afcf,#65add3,#67b2cb,#6bb8c1,#6fbeb7,#71c0b1,#75c4a7,#7ac69c,#7fc792,#82c88b,#88c882,#93c872,#9fc866,#a8c75b,#adc755,#bac44a,#c2c143,#c5c041,#c6c040,#c8bf40,#c8bf40,#c6c040,#c5c041,#bcc348,#c0c244,#c6c040,#c6c040,#ccbd41,#cabe41,#e6b44a,#eccc45,#eddc43,#f0e641,#f3ed40,#f4f040,#f4f040,#f4f040,#f4f040,#f4f040,#f4f040,#f4f040,#f4f040,#8bc87d,#7ec793,#7fc793,#7fc793,#7fc793)"></i>
<i style="top:125px;height:6px;background:linear-gradient(90deg,#72c1af,#71c0b3,#67b2cc,#66aed1,#67b2cb,#6bb8c1,#6fbdb7,#71c0b1,#75c3a7,#7ac69d,#7fc793,#82c88c,#87c884,#92c873,#9ec866,#a8c75b,#acc757,#b7c44c,#bfc246,#c2c143,#c5c041,#c6c040,#c6c040,#c6c040,#c3c142,#bcc348,#bfc245,#c5c041,#c6c040,#cfbc42,#cabe41,#e6b44a,#eccc45,#eddc43,#f0e641,#f3ed40,#f4f040,#f4f040,#f4f040,#f4f040,#f4f040,#f4f040,#f4f040,#f4f040,#8bc87d,#7ec793,#7fc793,#7fc793,#7fc793)"></i>
<i style="top:130px;height:6px;background:linear-gradient(90deg,#72c1ae,#71c0b2,#67b1cc,#66afd1,#67b2cb,#6ab7c2,#6ebdb8,#71c0b2,#75c3a8,#79c69e,#7ec794,#82c88c,#87c884,#91c874,#9dc868,#a7c75c,#acc757,#b6c54d,#bdc347,#bec246,#c1c144,#c5c041,#c6c040,#c6c040,#c3c143,#bdc347,#bfc246,#c4c141,#c6c040,#cfbc42,#cabe41,#e6b44a,#eccc45,#eddc43,#f0e641,#f3ed40,#f4f040,#f4f040,#f4f040,#f4f040,#f4f040,#f4f040,#f4f040,#f4f040,#8bc87d,#7ec793,#7fc793,#7fc793,#7fc793)"></i>
<i style="top:135px;height:6px;background:linear-gradient(90deg,#73c1ad,#71c0b2,#66aed1,#66aed2,#67b2cb,#6ab7c2,#6ebcb9,#71c0b2,#75c3a8,#79c69e,#7ec795,#82c88c,#87c883,#91c875,#9cc869,#a5c75e,#acc757,#b5c54e,#bbc349,#bcc348,#c0c245,#c4c041,#c6c040,#c5c040,#c3c143,#bdc347,#bfc246,#c4c142,#c6c040,#cfbc42,#cabe41,#e6b44a,#eccc45,#eddc43,#f0e641,#f3ed40,#f4f040,#f4f040,#f4f040,#f4f040,#f4f040,#f4f040,#f4f040,#f4f040,#8bc87d,#7ec793,#7fc793,#7fc793,#7fc793)"></i>
<i style="top:140px;height:6px;background:linear-gradient(90deg,#6bb9bf,#6cbabe,#63a9d9,#65add3,#67b2cc,#6ab7c3,#6ebcba,#71c0b2,#74c3a9,#78c69f,#7dc795,#82c88c,#87c883,#90c876,#9bc86a,#a4c85f,#acc757,#b5c54e,#bbc349,#bcc348,#c0c245,#c4c041,#c6c040,#c5c040,#c3c143,#bdc347,#bfc246,#c4c142,#c6c040,#cfbc42,#cabe41,#e6b44a,#eccc45,#eddc43,#f0e641,#f3ed40,#f4f040,#f4f040,#f4f040,#f4f040,#f4f040,#f4f040,#f4f040,#f4f040,#8bc87d,#7ec793,#7fc793,#7fc793,#7fc793)"></i>
<i style="top:145px;height:6px;background:linear-gradient(90deg,#61a5dc,#60a3de,#61a5dc,#65acd4,#67b1cc,#6ab6c4,#6dbcba,#71c0b3,#74c3aa,#78c6a0,#7dc796,#82c88c,#87c883,#8fc877,#9ac86a,#a4c85f,#acc757,#b5c54e,#bbc349,#bcc348,#c0c245,#c4c041,#c6c040,#c5c040,#c3c143,#bdc347,#bfc246,#c4c142,#c6c040,#cfbc42,#cabe41,#e6b44a,#eccc45,#eddc43,#f0e641,#f3ed40,#f4f040,#f4f040,#f4f040,#f4f040,#f4f040,#f4f040,#f4f040,#f4f040,#8bc87d,#7ec793,#7fc793,#7fc793,#7fc793)"></i>
<i style="top:150px;height:6px;background:linear-gradient(90deg,#67b2cc,#67b1ce,#62a7da,#65acd4,#67b1cd,#69b6c4,#6dbbbb,#70bfb4,#74c2aa,#78c6a0,#7dc797,#82c88d,#87c883,#8fc877,#9ac86a,#a4c85f,#acc757,#b5c54e,#bbc349,#bcc348,#c0c245,#c4c041,#c6c040,#c5c040,#c3c143,#bdc347,#bfc246,#c4c142,#c6c040,#cfbc42,#cabe41,#e6b44a,#eccc45,#eddc43,#f0e641,#f3ed40,#f4f040,#f4f040,#f4f040,#f4f040,#f4f040,#f4f040,#f4f040,#f4f040,#8bc87d,#7ec793,#7fc793,#7fc793,#7fc793)"></i>
<i style="top:155px;height:6px;background:linear-gradient(90deg,#6ebcba,#6fbeb6,#65add4,#65add3,#67b1cd,#69b6c5,#6dbbbc,#70bfb4,#74c2ab,#78c6a1,#7cc798,#82c88d,#87c883,#8fc877,#9ac86a,#a4c85f,#acc757,#b5c54e,#bbc349,#bcc348,#c0c245,#c4c041,#c6c040,#c5c040,#c3c143,#bdc347,#bfc246,#c4c142,#c6c040,#cfbc42,#cabe41,#e6b44a,#eccc45,#eddc43,#f0e641,#f3ed40,#f4f040,#f4f040,#f4f040,#f4f040,#f4f040,#f4f040,#f4f040,#f4f040,#8bc87d,#7ec793,#7fc793,#7fc793,#7fc793)"></i>
<i style="top:160px;height:6px;background:linear-gradient(90deg,#6ebcba,#6fbeb6,#66afd0,#65add3,#67b1cd,#69b5c6,#6dbabd,#70bfb4,#74c2ab,#78c6a1,#7cc798,#82c88d,#87c883,#8fc877,#9ac86a,#a4c85f,#acc757,#b5c54e,#bbc349,#bcc348,#c0c245,#c4c041,#c6c040,#c5c040,#c3c143,#bdc347,#bfc246,#c4c142,#c6c040,#cfbc42,#cabe41,#e6b44a,#eccc45,#eddc43,#f0e641,#f3ed40,#f4f040,#f4f040,#f4f040,#f4f040,#f4f040,#f4f040,#f4f040,#f4f040,#8bc87d,#7ec793,#7fc793,#7fc793,#7fc793)"></i>
<i style="top:165px;height:6px;background:linear-gradient(90deg,#6ebcba,#6fbeb6,#66aed1,#65add3,#67b0ce,#69b5c7,#6cbabd,#70bfb4,#74c2ab,#78c6a1,#7cc798,#82c88d,#87c883,#8fc877,#9ac86a,#a4c85f,#acc757,#b5c54e,#bbc349,#bcc348,#c0c245,#c4c041,#c6c040,#c5c040,#c3c143,#bdc347,#bfc246,#c4c142,#c6c040,#cfbc42,#cabe41,#e6b44a,#eccc45,#eddc43,#f0e641,#f3ed40,#f4f040,#f4f040,#f4f040,#f4f040,#f4f040,#f4f040,#f4f040,#f4f040,#8bc87d,#7ec793,#7fc793,#7fc793,#7fc793)"></i>
<i style="top:170px;height:6px;background:linear-gradient(90deg,#6ebcba,#6fbeb6,#65abd6,#65acd4,#66b0ce,#69b5c7,#6cbabd,#70bfb4,#74c2ab,#78c6a1,#7cc798,#82c88d,#87c883,#8fc877,#9ac86a,#a4c85f,#acc757,#b5c54e,#bbc349,#bcc348,#c0c245,#c4c041,#c6c040,#c5c040,#c3c143,#bdc347,#bfc246,#c4c142,#c6c040,#cfbc42,#cabe41,#e6b44a,#eccc45,#eddc43,#f0e641,#f3ed40,#f4f040,#f4f040,#f4f040,#f4f040,#f4f040,#f4f040,#f4f040,#f4f040,#8bc87d,#7ec793,#7fc793,#7fc793,#7fc793)"></i>
<i style="top:175px;height:6px;background:linear-gradient(90deg,#6ebcba,#6fbeb6,#64aad8,#65acd5,#66b0ce,#69b5c7,#6cbabd,#70bfb4,#74c2ab,#78c6a1,#7cc798,#82c88d,#87c883,#8fc877,#9ac86a,#a4c85f,#acc757,#b5c54e,#bbc349,#bcc348,#c0c245,#c4c041,#c6c040,#c5c040,#c3c143,#bdc347,#bfc246,#c4c142,#c6c040,#cfbc42,#cabe41,#e6b44a,#eccc45,#eddc43,#f0e641,#f3ed40,#f4f040,#f4f040,#f4f040,#f4f040,#f4f040,#f4f040,#f4f040,#f4f040,#8bc87d,#7ec793,#7fc793,#7fc793,#7fc793)"></i>
<i style="top:180px;height:6px;background:linear-gradient(90deg,#6ebcba,#6fbeb6,#64aad8,#65acd5,#66b0ce,#69b5c7,#6cbabd,#70bfb4,#74c2ab,#78c6a1,#7cc798,#82c88d,#87c883,#8fc877,#9ac86a,#a4c85f,#acc757,#b5c54e,#bbc349,#bcc348,#c0c245,#c4c041,#c6c040,#c5c040,#c3c143,#bdc347,#bfc246,#c4c142,#c6c040,#cfbc42,#cabe41,#e6b44a,#eccc45,#eddc43,#f0e641,#f3ed40,#f4f040,#f4f040,#f4f040,#f4f040,#f4f040,#f4f040,#f4f040,#f4f040,#8bc87d,#7ec793,#7fc793,#7fc793,#7fc793)"></i>
<i style="top:185px;height:6px;background:linear-gradient(90deg,#6ebcba,#6fbeb6,#64aad8,#65acd5,#66b0ce,#69b5c7,#6cbabd,#70bfb4,#74c2ab,#78c6a1,#7cc798,#82c88d,#87c883,#8fc877,#9ac86a,#a4c85f,#acc757,#b5c54e,#bbc349,#bcc348,#c0c245,#c4c041,#c6c040,#c5c040,#c3c143,#bdc347,#bfc246,#c4c142,#c6c040,#cfbc42,#cabe41,#e6b44a,#eccc45,#eddc43,#f0e641,#f3ed40,#f4f040,#f4f040,#f4f040,#f4f040,#f4f040,#f4f040,#f4f040,#f4f040,#8bc87d,#7ec793,#7fc793,#7fc793,#7fc793)"></i>
<i style="top:190px;height:6px;background:linear-gradient(90deg,#6ebcba,#6fbeb6,#64aad8,#65acd5,#66b0ce,#69b5c7,#6cbabd,#70bfb4,#74c2ab,#78c6a1,#7cc798,#82c88d,#87c883,#8fc877,#9ac86a,#a4c85f,#acc757,#b5c54e,#bbc349,#bcc348,#c0c245,#c4c041,#c6c040,#c5c040,#c3c143,#bdc347,#bfc246,#c4c142,#c6c040,#cfbc42,#cabe41,#e6b44a,#eccc45,#eddc43,#f0e641,#f3ed40,#f4f040,#f4f040,#f4f040,#f4f040,#f4f040,#f4f040,#f4f040,#f4f040,#8bc87d,#7ec793,#7fc793,#7fc793,#7fc793)"></i>
<i style="top:195px;height:6px;background:linear-gradient(90deg,#6ebcba,#6fbeb6,#64aad8,#65acd5,#66b0ce,#69b5c7,#6cbabd,#70bfb4,#74c2ab,#78c6a1,#7cc798,#82c88d,#87c883,#8fc877,#9ac86a,#a4c85f,#acc757,#b5c54e,#bbc349,#bcc348,#c0c245,#c4c041,#c6c040,#c5c040,#c3c143,#bdc347,#bfc246,#c4c142,#c6c040,#cfbc42,#cabe41,#e6b44a,#eccc45,#eddc43,#f0e641,#f3ed40,#f4f040,#f4f040,#f4f040,#f4f040,#f4f040,#f4f040,#f4f040,#f4f040,#8bc87d,#7ec793,#7fc793,#7fc793,#7fc793)"></i>
<i style="top:200px;height:6px;background:linear-gradient(90deg,#6ebcba,#6fbeb6,#64aad8,#65acd5,#66b0ce,#69b5c7,#6cbabd,#70bfb4,#74c2ab,#78c6a1,#7cc798,#82c88d,#87c883,#8fc877,#9ac86a,#a4c85f,#acc757,#b5c54e,#bbc349,#bcc348,#c0c245,#c4c041,#c6c040,#c5c040,#c3c143,#bdc347,#bfc246,#c4c142,#c6c040,#cfbc42,#cabe41,#e6b44a,#eccc45,#eddc43,#f0e641,#f3ed40,#f4f040,#f4f040,#f4f040,#f4f040,#f4f040,#f4f040,#f4f040,#f4f040,#8bc87d,#7ec793,#7fc793,#7fc793,#7fc793)"></i>
<i style="top:205px;height:6px;background:linear-gradient(90deg,#6ebcba,#6fbeb6,#64aad8,#65acd5,#66b0ce,#69b5c7,#6cbabd,#70bfb4,#74c2ab,#78c6a1,#7cc798,#82c88d,#87c883,#8fc877,#9ac86a,#a4c85f,#acc757,#b5c54e,#bbc349,#bcc348,#c0c245,#c4c041,#c6c040,#c5c040,#c3c143,#bdc347,#bfc246,#c4c142,#c6c040,#cfbc42,#cabe41,#e6b44a,#eccc45,#eddc43,#f0e641,#f3ed40,#f4f040,#f4f040,#f4f040,#f4f040,#f4f040,#f4f040,#f4f040,#f4f040,#8bc87d,#7ec793,#7fc793,#7fc793,#7fc793)"></i>
<i style="top:210px;height:6px;background:linear-gradient(90deg,#6ebcba,#6fbeb6,#64aad8,#65acd5,#66b0ce,#69b5c7,#6cbabd,#70bfb4,#74c2ab,#78c6a1,#7cc798,#82c88d,#87c883,#8fc877,#9ac86a,#a4c85f,#acc757,#b5c54e,#bbc349,#bcc348,#c0c245,#c4c041,#c6c040,#c5c040,#c3c143,#bdc347,#bfc246,#c4c142,#c6c040,#cfbc42,#cabe41,#e6b44a,#eccc45,#eddc43,#f0e641,#f3ed40,#f4f040,#f4f040,#f4f040,#f4f040,#f4f040,#f4f040,#f4f040,#f4f040,#8bc87d,#7ec793,#7fc793,#7fc793,#7fc793)"></i>
<i style="top:215px;height:6px;background:linear-gradient(90deg,#6ebcba,#6fbeb6,#64aad8,#65acd5,#66b0ce,#69b5c7,#6cbabd,#70bfb4,#74c2ab,#78c6a1,#7cc798,#82c88d,#87c883,#8fc877,#9ac86a,#a4c85f,#acc757,#b5c54e,#bbc349,#bcc348,#c0c245,#c4c041,#c6c040,#c5c040,#c3c143,#bdc347,#bfc246,#c4c142,#c6c040,#cfbc42,#cabe41,#e6b44a,#eccc45,#eddc43,#f0e641,#f3ed40,#f4f040,#f4f040,#f4f040,#f4f040,#f4f040,#f4f040,#f4f040,#f4f040,#8bc87d,#7ec793,#7fc793,#7fc793,#7fc793)"></i>
</div></div>
<div class="fo" style="left:760.8px;top:1061.7px;width:562.9px;height:196.8px">
<div class="fi" style="left:-10px;top:-10px;width:582.9px;height:220px;filter:blur(2.5px)">
<i style="top:0px;height:6px;background:linear-gradient(90deg,#eabe47,#eccc45,#f4f040,#f4f040,#eee342,#f4f040,#f4f040,#f4f040,#ecd644,#f4f040,#f4f040,#efe442,#ecc446,#e7b749,#d7b944,#d6b943,#e7b64a,#e4b549,#d1bb42,#cbbe41,#ccbe41,#cbbe41,#aac759,#8bc87d,#7fc792,#7bc79b,#7ac69c,#7ac69b,#78c69f,#77c5a3,#76c4a5,#72c0b0,#70bfb4,#67b1cd,#63a9d9,#5c9be3,#5ea0e0,#568cec,#4b5df1,#3a2ea8,#3c30af,#3d31b5,#3f33bc,#4849e6,#5b97e6,#5ea0e0,#61a5dc,#61a5dc,#61a5dc)"></i>
<i style="top:5px;height:6px;background:linear-gradient(90deg,#eabe47,#eccc45,#f4f040,#f4f040,#eee342,#f4f040,#f4f040,#f4f040,#ecd644,#f4f040,#f4f040,#efe442,#ecc446,#e7b749,#d7b944,#d6b943,#e7b64a,#e4b549,#d1bb42,#cbbe41,#ccbe41,#cbbe41,#aac759,#8bc87d,#7fc792,#7bc79b,#7ac69c,#7ac69b,#78c69f,#77c5a3,#76c4a5,#72c0b0,#70bfb4,#67b1cd,#63a9d9,#5c9be3,#5ea0e0,#568cec,#4b5df1,#3a2ea8,#3c30af,#3d31b5,#3f33bc,#4849e6,#5b97e6,#5ea0e0,#61a5dc,#61a5dc,#61a5dc)"></i>
<i style="top:10px;height:6px;background:linear-gradient(90deg,#ddb646,#e3b549,#f0e841,#f4f040,#eee342,#f4f040,#f4f040,#f4f040,#ecd644,#f4f040,#f0e841,#eddc43,#ebc246,#e7b649,#d6b943,#d4ba43,#e6b54a,#e3b549,#d0bc42,#cbbe41,#cabe41,#c9bf41,#a8c75b,#8ac87f,#7fc793,#7ac69b,#7ac69c,#7ac69b,#78c69f,#77c5a3,#76c4a6,#71c0b0,#70bfb4,#66b0ce,#63a9d9,#5c99e5,#5ea0e0,#5589ed,#4a59f0,#3a2ea8,#3c30af,#3d31b4,#3f33bc,#4849e6,#5b97e6,#5ea0e0,#61a5dc,#61a5dc,#61a5dc)"></i>
<i style="top:15px;height:6px;background:linear-gradient(90deg,#c1c244,#c4c041,#ecc746,#edd943,#eddc43,#f4f040,#f2ec41,#f0e741,#eccd45,#ecd544,#ecca45,#ecc346,#ebc247,#e2b548,#d1bb43,#cebd42,#deb647,#d9b845,#cbbe41,#c8bf40,#c3c142,#bdc347,#9dc867,#86c885,#7dc797,#79c69d,#7ac69d,#7ac69b,#78c6a0,#76c4a5,#75c3a9,#71c0b2,#6fbdb7,#65acd5,#63a8da,#588fea,#5a94e8,#507bf1,#4742de,#3a2ea8,#3c30b1,#3d31b4,#3f33bb,#494ce8,#5b96e6,#5ea0e0,#61a5dc,#61a5dc,#61a5dc)"></i>
<i style="top:20px;height:6px;background:linear-gradient(90deg,#b3c650,#b8c44b,#c6c040,#dab745,#e8ba48,#ecd644,#ecc845,#eabe47,#d9b845,#dab845,#d7b944,#d5b943,#dbb745,#d2bb43,#cabe41,#c5c041,#c4c142,#c4c142,#c4c041,#bdc348,#a9c75b,#98c86c,#8ec879,#80c890,#7ac69d,#78c6a1,#79c69f,#7ac69b,#77c5a3,#74c2ab,#72c0b0,#70beb5,#67b2cb,#5fa1df,#5b98e5,#5282f0,#4d6ff2,#4a5bf0,#3d31b3,#3a2eaa,#3c30b1,#3d31b3,#3e32ba,#494fea,#5a95e7,#5ea0e0,#61a5dc,#61a5dc,#61a5dc)"></i>
<i style="top:25px;height:6px;background:linear-gradient(90deg,#a7c75c,#a9c75a,#b9c44a,#bfc245,#c9bf41,#dab745,#cabe41,#c9be41,#bac44a,#b8c44b,#b9c44b,#b8c44b,#b2c650,#b8c44b,#bfc246,#bbc349,#b1c651,#b0c652,#b2c650,#a9c759,#91c875,#87c884,#80c890,#78c6a0,#76c4a5,#75c4a7,#76c4a4,#78c69f,#75c3a8,#71c0b1,#70bfb4,#6ab7c3,#60a4dd,#578deb,#5383ef,#4f76f1,#4a58f0,#453dd7,#3a2ea8,#3b2faa,#3c30b0,#3d31b3,#3e32b9,#494fea,#5a95e7,#5ea0e0,#61a5dc,#61a5dc,#61a5dc)"></i>
<i style="top:30px;height:6px;background:linear-gradient(90deg,#9cc869,#9dc868,#a7c75c,#aec654,#b1c651,#c6c040,#bac349,#b1c651,#a9c75a,#a5c75e,#a6c75e,#a3c860,#95c871,#a2c861,#aec654,#acc757,#a3c861,#a0c864,#9fc865,#95c870,#86c885,#7fc791,#75c3a8,#72c1b0,#72c0b0,#71c0b0,#72c1b0,#72c1ae,#71c0b1,#6fbdb7,#6ab7c3,#64aad8,#5a94e8,#5180f0,#4e74f1,#4b61f1,#4743e0,#3c30b1,#3a2ea8,#3b2faa,#3c30af,#3d31b2,#3e32b9,#494fea,#5a95e7,#5ea0e0,#61a5dc,#61a5dc,#61a5dc)"></i>
<i style="top:35px;height:6px;background:linear-gradient(90deg,#90c875,#91c875,#97c86e,#9fc866,#a0c864,#b8c44b,#abc758,#a1c863,#9bc869,#98c86d,#98c86c,#96c86f,#8ec878,#95c870,#9fc865,#9dc867,#95c870,#90c876,#8cc87b,#84c888,#79c69d,#73c2ac,#70bfb5,#6ebcba,#6dbbbb,#6dbbbc,#6cbabd,#6cb9bf,#6cbabe,#69b6c5,#65acd5,#5d9de2,#5486ee,#4e74f1,#4b63f1,#494fea,#4236c8,#3a2ea8,#3a2ea8,#3a2eaa,#3b2fad,#3d31b2,#3e32b9,#494fea,#5a95e7,#5ea0e0,#61a5dc,#61a5dc,#61a5dc)"></i>
<i style="top:40px;height:6px;background:linear-gradient(90deg,#86c885,#87c884,#8ac87f,#90c876,#99c86c,#a2c862,#9ac86a,#92c873,#8fc877,#8dc879,#8ec879,#8cc87b,#8cc87c,#8dc87a,#91c875,#8fc877,#89c880,#83c88a,#7dc795,#76c4a5,#71c0b2,#6fbdb7,#6cbabd,#6ab6c3,#69b5c6,#68b4c8,#67b1cc,#66afd0,#66b0cf,#65acd5,#5fa1df,#578eeb,#517cf0,#4b62f1,#4a54ed,#4640db,#3c30af,#3a2ea8,#3a2ea8,#3a2eaa,#3b2fad,#3d31b2,#3e32b9,#494fea,#5a95e7,#5ea0e0,#61a5dc,#61a5dc,#61a5dc)"></i>
<i style="top:45px;height:6px;background:linear-gradient(90deg,#7dc796,#7dc797,#7ec795,#82c88b,#87c884,#8dc87a,#8ac87e,#86c886,#85c887,#85c887,#85c886,#85c887,#86c886,#86c886,#86c885,#83c88a,#7ec794,#77c5a1,#73c2ad,#70bfb5,#6ebcba,#6ab7c3,#68b3c9,#67b0ce,#66afd1,#65add3,#64a9d9,#61a5dc,#62a6db,#5fa2de,#5b96e7,#5384ef,#4d6ef2,#4953ec,#4847e4,#4236c8,#3a2ea8,#3a2ea8,#3a2ea8,#3a2ea9,#3b2fad,#3d31b2,#3e32b9,#494fea,#5a95e7,#5ea0e0,#61a5dc,#61a5dc,#61a5dc)"></i>
<i style="top:50px;height:6px;background:linear-gradient(90deg,#75c3a7,#75c3a8,#73c2ab,#75c3a8,#76c4a6,#7dc797,#7cc797,#7ac69c,#7bc79a,#7cc798,#7ec795,#7ec794,#7ec793,#7ec794,#7cc798,#78c69f,#75c4a7,#71c0b2,#70bfb5,#6dbbbc,#68b4c8,#66afd0,#65add4,#64aad8,#63a8d9,#62a6db,#5fa2de,#5c9be3,#5d9ee2,#5c99e5,#5589ed,#5280f0,#4b63f1,#494fea,#463ed8,#3d31b2,#3a2ea8,#3a2ea8,#3a2ea8,#3a2ea9,#3b2fad,#3d31b2,#3e32b9,#494fea,#5a95e7,#5ea0e0,#61a5dc,#61a5dc,#61a5dc)"></i>
<i style="top:55px;height:6px;background:linear-gradient(90deg,#71c0b1,#71c0b2,#6fbeb6,#6ebcba,#6fbdb7,#71c0b2,#71c0b2,#71c0b2,#74c2ab,#75c3a8,#76c5a4,#77c5a3,#77c5a2,#77c5a3,#74c2aa,#72c0b0,#70bfb3,#6fbdb7,#6dbbbc,#69b5c7,#65abd6,#62a7db,#62a6db,#60a4dd,#5fa2df,#5ea0e0,#5d9ce3,#5b97e6,#5b97e6,#588fea,#5282f0,#4f74f1,#4a5af0,#484ae7,#4236c8,#3a2ea8,#3a2ea8,#3a2ea8,#3a2ea8,#3a2ea9,#3b2fad,#3d31b2,#3e32b9,#494fea,#5a95e7,#5ea0e0,#61a5dc,#61a5dc,#61a5dc)"></i>
<i style="top:60px;height:6px;background:linear-gradient(90deg,#70bfb3,#70bfb4,#6dbcba,#6ab7c3,#6ab7c3,#6bb9bf,#6cbabe,#6dbbbb,#6fbeb6,#71c0b2,#71c0b1,#72c1ae,#72c0b0,#72c0b0,#70beb5,#6fbeb6,#6ebcba,#6cbabe,#69b6c4,#66afcf,#60a4dd,#5ea0e0,#5ea0e0,#5d9de2,#5c9ae4,#5c9ae4,#5b97e6,#5b96e7,#5890ea,#5486ee,#517ff0,#4c66f2,#4950eb,#4640db,#3d31b2,#3a2ea8,#3a2ea8,#3a2ea8,#3a2ea8,#3a2ea9,#3b2fad,#3d31b2,#3e32b9,#494fea,#5a95e7,#5ea0e0,#61a5dc,#61a5dc,#61a5dc)"></i>
<i style="top:65px;height:6px;background:linear-gradient(90deg,#70bfb3,#70bfb4,#6cbabe,#67b2ca,#66b0cf,#67b2cb,#68b5c7,#6bb7c2,#6dbabc,#6ebdb8,#6ebdb8,#70bfb5,#6ebcb9,#6dbbbb,#6dbbbb,#6dbabd,#6bb8c0,#69b6c5,#67b2cc,#64abd7,#5ea0e0,#5d9de2,#5c9ae4,#5a95e7,#5992e9,#5a93e8,#5992e9,#5890ea,#5589ed,#5282f0,#4f74f1,#4a58f0,#4846e4,#4337cb,#3a2ea8,#3a2ea8,#3a2ea8,#3a2ea8,#3a2ea8,#3a2ea9,#3b2fad,#3d31b2,#3e32b9,#494fea,#5a95e7,#5ea0e0,#61a5dc,#61a5dc,#61a5dc)"></i>
<i style="top:70px;height:6px;background:linear-gradient(90deg,#71c0b2,#70bfb3,#6bb8c2,#66afd1,#63a9d9,#65add3,#67b1cd,#68b4c9,#6ab7c3,#6bb9c0,#6bb9bf,#6bb9bf,#69b5c7,#68b4c8,#6ab6c4,#69b6c4,#68b4c7,#67b2cb,#66aed2,#62a7da,#5e9fe1,#5c9ae4,#5a93e8,#568cec,#5488ee,#568aec,#568cec,#5589ed,#5384ef,#517ff0,#4c67f2,#484ae7,#463fda,#3d31b6,#3a2ea9,#3b2faa,#3a2ea9,#3a2ea8,#3a2ea8,#3a2ea9,#3b2fad,#3d31b2,#3e32b9,#494fea,#5a95e7,#5ea0e0,#61a5dc,#61a5dc,#61a5dc)"></i>
<i style="top:75px;height:6px;background:linear-gradient(90deg,#71c0b1,#70bfb3,#69b5c5,#65abd6,#61a5dc,#63a9d9,#65add3,#66b0ce,#68b3ca,#68b4c7,#68b4c8,#67b2cb,#65acd5,#65aed2,#67b1cc,#67b2cb,#67b1cd,#66aed1,#64aad7,#61a4dd,#5d9ce2,#5b96e7,#568bec,#5384ef,#5282f0,#5384ef,#5486ee,#5383ef,#5280f0,#4f75f1,#4b5ef1,#4742df,#453bd4,#3a2eaa,#3b2fab,#3b2fad,#3b2faa,#3a2ea9,#3a2ea8,#3a2ea9,#3b2fad,#3d31b2,#3e32b9,#494fea,#5a95e7,#5ea0e0,#61a5dc,#61a5dc,#61a5dc)"></i>
<i style="top:80px;height:6px;background:linear-gradient(90deg,#71c0b1,#70bfb3,#68b3c9,#63a9d9,#61a5dc,#62a6db,#64a9d8,#65add4,#66afd0,#67b1cd,#66b0ce,#65acd5,#60a3dd,#63a8da,#65add3,#66afd1,#65aed2,#65abd6,#62a7da,#5fa2df,#5c9ae4,#5991e9,#5385ef,#5282f0,#5180f0,#5180f0,#5281f0,#5281f0,#4f77f1,#4c69f2,#4a57ef,#4743df,#4438d0,#3a2ea8,#3c30af,#3c30b0,#3b2fac,#3a2ea9,#3a2ea8,#3a2ea9,#3b2fad,#3d31b2,#3e32b9,#494fea,#5a95e7,#5ea0e0,#61a5dc,#61a5dc,#61a5dc)"></i>
<i style="top:85px;height:6px;background:linear-gradient(90deg,#72c1af,#71bfb3,#66b0ce,#61a5dc,#5fa2de,#60a3de,#62a6db,#64a9d9,#65acd5,#65add3,#65acd4,#63a8da,#5ea0e0,#60a4dd,#64aad8,#65abd6,#64abd7,#63a8d9,#61a5dc,#5e9fe1,#5b97e6,#568cec,#5283f0,#517ff0,#507bf1,#507bf1,#517cf0,#507af1,#4c6bf2,#4b60f1,#4953ed,#4743e0,#4337cb,#3a2ea8,#3c30b0,#3c30b1,#3b2fad,#3a2ea9,#3a2ea8,#3a2ea9,#3b2fad,#3d31b2,#3e32b9,#494fea,#5a95e7,#5ea0e0,#61a5dc,#61a5dc,#61a5dc)"></i>
<i style="top:90px;height:6px;background:linear-gradient(90deg,#73c1ae,#71c0b2,#65acd5,#5fa1df,#5e9fe1,#5ea0e0,#60a3de,#62a6db,#63a9d9,#64aad8,#64a9d9,#61a5dc,#5ea0e0,#60a3de,#62a7da,#63a9d9,#63a8da,#61a6db,#5fa2de,#5d9ce3,#5a94e8,#5487ee,#5282f0,#517cf0,#4f76f1,#4f75f1,#4f77f1,#4f74f1,#4b64f1,#4a59f0,#4952ec,#4744e1,#4337ca,#3a2ea8,#3c30af,#3c30b1,#3b2fae,#3a2ea9,#3a2ea8,#3a2ea9,#3b2fad,#3d31b2,#3e32b9,#494fea,#5a95e7,#5ea0e0,#61a5dc,#61a5dc,#61a5dc)"></i>
<i style="top:95px;height:6px;background:linear-gradient(90deg,#73c2ab,#71c0b2,#61a5dc,#5c9be3,#5c9ae4,#5c9be3,#5e9fe1,#60a3de,#62a6db,#62a7da,#62a7db,#60a4dd,#5ea1e0,#5fa2de,#61a5dc,#62a6db,#61a5dc,#60a3dd,#5ea0e0,#5c9ae4,#5991e9,#5384ef,#5281f0,#507af1,#4e70f1,#4d6ff2,#4e73f1,#4d70f2,#4b60f1,#4a58f0,#4951ec,#4844e2,#4337cd,#3b2fab,#3b2fac,#3c30b1,#3b2fae,#3a2ea9,#3a2ea8,#3a2ea9,#3b2fad,#3d31b2,#3e32b9,#494fea,#5a95e7,#5ea0e0,#61a5dc,#61a5dc,#61a5dc)"></i>
<i style="top:100px;height:6px;background:linear-gradient(90deg,#75c3a9,#71c0b1,#5d9ce3,#5a95e7,#5a95e8,#5b96e7,#5c9be3,#5ea0e0,#60a3dd,#61a5dc,#61a5dc,#60a3de,#5ea1df,#5fa2df,#60a3dd,#60a4dd,#60a3de,#5fa1df,#5d9de2,#5b98e6,#578eeb,#5283f0,#517ff0,#4f77f1,#4c6bf2,#4c69f2,#4e71f1,#4d6ff2,#4b62f1,#4a5af0,#4953ed,#4845e3,#4438d1,#3c30b0,#3b2faa,#3c30b0,#3b2fae,#3a2ea9,#3a2ea8,#3a2ea9,#3b2fad,#3d31b2,#3e32b9,#494fea,#5a95e7,#5ea0e0,#61a5dc,#61a5dc,#61a5dc)"></i>
<i style="top:105px;height:6px;background:linear-gradient(90deg,#75c3a7,#71c0b0,#5a93e8,#5890ea,#578deb,#588fea,#5b97e6,#5d9de2,#5fa1df,#60a3de,#60a3de,#5fa2de,#5ea1df,#5fa1df,#5fa2de,#5fa2de,#5fa1df,#5e9fe1,#5c9be3,#5b96e7,#568cec,#5282f0,#517ff0,#4f77f1,#4c68f2,#4c67f2,#4e70f1,#4e70f1,#4c67f2,#4b5ff1,#4a56ee,#4847e5,#453ad3,#3d31b6,#3a2eaa,#3c30b0,#3b2fae,#3a2ea9,#3a2ea8,#3a2ea9,#3b2fad,#3d31b2,#3e32b9,#494fea,#5a95e7,#5ea0e0,#61a5dc,#61a5dc,#61a5dc)"></i>
<i style="top:110px;height:6px;background:linear-gradient(90deg,#75c3a7,#71c0b0,#5a95e8,#578eeb,#5487ee,#5588ed,#5a93e8,#5c9ae4,#5e9fe1,#5fa1df,#5fa2df,#5fa1df,#5ea0e0,#5ea1df,#5fa1df,#5ea1e0,#5e9fe1,#5d9de2,#5c9ae4,#5a94e8,#568aec,#5282f0,#517ff0,#4f77f1,#4c69f2,#4c68f2,#4e72f1,#4e74f1,#4d6ff2,#4c66f2,#4a59f0,#4849e6,#453cd6,#3f33bb,#3a2eaa,#3c30b0,#3b2fae,#3a2ea9,#3a2ea8,#3a2ea9,#3b2fad,#3d31b2,#3e32b9,#494fea,#5a95e7,#5ea0e0,#61a5dc,#61a5dc,#61a5dc)"></i>
<i style="top:115px;height:6px;background:linear-gradient(90deg,#74c3a9,#71c0b1,#5e9fe1,#588fea,#5283f0,#5282f0,#588fea,#5b98e6,#5d9ce2,#5e9fe1,#5ea0e0,#5ea0e0,#5ea0e0,#5ea0e0,#5ea0e0,#5e9fe1,#5d9de2,#5c9be3,#5b98e5,#5a93e8,#5589ed,#5282f0,#517ff0,#507af1,#4d70f2,#4d6ef2,#4f76f1,#5079f1,#4f78f1,#4d70f2,#4b5df1,#494ce8,#453dd7,#3f33bb,#3a2eaa,#3c30b0,#3b2fae,#3a2ea9,#3a2ea8,#3a2ea9,#3b2fad,#3d31b2,#3e32b9,#494fea,#5a95e7,#5ea0e0,#61a5dc,#61a5dc,#61a5dc)"></i>
<i style="top:120px;height:6px;background:linear-gradient(90deg,#73c2ac,#71c0b2,#61a5dc,#5992e9,#5282f0,#5282f0,#578ceb,#5b96e7,#5c9ae4,#5d9de2,#5e9fe1,#5e9fe0,#5ea0e0,#5ea0e0,#5e9fe0,#5d9ee1,#5c9be3,#5c9ae4,#5b97e6,#5992e9,#5589ed,#5282f0,#5281f0,#517df0,#5078f1,#4f77f1,#507bf1,#517df0,#517ff0,#507af1,#4b62f1,#494ce8,#453dd7,#3f33bb,#3a2eaa,#3c30b0,#3b2fae,#3a2ea9,#3a2ea8,#3a2ea9,#3b2fad,#3d31b2,#3e32b9,#494fea,#5a95e7,#5ea0e0,#61a5dc,#61a5dc,#61a5dc)"></i>
<i style="top:125px;height:6px;background:linear-gradient(90deg,#73c1ad,#71c0b2,#64a9d9,#5a95e8,#5282f0,#5282f0,#568aec,#5a94e8,#5c99e5,#5d9ce3,#5d9ee1,#5e9fe1,#5e9fe1,#5e9fe1,#5e9fe1,#5d9de2,#5c9ae4,#5c9ae4,#5b97e6,#5991e9,#5589ed,#5283f0,#5282f0,#5281f0,#5180f0,#517ff0,#5280f0,#5281f0,#5282f0,#5180f0,#4b64f1,#494ce8,#453dd7,#3f33bb,#3a2eaa,#3c30b0,#3b2fae,#3a2ea9,#3a2ea8,#3a2ea9,#3b2fad,#3d31b2,#3e32b9,#494fea,#5a95e7,#5ea0e0,#61a5dc,#61a5dc,#61a5dc)"></i>
<i style="top:130px;height:6px;background:linear-gradient(90deg,#72c1ae,#71c0b2,#65acd5,#5b96e7,#5282f0,#517ff0,#5589ed,#5992e9,#5b97e6,#5c9be4,#5d9de2,#5d9ee1,#5e9fe1,#5e9fe1,#5d9ee1,#5d9de2,#5c9ae4,#5c99e4,#5b97e6,#5991e9,#5589ed,#5383ef,#5282f0,#5282f0,#5282f0,#5283f0,#5283f0,#5282f0,#5282f0,#5180f0,#4b64f1,#494ce8,#453dd7,#3f33bb,#3a2eaa,#3c30b0,#3b2fae,#3a2ea9,#3a2ea8,#3a2ea9,#3b2fad,#3d31b2,#3e32b9,#494fea,#5a95e7,#5ea0e0,#61a5dc,#61a5dc,#61a5dc)"></i>
<i style="top:135px;height:6px;background:linear-gradient(90deg,#72c1af,#71bfb3,#65add2,#5b98e5,#517df0,#507bf1,#5589ed,#5991e9,#5b96e6,#5c9ae4,#5d9ce3,#5d9de2,#5d9ee1,#5d9ee1,#5d9ee1,#5d9de2,#5c9ae4,#5c99e5,#5b97e6,#5991e9,#5589ed,#5384ef,#5282f0,#5283f0,#5282f0,#5384ef,#5383ef,#5283f0,#5282f0,#5180f0,#4b64f1,#494ce8,#453dd7,#3f33bb,#3a2eaa,#3c30b0,#3b2fae,#3a2ea9,#3a2ea8,#3a2ea9,#3b2fad,#3d31b2,#3e32b9,#494fea,#5a95e7,#5ea0e0,#61a5dc,#61a5dc,#61a5dc)"></i>
<i style="top:140px;height:6px;background:linear-gradient(90deg,#72c1af,#71bfb3,#66afd1,#5c9be3,#5385ef,#507cf1,#5588ed,#5890ea,#5a95e7,#5c99e5,#5c9be3,#5d9de2,#5d9ee1,#5d9ee1,#5d9ee2,#5d9de2,#5c9be4,#5c99e5,#5b97e6,#5991e9,#5589ed,#5384ef,#5282f0,#5283f0,#5282f0,#5384ef,#5383ef,#5283f0,#5282f0,#5180f0,#4b64f1,#494ce8,#453dd7,#3f33bb,#3a2eaa,#3c30b0,#3b2fae,#3a2ea9,#3a2ea8,#3a2ea9,#3b2fad,#3d31b2,#3e32b9,#494fea,#5a95e7,#5ea0e0,#61a5dc,#61a5dc,#61a5dc)"></i>
<i style="top:145px;height:6px;background:linear-gradient(90deg,#72c0b0,#70bfb3,#66afcf,#5d9ee1,#5b97e6,#5282f0,#5487ee,#588eea,#5a95e8,#5b98e5,#5c9be3,#5d9de2,#5d9ee2,#5d9ee1,#5d9ee2,#5d9de2,#5c9be4,#5c99e5,#5b97e6,#5991e9,#5589ed,#5384ef,#5282f0,#5283f0,#5282f0,#5384ef,#5383ef,#5283f0,#5282f0,#5180f0,#4b64f1,#494ce8,#453dd7,#3f33bb,#3a2eaa,#3c30b0,#3b2fae,#3a2ea9,#3a2ea8,#3a2ea9,#3b2fad,#3d31b2,#3e32b9,#494fea,#5a95e7,#5ea0e0,#61a5dc,#61a5dc,#61a5dc)"></i>
<i style="top:150px;height:6px;background:linear-gradient(90deg,#72c0b0,#70bfb3,#66b0cf,#5d9ee1,#578eeb,#5282f0,#5486ee,#578deb,#5a94e8,#5b98e5,#5c9ae4,#5d9ce2,#5d9ee2,#5d9ee1,#5d9ee2,#5d9de2,#5c9be4,#5c99e5,#5b97e6,#5991e9,#5589ed,#5384ef,#5282f0,#5283f0,#5282f0,#5384ef,#5383ef,#5283f0,#5282f0,#5180f0,#4b64f1,#494ce8,#453dd7,#3f33bb,#3a2eaa,#3c30b0,#3b2fae,#3a2ea9,#3a2ea8,#3a2ea9,#3b2fad,#3d31b2,#3e32b9,#494fea,#5a95e7,#5ea0e0,#61a5dc,#61a5dc,#61a5dc)"></i>
<i style="top:155px;height:6px;background:linear-gradient(90deg,#72c0b0,#70bfb3,#66b0cf,#5d9de2,#5283f0,#5282f0,#5486ee,#578deb,#5a93e8,#5b98e6,#5c9ae4,#5d9ce2,#5d9ee2,#5d9ee1,#5d9ee2,#5d9de2,#5c9be4,#5c99e5,#5b97e6,#5991e9,#5589ed,#5384ef,#5282f0,#5283f0,#5282f0,#5384ef,#5383ef,#5283f0,#5282f0,#5180f0,#4b64f1,#494ce8,#453dd7,#3f33bb,#3a2eaa,#3c30b0,#3b2fae,#3a2ea9,#3a2ea8,#3a2ea9,#3b2fad,#3d31b2,#3e32b9,#494fea,#5a95e7,#5ea0e0,#61a5dc,#61a5dc,#61a5dc)"></i>
<i style="top:160px;height:6px;background:linear-gradient(90deg,#72c0b0,#6fbeb6,#66aed1,#5d9de2,#5384ef,#5282f0,#5486ee,#568cec,#5a93e8,#5b98e6,#5c9ae4,#5d9ce2,#5d9ee2,#5d9ee1,#5d9ee2,#5d9de2,#5c9be4,#5c99e5,#5b97e6,#5991e9,#5589ed,#5384ef,#5282f0,#5283f0,#5282f0,#5384ef,#5383ef,#5283f0,#5282f0,#5180f0,#4b64f1,#494ce8,#453dd7,#3f33bb,#3a2eaa,#3c30b0,#3b2fae,#3a2ea9,#3a2ea8,#3a2ea9,#3b2fad,#3d31b2,#3e32b9,#494fea,#5a95e7,#5ea0e0,#61a5dc,#61a5dc,#61a5dc)"></i>
<i style="top:165px;height:6px;background:linear-gradient(90deg,#72c0b0,#6ebcb9,#65add3,#5d9de2,#5588ed,#5282f0,#5385ef,#568cec,#5a93e8,#5b98e6,#5c9ae4,#5d9ce2,#5d9ee2,#5d9ee1,#5d9ee2,#5d9de2,#5c9be4,#5c99e5,#5b97e6,#5991e9,#5589ed,#5384ef,#5282f0,#5283f0,#5282f0,#5384ef,#5383ef,#5283f0,#5282f0,#5180f0,#4b64f1,#494ce8,#453dd7,#3f33bb,#3a2eaa,#3c30b0,#3b2fae,#3a2ea9,#3a2ea8,#3a2ea9,#3b2fad,#3d31b2,#3e32b9,#494fea,#5a95e7,#5ea0e0,#61a5dc,#61a5dc,#61a5dc)"></i>
<i style="top:170px;height:6px;background:linear-gradient(90deg,#72c0b0,#6ebcb9,#65acd6,#5d9ee1,#568aec,#5282f0,#5385ef,#568cec,#5a93e8,#5b98e6,#5c9ae4,#5d9ce2,#5d9ee2,#5d9ee1,#5d9ee2,#5d9de2,#5c9be4,#5c99e5,#5b97e6,#5991e9,#5589ed,#5384ef,#5282f0,#5283f0,#5282f0,#5384ef,#5383ef,#5283f0,#5282f0,#5180f0,#4b64f1,#494ce8,#453dd7,#3f33bb,#3a2eaa,#3c30b0,#3b2fae,#3a2ea9,#3a2ea8,#3a2ea9,#3b2fad,#3d31b2,#3e32b9,#494fea,#5a95e7,#5ea0e0,#61a5dc,#61a5dc,#61a5dc)"></i>
<i style="top:175px;height:6px;background:linear-gradient(90deg,#72c0b0,#6ebcb9,#64abd6,#5e9fe1,#568aec,#5282f0,#5385ef,#568cec,#5a93e8,#5b98e6,#5c9ae4,#5d9ce2,#5d9ee2,#5d9ee1,#5d9ee2,#5d9de2,#5c9be4,#5c99e5,#5b97e6,#5991e9,#5589ed,#5384ef,#5282f0,#5283f0,#5282f0,#5384ef,#5383ef,#5283f0,#5282f0,#5180f0,#4b64f1,#494ce8,#453dd7,#3f33bb,#3a2eaa,#3c30b0,#3b2fae,#3a2ea9,#3a2ea8,#3a2ea9,#3b2fad,#3d31b2,#3e32b9,#494fea,#5a95e7,#5ea0e0,#61a5dc,#61a5dc,#61a5dc)"></i>
<i style="top:180px;height:6px;background:linear-gradient(90deg,#72c0b0,#6ebcb9,#65abd6,#5e9fe1,#568aec,#5282f0,#5385ef,#568cec,#5a93e8,#5b98e6,#5c9ae4,#5d9ce2,#5d9ee2,#5d9ee1,#5d9ee2,#5d9de2,#5c9be4,#5c99e5,#5b97e6,#5991e9,#5589ed,#5384ef,#5282f0,#5283f0,#5282f0,#5384ef,#5383ef,#5283f0,#5282f0,#5180f0,#4b64f1,#494ce8,#453dd7,#3f33bb,#3a2eaa,#3c30b0,#3b2fae,#3a2ea9,#3a2ea8,#3a2ea9,#3b2fad,#3d31b2,#3e32b9,#494fea,#5a95e7,#5ea0e0,#61a5dc,#61a5dc,#61a5dc)"></i>
<i style="top:185px;height:6px;background:linear-gradient(90deg,#72c0b0,#6ebcb9,#65abd6,#5e9fe1,#568aec,#5282f0,#5385ef,#568cec,#5a93e8,#5b98e6,#5c9ae4,#5d9ce2,#5d9ee2,#5d9ee1,#5d9ee2,#5d9de2,#5c9be4,#5c99e5,#5b97e6,#5991e9,#5589ed,#5384ef,#5282f0,#5283f0,#5282f0,#5384ef,#5383ef,#5283f0,#5282f0,#5180f0,#4b64f1,#494ce8,#453dd7,#3f33bb,#3a2eaa,#3c30b0,#3b2fae,#3a2ea9,#3a2ea8,#3a2ea9,#3b2fad,#3d31b2,#3e32b9,#494fea,#5a95e7,#5ea0e0,#61a5dc,#61a5dc,#61a5dc)"></i>
<i style="top:190px;height:6px;background:linear-gradient(90deg,#72c0b0,#6ebcb9,#65abd6,#5e9fe1,#568aec,#5282f0,#5385ef,#568cec,#5a93e8,#5b98e6,#5c9ae4,#5d9ce2,#5d9ee2,#5d9ee1,#5d9ee2,#5d9de2,#5c9be4,#5c99e5,#5b97e6,#5991e9,#5589ed,#5384ef,#5282f0,#5283f0,#5282f0,#5384ef,#5383ef,#5283f0,#5282f0,#5180f0,#4b64f1,#494ce8,#453dd7,#3f33bb,#3a2eaa,#3c30b0,#3b2fae,#3a2ea9,#3a2ea8,#3a2ea9,#3b2fad,#3d31b2,#3e32b9,#494fea,#5a95e7,#5ea0e0,#61a5dc,#61a5dc,#61a5dc)"></i>
<i style="top:195px;height:6px;background:linear-gradient(90deg,#72c0b0,#6ebcb9,#65abd6,#5e9fe1,#568aec,#5282f0,#5385ef,#568cec,#5a93e8,#5b98e6,#5c9ae4,#5d9ce2,#5d9ee2,#5d9ee1,#5d9ee2,#5d9de2,#5c9be4,#5c99e5,#5b97e6,#5991e9,#5589ed,#5384ef,#5282f0,#5283f0,#5282f0,#5384ef,#5383ef,#5283f0,#5282f0,#5180f0,#4b64f1,#494ce8,#453dd7,#3f33bb,#3a2eaa,#3c30b0,#3b2fae,#3a2ea9,#3a2ea8,#3a2ea9,#3b2fad,#3d31b2,#3e32b9,#494fea,#5a95e7,#5ea0e0,#61a5dc,#61a5dc,#61a5dc)"></i>
<i style="top:200px;height:6px;background:linear-gradient(90deg,#72c0b0,#6ebcb9,#65abd6,#5e9fe1,#568aec,#5282f0,#5385ef,#568cec,#5a93e8,#5b98e6,#5c9ae4,#5d9ce2,#5d9ee2,#5d9ee1,#5d9ee2,#5d9de2,#5c9be4,#5c99e5,#5b97e6,#5991e9,#5589ed,#5384ef,#5282f0,#5283f0,#5282f0,#5384ef,#5383ef,#5283f0,#5282f0,#5180f0,#4b64f1,#494ce8,#453dd7,#3f33bb,#3a2eaa,#3c30b0,#3b2fae,#3a2ea9,#3a2ea8,#3a2ea9,#3b2fad,#3d31b2,#3e32b9,#494fea,#5a95e7,#5ea0e0,#61a5dc,#61a5dc,#61a5dc)"></i>
<i style="top:205px;height:6px;background:linear-gradient(90deg,#72c0b0,#6ebcb9,#65abd6,#5e9fe1,#568aec,#5282f0,#5385ef,#568cec,#5a93e8,#5b98e6,#5c9ae4,#5d9ce2,#5d9ee2,#5d9ee1,#5d9ee2,#5d9de2,#5c9be4,#5c99e5,#5b97e6,#5991e9,#5589ed,#5384ef,#5282f0,#5283f0,#5282f0,#5384ef,#5383ef,#5283f0,#5282f0,#5180f0,#4b64f1,#494ce8,#453dd7,#3f33bb,#3a2eaa,#3c30b0,#3b2fae,#3a2ea9,#3a2ea8,#3a2ea9,#3b2fad,#3d31b2,#3e32b9,#494fea,#5a95e7,#5ea0e0,#61a5dc,#61a5dc,#61a5dc)"></i>
<i style="top:210px;height:6px;background:linear-gradient(90deg,#72c0b0,#6ebcb9,#65abd6,#5e9fe1,#568aec,#5282f0,#5385ef,#568cec,#5a93e8,#5b98e6,#5c9ae4,#5d9ce2,#5d9ee2,#5d9ee1,#5d9ee2,#5d9de2,#5c9be4,#5c99e5,#5b97e6,#5991e9,#5589ed,#5384ef,#5282f0,#5283f0,#5282f0,#5384ef,#5383ef,#5283f0,#5282f0,#5180f0,#4b64f1,#494ce8,#453dd7,#3f33bb,#3a2eaa,#3c30b0,#3b2fae,#3a2ea9,#3a2ea8,#3a2ea9,#3b2fad,#3d31b2,#3e32b9,#494fea,#5a95e7,#5ea0e0,#61a5dc,#61a5dc,#61a5dc)"></i>
<i style="top:215px;height:6px;background:linear-gradient(90deg,#72c0b0,#6ebcb9,#65abd6,#5e9fe1,#568aec,#5282f0,#5385ef,#568cec,#5a93e8,#5b98e6,#5c9ae4,#5d9ce2,#5d9ee2,#5d9ee1,#5d9ee2,#5d9de2,#5c9be4,#5c99e5,#5b97e6,#5991e9,#5589ed,#5384ef,#5282f0,#5283f0,#5282f0,#5384ef,#5383ef,#5283f0,#5282f0,#5180f0,#4b64f1,#494ce8,#453dd7,#3f33bb,#3a2eaa,#3c30b0,#3b2fae,#3a2ea9,#3a2ea8,#3a2ea9,#3b2fad,#3d31b2,#3e32b9,#494fea,#5a95e7,#5ea0e0,#61a5dc,#61a5dc,#61a5dc)"></i>
</div></div>
<div class="fo" style="left:73.6px;top:1306.1px;width:562.9px;height:196.8px">
<div class="fi" style="left:-10px;top:-10px;width:582.9px;height:220px;filter:blur(2.5px)">
<i style="top:0px;height:6px;background:linear-gradient(90deg,#494eea,#494fea,#494fea,#4951eb,#4a54ed,#4a57ef,#4b5ef1,#4e72f1,#5281f0,#5282f0,#5180f0,#4c66f2,#507bf1,#5282f0,#5282f0,#5282f0,#5282f0,#5282f0,#5282f0,#4e72f1,#5180f0,#5282f0,#5282f0,#5282f0,#5282f0,#5282f0,#5282f0,#5282f0,#4c6af2,#5281f0,#5280f0,#4f75f1,#4b62f1,#494fea,#463fdb,#4337cc,#4135c2,#4337ce,#4640dc,#484ae6,#4a5af0,#4c66f2,#4e74f1,#5589ed,#5a94e8,#5c99e5,#60a3dd,#61a5dc,#61a5dc)"></i>
<i style="top:5px;height:6px;background:linear-gradient(90deg,#494eea,#494fea,#494fea,#4951eb,#4a54ed,#4a57ef,#4b5ef1,#4e72f1,#5281f0,#5282f0,#5180f0,#4c66f2,#507bf1,#5282f0,#5282f0,#5282f0,#5282f0,#5282f0,#5282f0,#4e72f1,#5180f0,#5282f0,#5282f0,#5282f0,#5282f0,#5282f0,#5282f0,#5282f0,#4c6af2,#5281f0,#5280f0,#4f75f1,#4b62f1,#494fea,#463fdb,#4337cc,#4135c2,#4337ce,#4640dc,#484ae6,#4a5af0,#4c66f2,#4e74f1,#5589ed,#5a94e8,#5c99e5,#60a3dd,#61a5dc,#61a5dc)"></i>
<i style="top:10px;height:6px;background:linear-gradient(90deg,#494eea,#494eea,#494fea,#4951eb,#4a54ed,#4a57ef,#4b5ef1,#4e73f1,#5281f0,#5282f0,#5281f0,#4c66f2,#517ef0,#5282f0,#5282f0,#5282f0,#5282f0,#5282f0,#5282f0,#4e74f1,#5282f0,#5282f0,#5282f0,#5282f0,#5282f0,#5282f0,#5282f0,#5282f0,#4c6af2,#5281f0,#5281f0,#4f76f1,#4b63f1,#494fea,#463fda,#4337cb,#4034c2,#4337cd,#4640db,#4849e6,#4a59f0,#4c66f2,#4e73f1,#5589ed,#5a94e8,#5c99e5,#60a3dd,#61a5dc,#61a5dc)"></i>
<i style="top:15px;height:6px;background:linear-gradient(90deg,#494ee9,#494ee9,#494fea,#4951eb,#4a54ed,#4a57ef,#4a5cf0,#4f75f1,#5282f0,#5282f0,#5282f0,#4c6af2,#5282f0,#5282f0,#5282f0,#5282f0,#5282f0,#5282f0,#5281f0,#4e71f1,#507bf1,#5282f0,#5283f0,#5383ef,#5383ef,#5283f0,#5282f0,#517ef0,#4d6ef2,#5282f0,#5282f0,#4f77f1,#4b63f1,#494fea,#463ed9,#4236c9,#4034bf,#4337cb,#463fda,#484ae6,#4a57f0,#4c66f2,#4e72f1,#5589ed,#5a94e8,#5b97e6,#60a3dd,#61a5dc,#61a5dc)"></i>
<i style="top:20px;height:6px;background:linear-gradient(90deg,#494ee9,#494ee9,#494fea,#4951eb,#4a54ed,#4a58f0,#4b5df1,#5079f1,#5282f0,#5283f0,#5283f0,#4f77f1,#5282f0,#5283f0,#5282f0,#5282f0,#5283f0,#5283f0,#5280f0,#4f75f1,#507af1,#5282f0,#5384ef,#5385ef,#5485ee,#5384ef,#5282f0,#517cf0,#4f78f1,#5282f0,#5282f0,#5078f1,#4b65f1,#494eea,#453cd6,#4236c7,#3f33bc,#4236c8,#453dd7,#4849e6,#4a54ed,#4b64f1,#4e72f1,#5589ed,#5a94e8,#5b97e6,#60a3dd,#61a5dc,#61a5dc)"></i>
<i style="top:25px;height:6px;background:linear-gradient(90deg,#494de9,#494de9,#494fea,#4951eb,#4a55ee,#4a59f0,#4b61f1,#517ff0,#5283f0,#5383ef,#5383ef,#517ef0,#5282f0,#5384ef,#5283f0,#5283f0,#5383ef,#5383ef,#5281f0,#507af1,#517df0,#5283f0,#5385ef,#5487ee,#5488ee,#5385ef,#5283f0,#517ef0,#517df0,#5282f0,#5283f0,#5079f1,#4c67f2,#494ee9,#453ad3,#4236c7,#3f33bc,#4135c6,#4439d2,#4845e3,#4950eb,#4b64f1,#4e72f1,#5589ed,#5a94e8,#5b97e6,#60a3dd,#61a5dc,#61a5dc)"></i>
<i style="top:30px;height:6px;background:linear-gradient(90deg,#494de9,#494de9,#494fea,#4952ec,#4a57ef,#4b5ef1,#4c6af2,#5282f0,#5283f0,#5384ef,#5384ef,#5281f0,#5383ef,#5384ef,#5384ef,#5384ef,#5384ef,#5384ef,#5283f0,#517ff0,#5280f0,#5384ef,#5486ee,#5589ed,#5589ed,#5486ee,#5384ef,#5281f0,#5180f0,#5283f0,#5283f0,#5079f1,#4c69f2,#494fea,#4438d0,#4337cb,#4135c2,#4236c7,#4337cb,#4742de,#494ce8,#4b64f1,#4e72f1,#5589ed,#5a94e8,#5b97e6,#60a3dd,#61a5dc,#61a5dc)"></i>
<i style="top:35px;height:6px;background:linear-gradient(90deg,#494de9,#494de9,#494fea,#4953ed,#4a59f0,#4b62f1,#4e74f1,#5282f0,#5383ef,#5385ef,#5385ef,#5384ef,#5384ef,#5385ef,#5385ef,#5485ee,#5486ee,#5485ee,#5384ef,#5282f0,#5283f0,#5385ef,#5487ee,#5589ed,#5589ed,#5487ee,#5385ef,#5283f0,#5282f0,#5383ef,#5384ef,#507bf1,#4c69f2,#4951eb,#4439d1,#4438d1,#4337cc,#4337ca,#4337cb,#463fda,#494ce8,#4b64f1,#4e72f1,#5589ed,#5a94e8,#5b97e6,#60a3dd,#61a5dc,#61a5dc)"></i>
<i style="top:40px;height:6px;background:linear-gradient(90deg,#494ee9,#494ee9,#4950eb,#4a55ee,#4a5bf0,#4c67f2,#507bf1,#5282f0,#5384ef,#5485ee,#5486ee,#5385ef,#5485ee,#5486ee,#5487ee,#5487ee,#5487ee,#5487ee,#5486ee,#5385ef,#5385ef,#5487ee,#5588ed,#5589ed,#5589ed,#5588ed,#5486ee,#5385ef,#5384ef,#5384ef,#5384ef,#5281f0,#4d6cf2,#4a55ee,#4640db,#453cd6,#453ad3,#4438d1,#4438d0,#453dd7,#494ce8,#4b64f1,#4e72f1,#5589ed,#5a94e8,#5b97e6,#60a3dd,#61a5dc,#61a5dc)"></i>
<i style="top:45px;height:6px;background:linear-gradient(90deg,#494fea,#494fea,#4951ec,#4a57ef,#4a5cf0,#4c6bf2,#517ff0,#5283f0,#5385ef,#5486ee,#5487ee,#5486ee,#5487ee,#5487ee,#5588ed,#5588ed,#5589ed,#5588ed,#5588ed,#5487ee,#5487ee,#5588ed,#5589ed,#568aec,#568aec,#5589ed,#5488ee,#5486ee,#5486ee,#5385ef,#5384ef,#5282f0,#4e71f1,#4a5bf0,#4847e5,#4742de,#463fd9,#453cd5,#453ad3,#453cd6,#494ce8,#4b64f1,#4e72f1,#5589ed,#5a94e8,#5b97e6,#60a3dd,#61a5dc,#61a5dc)"></i>
<i style="top:50px;height:6px;background:linear-gradient(90deg,#4951eb,#4951eb,#4952ec,#4a58f0,#4a5cf0,#4d6ff2,#5282f0,#5384ef,#5385ef,#5487ee,#5487ee,#5487ee,#5588ed,#5589ed,#5589ed,#558aed,#568aec,#568aec,#5589ed,#5589ed,#5589ed,#568aec,#568bec,#568bec,#568bec,#568aec,#5589ed,#5588ed,#5487ee,#5486ee,#5384ef,#5282f0,#4f77f1,#4b61f1,#4950eb,#4847e5,#4743df,#463fda,#453cd6,#453cd6,#494ce8,#4b64f1,#4e72f1,#5589ed,#5a94e8,#5b97e6,#60a3dd,#61a5dc,#61a5dc)"></i>
<i style="top:55px;height:6px;background:linear-gradient(90deg,#4952ec,#4952ec,#4952ec,#4a58f0,#4a5cf0,#4e74f1,#5282f0,#5384ef,#5486ee,#5487ee,#5488ee,#5588ed,#5589ed,#558aed,#568bec,#568bec,#568cec,#568cec,#568bec,#568bec,#568bec,#568bec,#568cec,#568cec,#568cec,#568bec,#568aec,#5589ed,#5588ed,#5487ee,#5385ef,#5283f0,#507cf1,#4c67f2,#4a58f0,#494ee9,#4847e5,#4742df,#463ed9,#453cd6,#494ce8,#4b64f1,#4e72f1,#5589ed,#5a94e8,#5b97e6,#60a3dd,#61a5dc,#61a5dc)"></i>
<i style="top:60px;height:6px;background:linear-gradient(90deg,#4953ed,#4953ec,#4953ec,#4a59f0,#4b62f1,#5079f1,#5283f0,#5385ef,#5486ee,#5488ee,#5588ed,#5589ed,#568aec,#568bec,#568cec,#578deb,#578deb,#578deb,#578deb,#578deb,#578deb,#578deb,#578deb,#578deb,#578ceb,#568cec,#568bec,#568bec,#568aec,#5588ed,#5486ee,#5383ef,#517ff0,#4d6cf2,#4b5ef1,#4a55ee,#494de8,#4846e4,#463fda,#453cd6,#494ce8,#4b64f1,#4e72f1,#5589ed,#5a94e8,#5b97e6,#60a3dd,#61a5dc,#61a5dc)"></i>
<i style="top:65px;height:6px;background:linear-gradient(90deg,#4a54ed,#4a54ed,#4953ed,#4a5cf0,#4c69f2,#517ff0,#5383ef,#5385ef,#5487ee,#5588ed,#5589ed,#568aec,#568bec,#568cec,#578deb,#588fea,#588fea,#588fea,#588fea,#588fea,#588fea,#588fea,#578eeb,#578eeb,#578deb,#578deb,#578ceb,#578ceb,#568cec,#558aed,#5487ee,#5384ef,#5281f0,#4e72f1,#4b65f1,#4a5bf0,#4952ec,#484ae6,#463fda,#453cd6,#494ce8,#4b64f1,#4e72f1,#5589ed,#5a94e8,#5b97e6,#60a3dd,#61a5dc,#61a5dc)"></i>
<i style="top:70px;height:6px;background:linear-gradient(90deg,#4a56ef,#4a56ef,#4a56ef,#4b60f1,#4d70f2,#5282f0,#5384ef,#5486ee,#5488ee,#5589ed,#558aed,#568bec,#568cec,#578deb,#588fea,#5891ea,#5991e9,#5891ea,#5991e9,#5991e9,#5991e9,#5890ea,#588fea,#588fea,#578eeb,#578eeb,#578eeb,#578eeb,#578deb,#568bec,#5588ed,#5385ef,#5282f0,#4f77f1,#4c6bf2,#4b61f1,#4a57ef,#494de9,#463fda,#453cd6,#494ce8,#4b64f1,#4e72f1,#5589ed,#5a94e8,#5b97e6,#60a3dd,#61a5dc,#61a5dc)"></i>
<i style="top:75px;height:6px;background:linear-gradient(90deg,#4a59f0,#4a59f0,#4a5bf0,#4b64f1,#4f76f1,#5282f0,#5384ef,#5487ee,#5588ed,#558aed,#568bec,#568cec,#578deb,#578eeb,#5890ea,#5992e9,#5993e9,#5992e9,#5992e9,#5a93e8,#5993e9,#5992e9,#5991e9,#5890ea,#588fea,#588fea,#588fea,#588fea,#588fea,#578deb,#558aed,#5486ee,#5282f0,#507cf1,#4e72f1,#4c67f2,#4a5cf0,#494fea,#463fda,#453cd6,#494ce8,#4b64f1,#4e72f1,#5589ed,#5a94e8,#5b97e6,#60a3dd,#61a5dc,#61a5dc)"></i>
<i style="top:80px;height:6px;background:linear-gradient(90deg,#4a5cf0,#4a5cf0,#4b5ef1,#4c69f2,#507bf1,#5283f0,#5385ef,#5487ee,#5589ed,#568aec,#568cec,#578deb,#578eeb,#588fea,#5991e9,#5a94e8,#5a94e8,#5a93e8,#5a94e8,#5a95e8,#5a94e8,#5a93e8,#5992e9,#5991e9,#5890ea,#5890ea,#5890ea,#5890ea,#5890ea,#578eeb,#568bec,#5487ee,#5283f0,#517ff0,#5079f1,#4d6ff2,#4b61f1,#494fea,#463fda,#453cd6,#494ce8,#4b64f1,#4e72f1,#5589ed,#5a94e8,#5b97e6,#60a3dd,#61a5dc,#61a5dc)"></i>
<i style="top:85px;height:6px;background:linear-gradient(90deg,#4b5ef1,#4b5ef1,#4b60f1,#4d6df2,#517ff0,#5383ef,#5486ee,#5588ed,#568aec,#568bec,#578ceb,#578eeb,#588fea,#5890ea,#5992e9,#5a94e8,#5a94e8,#5a94e8,#5a95e7,#5b96e7,#5b96e7,#5a94e8,#5a93e8,#5992e9,#5991e9,#5891ea,#5890ea,#5891ea,#5890ea,#5890ea,#578deb,#5588ed,#5383ef,#5282f0,#517ff0,#4f77f1,#4b62f1,#494fea,#463fda,#453cd6,#494ce8,#4b64f1,#4e72f1,#5589ed,#5a94e8,#5b97e6,#60a3dd,#61a5dc,#61a5dc)"></i>
<i style="top:90px;height:6px;background:linear-gradient(90deg,#4b61f1,#4b61f1,#4b61f1,#4d70f2,#5282f0,#5384ef,#5487ee,#5589ed,#568bec,#568cec,#578deb,#588eea,#5890ea,#5991e9,#5992e9,#5a94e8,#5a94e8,#5a95e7,#5b96e6,#5b98e6,#5b97e6,#5a95e7,#5a94e8,#5993e9,#5992e9,#5991e9,#5991e9,#5991e9,#5991e9,#5991e9,#588fea,#558aed,#5385ef,#5282f0,#5282f0,#517ff0,#4b62f1,#494fea,#463fda,#453cd6,#494ce8,#4b64f1,#4e72f1,#5589ed,#5a94e8,#5b97e6,#60a3dd,#61a5dc,#61a5dc)"></i>
<i style="top:95px;height:6px;background:linear-gradient(90deg,#4b65f1,#4b64f1,#4b61f1,#4e73f1,#5282f0,#5385ef,#5588ed,#568aec,#568cec,#578deb,#578eeb,#588fea,#5890ea,#5991e9,#5993e9,#5a94e8,#5a95e8,#5b96e7,#5b97e6,#5c99e5,#5c99e5,#5b96e6,#5a95e8,#5a93e8,#5992e9,#5992e9,#5992e9,#5992e9,#5a93e8,#5a94e8,#5991e9,#568bec,#5486ee,#5383ef,#5282f0,#5280f0,#4b62f1,#494fea,#463fda,#453cd6,#494ce8,#4b64f1,#4e72f1,#5589ed,#5a94e8,#5b97e6,#60a3dd,#61a5dc,#61a5dc)"></i>
<i style="top:100px;height:6px;background:linear-gradient(90deg,#4c6bf2,#4c6af2,#4b61f1,#4f76f1,#5283f0,#5486ee,#5589ed,#568bec,#578deb,#578eeb,#588fea,#5890ea,#5991e9,#5992e9,#5a93e8,#5a94e8,#5a95e7,#5b96e7,#5b98e6,#5c9ae4,#5c99e5,#5b97e6,#5a95e7,#5a94e8,#5a93e8,#5993e9,#5993e9,#5a93e8,#5a95e8,#5a95e7,#5a93e8,#578deb,#5487ee,#5384ef,#5282f0,#5280f0,#4b62f1,#494fea,#463fda,#453cd6,#494ce8,#4b64f1,#4e72f1,#5589ed,#5a94e8,#5b97e6,#60a3dd,#61a5dc,#61a5dc)"></i>
<i style="top:105px;height:6px;background:linear-gradient(90deg,#4f77f1,#4f74f1,#4b64f1,#507bf1,#5383ef,#5487ee,#568aec,#578deb,#578eeb,#588fea,#5890ea,#5991e9,#5992e9,#5993e9,#5a93e8,#5a94e8,#5a95e7,#5b96e6,#5b98e5,#5c9ae4,#5c99e4,#5b97e6,#5b96e7,#5a94e8,#5a94e8,#5a93e8,#5a93e8,#5a94e8,#5b96e7,#5b97e6,#5a95e7,#588eea,#5588ed,#5384ef,#5282f0,#5280f0,#4b62f1,#494fea,#463fda,#453cd6,#494ce8,#4b64f1,#4e72f1,#5589ed,#5a94e8,#5b97e6,#60a3dd,#61a5dc,#61a5dc)"></i>
<i style="top:110px;height:6px;background:linear-gradient(90deg,#5282f0,#5180f0,#4d6ff2,#5281f0,#5384ef,#5487ee,#568bec,#578eeb,#588fea,#5890ea,#5991e9,#5992e9,#5993e9,#5a93e8,#5a94e8,#5a95e8,#5a95e7,#5b97e6,#5b98e5,#5c9ae4,#5c9ae4,#5b98e6,#5b96e7,#5a95e7,#5a94e8,#5a94e8,#5a94e8,#5a95e8,#5b96e6,#5c99e5,#5b97e6,#5890ea,#5588ed,#5384ef,#5282f0,#5280f0,#4b62f1,#494fea,#463fda,#453cd6,#494ce8,#4b64f1,#4e72f1,#5589ed,#5a94e8,#5b97e6,#60a3dd,#61a5dc,#61a5dc)"></i>
<i style="top:115px;height:6px;background:linear-gradient(90deg,#5282f0,#5282f0,#507af1,#5282f0,#5385ef,#5588ed,#578ceb,#5890ea,#5890ea,#5890ea,#5992e9,#5a93e8,#5a93e8,#5a93e8,#5a94e8,#5a95e8,#5b96e7,#5b97e6,#5c99e5,#5c9ae4,#5c9ae4,#5b98e5,#5b96e7,#5a95e7,#5a94e8,#5a94e8,#5a94e8,#5a95e7,#5b97e6,#5c99e5,#5b97e6,#5890ea,#5588ed,#5384ef,#5282f0,#5280f0,#4b62f1,#494fea,#463fda,#453cd6,#494ce8,#4b64f1,#4e72f1,#5589ed,#5a94e8,#5b97e6,#60a3dd,#61a5dc,#61a5dc)"></i>
<i style="top:120px;height:6px;background:linear-gradient(90deg,#5283f0,#5282f0,#517ff0,#5283f0,#5485ee,#5589ed,#578deb,#5890ea,#5890ea,#5991e9,#5992e9,#5a94e8,#5a94e8,#5a94e8,#5a94e8,#5a95e7,#5b96e7,#5b97e6,#5c99e5,#5c9be4,#5c9ae4,#5b98e5,#5b96e6,#5a95e7,#5a94e8,#5a94e8,#5a94e8,#5a95e7,#5b97e6,#5c99e5,#5b97e6,#5890ea,#5588ed,#5384ef,#5282f0,#5280f0,#4b62f1,#494fea,#463fda,#453cd6,#494ce8,#4b64f1,#4e72f1,#5589ed,#5a94e8,#5b97e6,#60a3dd,#61a5dc,#61a5dc)"></i>
<i style="top:125px;height:6px;background:linear-gradient(90deg,#517ef0,#517ff0,#5180f0,#5283f0,#5486ee,#5589ed,#578deb,#5890ea,#5890ea,#5991e9,#5992e9,#5a94e8,#5a94e8,#5a94e8,#5a94e8,#5a95e7,#5b96e7,#5b97e6,#5c99e5,#5c9be3,#5c9ae4,#5b98e5,#5b96e6,#5a95e7,#5a94e8,#5a94e8,#5a94e8,#5a95e7,#5b97e6,#5c99e5,#5b97e6,#5890ea,#5588ed,#5384ef,#5282f0,#5280f0,#4b62f1,#494fea,#463fda,#453cd6,#494ce8,#4b64f1,#4e72f1,#5589ed,#5a94e8,#5b97e6,#60a3dd,#61a5dc,#61a5dc)"></i>
<i style="top:130px;height:6px;background:linear-gradient(90deg,#4e70f1,#4d6ff2,#5280f0,#5384ef,#5486ee,#5589ed,#578deb,#5890ea,#5890ea,#5991e9,#5992e9,#5a94e8,#5a94e8,#5a94e8,#5a94e8,#5a95e7,#5b96e7,#5b97e6,#5c99e5,#5d9ce3,#5c9ae4,#5b98e5,#5b96e6,#5a95e7,#5a94e8,#5a94e8,#5a94e8,#5a95e7,#5b97e6,#5c99e5,#5b97e6,#5890ea,#5588ed,#5384ef,#5282f0,#5280f0,#4b62f1,#494fea,#463fda,#453cd6,#494ce8,#4b64f1,#4e72f1,#5589ed,#5a94e8,#5b97e6,#60a3dd,#61a5dc,#61a5dc)"></i>
<i style="top:135px;height:6px;background:linear-gradient(90deg,#4f75f1,#4f75f1,#5282f0,#5384ef,#5487ee,#5589ed,#578deb,#588fea,#5890ea,#5991e9,#5992e9,#5a93e8,#5a94e8,#5a94e8,#5a94e8,#5a95e7,#5b96e7,#5b97e6,#5c99e5,#5d9ce3,#5c9ae4,#5b98e5,#5b96e6,#5a95e7,#5a94e8,#5a94e8,#5a94e8,#5a95e7,#5b97e6,#5c99e5,#5b97e6,#5890ea,#5588ed,#5384ef,#5282f0,#5280f0,#4b62f1,#494fea,#463fda,#453cd6,#494ce8,#4b64f1,#4e72f1,#5589ed,#5a94e8,#5b97e6,#60a3dd,#61a5dc,#61a5dc)"></i>
<i style="top:140px;height:6px;background:linear-gradient(90deg,#517ff0,#5281f0,#5282f0,#5384ef,#5487ee,#5589ed,#578ceb,#588fea,#5890ea,#5991e9,#5992e9,#5a93e8,#5a94e8,#5a94e8,#5a94e8,#5a95e7,#5b96e7,#5b97e6,#5c99e5,#5d9ce3,#5c9ae4,#5b98e5,#5b96e6,#5a95e7,#5a94e8,#5a94e8,#5a94e8,#5a95e7,#5b97e6,#5c99e5,#5b97e6,#5890ea,#5588ed,#5384ef,#5282f0,#5280f0,#4b62f1,#494fea,#463fda,#453cd6,#494ce8,#4b64f1,#4e72f1,#5589ed,#5a94e8,#5b97e6,#60a3dd,#61a5dc,#61a5dc)"></i>
<i style="top:145px;height:6px;background:linear-gradient(90deg,#5281f0,#5283f0,#5383ef,#5385ef,#5487ee,#5589ed,#568cec,#578eeb,#5890ea,#5991e9,#5992e9,#5a93e8,#5a94e8,#5a94e8,#5a94e8,#5a95e7,#5b96e7,#5b97e6,#5c99e5,#5d9ce3,#5c9ae4,#5b98e5,#5b96e6,#5a95e7,#5a94e8,#5a94e8,#5a94e8,#5a95e7,#5b97e6,#5c99e5,#5b97e6,#5890ea,#5588ed,#5384ef,#5282f0,#5280f0,#4b62f1,#494fea,#463fda,#453cd6,#494ce8,#4b64f1,#4e72f1,#5589ed,#5a94e8,#5b97e6,#60a3dd,#61a5dc,#61a5dc)"></i>
<i style="top:150px;height:6px;background:linear-gradient(90deg,#5281f0,#5384ef,#5384ef,#5385ef,#5487ee,#5589ed,#568cec,#578eeb,#5890ea,#5991e9,#5992e9,#5a93e8,#5a94e8,#5a94e8,#5a94e8,#5a95e7,#5b96e7,#5b97e6,#5c99e5,#5d9ce3,#5c9ae4,#5b98e5,#5b96e6,#5a95e7,#5a94e8,#5a94e8,#5a94e8,#5a95e7,#5b97e6,#5c99e5,#5b97e6,#5890ea,#5588ed,#5384ef,#5282f0,#5280f0,#4b62f1,#494fea,#463fda,#453cd6,#494ce8,#4b64f1,#4e72f1,#5589ed,#5a94e8,#5b97e6,#60a3dd,#61a5dc,#61a5dc)"></i>
<i style="top:155px;height:6px;background:linear-gradient(90deg,#5281f0,#5384ef,#5385ef,#5385ef,#5487ee,#5589ed,#568cec,#578eeb,#5890ea,#5991e9,#5992e9,#5a93e8,#5a94e8,#5a94e8,#5a94e8,#5a95e7,#5b96e7,#5b97e6,#5c99e5,#5d9ce3,#5c9ae4,#5b98e5,#5b96e6,#5a95e7,#5a94e8,#5a94e8,#5a94e8,#5a95e7,#5b97e6,#5c99e5,#5b97e6,#5890ea,#5588ed,#5384ef,#5282f0,#5280f0,#4b62f1,#494fea,#463fda,#453cd6,#494ce8,#4b64f1,#4e72f1,#5589ed,#5a94e8,#5b97e6,#60a3dd,#61a5dc,#61a5dc)"></i>
<i style="top:160px;height:6px;background:linear-gradient(90deg,#5281f0,#5384ef,#5385ef,#5485ee,#5487ee,#5589ed,#568bec,#578eeb,#5890ea,#5991e9,#5992e9,#5a93e8,#5a94e8,#5a94e8,#5a94e8,#5a95e7,#5b96e7,#5b97e6,#5c99e5,#5d9ce3,#5c9ae4,#5b98e5,#5b96e6,#5a95e7,#5a94e8,#5a94e8,#5a94e8,#5a95e7,#5b97e6,#5c99e5,#5b97e6,#5890ea,#5588ed,#5384ef,#5282f0,#5280f0,#4b62f1,#494fea,#463fda,#453cd6,#494ce8,#4b64f1,#4e72f1,#5589ed,#5a94e8,#5b97e6,#60a3dd,#61a5dc,#61a5dc)"></i>
<i style="top:165px;height:6px;background:linear-gradient(90deg,#5281f0,#5384ef,#5385ef,#5385ef,#5487ee,#5589ed,#568bec,#578eeb,#5890ea,#5991e9,#5992e9,#5a93e8,#5a94e8,#5a94e8,#5a94e8,#5a95e7,#5b96e7,#5b97e6,#5c99e5,#5d9ce3,#5c9ae4,#5b98e5,#5b96e6,#5a95e7,#5a94e8,#5a94e8,#5a94e8,#5a95e7,#5b97e6,#5c99e5,#5b97e6,#5890ea,#5588ed,#5384ef,#5282f0,#5280f0,#4b62f1,#494fea,#463fda,#453cd6,#494ce8,#4b64f1,#4e72f1,#5589ed,#5a94e8,#5b97e6,#60a3dd,#61a5dc,#61a5dc)"></i>
<i style="top:170px;height:6px;background:linear-gradient(90deg,#5281f0,#5384ef,#5385ef,#5385ef,#5487ee,#5589ed,#568bec,#578eeb,#5890ea,#5991e9,#5992e9,#5a93e8,#5a94e8,#5a94e8,#5a94e8,#5a95e7,#5b96e7,#5b97e6,#5c99e5,#5d9ce3,#5c9ae4,#5b98e5,#5b96e6,#5a95e7,#5a94e8,#5a94e8,#5a94e8,#5a95e7,#5b97e6,#5c99e5,#5b97e6,#5890ea,#5588ed,#5384ef,#5282f0,#5280f0,#4b62f1,#494fea,#463fda,#453cd6,#494ce8,#4b64f1,#4e72f1,#5589ed,#5a94e8,#5b97e6,#60a3dd,#61a5dc,#61a5dc)"></i>
<i style="top:175px;height:6px;background:linear-gradient(90deg,#5281f0,#5384ef,#5385ef,#5385ef,#5487ee,#5589ed,#568bec,#578eeb,#5890ea,#5991e9,#5992e9,#5a93e8,#5a94e8,#5a94e8,#5a94e8,#5a95e7,#5b96e7,#5b97e6,#5c99e5,#5d9ce3,#5c9ae4,#5b98e5,#5b96e6,#5a95e7,#5a94e8,#5a94e8,#5a94e8,#5a95e7,#5b97e6,#5c99e5,#5b97e6,#5890ea,#5588ed,#5384ef,#5282f0,#5280f0,#4b62f1,#494fea,#463fda,#453cd6,#494ce8,#4b64f1,#4e72f1,#5589ed,#5a94e8,#5b97e6,#60a3dd,#61a5dc,#61a5dc)"></i>
<i style="top:180px;height:6px;background:linear-gradient(90deg,#5281f0,#5384ef,#5385ef,#5385ef,#5487ee,#5589ed,#568bec,#578eeb,#5890ea,#5991e9,#5992e9,#5a93e8,#5a94e8,#5a94e8,#5a94e8,#5a95e7,#5b96e7,#5b97e6,#5c99e5,#5d9ce3,#5c9ae4,#5b98e5,#5b96e6,#5a95e7,#5a94e8,#5a94e8,#5a94e8,#5a95e7,#5b97e6,#5c99e5,#5b97e6,#5890ea,#5588ed,#5384ef,#5282f0,#5280f0,#4b62f1,#494fea,#463fda,#453cd6,#494ce8,#4b64f1,#4e72f1,#5589ed,#5a94e8,#5b97e6,#60a3dd,#61a5dc,#61a5dc)"></i>
<i style="top:185px;height:6px;background:linear-gradient(90deg,#5281f0,#5384ef,#5385ef,#5385ef,#5487ee,#5589ed,#568bec,#578eeb,#5890ea,#5991e9,#5992e9,#5a93e8,#5a94e8,#5a94e8,#5a94e8,#5a95e7,#5b96e7,#5b97e6,#5c99e5,#5d9ce3,#5c9ae4,#5b98e5,#5b96e6,#5a95e7,#5a94e8,#5a94e8,#5a94e8,#5a95e7,#5b97e6,#5c99e5,#5b97e6,#5890ea,#5588ed,#5384ef,#5282f0,#5280f0,#4b62f1,#494fea,#463fda,#453cd6,#494ce8,#4b64f1,#4e72f1,#5589ed,#5a94e8,#5b97e6,#60a3dd,#61a5dc,#61a5dc)"></i>
<i style="top:190px;height:6px;background:linear-gradient(90deg,#5281f0,#5384ef,#5385ef,#5385ef,#5487ee,#5589ed,#568bec,#578eeb,#5890ea,#5991e9,#5992e9,#5a93e8,#5a94e8,#5a94e8,#5a94e8,#5a95e7,#5b96e7,#5b97e6,#5c99e5,#5d9ce3,#5c9ae4,#5b98e5,#5b96e6,#5a95e7,#5a94e8,#5a94e8,#5a94e8,#5a95e7,#5b97e6,#5c99e5,#5b97e6,#5890ea,#5588ed,#5384ef,#5282f0,#5280f0,#4b62f1,#494fea,#463fda,#453cd6,#494ce8,#4b64f1,#4e72f1,#5589ed,#5a94e8,#5b97e6,#60a3dd,#61a5dc,#61a5dc)"></i>
<i style="top:195px;height:6px;background:linear-gradient(90deg,#5281f0,#5384ef,#5385ef,#5385ef,#5487ee,#5589ed,#568bec,#578eeb,#5890ea,#5991e9,#5992e9,#5a93e8,#5a94e8,#5a94e8,#5a94e8,#5a95e7,#5b96e7,#5b97e6,#5c99e5,#5d9ce3,#5c9ae4,#5b98e5,#5b96e6,#5a95e7,#5a94e8,#5a94e8,#5a94e8,#5a95e7,#5b97e6,#5c99e5,#5b97e6,#5890ea,#5588ed,#5384ef,#5282f0,#5280f0,#4b62f1,#494fea,#463fda,#453cd6,#494ce8,#4b64f1,#4e72f1,#5589ed,#5a94e8,#5b97e6,#60a3dd,#61a5dc,#61a5dc)"></i>
<i style="top:200px;height:6px;background:linear-gradient(90deg,#5281f0,#5384ef,#5385ef,#5385ef,#5487ee,#5589ed,#568bec,#578eeb,#5890ea,#5991e9,#5992e9,#5a93e8,#5a94e8,#5a94e8,#5a94e8,#5a95e7,#5b96e7,#5b97e6,#5c99e5,#5d9ce3,#5c9ae4,#5b98e5,#5b96e6,#5a95e7,#5a94e8,#5a94e8,#5a94e8,#5a95e7,#5b97e6,#5c99e5,#5b97e6,#5890ea,#5588ed,#5384ef,#5282f0,#5280f0,#4b62f1,#494fea,#463fda,#453cd6,#494ce8,#4b64f1,#4e72f1,#5589ed,#5a94e8,#5b97e6,#60a3dd,#61a5dc,#61a5dc)"></i>
<i style="top:205px;height:6px;background:linear-gradient(90deg,#5281f0,#5384ef,#5385ef,#5385ef,#5487ee,#5589ed,#568bec,#578eeb,#5890ea,#5991e9,#5992e9,#5a93e8,#5a94e8,#5a94e8,#5a94e8,#5a95e7,#5b96e7,#5b97e6,#5c99e5,#5d9ce3,#5c9ae4,#5b98e5,#5b96e6,#5a95e7,#5a94e8,#5a94e8,#5a94e8,#5a95e7,#5b97e6,#5c99e5,#5b97e6,#5890ea,#5588ed,#5384ef,#5282f0,#5280f0,#4b62f1,#494fea,#463fda,#453cd6,#494ce8,#4b64f1,#4e72f1,#5589ed,#5a94e8,#5b97e6,#60a3dd,#61a5dc,#61a5dc)"></i>
<i style="top:210px;height:6px;background:linear-gradient(90deg,#5281f0,#5384ef,#5385ef,#5385ef,#5487ee,#5589ed,#568bec,#578eeb,#5890ea,#5991e9,#5992e9,#5a93e8,#5a94e8,#5a94e8,#5a94e8,#5a95e7,#5b96e7,#5b97e6,#5c99e5,#5d9ce3,#5c9ae4,#5b98e5,#5b96e6,#5a95e7,#5a94e8,#5a94e8,#5a94e8,#5a95e7,#5b97e6,#5c99e5,#5b97e6,#5890ea,#5588ed,#5384ef,#5282f0,#5280f0,#4b62f1,#494fea,#463fda,#453cd6,#494ce8,#4b64f1,#4e72f1,#5589ed,#5a94e8,#5b97e6,#60a3dd,#61a5dc,#61a5dc)"></i>
<i style="top:215px;height:6px;background:linear-gradient(90deg,#5281f0,#5384ef,#5385ef,#5385ef,#5487ee,#5589ed,#568bec,#578eeb,#5890ea,#5991e9,#5992e9,#5a93e8,#5a94e8,#5a94e8,#5a94e8,#5a95e7,#5b96e7,#5b97e6,#5c99e5,#5d9ce3,#5c9ae4,#5b98e5,#5b96e6,#5a95e7,#5a94e8,#5a94e8,#5a94e8,#5a95e7,#5b97e6,#5c99e5,#5b97e6,#5890ea,#5588ed,#5384ef,#5282f0,#5280f0,#4b62f1,#494fea,#463fda,#453cd6,#494ce8,#4b64f1,#4e72f1,#5589ed,#5a94e8,#5b97e6,#60a3dd,#61a5dc,#61a5dc)"></i>
</div></div>
<div class="fo" style="left:760.8px;top:1306.1px;width:562.9px;height:196.8px">
<div class="fi" style="left:-10px;top:-10px;width:582.9px;height:220px;filter:blur(2.5px)">
<i style="top:0px;height:6px;background:linear-gradient(90deg,#70bfb4,#70bfb4,#76c4a5,#9bc869,#c8bf40,#ccbd41,#cfbc42,#dbb745,#edde43,#f4f040,#f4f040,#f4f040,#f4f040,#f4f040,#f4f040,#f4f040,#eee242,#f4f040,#f4f040,#f4f040,#f4f040,#f4f040,#f4f040,#f4f040,#f4f040,#f4f040,#f4f040,#f4f040,#f4f040,#f4f040,#f4f040,#f4f040,#f4f040,#f4f040,#f4f040,#f4f040,#f4f040,#f4f040,#f4f040,#eccf45,#d5ba43,#c7c040,#ebc247,#e7b649,#b3c650,#a9c75a,#9ac86b,#97c86e,#97c86e)"></i>
<i style="top:5px;height:6px;background:linear-gradient(90deg,#70bfb4,#70bfb4,#76c4a5,#9bc869,#c8bf40,#ccbd41,#cfbc42,#dbb745,#edde43,#f4f040,#f4f040,#f4f040,#f4f040,#f4f040,#f4f040,#f4f040,#eee242,#f4f040,#f4f040,#f4f040,#f4f040,#f4f040,#f4f040,#f4f040,#f4f040,#f4f040,#f4f040,#f4f040,#f4f040,#f4f040,#f4f040,#f4f040,#f4f040,#f4f040,#f4f040,#f4f040,#f4f040,#f4f040,#f4f040,#eccf45,#d5ba43,#c7c040,#ebc247,#e7b649,#b3c650,#a9c75a,#9ac86b,#97c86e,#97c86e)"></i>
<i style="top:10px;height:6px;background:linear-gradient(90deg,#70bfb5,#70bfb4,#75c4a7,#99c86c,#c6c040,#cbbe41,#cdbd42,#d9b845,#ecd045,#f4f040,#f4f040,#f4f040,#f4f040,#f4f040,#f4f040,#f4f040,#eedf42,#f4f040,#f4f040,#f4f040,#f4f040,#f4f040,#f4f040,#f4f040,#f4f040,#f4f040,#f4f040,#f4f040,#f4f040,#f4f040,#f4f040,#f4f040,#f4f040,#f4f040,#f4f040,#f4f040,#f4f040,#f4f040,#f3ee40,#eccb45,#d3ba43,#c6c040,#ebc247,#e7b649,#b3c650,#aac759,#9ac86b,#97c86e,#97c86e)"></i>
<i style="top:15px;height:6px;background:linear-gradient(90deg,#6fbeb6,#6fbeb5,#73c2ad,#8ec878,#b8c44c,#c7bf40,#c8bf40,#d1bb43,#e8b849,#ebc147,#ecc446,#ecc446,#eccb45,#eee242,#eee342,#eee342,#ecce45,#eee242,#eee242,#eee342,#f0e741,#f2eb41,#f4f040,#f4f040,#f4f040,#f4f040,#f4f040,#f4f040,#f1e941,#efe542,#f1e941,#f1ea41,#f2ea41,#f3ed40,#f4f040,#f4f040,#f4f040,#f3ef40,#eddc43,#e9bd48,#cfbc42,#c6c040,#eac047,#e7b649,#b3c650,#abc757,#9ac86b,#97c86e,#97c86e)"></i>
<i style="top:20px;height:6px;background:linear-gradient(90deg,#6ebdb8,#6fbdb8,#71c0b2,#81c88e,#9cc868,#b1c651,#bcc348,#c3c142,#e6b44a,#c3c143,#c2c143,#c2c143,#c3c142,#dcb746,#dfb647,#e0b647,#e1b548,#e1b548,#deb647,#e1b548,#ebc047,#ecca45,#ecd044,#eccf45,#ecd544,#edd943,#edda43,#eddb43,#ecce45,#ebc246,#eccc45,#ecd144,#ecd344,#eddb43,#efe442,#efe442,#eee242,#eddc43,#eabf47,#e0b647,#c9bf41,#c4c041,#eabe48,#e7b649,#b3c650,#abc757,#9ac86b,#97c86e,#97c86e)"></i>
<i style="top:25px;height:6px;background:linear-gradient(90deg,#6cbabd,#6dbabd,#70bfb4,#74c2aa,#7fc791,#8dc87a,#9dc868,#a7c75c,#bcc348,#a6c75e,#a1c863,#a3c861,#abc758,#b5c54e,#b2c650,#b2c650,#b1c651,#b1c651,#b4c54e,#c7c040,#cabe41,#cbbe41,#cbbe41,#cbbe41,#dbb745,#e0b648,#e1b548,#e2b548,#e1b548,#ebc147,#dbb745,#e4b449,#e5b44a,#eabf47,#eccb45,#eccd45,#ecc846,#e8b949,#d4ba43,#d6b943,#c4c142,#c5c041,#eabe48,#e7b649,#b3c650,#abc757,#9ac86b,#97c86e,#97c86e)"></i>
<i style="top:30px;height:6px;background:linear-gradient(90deg,#69b5c6,#69b6c5,#6cbabd,#6ebdb8,#6ebcba,#75c3a9,#7fc792,#8ac87e,#95c870,#8ec878,#8bc87d,#90c876,#a0c864,#9fc865,#99c86c,#97c86e,#96c86f,#97c86e,#9cc869,#acc756,#abc758,#a8c75b,#a9c75a,#abc758,#bdc347,#bcc348,#bcc348,#bcc348,#bbc348,#b9c44a,#c0c245,#cdbd41,#ccbd41,#d7b944,#e1b548,#e5b44a,#e0b647,#d0bc42,#c5c040,#c1c144,#bdc347,#c5c041,#eabe48,#e7b649,#b3c650,#abc757,#9ac86b,#97c86e,#97c86e)"></i>
<i style="top:35px;height:6px;background:linear-gradient(90deg,#66b0cf,#66b0cf,#68b3ca,#69b5c6,#68b4c8,#6cbabd,#70beb5,#76c4a5,#79c69f,#7bc799,#7cc798,#81c88f,#9dc867,#8fc877,#86c885,#85c887,#85c888,#85c887,#88c882,#91c875,#9bc869,#9ec866,#95c870,#98c86d,#a3c860,#a2c862,#a0c864,#a0c864,#a2c862,#a0c864,#adc756,#b8c44c,#c1c244,#c6c040,#cdbd42,#d2ba43,#cdbd41,#c5c041,#c1c244,#bfc246,#bdc348,#c5c041,#eabe48,#e7b649,#b3c650,#abc757,#9ac86b,#97c86e,#97c86e)"></i>
<i style="top:40px;height:6px;background:linear-gradient(90deg,#63a9d9,#63a9d9,#65abd6,#65add3,#65add3,#67b3ca,#6bb8c0,#6dbbbb,#6ebcba,#71c0b2,#71c0b2,#72c1af,#82c88d,#7cc798,#78c6a1,#77c5a3,#77c5a3,#77c5a3,#78c6a1,#7ac69b,#8ac87e,#91c875,#86c885,#89c880,#8fc877,#8ec878,#8bc87d,#8bc87d,#93c873,#a0c864,#9bc869,#a5c75e,#b2c650,#bec246,#c4c141,#c7c040,#c5c041,#b9c44a,#bbc348,#bdc347,#bdc348,#c5c041,#eabe48,#e7b649,#b3c650,#abc757,#9ac86b,#97c86e,#97c86e)"></i>
<i style="top:45px;height:6px;background:linear-gradient(90deg,#5fa2df,#5fa2df,#60a4dd,#61a6dc,#62a7db,#65abd6,#67b1cd,#68b4c9,#69b6c4,#6cbabe,#6cbabd,#6fbdb7,#6ebcba,#6ebcb9,#6ebdb8,#6fbdb7,#6fbdb7,#6fbdb7,#6fbdb7,#70bfb5,#75c3a8,#7bc79b,#78c69f,#7dc795,#81c88e,#80c891,#7bc79b,#7bc79a,#7fc791,#8cc87c,#8ac87f,#93c872,#a3c861,#b1c651,#bcc348,#c4c142,#bdc347,#b2c650,#b7c44c,#bcc348,#bdc348,#c5c041,#eabe48,#e7b649,#b3c650,#abc757,#9ac86b,#97c86e,#97c86e)"></i>
<i style="top:50px;height:6px;background:linear-gradient(90deg,#5c99e5,#5c99e5,#5d9ce3,#5d9ee1,#5e9fe0,#60a4dd,#63a9d9,#65add3,#67b0ce,#68b4c9,#69b5c6,#6ab7c3,#68b4c7,#69b5c6,#6ab7c3,#6bb8c1,#6bb8c1,#6bb8c0,#6bb8c0,#6dbbbb,#6dbbbb,#70bfb5,#70bfb4,#74c2ab,#74c3a9,#74c2aa,#70bfb5,#70beb5,#70bfb5,#77c5a4,#7ac69d,#84c889,#94c872,#a5c75e,#b2c650,#bbc349,#b7c54c,#b2c650,#b5c54e,#bcc348,#bdc348,#c5c041,#eabe48,#e7b649,#b3c650,#abc757,#9ac86b,#97c86e,#97c86e)"></i>
<i style="top:55px;height:6px;background:linear-gradient(90deg,#578eeb,#578eeb,#5a93e8,#5b96e7,#5b97e6,#5c9be3,#5fa2df,#62a6db,#64abd7,#66aed1,#67b0ce,#67b2cc,#66b0ce,#67b1cd,#67b3ca,#68b4c9,#68b4c8,#68b4c8,#68b5c7,#6ab7c3,#6ab7c2,#6cbabd,#6ebdb8,#6ebdb8,#6ebcb9,#6ebdb8,#6dbbbc,#6cb9be,#6dbbbb,#6ebdb8,#71c0b2,#76c4a4,#87c884,#99c86c,#a8c75b,#b1c651,#b1c651,#b0c652,#b3c64f,#bcc348,#bdc348,#c5c041,#eabe48,#e7b649,#b3c650,#abc757,#9ac86b,#97c86e,#97c86e)"></i>
<i style="top:60px;height:6px;background:linear-gradient(90deg,#5384ef,#5384ef,#558aed,#568bec,#568bec,#5992e9,#5c99e5,#5ea0e0,#61a5dc,#64aad8,#65acd5,#65add3,#65acd4,#65add3,#66afd0,#66b0ce,#67b1cd,#67b1cd,#67b1cc,#67b3ca,#68b4c9,#69b6c5,#6bb8c0,#6bb9c0,#6bb8c0,#6bb9c0,#6ab7c2,#6ab6c4,#6bb7c2,#6cb9be,#6fbdb7,#70bfb4,#7cc797,#8ec878,#9fc865,#a9c75a,#acc756,#aec654,#b2c650,#bcc348,#bdc348,#c5c041,#eabe48,#e7b649,#b3c650,#abc757,#9ac86b,#97c86e,#97c86e)"></i>
<i style="top:65px;height:6px;background:linear-gradient(90deg,#5282f0,#5281f0,#5384ef,#5283f0,#5282f0,#5486ee,#5890ea,#5c99e5,#5ea0e0,#61a5dc,#63a8da,#63a9d9,#63a9d9,#64aad8,#65acd5,#65add3,#65add2,#66aed2,#66aed1,#66afd0,#66b0ce,#67b2cc,#68b4c8,#69b5c7,#69b5c6,#69b5c6,#68b4c7,#68b3c9,#68b4c9,#69b6c5,#6dbabd,#70beb5,#75c3a8,#86c886,#97c86e,#a2c862,#a8c75c,#abc757,#b2c650,#bcc348,#bdc348,#c5c041,#eabe48,#e7b649,#b3c650,#abc757,#9ac86b,#97c86e,#97c86e)"></i>
<i style="top:70px;height:6px;background:linear-gradient(90deg,#5282f0,#5180f0,#4e73f1,#4f75f1,#507bf1,#5282f0,#5486ee,#5992e9,#5c9ae4,#5ea0e0,#60a4dd,#61a5dc,#61a5dc,#62a7db,#63a9d9,#64aad8,#64aad7,#64abd7,#64abd6,#65acd5,#65acd4,#66aed2,#66b0ce,#67b2cc,#67b2cb,#67b2ca,#67b2cc,#67b1ce,#66b0ce,#67b2cc,#6ab7c3,#6ebdb8,#71c0b2,#7ec794,#90c875,#9bc869,#a3c861,#a9c75a,#b2c650,#bcc348,#bdc348,#c5c041,#eabe48,#e7b649,#b3c650,#abc757,#9ac86b,#97c86e,#97c86e)"></i>
<i style="top:75px;height:6px;background:linear-gradient(90deg,#5282f0,#517cf0,#4952ec,#4a58f0,#4c69f2,#5079f1,#5282f0,#5589ed,#5a95e7,#5d9ce3,#5ea0e0,#5fa2de,#5fa2de,#60a4dd,#62a6db,#62a7da,#62a7da,#63a8da,#63a8da,#63a8d9,#63a9d9,#64aad8,#65acd4,#66afd1,#66b0cf,#66b0ce,#66afcf,#66aed2,#65acd5,#65add3,#68b3ca,#6cbabd,#70bfb4,#78c6a1,#8cc87b,#95c870,#9fc865,#a8c75b,#b2c650,#bcc348,#bdc348,#c5c041,#eabe48,#e7b649,#b3c650,#abc757,#9ac86b,#97c86e,#97c86e)"></i>
<i style="top:80px;height:6px;background:linear-gradient(90deg,#5282f0,#5079f1,#453bd4,#4743e0,#4a5bf0,#4d6df2,#517ef0,#5383ef,#588fea,#5b97e6,#5d9de2,#5ea0e0,#5ea0e0,#5fa2df,#60a3dd,#60a4dd,#61a4dc,#61a5dc,#61a5dc,#61a5dc,#61a5dc,#61a6db,#63a9d9,#65acd5,#65add3,#66aed2,#65add3,#65abd6,#63a8d9,#63a8d9,#66b0cf,#6bb8c1,#6fbeb6,#74c2ab,#8bc87d,#91c874,#9bc869,#a8c75b,#b2c650,#bcc348,#bdc348,#c5c041,#eabe48,#e7b649,#b3c650,#abc757,#9ac86b,#97c86e,#97c86e)"></i>
<i style="top:85px;height:6px;background:linear-gradient(90deg,#5282f0,#5079f1,#453ad3,#453cd5,#494de9,#4b62f1,#4f75f1,#5282f0,#5589ed,#5a93e8,#5c99e5,#5d9de2,#5ea0e0,#5ea0e0,#5fa1df,#5fa1df,#5fa1df,#5fa2df,#5fa2df,#5fa1df,#5ea0e0,#5fa1df,#61a6dc,#63a9d9,#64abd6,#65acd5,#65abd6,#63a9d9,#61a5dc,#60a3de,#65add4,#69b5c6,#6ebcb9,#71c0b2,#8ac87f,#90c876,#9ac86a,#a8c75b,#b2c650,#bcc348,#bdc348,#c5c041,#eabe48,#e7b649,#b3c650,#abc757,#9ac86b,#97c86e,#97c86e)"></i>
<i style="top:90px;height:6px;background:linear-gradient(90deg,#5282f0,#507af1,#4741dd,#4337ca,#4742de,#4a57ef,#4c69f2,#517cf0,#5384ef,#578eeb,#5b96e7,#5c9ae4,#5d9ee1,#5d9ee1,#5d9ee1,#5d9ee1,#5d9ee1,#5d9ee1,#5e9fe1,#5d9ee1,#5d9ce3,#5d9ce2,#5fa2de,#62a7db,#64a9d9,#64aad8,#64aad8,#62a7da,#60a3de,#5ea0e0,#64aad8,#68b3c9,#6dbabc,#70bfb5,#85c887,#8ec878,#9ac86a,#a8c75b,#b2c650,#bcc348,#bdc348,#c5c041,#eabe48,#e7b649,#b3c650,#abc757,#9ac86b,#97c86e,#97c86e)"></i>
<i style="top:95px;height:6px;background:linear-gradient(90deg,#5282f0,#507bf1,#4846e4,#3f33bb,#4439d2,#494de9,#4b5ff1,#4f74f1,#5282f0,#5589ed,#5992e9,#5b98e5,#5c9be3,#5d9ce3,#5d9ce3,#5c9be3,#5c9be4,#5c9be4,#5c9be3,#5c9be4,#5b97e6,#5b97e6,#5ea0e0,#61a5dc,#63a8da,#63a9d9,#63a8d9,#62a6db,#5fa2de,#5ea0e0,#63a9d9,#67b2cc,#6bb9bf,#6fbeb6,#80c890,#8ec878,#9ac86a,#a8c75b,#b2c650,#bcc348,#bdc348,#c5c041,#eabe48,#e7b649,#b3c650,#abc757,#9ac86b,#97c86e,#97c86e)"></i>
<i style="top:100px;height:6px;background:linear-gradient(90deg,#5282f0,#507cf1,#494be7,#3d31b4,#4236c7,#4846e3,#4a55ee,#4c6bf2,#5281f0,#5486ee,#588eea,#5a95e7,#5c99e5,#5c9ae4,#5c99e4,#5b98e5,#5b97e6,#5b97e6,#5b98e5,#5b98e5,#5a95e7,#5a95e7,#5d9ee2,#60a3dd,#62a6db,#62a7da,#62a7da,#61a5dc,#5fa2de,#5fa2df,#63a8d9,#67b0ce,#6bb8c2,#6fbdb7,#7ec795,#8ec878,#9ac86a,#a8c75b,#b2c650,#bcc348,#bdc348,#c5c041,#eabe48,#e7b649,#b3c650,#abc757,#9ac86b,#97c86e,#97c86e)"></i>
<i style="top:105px;height:6px;background:linear-gradient(90deg,#5282f0,#517cf0,#494fea,#3e32b9,#4135c4,#4741dd,#484ae7,#4b64f1,#517cf0,#5384ef,#568bec,#5993e9,#5b96e6,#5b97e6,#5b97e6,#5a95e7,#5992e9,#5a93e8,#5a95e7,#5b96e7,#5a95e8,#5a95e7,#5d9de2,#5fa2de,#61a5dc,#62a6db,#62a6db,#61a5dc,#60a3de,#60a3de,#63a8d9,#66afd0,#6ab7c3,#6fbdb7,#7ec795,#8ec878,#9ac86a,#a8c75b,#b2c650,#bcc348,#bdc348,#c5c041,#eabe48,#e7b649,#b3c650,#abc757,#9ac86b,#97c86e,#97c86e)"></i>
<i style="top:110px;height:6px;background:linear-gradient(90deg,#5282f0,#517df0,#4952ec,#4236c9,#4236c6,#463fda,#4742df,#4b60f1,#5079f1,#5282f0,#5588ed,#5890ea,#5a94e8,#5a95e7,#5a95e7,#5991e9,#578ceb,#578deb,#5993e9,#5a95e8,#5a95e8,#5b96e7,#5d9ce3,#5fa1df,#61a4dd,#61a6db,#61a6db,#61a5dc,#60a3dd,#60a4dd,#63a8da,#66aed2,#6ab7c3,#6fbdb7,#7ec795,#8ec878,#9ac86a,#a8c75b,#b2c650,#bcc348,#bdc348,#c5c041,#eabe48,#e7b649,#b3c650,#abc757,#9ac86b,#97c86e,#97c86e)"></i>
<i style="top:115px;height:6px;background:linear-gradient(90deg,#5282f0,#517df0,#4953ed,#4439d2,#4236c9,#463ed9,#4742df,#4b5ff1,#4f77f1,#5282f0,#5486ee,#578deb,#5992e9,#5a94e8,#5992e9,#578eeb,#5486ee,#5588ed,#5890ea,#5a94e8,#5a95e8,#5b97e6,#5d9ce3,#5ea1e0,#60a4dd,#61a5dc,#61a5dc,#61a5dc,#60a4dd,#60a4dd,#62a7da,#66aed2,#6ab7c3,#6fbdb7,#7ec795,#8ec878,#9ac86a,#a8c75b,#b2c650,#bcc348,#bdc348,#c5c041,#eabe48,#e7b649,#b3c650,#abc757,#9ac86b,#97c86e,#97c86e)"></i>
<i style="top:120px;height:6px;background:linear-gradient(90deg,#5282f0,#517df0,#4952ec,#453bd4,#4236c9,#463fd9,#4849e6,#4b62f1,#5078f1,#5281f0,#5385ef,#568cec,#5890ea,#5992e9,#5890ea,#568bec,#5283f0,#5385ef,#578eeb,#5993e9,#5a95e7,#5b97e6,#5d9ce3,#5ea0e0,#60a3dd,#61a5dc,#61a5dc,#61a5dc,#60a4dd,#60a4dd,#62a7da,#66aed2,#6ab7c3,#6fbdb7,#7ec795,#8ec878,#9ac86a,#a8c75b,#b2c650,#bcc348,#bdc348,#c5c041,#eabe48,#e7b649,#b3c650,#abc757,#9ac86b,#97c86e,#97c86e)"></i>
<i style="top:125px;height:6px;background:linear-gradient(90deg,#5282f0,#507cf1,#494eea,#453ad3,#4236c7,#4640db,#4951eb,#4c67f2,#507bf1,#5282f0,#5385ef,#568aec,#578eeb,#5890ea,#588fea,#568aec,#5283f0,#5384ef,#578deb,#5992e9,#5a95e7,#5b97e6,#5d9ce3,#5ea0e0,#60a3dd,#61a5dc,#61a5dc,#61a5dc,#60a4dd,#60a4dd,#62a7da,#66aed2,#6ab7c3,#6fbdb7,#7ec795,#8ec878,#9ac86a,#a8c75b,#b2c650,#bcc348,#bdc348,#c5c041,#eabe48,#e7b649,#b3c650,#abc757,#9ac86b,#97c86e,#97c86e)"></i>
<i style="top:130px;height:6px;background:linear-gradient(90deg,#5282f0,#507af1,#4846e4,#4439d1,#4236c6,#4743e0,#4a5af0,#4d6ff2,#517ff0,#5282f0,#5385ef,#558aed,#578deb,#588fea,#578eeb,#558aed,#5383ef,#5384ef,#578deb,#5992e9,#5a95e7,#5b97e6,#5d9ce3,#5ea0e0,#60a3dd,#61a5dc,#61a5dc,#61a5dc,#60a4dd,#60a4dd,#62a7da,#66aed2,#6ab7c3,#6fbdb7,#7ec795,#8ec878,#9ac86a,#a8c75b,#b2c650,#bcc348,#bdc348,#c5c041,#eabe48,#e7b649,#b3c650,#abc757,#9ac86b,#97c86e,#97c86e)"></i>
<i style="top:135px;height:6px;background:linear-gradient(90deg,#5282f0,#4f77f1,#453dd7,#4439d1,#4438ce,#494ce8,#4b64f1,#5078f1,#5282f0,#5282f0,#5385ef,#5589ed,#578ceb,#578eeb,#578eeb,#568aec,#5383ef,#5384ef,#578deb,#5992e9,#5a95e7,#5b97e6,#5d9ce3,#5ea0e0,#60a3dd,#61a5dc,#61a5dc,#61a5dc,#60a4dd,#60a4dd,#62a7da,#66aed2,#6ab7c3,#6fbdb7,#7ec795,#8ec878,#9ac86a,#a8c75b,#b2c650,#bcc348,#bdc348,#c5c041,#eabe48,#e7b649,#b3c650,#abc757,#9ac86b,#97c86e,#97c86e)"></i>
<i style="top:140px;height:6px;background:linear-gradient(90deg,#5282f0,#4f75f1,#4236c6,#453cd6,#4744e1,#4a5af0,#4e70f1,#5280f0,#5282f0,#5283f0,#5385ef,#5589ed,#568cec,#578eeb,#578eeb,#568aec,#5383ef,#5384ef,#578deb,#5992e9,#5a95e7,#5b97e6,#5d9ce3,#5ea0e0,#60a3dd,#61a5dc,#61a5dc,#61a5dc,#60a4dd,#60a4dd,#62a7da,#66aed2,#6ab7c3,#6fbdb7,#7ec795,#8ec878,#9ac86a,#a8c75b,#b2c650,#bcc348,#bdc348,#c5c041,#eabe48,#e7b649,#b3c650,#abc757,#9ac86b,#97c86e,#97c86e)"></i>
<i style="top:145px;height:6px;background:linear-gradient(90deg,#5282f0,#4f76f1,#4236c6,#4845e3,#4a58f0,#4c6bf2,#517cf0,#5282f0,#5282f0,#5283f0,#5385ef,#5588ed,#568bec,#578eeb,#578eeb,#568aec,#5383ef,#5384ef,#578deb,#5992e9,#5a95e7,#5b97e6,#5d9ce3,#5ea0e0,#60a3dd,#61a5dc,#61a5dc,#61a5dc,#60a4dd,#60a4dd,#62a7da,#66aed2,#6ab7c3,#6fbdb7,#7ec795,#8ec878,#9ac86a,#a8c75b,#b2c650,#bcc348,#bdc348,#c5c041,#eabe48,#e7b649,#b3c650,#abc757,#9ac86b,#97c86e,#97c86e)"></i>
<i style="top:150px;height:6px;background:linear-gradient(90deg,#5282f0,#517ff0,#4846e4,#4a57ef,#4c6cf2,#517df0,#5282f0,#5283f0,#5282f0,#5383ef,#5385ef,#5588ed,#568bec,#578eeb,#578eeb,#568aec,#5383ef,#5384ef,#578deb,#5992e9,#5a95e7,#5b97e6,#5d9ce3,#5ea0e0,#60a3dd,#61a5dc,#61a5dc,#61a5dc,#60a4dd,#60a4dd,#62a7da,#66aed2,#6ab7c3,#6fbdb7,#7ec795,#8ec878,#9ac86a,#a8c75b,#b2c650,#bcc348,#bdc348,#c5c041,#eabe48,#e7b649,#b3c650,#abc757,#9ac86b,#97c86e,#97c86e)"></i>
<i style="top:155px;height:6px;background:linear-gradient(90deg,#5282f0,#5282f0,#4b61f1,#4d6df2,#517ef0,#5282f0,#5283f0,#5283f0,#5282f0,#5383ef,#5385ef,#5588ed,#568bec,#578eeb,#578eeb,#568aec,#5383ef,#5384ef,#578deb,#5992e9,#5a95e7,#5b97e6,#5d9ce3,#5ea0e0,#60a3dd,#61a5dc,#61a5dc,#61a5dc,#60a4dd,#60a4dd,#62a7da,#66aed2,#6ab7c3,#6fbdb7,#7ec795,#8ec878,#9ac86a,#a8c75b,#b2c650,#bcc348,#bdc348,#c5c041,#eabe48,#e7b649,#b3c650,#abc757,#9ac86b,#97c86e,#97c86e)"></i>
<i style="top:160px;height:6px;background:linear-gradient(90deg,#5282f0,#5282f0,#4f78f1,#5280f0,#5283f0,#5283f0,#5283f0,#5283f0,#5282f0,#5383ef,#5385ef,#5588ed,#568bec,#578eeb,#578eeb,#568aec,#5383ef,#5384ef,#578deb,#5992e9,#5a95e7,#5b97e6,#5d9ce3,#5ea0e0,#60a3dd,#61a5dc,#61a5dc,#61a5dc,#60a4dd,#60a4dd,#62a7da,#66aed2,#6ab7c3,#6fbdb7,#7ec795,#8ec878,#9ac86a,#a8c75b,#b2c650,#bcc348,#bdc348,#c5c041,#eabe48,#e7b649,#b3c650,#abc757,#9ac86b,#97c86e,#97c86e)"></i>
<i style="top:165px;height:6px;background:linear-gradient(90deg,#5282f0,#5282f0,#5282f0,#5283f0,#5283f0,#5283f0,#5283f0,#5283f0,#5282f0,#5383ef,#5385ef,#5588ed,#568bec,#578eeb,#578eeb,#568aec,#5383ef,#5384ef,#578deb,#5992e9,#5a95e7,#5b97e6,#5d9ce3,#5ea0e0,#60a3dd,#61a5dc,#61a5dc,#61a5dc,#60a4dd,#60a4dd,#62a7da,#66aed2,#6ab7c3,#6fbdb7,#7ec795,#8ec878,#9ac86a,#a8c75b,#b2c650,#bcc348,#bdc348,#c5c041,#eabe48,#e7b649,#b3c650,#abc757,#9ac86b,#97c86e,#97c86e)"></i>
<i style="top:170px;height:6px;background:linear-gradient(90deg,#5282f0,#5282f0,#5282f0,#5283f0,#5283f0,#5283f0,#5283f0,#5283f0,#5282f0,#5383ef,#5385ef,#5588ed,#568bec,#578eeb,#578eeb,#568aec,#5383ef,#5384ef,#578deb,#5992e9,#5a95e7,#5b97e6,#5d9ce3,#5ea0e0,#60a3dd,#61a5dc,#61a5dc,#61a5dc,#60a4dd,#60a4dd,#62a7da,#66aed2,#6ab7c3,#6fbdb7,#7ec795,#8ec878,#9ac86a,#a8c75b,#b2c650,#bcc348,#bdc348,#c5c041,#eabe48,#e7b649,#b3c650,#abc757,#9ac86b,#97c86e,#97c86e)"></i>
<i style="top:175px;height:6px;background:linear-gradient(90deg,#5282f0,#5282f0,#5282f0,#5283f0,#5283f0,#5283f0,#5283f0,#5283f0,#5282f0,#5383ef,#5385ef,#5588ed,#568bec,#578eeb,#578eeb,#568aec,#5383ef,#5384ef,#578deb,#5992e9,#5a95e7,#5b97e6,#5d9ce3,#5ea0e0,#60a3dd,#61a5dc,#61a5dc,#61a5dc,#60a4dd,#60a4dd,#62a7da,#66aed2,#6ab7c3,#6fbdb7,#7ec795,#8ec878,#9ac86a,#a8c75b,#b2c650,#bcc348,#bdc348,#c5c041,#eabe48,#e7b649,#b3c650,#abc757,#9ac86b,#97c86e,#97c86e)"></i>
<i style="top:180px;height:6px;background:linear-gradient(90deg,#5282f0,#5282f0,#5282f0,#5283f0,#5283f0,#5283f0,#5283f0,#5283f0,#5282f0,#5383ef,#5385ef,#5588ed,#568bec,#578eeb,#578eeb,#568aec,#5383ef,#5384ef,#578deb,#5992e9,#5a95e7,#5b97e6,#5d9ce3,#5ea0e0,#60a3dd,#61a5dc,#61a5dc,#61a5dc,#60a4dd,#60a4dd,#62a7da,#66aed2,#6ab7c3,#6fbdb7,#7ec795,#8ec878,#9ac86a,#a8c75b,#b2c650,#bcc348,#bdc348,#c5c041,#eabe48,#e7b649,#b3c650,#abc757,#9ac86b,#97c86e,#97c86e)"></i>
<i style="top:185px;height:6px;background:linear-gradient(90deg,#5282f0,#5282f0,#5282f0,#5283f0,#5283f0,#5283f0,#5283f0,#5283f0,#5282f0,#5383ef,#5385ef,#5588ed,#568bec,#578eeb,#578eeb,#568aec,#5383ef,#5384ef,#578deb,#5992e9,#5a95e7,#5b97e6,#5d9ce3,#5ea0e0,#60a3dd,#61a5dc,#61a5dc,#61a5dc,#60a4dd,#60a4dd,#62a7da,#66aed2,#6ab7c3,#6fbdb7,#7ec795,#8ec878,#9ac86a,#a8c75b,#b2c650,#bcc348,#bdc348,#c5c041,#eabe48,#e7b649,#b3c650,#abc757,#9ac86b,#97c86e,#97c86e)"></i>
<i style="top:190px;height:6px;background:linear-gradient(90deg,#5282f0,#5282f0,#5282f0,#5283f0,#5283f0,#5283f0,#5283f0,#5283f0,#5282f0,#5383ef,#5385ef,#5588ed,#568bec,#578eeb,#578eeb,#568aec,#5383ef,#5384ef,#578deb,#5992e9,#5a95e7,#5b97e6,#5d9ce3,#5ea0e0,#60a3dd,#61a5dc,#61a5dc,#61a5dc,#60a4dd,#60a4dd,#62a7da,#66aed2,#6ab7c3,#6fbdb7,#7ec795,#8ec878,#9ac86a,#a8c75b,#b2c650,#bcc348,#bdc348,#c5c041,#eabe48,#e7b649,#b3c650,#abc757,#9ac86b,#97c86e,#97c86e)"></i>
<i style="top:195px;height:6px;background:linear-gradient(90deg,#5282f0,#5282f0,#5282f0,#5283f0,#5283f0,#5283f0,#5283f0,#5283f0,#5282f0,#5383ef,#5385ef,#5588ed,#568bec,#578eeb,#578eeb,#568aec,#5383ef,#5384ef,#578deb,#5992e9,#5a95e7,#5b97e6,#5d9ce3,#5ea0e0,#60a3dd,#61a5dc,#61a5dc,#61a5dc,#60a4dd,#60a4dd,#62a7da,#66aed2,#6ab7c3,#6fbdb7,#7ec795,#8ec878,#9ac86a,#a8c75b,#b2c650,#bcc348,#bdc348,#c5c041,#eabe48,#e7b649,#b3c650,#abc757,#9ac86b,#97c86e,#97c86e)"></i>
<i style="top:200px;height:6px;background:linear-gradient(90deg,#5282f0,#5282f0,#5282f0,#5283f0,#5283f0,#5283f0,#5283f0,#5283f0,#5282f0,#5383ef,#5385ef,#5588ed,#568bec,#578eeb,#578eeb,#568aec,#5383ef,#5384ef,#578deb,#5992e9,#5a95e7,#5b97e6,#5d9ce3,#5ea0e0,#60a3dd,#61a5dc,#61a5dc,#61a5dc,#60a4dd,#60a4dd,#62a7da,#66aed2,#6ab7c3,#6fbdb7,#7ec795,#8ec878,#9ac86a,#a8c75b,#b2c650,#bcc348,#bdc348,#c5c041,#eabe48,#e7b649,#b3c650,#abc757,#9ac86b,#97c86e,#97c86e)"></i>
<i style="top:205px;height:6px;background:linear-gradient(90deg,#5282f0,#5282f0,#5282f0,#5283f0,#5283f0,#5283f0,#5283f0,#5283f0,#5282f0,#5383ef,#5385ef,#5588ed,#568bec,#578eeb,#578eeb,#568aec,#5383ef,#5384ef,#578deb,#5992e9,#5a95e7,#5b97e6,#5d9ce3,#5ea0e0,#60a3dd,#61a5dc,#61a5dc,#61a5dc,#60a4dd,#60a4dd,#62a7da,#66aed2,#6ab7c3,#6fbdb7,#7ec795,#8ec878,#9ac86a,#a8c75b,#b2c650,#bcc348,#bdc348,#c5c041,#eabe48,#e7b649,#b3c650,#abc757,#9ac86b,#97c86e,#97c86e)"></i>
<i style="top:210px;height:6px;background:linear-gradient(90deg,#5282f0,#5282f0,#5282f0,#5283f0,#5283f0,#5283f0,#5283f0,#5283f0,#5282f0,#5383ef,#5385ef,#5588ed,#568bec,#578eeb,#578eeb,#568aec,#5383ef,#5384ef,#578deb,#5992e9,#5a95e7,#5b97e6,#5d9ce3,#5ea0e0,#60a3dd,#61a5dc,#61a5dc,#61a5dc,#60a4dd,#60a4dd,#62a7da,#66aed2,#6ab7c3,#6fbdb7,#7ec795,#8ec878,#9ac86a,#a8c75b,#b2c650,#bcc348,#bdc348,#c5c041,#eabe48,#e7b649,#b3c650,#abc757,#9ac86b,#97c86e,#97c86e)"></i>
<i style="top:215px;height:6px;background:linear-gradient(90deg,#5282f0,#5282f0,#5282f0,#5283f0,#5283f0,#5283f0,#5283f0,#5283f0,#5282f0,#5383ef,#5385ef,#5588ed,#568bec,#578eeb,#578eeb,#568aec,#5383ef,#5384ef,#578deb,#5992e9,#5a95e7,#5b97e6,#5d9ce3,#5ea0e0,#60a3dd,#61a5dc,#61a5dc,#61a5dc,#60a4dd,#60a4dd,#62a7da,#66aed2,#6ab7c3,#6fbdb7,#7ec795,#8ec878,#9ac86a,#a8c75b,#b2c650,#bcc348,#bdc348,#c5c041,#eabe48,#e7b649,#b3c650,#abc757,#9ac86b,#97c86e,#97c86e)"></i>
</div></div>
<svg width="1412" height="1572" viewBox="0 0 1412 1572">
<defs><linearGradient id="cbg" x1="0" y1="0" x2="0" y2="1"><stop offset="0.000" stop-color="#f4f040"/><stop offset="0.021" stop-color="#f1e941"/><stop offset="0.042" stop-color="#eee142"/><stop offset="0.062" stop-color="#edda43"/><stop offset="0.083" stop-color="#ecd344"/><stop offset="0.104" stop-color="#ecca45"/><stop offset="0.125" stop-color="#ebc246"/><stop offset="0.146" stop-color="#e8ba49"/><stop offset="0.167" stop-color="#e4b549"/><stop offset="0.188" stop-color="#dcb746"/><stop offset="0.208" stop-color="#d5b943"/><stop offset="0.229" stop-color="#cebd42"/><stop offset="0.250" stop-color="#c6c040"/><stop offset="0.271" stop-color="#bec247"/><stop offset="0.292" stop-color="#b5c54d"/><stop offset="0.312" stop-color="#aec655"/><stop offset="0.333" stop-color="#a6c75d"/><stop offset="0.354" stop-color="#9ec866"/><stop offset="0.375" stop-color="#97c86e"/><stop offset="0.396" stop-color="#90c876"/><stop offset="0.417" stop-color="#89c880"/><stop offset="0.438" stop-color="#83c88b"/><stop offset="0.458" stop-color="#7cc798"/><stop offset="0.479" stop-color="#76c4a6"/><stop offset="0.500" stop-color="#70bfb4"/><stop offset="0.521" stop-color="#6dbabc"/><stop offset="0.542" stop-color="#69b6c5"/><stop offset="0.562" stop-color="#67b2cc"/><stop offset="0.583" stop-color="#65add3"/><stop offset="0.604" stop-color="#64a9d9"/><stop offset="0.625" stop-color="#61a5dc"/><stop offset="0.646" stop-color="#5ea1df"/><stop offset="0.667" stop-color="#5d9ce3"/><stop offset="0.688" stop-color="#5b97e6"/><stop offset="0.708" stop-color="#5991e9"/><stop offset="0.729" stop-color="#558aed"/><stop offset="0.750" stop-color="#5282f0"/><stop offset="0.771" stop-color="#5078f1"/><stop offset="0.792" stop-color="#4d6ef2"/><stop offset="0.812" stop-color="#4c66f2"/><stop offset="0.833" stop-color="#4b5ef1"/><stop offset="0.854" stop-color="#4a57ef"/><stop offset="0.875" stop-color="#494fea"/><stop offset="0.896" stop-color="#4847e5"/><stop offset="0.917" stop-color="#4741dd"/><stop offset="0.938" stop-color="#453cd5"/><stop offset="0.958" stop-color="#4236c9"/><stop offset="0.979" stop-color="#3e32b9"/><stop offset="1.000" stop-color="#3a2ea8"/></linearGradient></defs>
<linearGradient id="sg_A_0" x1="0" x2="1" y1="0" y2="0"><stop offset="0" stop-color="#d8b844" stop-opacity="0"/><stop offset="0.5" stop-color="#d8b844" stop-opacity="0.55"/><stop offset="1" stop-color="#d8b844" stop-opacity="0"/></linearGradient>
<rect x="457.5" y="55.0" width="9.0" height="75.0" fill="url(#sg_A_0)"/>
<path d="M73.6 178.0 C73.7 178.6 73.3 178.6 74.1 181.9 C74.9 185.2 76.8 193.4 78.5 197.6 C80.3 201.9 82.5 206.4 84.4 207.5 C86.4 208.6 88.0 205.2 90.0 204.0 C92.1 202.9 93.3 201.8 96.8 200.6 C100.3 199.4 105.9 197.8 111.1 196.7 C116.2 195.5 120.6 195.5 127.5 193.7 C134.3 191.9 144.6 187.8 152.1 185.8 C159.7 183.9 165.8 183.0 172.7 181.9 C179.5 180.8 186.4 180.1 193.2 178.9 C200.1 177.8 206.9 176.5 213.7 175.0 C220.6 173.5 227.4 171.9 234.3 170.1 C241.1 168.3 248.0 165.5 254.8 164.2 C261.7 162.9 268.5 162.7 275.4 162.2 C282.2 161.7 289.1 161.4 295.9 161.2 C302.7 161.1 309.6 161.4 316.4 161.2 C323.3 161.1 329.7 160.7 337.0 160.3 C344.2 159.8 353.0 158.1 360.0 158.3 C367.0 158.4 373.7 160.9 378.9 161.2 C384.0 161.6 385.6 161.6 391.0 160.3 C396.5 158.9 404.7 155.7 411.6 153.4 C418.4 151.0 425.4 148.4 432.3 146.0 C439.1 143.5 445.8 141.0 452.6 138.6 C459.5 136.2 466.3 134.8 473.2 131.7 C480.0 128.7 486.9 125.0 493.7 120.4 C500.6 115.8 508.1 109.4 514.3 103.9 C520.4 98.4 525.5 93.3 530.7 87.4 C535.8 81.6 541.0 73.9 545.1 68.7 C549.3 63.6 551.9 59.8 555.3 56.7 C558.8 53.7 562.3 52.0 565.7 50.5 C569.1 49.1 570.7 48.8 575.9 48.1 C581.0 47.3 589.7 47.1 596.6 46.0 C603.4 44.9 610.3 42.9 616.9 41.3 C623.6 39.6 633.2 37.0 636.5 36.2 L637.5 36.2 L637.5 232.1 L72.6 232.1 L72.6 177.5 Z" fill="#fff"/>
<path d="M73.6 169.7 C74.5 171.1 76.4 178.6 79.2 177.9 C82.0 177.2 87.2 168.8 90.5 165.6 C93.8 162.3 97.4 159.6 98.8 158.4" class="ct"/>
<path d="M127.5 152.8 C129.9 151.5 136.1 147.5 141.9 145.0 C147.7 142.5 156.6 138.8 162.4 137.8 C168.2 136.8 171.7 138.0 176.8 138.9 C181.9 139.8 187.0 142.0 193.2 143.0 C199.4 144.0 209.4 144.4 213.8 145.0 C218.2 145.6 217.0 147.7 219.9 146.7 C222.8 145.7 227.4 137.6 231.2 138.9 C235.0 140.2 239.6 153.3 242.5 154.3 C245.4 155.3 246.5 150.3 248.7 145.0 C250.9 139.7 251.5 127.2 255.9 122.4 C260.4 117.6 268.7 118.5 275.4 116.3 C282.1 114.1 289.0 111.5 295.9 109.1 C302.8 106.7 309.6 104.1 316.5 101.9 C323.4 99.7 329.8 97.1 337.0 95.7 C344.2 94.3 354.4 94.4 360.0 93.7 C365.6 93.0 366.0 93.0 370.5 91.6 C375.0 90.2 384.2 86.5 387.0 85.5" class="ct"/>
<path d="M407.5 69.0 C409.9 67.6 416.1 63.2 421.9 60.8 C427.7 58.4 436.9 55.7 442.4 54.6 C447.9 53.5 451.6 53.7 454.7 54.2 C457.8 54.7 457.8 58.5 460.9 57.7 C464.0 56.9 469.4 51.5 473.2 49.5 C477.0 47.5 478.4 46.1 483.5 45.4 C488.6 44.7 497.1 46.1 504.0 45.4 C510.9 44.7 519.5 42.2 524.6 41.3 C529.7 40.4 531.0 39.6 534.8 39.9 C538.6 40.2 543.8 41.7 547.2 43.3 C550.6 44.9 553.4 48.0 555.4 49.5 C557.4 51.0 558.8 52.1 559.5 52.6" class="ct"/>
<text x="113.1" y="155.3" transform="rotate(-11.0 113.1 155.3)" class="cl">3</text>
<text x="397.2" y="77.5" transform="rotate(-38.8 397.2 77.5)" class="cl">3</text>
<path d="M261.0 161.4 C263.4 161.1 266.1 160.1 275.4 159.4 C284.6 158.7 309.6 157.7 316.5 157.3" class="ct"/>
<path d="M345.0 153.5 C347.5 153.4 355.8 153.1 360.0 153.2 C364.2 153.3 365.3 154.3 370.5 154.3 C375.7 154.3 384.1 154.8 391.0 153.2 C397.9 151.6 404.7 148.1 411.6 145.0 C418.5 141.9 425.7 137.9 432.2 134.7 C438.7 131.4 446.5 126.9 450.6 125.5 C454.7 124.1 455.1 125.7 456.8 126.5 C458.5 127.3 459.2 130.1 460.9 130.6 C462.6 131.1 464.0 132.7 467.1 129.6 C470.2 126.5 474.9 116.0 479.4 112.2 C483.8 108.4 488.0 109.4 493.8 107.0 C499.6 104.6 508.5 101.7 514.3 97.8 C520.1 93.9 523.6 88.9 528.7 83.4 C533.8 77.9 541.0 69.0 545.1 64.9 C549.2 60.8 551.9 59.8 553.3 58.8" class="ct"/>
<text x="330.8" y="158.4" transform="rotate(-7.6 330.8 158.4)" class="cl">4</text>
<path d="M571.0 35.0 C571.5 36.2 572.5 40.2 574.0 42.0 C575.5 43.8 577.8 44.9 580.0 46.0 C582.2 47.1 585.8 48.1 587.0 48.5" class="ct"/>
<path d="M592.0 35.0 C592.3 36.0 593.0 39.2 594.0 41.0 C595.0 42.8 597.3 45.2 598.0 46.0" class="ct"/>
<path d="M73.6 44.0 C74.1 43.2 75.4 40.9 76.5 39.5 C77.6 38.1 79.4 36.2 80.0 35.5" class="ct"/>
<path d="M73.6 178.0 C73.7 178.6 73.3 178.6 74.1 181.9 C74.9 185.2 76.8 193.4 78.5 197.6 C80.3 201.9 82.5 206.4 84.4 207.5 C86.4 208.6 88.0 205.2 90.0 204.0 C92.1 202.9 93.3 201.8 96.8 200.6 C100.3 199.4 105.9 197.8 111.1 196.7 C116.2 195.5 120.6 195.5 127.5 193.7 C134.3 191.9 144.6 187.8 152.1 185.8 C159.7 183.9 165.8 183.0 172.7 181.9 C179.5 180.8 186.4 180.1 193.2 178.9 C200.1 177.8 206.9 176.5 213.7 175.0 C220.6 173.5 227.4 171.9 234.3 170.1 C241.1 168.3 248.0 165.5 254.8 164.2 C261.7 162.9 268.5 162.7 275.4 162.2 C282.2 161.7 289.1 161.4 295.9 161.2 C302.7 161.1 309.6 161.4 316.4 161.2 C323.3 161.1 329.7 160.7 337.0 160.3 C344.2 159.8 353.0 158.1 360.0 158.3 C367.0 158.4 373.7 160.9 378.9 161.2 C384.0 161.6 385.6 161.6 391.0 160.3 C396.5 158.9 404.7 155.7 411.6 153.4 C418.4 151.0 425.4 148.4 432.3 146.0 C439.1 143.5 445.8 141.0 452.6 138.6 C459.5 136.2 466.3 134.8 473.2 131.7 C480.0 128.7 486.9 125.0 493.7 120.4 C500.6 115.8 508.1 109.4 514.3 103.9 C520.4 98.4 525.5 93.3 530.7 87.4 C535.8 81.6 541.0 73.9 545.1 68.7 C549.3 63.6 551.9 59.8 555.3 56.7 C558.8 53.7 562.3 52.0 565.7 50.5 C569.1 49.1 570.7 48.8 575.9 48.1 C581.0 47.3 589.7 47.1 596.6 46.0 C603.4 44.9 610.3 42.9 616.9 41.3 C623.6 39.6 633.2 37.0 636.5 36.2" fill="none" stroke="#000" stroke-width="1.4"/>
<rect x="73.6" y="34.3" width="562.9" height="196.8" fill="none" stroke="#151515" stroke-width="2.6"/>
<line x1="73.6" y1="231.1" x2="73.6" y2="225.6" stroke="#151515" stroke-width="2"/>
<line x1="155.8" y1="231.1" x2="155.8" y2="225.6" stroke="#151515" stroke-width="2"/>
<line x1="237.9" y1="231.1" x2="237.9" y2="225.6" stroke="#151515" stroke-width="2"/>
<line x1="320.1" y1="231.1" x2="320.1" y2="225.6" stroke="#151515" stroke-width="2"/>
<line x1="402.2" y1="231.1" x2="402.2" y2="225.6" stroke="#151515" stroke-width="2"/>
<line x1="484.4" y1="231.1" x2="484.4" y2="225.6" stroke="#151515" stroke-width="2"/>
<line x1="566.5" y1="231.1" x2="566.5" y2="225.6" stroke="#151515" stroke-width="2"/>
<line x1="636.5" y1="83.5" x2="631.0" y2="83.5" stroke="#151515" stroke-width="2"/>
<line x1="636.5" y1="132.7" x2="631.0" y2="132.7" stroke="#151515" stroke-width="2"/>
<line x1="636.5" y1="181.9" x2="631.0" y2="181.9" stroke="#151515" stroke-width="2"/>
<text x="63.8" y="43.5" class="tk" text-anchor="end">0</text>
<text x="63.8" y="92.7" class="tk" text-anchor="end">-5</text>
<text x="63.8" y="141.9" class="tk" text-anchor="end">-10</text>
<text x="63.8" y="191.1" class="tk" text-anchor="end">-15</text>
<text x="63.8" y="240.3" class="tk" text-anchor="end">-20</text>
<text class="lab" text-anchor="middle" transform="translate(20.9 132.7) rotate(-90)">Depth (m)</text>
<text x="483.6" y="201.9" class="lab">Spring Flood</text>
<rect x="645.8" y="40.3" width="29.8" height="190.8" fill="url(#cbg)" stroke="#222" stroke-width="1.3"/>
<text x="684.8" y="49.2" class="tk">4</text>
<line x1="675.6" y1="88.0" x2="673.4" y2="88.0" stroke="#333" stroke-width="1.1"/>
<text x="684.8" y="96.9" class="tk">3</text>
<line x1="675.6" y1="135.7" x2="673.4" y2="135.7" stroke="#333" stroke-width="1.1"/>
<text x="684.8" y="144.6" class="tk">2</text>
<line x1="675.6" y1="183.4" x2="673.4" y2="183.4" stroke="#333" stroke-width="1.1"/>
<text x="684.8" y="192.3" class="tk">1</text>
<text x="684.8" y="240.0" class="tk">0</text>
<text x="660.7" y="27.2" class="un" text-anchor="middle">kg m<tspan class="sup" dy="-11">-3</tspan></text>
<text x="5.1" y="40.1" class="let">A</text>
<linearGradient id="sg_B_0" x1="0" x2="1" y1="0" y2="0"><stop offset="0" stop-color="#70bfb4" stop-opacity="0"/><stop offset="0.5" stop-color="#70bfb4" stop-opacity="0.70"/><stop offset="1" stop-color="#70bfb4" stop-opacity="0"/></linearGradient>
<rect x="922.0" y="52.0" width="16.0" height="110.0" fill="url(#sg_B_0)"/>
<path d="M760.8 168.1 C760.9 169.1 760.3 170.4 761.1 174.0 C762.0 177.6 763.8 185.8 765.7 189.8 C767.6 193.7 769.8 197.2 772.5 197.6 C775.1 198.1 778.4 194.4 781.7 192.7 C784.9 191.1 787.9 189.0 792.0 187.8 C796.1 186.7 800.5 186.7 806.3 185.8 C812.1 185.0 820.0 184.2 826.8 182.9 C833.7 181.6 840.5 179.3 847.4 178.0 C854.2 176.7 861.1 176.1 867.9 175.0 C874.8 174.0 881.6 173.3 888.5 171.7 C895.3 170.0 902.8 167.1 909.0 165.2 C915.2 163.3 920.3 161.6 925.4 160.3 C930.6 158.9 934.1 158.4 939.9 157.3 C945.7 156.2 953.6 154.3 960.4 153.4 C967.3 152.4 974.1 151.7 981.0 151.4 C987.8 151.1 994.7 151.4 1001.5 151.4 C1008.3 151.4 1015.6 151.8 1022.0 151.4 C1028.5 151.0 1033.7 149.0 1040.1 149.1 C1046.5 149.3 1054.3 151.6 1060.5 152.2 C1066.6 152.8 1071.9 153.4 1077.1 152.8 C1082.2 152.1 1085.6 150.1 1091.4 148.1 C1097.2 146.2 1105.1 143.3 1111.9 140.9 C1118.8 138.5 1125.6 135.9 1132.5 133.7 C1139.3 131.5 1146.1 130.1 1153.0 127.6 C1159.8 125.0 1166.7 122.3 1173.5 118.3 C1180.4 114.4 1188.3 108.7 1194.1 103.9 C1199.9 99.1 1203.9 94.4 1208.4 89.6 C1212.8 84.8 1216.5 80.4 1220.7 75.2 C1224.8 70.1 1229.4 63.1 1233.2 58.8 C1236.9 54.5 1239.6 51.8 1243.4 49.5 C1247.1 47.1 1251.9 45.7 1255.7 44.4 C1259.4 43.2 1260.7 42.6 1265.9 41.9 C1271.0 41.1 1279.6 40.5 1286.4 39.9 C1293.2 39.3 1300.7 39.0 1306.9 38.2 C1313.2 37.4 1320.9 35.6 1323.7 35.1 L1324.7 35.1 L1324.7 232.1 L759.8 232.1 L759.8 167.6 Z" fill="#fff"/>
<path d="M761.0 52.6 C761.8 51.3 763.6 47.0 766.0 45.0 C768.4 43.0 772.2 41.6 775.5 40.3 C778.8 39.0 781.3 37.9 785.8 37.2 C790.2 36.5 799.5 36.4 802.2 36.2" class="ct"/>
<path d="M831.0 38.2 C833.7 38.7 841.2 40.1 847.4 41.3 C853.6 42.5 861.1 44.3 868.0 45.4 C874.9 46.5 881.7 47.9 888.5 48.1 C895.3 48.3 903.9 47.1 909.0 46.4 C914.1 45.7 916.5 43.3 919.3 44.0 C922.0 44.7 923.6 48.4 925.5 50.5 C927.4 52.6 928.9 56.4 930.6 56.7 C932.3 57.1 932.5 53.8 935.7 52.6 C939.0 51.4 944.3 50.4 950.1 49.5 C955.9 48.6 963.9 48.5 970.7 47.5 C977.6 46.5 985.1 44.8 991.2 43.3 C997.4 41.8 1004.0 39.7 1007.6 38.2 C1011.2 36.7 1011.9 34.9 1012.8 34.3" class="ct"/>
<text x="816.6" y="39.2" transform="rotate(4.0 816.6 39.2)" class="cl">2</text>
<path d="M761.2 163.5 C761.5 165.2 761.8 170.6 763.2 173.8 C764.6 177.1 767.4 181.8 769.4 183.0 C771.4 184.2 773.1 182.5 775.5 181.0 C777.9 179.5 782.4 175.0 783.8 173.8" class="ct"/>
<path d="M810.5 166.6 C813.2 166.4 820.8 166.1 826.9 165.6 C833.0 165.1 840.5 163.7 847.4 163.5 C854.2 163.3 861.1 164.5 868.0 164.5 C874.9 164.5 881.7 164.2 888.5 163.5 C895.3 162.8 903.9 161.1 909.0 160.4 C914.1 159.7 914.2 160.4 919.3 159.4 C924.4 158.4 932.9 155.7 939.8 154.3 C946.6 152.9 953.5 152.2 960.4 151.2 C967.2 150.2 975.8 148.8 980.9 148.1 C986.0 147.4 989.5 147.3 991.2 147.1" class="ct"/>
<path d="M1022.0 143.0 C1025.0 142.0 1033.6 139.2 1040.0 136.8 C1046.4 134.4 1053.7 131.3 1060.5 128.6 C1067.3 125.9 1074.2 123.1 1081.1 120.4 C1087.9 117.7 1094.8 114.6 1101.6 112.2 C1108.4 109.8 1115.7 107.5 1122.2 106.0 C1128.7 104.5 1136.5 101.9 1140.6 102.9 C1144.7 103.9 1144.9 110.0 1146.8 112.2 C1148.7 114.4 1150.2 116.3 1151.9 116.3 C1153.6 116.3 1153.5 114.8 1157.1 112.2 C1160.7 109.6 1168.4 103.7 1173.5 100.9 C1178.6 98.2 1183.5 97.2 1187.9 95.7 C1192.4 94.2 1196.8 93.3 1200.2 91.6 C1203.6 89.9 1206.4 87.2 1208.4 85.5 C1210.5 83.8 1211.8 82.0 1212.5 81.3" class="ct"/>
<text x="796.1" y="169.7" transform="rotate(-15.1 796.1 169.7)" class="cl">3</text>
<text x="1007.6" y="148.1" transform="rotate(-7.6 1007.6 148.1)" class="cl">3</text>
<path d="M1207.4 35.1 C1208.6 35.8 1211.7 38.0 1214.6 39.2 C1217.5 40.4 1221.0 40.9 1224.8 42.3 C1228.6 43.7 1234.1 46.3 1237.2 47.5 C1240.3 48.7 1242.3 49.2 1243.3 49.5" class="ct"/>
<path d="M1278.2 35.1 L1281.3 40.3" class="ct"/>
<path d="M760.8 168.1 C760.9 169.1 760.3 170.4 761.1 174.0 C762.0 177.6 763.8 185.8 765.7 189.8 C767.6 193.7 769.8 197.2 772.5 197.6 C775.1 198.1 778.4 194.4 781.7 192.7 C784.9 191.1 787.9 189.0 792.0 187.8 C796.1 186.7 800.5 186.7 806.3 185.8 C812.1 185.0 820.0 184.2 826.8 182.9 C833.7 181.6 840.5 179.3 847.4 178.0 C854.2 176.7 861.1 176.1 867.9 175.0 C874.8 174.0 881.6 173.3 888.5 171.7 C895.3 170.0 902.8 167.1 909.0 165.2 C915.2 163.3 920.3 161.6 925.4 160.3 C930.6 158.9 934.1 158.4 939.9 157.3 C945.7 156.2 953.6 154.3 960.4 153.4 C967.3 152.4 974.1 151.7 981.0 151.4 C987.8 151.1 994.7 151.4 1001.5 151.4 C1008.3 151.4 1015.6 151.8 1022.0 151.4 C1028.5 151.0 1033.7 149.0 1040.1 149.1 C1046.5 149.3 1054.3 151.6 1060.5 152.2 C1066.6 152.8 1071.9 153.4 1077.1 152.8 C1082.2 152.1 1085.6 150.1 1091.4 148.1 C1097.2 146.2 1105.1 143.3 1111.9 140.9 C1118.8 138.5 1125.6 135.9 1132.5 133.7 C1139.3 131.5 1146.1 130.1 1153.0 127.6 C1159.8 125.0 1166.7 122.3 1173.5 118.3 C1180.4 114.4 1188.3 108.7 1194.1 103.9 C1199.9 99.1 1203.9 94.4 1208.4 89.6 C1212.8 84.8 1216.5 80.4 1220.7 75.2 C1224.8 70.1 1229.4 63.1 1233.2 58.8 C1236.9 54.5 1239.6 51.8 1243.4 49.5 C1247.1 47.1 1251.9 45.7 1255.7 44.4 C1259.4 43.2 1260.7 42.6 1265.9 41.9 C1271.0 41.1 1279.6 40.5 1286.4 39.9 C1293.2 39.3 1300.7 39.0 1306.9 38.2 C1313.2 37.4 1320.9 35.6 1323.7 35.1" fill="none" stroke="#000" stroke-width="1.4"/>
<rect x="760.8" y="34.3" width="562.9" height="196.8" fill="none" stroke="#151515" stroke-width="2.6"/>
<line x1="760.8" y1="231.1" x2="760.8" y2="225.6" stroke="#151515" stroke-width="2"/>
<line x1="843.0" y1="231.1" x2="843.0" y2="225.6" stroke="#151515" stroke-width="2"/>
<line x1="925.1" y1="231.1" x2="925.1" y2="225.6" stroke="#151515" stroke-width="2"/>
<line x1="1007.3" y1="231.1" x2="1007.3" y2="225.6" stroke="#151515" stroke-width="2"/>
<line x1="1089.4" y1="231.1" x2="1089.4" y2="225.6" stroke="#151515" stroke-width="2"/>
<line x1="1171.6" y1="231.1" x2="1171.6" y2="225.6" stroke="#151515" stroke-width="2"/>
<line x1="1253.7" y1="231.1" x2="1253.7" y2="225.6" stroke="#151515" stroke-width="2"/>
<line x1="1323.7" y1="83.5" x2="1318.2" y2="83.5" stroke="#151515" stroke-width="2"/>
<line x1="1323.7" y1="132.7" x2="1318.2" y2="132.7" stroke="#151515" stroke-width="2"/>
<line x1="1323.7" y1="181.9" x2="1318.2" y2="181.9" stroke="#151515" stroke-width="2"/>
<text x="1170.8" y="201.9" class="lab">Spring Ebb</text>
<rect x="1333.3" y="40.3" width="29.8" height="190.8" fill="url(#cbg)" stroke="#222" stroke-width="1.3"/>
<text x="1372.3" y="49.2" class="tk">4</text>
<line x1="1363.1" y1="88.0" x2="1360.9" y2="88.0" stroke="#333" stroke-width="1.1"/>
<text x="1372.3" y="96.9" class="tk">3</text>
<line x1="1363.1" y1="135.7" x2="1360.9" y2="135.7" stroke="#333" stroke-width="1.1"/>
<text x="1372.3" y="144.6" class="tk">2</text>
<line x1="1363.1" y1="183.4" x2="1360.9" y2="183.4" stroke="#333" stroke-width="1.1"/>
<text x="1372.3" y="192.3" class="tk">1</text>
<text x="1372.3" y="240.0" class="tk">0</text>
<text x="1348.2" y="27.2" class="un" text-anchor="middle">kg m<tspan class="sup" dy="-11">-3</tspan></text>
<text x="707.3" y="40.3" class="let">B</text>
<linearGradient id="sg_C_0" x1="0" x2="1" y1="0" y2="0"><stop offset="0" stop-color="#eedf42" stop-opacity="0"/><stop offset="0.5" stop-color="#eedf42" stop-opacity="0.55"/><stop offset="1" stop-color="#eedf42" stop-opacity="0"/></linearGradient>
<rect x="477.0" y="282.0" width="12.0" height="84.0" fill="url(#sg_C_0)"/>
<path d="M73.6 422.5 C73.7 423.1 73.3 423.1 74.1 426.4 C74.9 429.7 76.8 437.9 78.5 442.1 C80.3 446.4 82.5 450.9 84.4 452.0 C86.4 453.1 88.0 449.7 90.0 448.5 C92.1 447.4 93.3 446.3 96.8 445.1 C100.3 443.9 105.9 442.3 111.1 441.2 C116.2 440.0 120.6 440.0 127.5 438.2 C134.3 436.4 144.6 432.3 152.1 430.3 C159.7 428.4 165.8 427.5 172.7 426.4 C179.5 425.3 186.4 424.6 193.2 423.4 C200.1 422.3 206.9 421.0 213.7 419.5 C220.6 418.0 227.4 416.4 234.3 414.6 C241.1 412.8 248.0 410.0 254.8 408.7 C261.7 407.4 268.5 407.2 275.4 406.7 C282.2 406.2 289.1 405.9 295.9 405.7 C302.7 405.6 309.6 405.9 316.4 405.7 C323.3 405.6 329.7 405.2 337.0 404.8 C344.2 404.3 353.0 402.6 360.0 402.8 C367.0 402.9 373.7 405.4 378.9 405.7 C384.0 406.1 385.6 406.1 391.0 404.8 C396.5 403.4 404.7 400.2 411.6 397.9 C418.4 395.5 425.4 392.9 432.3 390.5 C439.1 388.0 445.8 385.5 452.6 383.1 C459.5 380.7 466.3 379.2 473.2 376.2 C480.0 373.2 486.9 369.5 493.7 364.9 C500.6 360.3 508.1 353.9 514.3 348.4 C520.4 342.9 525.5 337.8 530.7 331.9 C535.8 326.1 541.0 318.4 545.1 313.2 C549.3 308.1 551.9 304.3 555.3 301.2 C558.8 298.2 562.3 296.5 565.7 295.0 C569.1 293.6 570.7 293.3 575.9 292.6 C581.0 291.8 589.7 291.6 596.6 290.5 C603.4 289.4 610.3 287.4 616.9 285.8 C623.6 284.1 633.2 281.5 636.5 280.7 L637.5 280.7 L637.5 476.6 L72.6 476.6 L72.6 422.0 Z" fill="#fff"/>
<path d="M553.7 279.0 C553.2 281.9 552.3 290.6 550.4 296.2 C548.5 301.8 546.3 306.7 542.3 312.4 C538.3 318.1 528.9 327.5 526.2 330.5" class="ct"/>
<path d="M500.0 353.0 C499.0 354.0 497.6 356.5 493.9 358.8 C490.2 361.1 481.7 365.9 477.7 366.9 C473.7 367.9 472.4 364.6 469.7 364.9 C467.0 365.2 466.3 366.5 461.6 368.9 C456.9 371.2 449.5 375.6 441.4 379.0 C433.3 382.4 421.9 387.0 413.2 389.1 C404.4 391.2 396.1 392.2 388.9 391.9 C381.7 391.5 374.8 388.8 370.0 387.0 C365.2 385.2 364.5 385.7 360.0 380.9 C355.5 376.1 348.1 366.2 343.2 358.3 C338.3 350.4 333.8 341.8 330.8 333.6 C327.9 325.4 326.4 315.9 325.5 309.0 C324.6 302.1 325.2 297.0 325.5 292.0 C325.8 287.0 327.2 281.2 327.5 279.0" class="ct"/>
<text x="513.5" y="343.0" transform="rotate(-40.7 513.5 343.0)" class="cl">4</text>
<path d="M580.0 279.0 C580.3 280.0 581.3 283.2 582.0 285.0 C582.7 286.8 583.7 289.2 584.0 290.0" class="ct"/>
<path d="M75.0 414.0 C75.1 417.0 75.2 427.3 75.5 432.0 C75.8 436.7 76.8 440.3 77.0 442.0" class="ct" style="stroke-width:2.2"/>
<path d="M74.0 423.5 L75.0 427.4 L76.0 431.0 L77.0 434.5 L78.0 438.1 L79.0 440.7 L80.0 442.4 L81.0 444.1 L82.0 445.7 L83.0 447.4 L84.0 449.0 L85.0 449.4 L86.0 448.8 L87.0 448.2 L88.0 447.6 L89.0 447.0 L90.0 446.4 L91.0 445.8 L92.0 445.3 L93.0 444.8 L94.0 444.3 L95.0 443.8 L96.0 443.3 L97.0 442.8 L98.0 442.6 L99.0 442.3 L100.0 442.0 L101.0 441.7 L102.0 441.5 L103.0 441.2 L104.0 440.9 L105.0 440.6 L106.0 440.4 L107.0 440.1 L108.0 439.8 L109.0 439.5 L110.0 439.3 L111.0 439.0 L112.0 438.8 L113.0 438.6 L114.0 438.4 L115.0 438.3 L116.0 438.1 L117.0 437.9 L118.0 437.7 L119.0 437.5 L120.0 437.4 L121.0 437.2 L122.0 437.0 L123.0 436.8 L124.0 436.6 L125.0 436.5 L126.0 436.3 L127.0 436.1 L128.0 435.8 L129.0 435.5 L130.0 435.2 L131.0 434.9 L132.0 434.6 L133.0 434.2 L134.0 433.9 L135.0 433.6 L136.0 433.3 L137.0 433.0 L138.0 432.7 L139.0 432.3 L140.0 432.0 L141.0 431.7 L142.0 431.4 L143.0 431.1 L144.0 430.7 L145.0 430.4 L146.0 430.1 L147.0 429.8 L148.0 429.5 L149.0 429.1 L150.0 428.8 L151.0 428.5 L152.0 428.2 L153.0 428.0 L154.0 427.8 L155.0 427.6 L156.0 427.4 L157.0 427.2 L158.0 427.0 L159.0 426.8 L160.0 426.6 L161.0 426.4 L162.0 426.2 L163.0 426.1 L164.0 425.9 L165.0 425.7 L166.0 425.5 L167.0 425.3 L168.0 425.1 L169.0 424.9 L170.0 424.7 L171.0 424.5 L172.0 424.3 L173.0 424.2 L174.0 424.0 L175.0 423.9 L176.0 423.7 L177.0 423.6 L178.0 423.4 L179.0 423.3 L180.0 423.1 L181.0 423.0 L182.0 422.9 L183.0 422.7 L184.0 422.6 L185.0 422.4 L186.0 422.3 L187.0 422.1 L188.0 422.0 L189.0 421.9 L190.0 421.7 L191.0 421.6 L192.0 421.4 L193.0 421.3 L194.0 421.1 L195.0 420.9 L196.0 420.7 L197.0 420.5 L198.0 420.3 L199.0 420.1 L200.0 419.9 L201.0 419.8 L202.0 419.6 L203.0 419.4 L204.0 419.2 L205.0 419.0 L206.0 418.8 L207.0 418.6 L208.0 418.4 L209.0 418.2 L210.0 418.0 L211.0 417.8 L212.0 417.6 L213.0 417.5 L214.0 417.3 L215.0 417.0 L216.0 416.8 L217.0 416.5 L218.0 416.3 L219.0 416.1 L220.0 415.8 L221.0 415.6" class="ct"/>
<path d="M247.0 408.7 L248.0 408.5 L249.0 408.2 L250.0 407.9 L251.0 407.6 L252.0 407.3 L253.0 407.0 L254.0 406.7 L255.0 406.5 L256.0 406.4 L257.0 406.3 L258.0 406.2 L259.0 406.1 L260.0 406.0 L261.0 405.9 L262.0 405.8 L263.0 405.7 L264.0 405.6 L265.0 405.5 L266.0 405.4 L267.0 405.3 L268.0 405.2 L269.0 405.1 L270.0 405.0 L271.0 404.9 L272.0 404.8 L273.0 404.7 L274.0 404.7 L275.0 404.6 L276.0 404.5 L277.0 404.4 L278.0 404.4 L279.0 404.3 L280.0 404.3 L281.0 404.2 L282.0 404.2 L283.0 404.2 L284.0 404.1 L285.0 404.1 L286.0 404.0 L287.0 404.0 L288.0 403.9 L289.0 403.9 L290.0 403.8 L291.0 403.8 L292.0 403.7 L293.0 403.7 L294.0 403.6 L295.0 403.6 L296.0 403.5 L297.0 403.5 L298.0 403.5 L299.0 403.5 L300.0 403.5 L301.0 403.5 L302.0 403.5 L303.0 403.5 L304.0 403.5 L305.0 403.5 L306.0 403.5 L307.0 403.5 L308.0 403.5 L309.0 403.5 L310.0 403.5 L311.0 403.5 L312.0 403.5 L313.0 403.5 L314.0 403.5 L315.0 403.5 L316.0 403.5 L317.0 403.5 L318.0 403.5 L319.0 403.4 L320.0 403.4 L321.0 403.3 L322.0 403.3 L323.0 403.2 L324.0 403.2 L325.0 403.1 L326.0 403.1 L327.0 403.0 L328.0 403.0 L329.0 402.9 L330.0 402.9 L331.0 402.8 L332.0 402.8 L333.0 402.7 L334.0 402.7 L335.0 402.6 L336.0 402.6 L337.0 402.6 L338.0 402.5 L339.0 402.4 L340.0 402.3 L341.0 402.2 L342.0 402.1 L343.0 402.0 L344.0 402.0 L345.0 401.9 L346.0 401.8 L347.0 401.7 L348.0 401.6 L349.0 401.5 L350.0 401.4 L351.0 401.4 L352.0 401.3 L353.0 401.2 L354.0 401.1 L355.0 401.0 L356.0 400.9 L357.0 400.8 L358.0 400.8 L359.0 400.7 L360.0 400.6 L361.0 400.7 L362.0 400.9 L363.0 401.1 L364.0 401.2 L365.0 401.4 L366.0 401.5 L367.0 401.7 L368.0 401.8 L369.0 402.0 L370.0 402.1 L371.0 402.3 L372.0 402.5 L373.0 402.6 L374.0 402.8 L375.0 402.9 L376.0 403.1 L377.0 403.2 L378.0 403.4 L379.0 403.5 L380.0 403.4 L381.0 403.4 L382.0 403.3 L383.0 403.2 L384.0 403.1 L385.0 403.0 L386.0 403.0 L387.0 402.9 L388.0 402.8 L389.0 402.7 L390.0 402.6 L391.0 402.6 L392.0 402.2 L393.0 401.9 L394.0 401.6 L395.0 401.2 L396.0 400.9 L397.0 400.6 L398.0 400.2 L399.0 399.9 L400.0 399.5 L401.0 399.2 L402.0 398.9 L403.0 398.5 L404.0 398.2 L405.0 397.9 L406.0 397.5 L407.0 397.2 L408.0 396.9 L409.0 396.5 L410.0 396.2 L411.0 395.9 L412.0 395.5 L413.0 395.2 L414.0 394.8 L415.0 394.4 L416.0 394.1 L417.0 393.7 L418.0 393.4 L419.0 393.0 L420.0 392.7 L421.0 392.3 L422.0 391.9 L423.0 391.6 L424.0 391.2 L425.0 390.9 L426.0 390.5 L427.0 390.2 L428.0 389.8 L429.0 389.5 L430.0 389.1 L431.0 388.7 L432.0 388.4 L433.0 388.0 L434.0 387.7 L435.0 387.3 L436.0 386.9 L437.0 386.6 L438.0 386.2 L439.0 385.8 L440.0 385.5 L441.0 385.1 L442.0 384.8 L443.0 384.4 L444.0 384.0 L445.0 383.7 L446.0 383.3 L447.0 382.9 L448.0 382.6 L449.0 382.2 L450.0 381.9 L451.0 381.5 L452.0 381.1 L453.0 380.8 L454.0 380.4 L455.0 380.1 L456.0 379.8 L457.0 379.4 L458.0 379.1 L459.0 378.8 L460.0 378.4 L461.0 378.1 L462.0 377.8 L463.0 377.4 L464.0 377.1 L465.0 376.8 L466.0 376.4 L467.0 376.1 L468.0 375.8 L469.0 375.4 L470.0 375.1 L471.0 374.7 L472.0 374.4 L473.0 374.1 L474.0 373.6 L475.0 373.0 L476.0 372.5 L477.0 371.9 L478.0 371.4 L479.0 370.8 L480.0 370.3 L481.0 369.7 L482.0 369.2 L483.0 368.6 L484.0 368.1 L485.0 367.5 L486.0 367.0 L487.0 366.4 L488.0 365.9 L489.0 365.3 L490.0 364.8 L491.0 364.2 L492.0 363.6 L493.0 363.1 L494.0 362.5 L495.0 361.7 L496.0 360.9 L497.0 360.1 L498.0 359.3 L499.0 358.5 L500.0 357.6 L501.0 356.8 L502.0 356.0 L503.0 355.2 L504.0 354.4 L505.0 353.6 L506.0 352.8 L507.0 352.0 L508.0 351.2 L509.0 350.4 L510.0 349.6 L511.0 348.8 L512.0 348.0 L513.0 347.2 L514.0 346.4 L515.0 345.4 L516.0 344.4 L517.0 343.4 L518.0 342.4 L519.0 341.4 L520.0 340.4 L521.0 339.4 L522.0 338.4 L523.0 337.4 L524.0 336.4 L525.0 335.4 L526.0 334.4 L527.0 333.4 L528.0 332.4 L529.0 331.4 L530.0 330.4 L531.0 329.3 L532.0 328.0 L533.0 326.7 L534.0 325.5 L535.0 324.2 L536.0 322.9 L537.0 321.6 L538.0 320.3 L539.0 319.0 L540.0 317.7 L541.0 316.4 L542.0 315.1 L543.0 313.8 L544.0 312.5 L545.0 311.2 L546.0 310.0 L547.0 308.9 L548.0 307.7 L549.0 306.5 L550.0 305.3 L551.0 304.1 L552.0 303.0 L553.0 301.8 L554.0 300.6 L555.0 299.4" class="ct"/>
<text x="233.5" y="411.3" transform="rotate(-14.0 233.5 411.3)" class="cl">2</text>
<path d="M73.6 422.5 C73.7 423.1 73.3 423.1 74.1 426.4 C74.9 429.7 76.8 437.9 78.5 442.1 C80.3 446.4 82.5 450.9 84.4 452.0 C86.4 453.1 88.0 449.7 90.0 448.5 C92.1 447.4 93.3 446.3 96.8 445.1 C100.3 443.9 105.9 442.3 111.1 441.2 C116.2 440.0 120.6 440.0 127.5 438.2 C134.3 436.4 144.6 432.3 152.1 430.3 C159.7 428.4 165.8 427.5 172.7 426.4 C179.5 425.3 186.4 424.6 193.2 423.4 C200.1 422.3 206.9 421.0 213.7 419.5 C220.6 418.0 227.4 416.4 234.3 414.6 C241.1 412.8 248.0 410.0 254.8 408.7 C261.7 407.4 268.5 407.2 275.4 406.7 C282.2 406.2 289.1 405.9 295.9 405.7 C302.7 405.6 309.6 405.9 316.4 405.7 C323.3 405.6 329.7 405.2 337.0 404.8 C344.2 404.3 353.0 402.6 360.0 402.8 C367.0 402.9 373.7 405.4 378.9 405.7 C384.0 406.1 385.6 406.1 391.0 404.8 C396.5 403.4 404.7 400.2 411.6 397.9 C418.4 395.5 425.4 392.9 432.3 390.5 C439.1 388.0 445.8 385.5 452.6 383.1 C459.5 380.7 466.3 379.2 473.2 376.2 C480.0 373.2 486.9 369.5 493.7 364.9 C500.6 360.3 508.1 353.9 514.3 348.4 C520.4 342.9 525.5 337.8 530.7 331.9 C535.8 326.1 541.0 318.4 545.1 313.2 C549.3 308.1 551.9 304.3 555.3 301.2 C558.8 298.2 562.3 296.5 565.7 295.0 C569.1 293.6 570.7 293.3 575.9 292.6 C581.0 291.8 589.7 291.6 596.6 290.5 C603.4 289.4 610.3 287.4 616.9 285.8 C623.6 284.1 633.2 281.5 636.5 280.7" fill="none" stroke="#000" stroke-width="1.4"/>
<rect x="73.6" y="278.8" width="562.9" height="196.8" fill="none" stroke="#151515" stroke-width="2.6"/>
<line x1="73.6" y1="475.6" x2="73.6" y2="470.1" stroke="#151515" stroke-width="2"/>
<line x1="155.8" y1="475.6" x2="155.8" y2="470.1" stroke="#151515" stroke-width="2"/>
<line x1="237.9" y1="475.6" x2="237.9" y2="470.1" stroke="#151515" stroke-width="2"/>
<line x1="320.1" y1="475.6" x2="320.1" y2="470.1" stroke="#151515" stroke-width="2"/>
<line x1="402.2" y1="475.6" x2="402.2" y2="470.1" stroke="#151515" stroke-width="2"/>
<line x1="484.4" y1="475.6" x2="484.4" y2="470.1" stroke="#151515" stroke-width="2"/>
<line x1="566.5" y1="475.6" x2="566.5" y2="470.1" stroke="#151515" stroke-width="2"/>
<line x1="636.5" y1="328.0" x2="631.0" y2="328.0" stroke="#151515" stroke-width="2"/>
<line x1="636.5" y1="377.2" x2="631.0" y2="377.2" stroke="#151515" stroke-width="2"/>
<line x1="636.5" y1="426.4" x2="631.0" y2="426.4" stroke="#151515" stroke-width="2"/>
<text x="63.8" y="288.0" class="tk" text-anchor="end">0</text>
<text x="63.8" y="337.2" class="tk" text-anchor="end">-5</text>
<text x="63.8" y="386.4" class="tk" text-anchor="end">-10</text>
<text x="63.8" y="435.6" class="tk" text-anchor="end">-15</text>
<text x="63.8" y="484.8" class="tk" text-anchor="end">-20</text>
<text class="lab" text-anchor="middle" transform="translate(20.9 377.2) rotate(-90)">Depth (m)</text>
<text x="483.6" y="446.4" class="lab">Spring Flood</text>
<rect x="645.8" y="284.8" width="29.8" height="190.8" fill="url(#cbg)" stroke="#222" stroke-width="1.3"/>
<text x="684.8" y="293.7" class="tk">6</text>
<line x1="675.6" y1="348.4" x2="673.4" y2="348.4" stroke="#333" stroke-width="1.1"/>
<text x="684.8" y="357.3" class="tk">4</text>
<line x1="675.6" y1="412.0" x2="673.4" y2="412.0" stroke="#333" stroke-width="1.1"/>
<text x="684.8" y="420.9" class="tk">2</text>
<text x="684.8" y="484.5" class="tk">0</text>
<text x="660.7" y="271.0" class="un" text-anchor="middle">kg m<tspan class="sup" dy="-11">-2</tspan><tspan dy="11"> s</tspan><tspan class="sup" dy="-11">-1</tspan></text>
<text x="6.2" y="296.2" class="let">C</text>
<path d="M760.8 422.5 C760.9 423.1 760.5 423.1 761.3 426.4 C762.1 429.7 764.0 437.9 765.7 442.1 C767.5 446.4 769.7 450.9 771.6 452.0 C773.6 453.1 775.2 449.7 777.2 448.5 C779.3 447.4 780.5 446.3 784.0 445.1 C787.5 443.9 793.1 442.3 798.3 441.2 C803.4 440.0 807.8 440.0 814.7 438.2 C821.5 436.4 831.8 432.3 839.3 430.3 C846.9 428.4 853.0 427.5 859.9 426.4 C866.7 425.3 873.6 424.6 880.4 423.4 C887.3 422.3 894.1 421.0 900.9 419.5 C907.8 418.0 914.6 416.4 921.5 414.6 C928.3 412.8 935.2 410.0 942.0 408.7 C948.9 407.4 955.7 407.2 962.6 406.7 C969.4 406.2 976.3 405.9 983.1 405.7 C989.9 405.6 996.8 405.9 1003.6 405.7 C1010.5 405.6 1016.9 405.2 1024.2 404.8 C1031.4 404.3 1040.2 402.6 1047.2 402.8 C1054.2 402.9 1060.9 405.4 1066.1 405.7 C1071.2 406.1 1072.8 406.1 1078.2 404.8 C1083.7 403.4 1091.9 400.2 1098.8 397.9 C1105.6 395.5 1112.6 392.9 1119.5 390.5 C1126.3 388.0 1133.0 385.5 1139.8 383.1 C1146.7 380.7 1153.5 379.2 1160.4 376.2 C1167.2 373.2 1174.1 369.5 1180.9 364.9 C1187.8 360.3 1195.3 353.9 1201.5 348.4 C1207.6 342.9 1212.7 337.8 1217.9 331.9 C1223.0 326.1 1228.2 318.4 1232.3 313.2 C1236.5 308.1 1239.1 304.3 1242.5 301.2 C1246.0 298.2 1249.5 296.5 1252.9 295.0 C1256.3 293.6 1257.9 293.3 1263.1 292.6 C1268.2 291.8 1276.9 291.6 1283.8 290.5 C1290.6 289.4 1297.5 287.4 1304.1 285.8 C1310.8 284.1 1320.4 281.5 1323.7 280.7 L1324.7 280.7 L1324.7 476.6 L759.8 476.6 L759.8 422.0 Z" fill="#fff"/>
<path d="M767.2 279.0 C768.2 284.3 767.9 304.4 773.3 310.7 C778.7 317.0 793.3 316.5 799.8 316.8 C806.2 317.1 810.0 313.4 812.0 312.7" class="ct"/>
<path d="M832.4 290.3 L848.7 279.3" class="ct"/>
<text x="822.2" y="302.5" transform="rotate(-47.7 822.2 302.5)" class="cl">1</text>
<path d="M1015.6 279.3 L999.3 292.4" class="ct"/>
<path d="M987.1 329.0 C985.8 333.1 981.0 345.2 979.0 353.4 C977.0 361.5 975.2 370.1 974.9 377.9 C974.5 385.7 975.5 396.2 976.9 400.3 C978.2 404.4 982.0 402.0 983.0 402.3" class="ct"/>
<text x="994.5" y="310.7" transform="rotate(-71.6 994.5 310.7)" class="cl">0</text>
<path d="M1072.6 279.0 C1073.0 280.0 1073.3 283.6 1075.0 285.0 C1076.7 286.4 1080.2 287.2 1083.0 287.5 C1085.8 287.8 1089.7 287.8 1092.0 287.0 C1094.3 286.2 1096.2 284.3 1097.0 283.0 C1097.8 281.7 1097.0 279.7 1097.0 279.0" class="ct"/>
<path d="M1166.3 282.2 C1163.6 284.6 1153.5 292.1 1150.0 296.4 C1146.5 300.7 1145.8 306.1 1145.0 308.0" class="ct"/>
<path d="M1138.5 335.0 C1138.4 335.4 1137.9 334.7 1137.8 337.1 C1137.7 339.5 1136.4 346.0 1137.8 349.4 C1139.2 352.8 1142.5 354.4 1145.9 357.5 C1149.3 360.6 1155.4 365.7 1158.1 367.7 C1160.8 369.7 1161.5 369.4 1162.2 369.7" class="ct"/>
<text x="1141.8" y="320.9" transform="rotate(-76.5 1141.8 320.9)" class="cl">-1</text>
<path d="M1194.8 279.0 C1195.7 279.4 1196.6 281.1 1200.0 281.5 C1203.4 281.9 1211.1 281.9 1215.0 281.5 C1218.9 281.1 1221.9 279.4 1223.3 279.0" class="ct"/>
<path d="M1274.0 279.0 C1274.2 279.8 1274.6 282.2 1275.0 284.0 C1275.4 285.8 1276.2 289.0 1276.5 290.0" class="ct"/>
<path d="M760.8 422.5 C760.9 423.1 760.5 423.1 761.3 426.4 C762.1 429.7 764.0 437.9 765.7 442.1 C767.5 446.4 769.7 450.9 771.6 452.0 C773.6 453.1 775.2 449.7 777.2 448.5 C779.3 447.4 780.5 446.3 784.0 445.1 C787.5 443.9 793.1 442.3 798.3 441.2 C803.4 440.0 807.8 440.0 814.7 438.2 C821.5 436.4 831.8 432.3 839.3 430.3 C846.9 428.4 853.0 427.5 859.9 426.4 C866.7 425.3 873.6 424.6 880.4 423.4 C887.3 422.3 894.1 421.0 900.9 419.5 C907.8 418.0 914.6 416.4 921.5 414.6 C928.3 412.8 935.2 410.0 942.0 408.7 C948.9 407.4 955.7 407.2 962.6 406.7 C969.4 406.2 976.3 405.9 983.1 405.7 C989.9 405.6 996.8 405.9 1003.6 405.7 C1010.5 405.6 1016.9 405.2 1024.2 404.8 C1031.4 404.3 1040.2 402.6 1047.2 402.8 C1054.2 402.9 1060.9 405.4 1066.1 405.7 C1071.2 406.1 1072.8 406.1 1078.2 404.8 C1083.7 403.4 1091.9 400.2 1098.8 397.9 C1105.6 395.5 1112.6 392.9 1119.5 390.5 C1126.3 388.0 1133.0 385.5 1139.8 383.1 C1146.7 380.7 1153.5 379.2 1160.4 376.2 C1167.2 373.2 1174.1 369.5 1180.9 364.9 C1187.8 360.3 1195.3 353.9 1201.5 348.4 C1207.6 342.9 1212.7 337.8 1217.9 331.9 C1223.0 326.1 1228.2 318.4 1232.3 313.2 C1236.5 308.1 1239.1 304.3 1242.5 301.2 C1246.0 298.2 1249.5 296.5 1252.9 295.0 C1256.3 293.6 1257.9 293.3 1263.1 292.6 C1268.2 291.8 1276.9 291.6 1283.8 290.5 C1290.6 289.4 1297.5 287.4 1304.1 285.8 C1310.8 284.1 1320.4 281.5 1323.7 280.7" fill="none" stroke="#000" stroke-width="1.4"/>
<rect x="760.8" y="278.8" width="562.9" height="196.8" fill="none" stroke="#151515" stroke-width="2.6"/>
<line x1="760.8" y1="475.6" x2="760.8" y2="470.1" stroke="#151515" stroke-width="2"/>
<line x1="843.0" y1="475.6" x2="843.0" y2="470.1" stroke="#151515" stroke-width="2"/>
<line x1="925.1" y1="475.6" x2="925.1" y2="470.1" stroke="#151515" stroke-width="2"/>
<line x1="1007.3" y1="475.6" x2="1007.3" y2="470.1" stroke="#151515" stroke-width="2"/>
<line x1="1089.4" y1="475.6" x2="1089.4" y2="470.1" stroke="#151515" stroke-width="2"/>
<line x1="1171.6" y1="475.6" x2="1171.6" y2="470.1" stroke="#151515" stroke-width="2"/>
<line x1="1253.7" y1="475.6" x2="1253.7" y2="470.1" stroke="#151515" stroke-width="2"/>
<line x1="1323.7" y1="328.0" x2="1318.2" y2="328.0" stroke="#151515" stroke-width="2"/>
<line x1="1323.7" y1="377.2" x2="1318.2" y2="377.2" stroke="#151515" stroke-width="2"/>
<line x1="1323.7" y1="426.4" x2="1318.2" y2="426.4" stroke="#151515" stroke-width="2"/>
<text x="1170.8" y="446.4" class="lab">Spring Flood</text>
<rect x="1333.3" y="284.8" width="29.8" height="190.8" fill="url(#cbg)" stroke="#222" stroke-width="1.3"/>
<text x="1372.3" y="293.7" class="tk">2</text>
<line x1="1363.1" y1="332.5" x2="1360.9" y2="332.5" stroke="#333" stroke-width="1.1"/>
<text x="1372.3" y="341.4" class="tk">1</text>
<line x1="1363.1" y1="380.2" x2="1360.9" y2="380.2" stroke="#333" stroke-width="1.1"/>
<text x="1372.3" y="389.1" class="tk">0</text>
<line x1="1363.1" y1="427.9" x2="1360.9" y2="427.9" stroke="#333" stroke-width="1.1"/>
<text x="1372.3" y="436.8" class="tk">-1</text>
<text x="1372.3" y="484.5" class="tk">-2</text>
<text x="1348.2" y="271.0" class="un" text-anchor="middle">kg m<tspan class="sup" dy="-11">-2</tspan><tspan dy="11"> s</tspan><tspan class="sup" dy="-11">-1</tspan></text>
<text x="710.1" y="295.8" class="let">D</text>
<linearGradient id="sg_E_0" x1="0" x2="1" y1="0" y2="0"><stop offset="0" stop-color="#66afd0" stop-opacity="0"/><stop offset="0.5" stop-color="#66afd0" stop-opacity="0.60"/><stop offset="1" stop-color="#66afd0" stop-opacity="0"/></linearGradient>
<rect x="236.0" y="525.0" width="12.0" height="101.0" fill="url(#sg_E_0)"/>
<path d="M73.6 656.1 C73.7 657.1 73.1 658.4 73.9 662.0 C74.8 665.6 76.6 673.8 78.5 677.8 C80.4 681.7 82.6 685.2 85.3 685.6 C87.9 686.1 91.2 682.4 94.5 680.7 C97.7 679.1 100.7 677.0 104.8 675.8 C108.9 674.7 113.3 674.7 119.1 673.8 C124.9 673.0 132.8 672.2 139.6 670.9 C146.5 669.6 153.3 667.3 160.2 666.0 C167.0 664.7 173.9 664.1 180.7 663.0 C187.6 662.0 194.4 661.3 201.3 659.7 C208.1 658.0 215.6 655.1 221.8 653.2 C228.0 651.3 233.1 649.6 238.2 648.3 C243.4 646.9 246.9 646.4 252.7 645.3 C258.5 644.2 266.4 642.3 273.2 641.4 C280.1 640.4 286.9 639.7 293.8 639.4 C300.6 639.1 307.5 639.4 314.3 639.4 C321.1 639.4 328.4 639.8 334.8 639.4 C341.3 639.0 346.5 637.0 352.9 637.1 C359.3 637.3 367.1 639.6 373.3 640.2 C379.4 640.8 384.7 641.4 389.9 640.8 C395.0 640.1 398.4 638.1 404.2 636.1 C410.0 634.2 417.9 631.3 424.7 628.9 C431.6 626.5 438.4 623.9 445.3 621.7 C452.1 619.5 458.9 618.1 465.8 615.6 C472.6 613.0 479.5 610.3 486.3 606.3 C493.2 602.4 501.1 596.7 506.9 591.9 C512.7 587.1 516.7 582.4 521.2 577.6 C525.6 572.8 529.3 568.4 533.5 563.2 C537.6 558.1 542.2 551.1 546.0 546.8 C549.7 542.5 552.4 539.8 556.2 537.5 C559.9 535.1 564.7 533.7 568.5 532.4 C572.2 531.2 573.5 530.6 578.7 529.9 C583.8 529.1 592.4 528.5 599.2 527.9 C606.0 527.3 613.5 527.0 619.7 526.2 C626.0 525.4 633.7 523.6 636.5 523.1 L637.5 523.1 L637.5 720.1 L72.6 720.1 L72.6 655.6 Z" fill="#fff"/>
<path d="M160.0 588.0 C159.8 589.0 160.4 591.1 158.8 593.7 C157.2 596.3 156.8 600.4 150.7 603.8 C144.6 607.2 128.9 615.2 122.5 613.9 C116.1 612.5 114.8 604.1 112.4 595.7 C110.1 587.3 108.4 570.8 108.4 563.4 C108.4 556.0 110.1 555.0 112.4 551.3 C114.8 547.6 116.1 541.5 122.5 541.2 C128.9 540.9 144.0 546.9 150.7 549.3 C157.4 551.7 160.8 553.8 162.9 555.4 C165.0 557.0 163.0 558.4 163.0 559.0" class="ct"/>
<path d="M340.5 545.3 C341.2 544.6 338.4 543.6 344.5 541.2 C350.6 538.8 367.4 533.8 376.8 531.1 C386.2 528.4 390.5 526.3 401.0 525.1 C411.5 523.9 427.2 524.2 440.0 524.0 C452.8 523.8 468.1 522.1 477.7 524.0 C487.3 525.9 493.5 530.0 497.9 535.2 C502.3 540.4 504.0 548.0 504.0 555.4 C504.0 562.8 502.3 573.2 497.9 579.6 C493.5 586.0 483.1 590.3 477.7 593.7 C472.3 597.1 469.0 597.8 465.6 599.8 C462.2 601.8 463.0 602.8 457.6 605.8 C452.2 608.8 442.7 615.3 433.3 618.0 C423.9 620.7 411.1 623.0 401.0 622.0 C390.9 621.0 381.5 616.3 372.8 611.9 C364.1 607.5 354.3 601.1 348.6 595.7 C342.9 590.3 340.4 583.1 338.5 579.6 C336.6 576.1 337.7 575.8 337.5 575.0" class="ct"/>
<path d="M74.0 648.2 C74.7 651.0 76.7 660.3 78.0 665.0 C79.3 669.7 79.8 675.3 82.1 676.5 C84.4 677.7 88.6 673.4 92.0 672.0 C95.4 670.6 99.0 669.2 102.3 668.4 C105.6 667.6 110.4 667.2 112.0 667.0" class="ct"/>
<path d="M146.7 658.3 C154.1 656.9 177.0 653.9 191.1 650.2 C205.2 646.5 222.8 640.5 231.5 636.1 C240.2 631.7 240.2 624.7 243.6 624.0 C247.0 623.3 247.0 630.6 251.7 632.1 C256.4 633.6 261.8 632.8 271.9 632.9 C282.0 633.0 298.8 632.4 312.2 632.9 C325.6 633.4 339.1 636.2 352.6 636.1 C366.1 636.0 381.6 634.1 393.0 632.1 C404.4 630.1 415.7 625.7 421.2 624.0 C426.7 622.3 425.2 622.3 426.0 622.0" class="ct"/>
<path d="M457.6 613.9 C463.7 611.2 482.5 604.9 493.9 597.8 C505.3 590.7 518.1 579.9 526.2 571.5 C534.3 563.1 538.6 554.7 542.3 547.3 C546.0 539.9 547.7 531.1 548.4 527.1 C549.1 523.1 546.7 523.8 546.4 523.1" class="ct"/>
<text x="128.5" y="666.4" transform="rotate(-14.1 128.5 666.4)" class="cl">-2</text>
<text x="439.4" y="620.0" transform="rotate(-14.4 439.4 620.0)" class="cl">-2</text>
<path d="M583.5 523.0 C583.4 523.7 583.2 525.8 583.0 527.0 C582.8 528.2 582.2 529.9 582.0 530.5" class="ct"/>
<text x="164.0" y="576.0" transform="rotate(-90.0 164.0 576.0)" class="cl">-3</text>
<text x="338.5" y="561.0" transform="rotate(-90.0 338.5 561.0)" class="cl">-3</text>
<path d="M73.6 656.1 C73.7 657.1 73.1 658.4 73.9 662.0 C74.8 665.6 76.6 673.8 78.5 677.8 C80.4 681.7 82.6 685.2 85.3 685.6 C87.9 686.1 91.2 682.4 94.5 680.7 C97.7 679.1 100.7 677.0 104.8 675.8 C108.9 674.7 113.3 674.7 119.1 673.8 C124.9 673.0 132.8 672.2 139.6 670.9 C146.5 669.6 153.3 667.3 160.2 666.0 C167.0 664.7 173.9 664.1 180.7 663.0 C187.6 662.0 194.4 661.3 201.3 659.7 C208.1 658.0 215.6 655.1 221.8 653.2 C228.0 651.3 233.1 649.6 238.2 648.3 C243.4 646.9 246.9 646.4 252.7 645.3 C258.5 644.2 266.4 642.3 273.2 641.4 C280.1 640.4 286.9 639.7 293.8 639.4 C300.6 639.1 307.5 639.4 314.3 639.4 C321.1 639.4 328.4 639.8 334.8 639.4 C341.3 639.0 346.5 637.0 352.9 637.1 C359.3 637.3 367.1 639.6 373.3 640.2 C379.4 640.8 384.7 641.4 389.9 640.8 C395.0 640.1 398.4 638.1 404.2 636.1 C410.0 634.2 417.9 631.3 424.7 628.9 C431.6 626.5 438.4 623.9 445.3 621.7 C452.1 619.5 458.9 618.1 465.8 615.6 C472.6 613.0 479.5 610.3 486.3 606.3 C493.2 602.4 501.1 596.7 506.9 591.9 C512.7 587.1 516.7 582.4 521.2 577.6 C525.6 572.8 529.3 568.4 533.5 563.2 C537.6 558.1 542.2 551.1 546.0 546.8 C549.7 542.5 552.4 539.8 556.2 537.5 C559.9 535.1 564.7 533.7 568.5 532.4 C572.2 531.2 573.5 530.6 578.7 529.9 C583.8 529.1 592.4 528.5 599.2 527.9 C606.0 527.3 613.5 527.0 619.7 526.2 C626.0 525.4 633.7 523.6 636.5 523.1" fill="none" stroke="#000" stroke-width="1.4"/>
<rect x="73.6" y="522.3" width="562.9" height="196.8" fill="none" stroke="#151515" stroke-width="2.6"/>
<line x1="73.6" y1="719.1" x2="73.6" y2="713.6" stroke="#151515" stroke-width="2"/>
<line x1="155.8" y1="719.1" x2="155.8" y2="713.6" stroke="#151515" stroke-width="2"/>
<line x1="237.9" y1="719.1" x2="237.9" y2="713.6" stroke="#151515" stroke-width="2"/>
<line x1="320.1" y1="719.1" x2="320.1" y2="713.6" stroke="#151515" stroke-width="2"/>
<line x1="402.2" y1="719.1" x2="402.2" y2="713.6" stroke="#151515" stroke-width="2"/>
<line x1="484.4" y1="719.1" x2="484.4" y2="713.6" stroke="#151515" stroke-width="2"/>
<line x1="566.5" y1="719.1" x2="566.5" y2="713.6" stroke="#151515" stroke-width="2"/>
<line x1="636.5" y1="571.5" x2="631.0" y2="571.5" stroke="#151515" stroke-width="2"/>
<line x1="636.5" y1="620.7" x2="631.0" y2="620.7" stroke="#151515" stroke-width="2"/>
<line x1="636.5" y1="669.9" x2="631.0" y2="669.9" stroke="#151515" stroke-width="2"/>
<text x="63.8" y="531.5" class="tk" text-anchor="end">0</text>
<text x="63.8" y="580.7" class="tk" text-anchor="end">-5</text>
<text x="63.8" y="629.9" class="tk" text-anchor="end">-10</text>
<text x="63.8" y="679.1" class="tk" text-anchor="end">-15</text>
<text x="63.8" y="728.3" class="tk" text-anchor="end">-20</text>
<text class="lab" text-anchor="middle" transform="translate(20.9 620.7) rotate(-90)">Depth (m)</text>
<text x="73.6" y="750.7" class="tk" text-anchor="middle">0</text>
<text x="155.8" y="750.7" class="tk" text-anchor="middle">5</text>
<text x="237.9" y="750.7" class="tk" text-anchor="middle">10</text>
<text x="320.1" y="750.7" class="tk" text-anchor="middle">15</text>
<text x="402.2" y="750.7" class="tk" text-anchor="middle">20</text>
<text x="484.4" y="750.7" class="tk" text-anchor="middle">25</text>
<text x="566.5" y="750.7" class="tk" text-anchor="middle">30</text>
<text x="355.0" y="780.8" class="lab" text-anchor="middle">Distance from north bank (km)</text>
<text x="483.6" y="689.9" class="lab">Spring Ebb</text>
<rect x="645.8" y="528.3" width="29.8" height="190.8" fill="url(#cbg)" stroke="#222" stroke-width="1.3"/>
<text x="684.8" y="537.2" class="tk">0</text>
<line x1="675.6" y1="576.0" x2="673.4" y2="576.0" stroke="#333" stroke-width="1.1"/>
<text x="684.8" y="584.9" class="tk">-1</text>
<line x1="675.6" y1="623.7" x2="673.4" y2="623.7" stroke="#333" stroke-width="1.1"/>
<text x="684.8" y="632.6" class="tk">-2</text>
<line x1="675.6" y1="671.4" x2="673.4" y2="671.4" stroke="#333" stroke-width="1.1"/>
<text x="684.8" y="680.3" class="tk">-3</text>
<text x="684.8" y="728.0" class="tk">-4</text>
<text x="660.7" y="514.5" class="un" text-anchor="middle">kg m<tspan class="sup" dy="-11">-2</tspan><tspan dy="11"> s</tspan><tspan class="sup" dy="-11">-1</tspan></text>
<text x="5.5" y="535.4" class="let">E</text>
<path d="M760.8 656.1 C760.9 657.1 760.3 658.4 761.1 662.0 C762.0 665.6 763.8 673.8 765.7 677.8 C767.6 681.7 769.8 685.2 772.5 685.6 C775.1 686.1 778.4 682.4 781.7 680.7 C784.9 679.1 787.9 677.0 792.0 675.8 C796.1 674.7 800.5 674.7 806.3 673.8 C812.1 673.0 820.0 672.2 826.8 670.9 C833.7 669.6 840.5 667.3 847.4 666.0 C854.2 664.7 861.1 664.1 867.9 663.0 C874.8 662.0 881.6 661.3 888.5 659.7 C895.3 658.0 902.8 655.1 909.0 653.2 C915.2 651.3 920.3 649.6 925.4 648.3 C930.6 646.9 934.1 646.4 939.9 645.3 C945.7 644.2 953.6 642.3 960.4 641.4 C967.3 640.4 974.1 639.7 981.0 639.4 C987.8 639.1 994.7 639.4 1001.5 639.4 C1008.3 639.4 1015.6 639.8 1022.0 639.4 C1028.5 639.0 1033.7 637.0 1040.1 637.1 C1046.5 637.3 1054.3 639.6 1060.5 640.2 C1066.6 640.8 1071.9 641.4 1077.1 640.8 C1082.2 640.1 1085.6 638.1 1091.4 636.1 C1097.2 634.2 1105.1 631.3 1111.9 628.9 C1118.8 626.5 1125.6 623.9 1132.5 621.7 C1139.3 619.5 1146.1 618.1 1153.0 615.6 C1159.8 613.0 1166.7 610.3 1173.5 606.3 C1180.4 602.4 1188.3 596.7 1194.1 591.9 C1199.9 587.1 1203.9 582.4 1208.4 577.6 C1212.8 572.8 1216.5 568.4 1220.7 563.2 C1224.8 558.1 1229.4 551.1 1233.2 546.8 C1236.9 542.5 1239.6 539.8 1243.4 537.5 C1247.1 535.1 1251.9 533.7 1255.7 532.4 C1259.4 531.2 1260.7 530.6 1265.9 529.9 C1271.0 529.1 1279.6 528.5 1286.4 527.9 C1293.2 527.3 1300.7 527.0 1306.9 526.2 C1313.2 525.4 1320.9 523.6 1323.7 523.1 L1324.7 523.1 L1324.7 720.1 L759.8 720.1 L759.8 655.6 Z" fill="#fff"/>
<path d="M850.7 522.3 C853.1 523.2 860.3 526.4 865.0 528.0 C869.7 529.6 873.2 530.8 879.0 532.0 C884.8 533.2 893.4 534.0 900.0 535.0 C906.6 536.0 910.6 535.9 918.7 538.0 C926.8 540.1 940.2 544.5 948.5 547.8 C956.8 551.1 963.0 554.8 968.3 557.7 C973.5 560.6 976.7 562.4 980.0 565.0 C983.3 567.6 986.5 571.4 988.2 573.6 C989.9 575.8 989.7 577.3 990.0 578.0" class="ct"/>
<path d="M999.3 600.5 C1000.3 603.2 1003.7 610.7 1005.4 616.8 C1007.1 622.9 1008.8 633.8 1009.5 637.2" class="ct"/>
<text x="994.5" y="588.3" transform="rotate(67.5 994.5 588.3)" class="cl">0</text>
<path d="M1135.7 522.3 C1138.1 523.8 1145.6 527.8 1150.0 531.3 C1154.4 534.8 1158.5 539.8 1162.2 543.5 C1165.9 547.2 1170.7 552.0 1172.4 553.7" class="ct"/>
<path d="M1192.7 535.4 L1198.9 522.3" class="ct"/>
<text x="1183.5" y="546.0" transform="rotate(-42.0 1183.5 546.0)" class="cl">1</text>
<path d="M803.9 594.4 C801.9 595.8 794.3 598.1 791.6 602.5 C788.9 606.9 788.6 615.1 787.6 620.9 C786.6 626.7 784.1 632.5 785.5 637.2 C786.9 642.0 792.0 647.0 795.7 649.4 C799.5 651.8 804.6 654.1 808.0 651.4 C811.4 648.7 814.8 636.1 816.1 633.1" class="ct"/>
<path d="M1085.0 633.0 C1085.3 632.2 1085.5 629.5 1087.0 628.5 C1088.5 627.5 1092.4 626.7 1094.0 627.0 C1095.6 627.3 1097.2 629.4 1096.5 630.5 C1095.8 631.6 1091.1 633.0 1090.0 633.5" class="ct"/>
<text x="812.6" y="612.3" transform="rotate(25.0 812.6 612.3)" class="cl">-1</text>
<path d="M760.8 656.1 C760.9 657.1 760.3 658.4 761.1 662.0 C762.0 665.6 763.8 673.8 765.7 677.8 C767.6 681.7 769.8 685.2 772.5 685.6 C775.1 686.1 778.4 682.4 781.7 680.7 C784.9 679.1 787.9 677.0 792.0 675.8 C796.1 674.7 800.5 674.7 806.3 673.8 C812.1 673.0 820.0 672.2 826.8 670.9 C833.7 669.6 840.5 667.3 847.4 666.0 C854.2 664.7 861.1 664.1 867.9 663.0 C874.8 662.0 881.6 661.3 888.5 659.7 C895.3 658.0 902.8 655.1 909.0 653.2 C915.2 651.3 920.3 649.6 925.4 648.3 C930.6 646.9 934.1 646.4 939.9 645.3 C945.7 644.2 953.6 642.3 960.4 641.4 C967.3 640.4 974.1 639.7 981.0 639.4 C987.8 639.1 994.7 639.4 1001.5 639.4 C1008.3 639.4 1015.6 639.8 1022.0 639.4 C1028.5 639.0 1033.7 637.0 1040.1 637.1 C1046.5 637.3 1054.3 639.6 1060.5 640.2 C1066.6 640.8 1071.9 641.4 1077.1 640.8 C1082.2 640.1 1085.6 638.1 1091.4 636.1 C1097.2 634.2 1105.1 631.3 1111.9 628.9 C1118.8 626.5 1125.6 623.9 1132.5 621.7 C1139.3 619.5 1146.1 618.1 1153.0 615.6 C1159.8 613.0 1166.7 610.3 1173.5 606.3 C1180.4 602.4 1188.3 596.7 1194.1 591.9 C1199.9 587.1 1203.9 582.4 1208.4 577.6 C1212.8 572.8 1216.5 568.4 1220.7 563.2 C1224.8 558.1 1229.4 551.1 1233.2 546.8 C1236.9 542.5 1239.6 539.8 1243.4 537.5 C1247.1 535.1 1251.9 533.7 1255.7 532.4 C1259.4 531.2 1260.7 530.6 1265.9 529.9 C1271.0 529.1 1279.6 528.5 1286.4 527.9 C1293.2 527.3 1300.7 527.0 1306.9 526.2 C1313.2 525.4 1320.9 523.6 1323.7 523.1" fill="none" stroke="#000" stroke-width="1.4"/>
<rect x="760.8" y="522.3" width="562.9" height="196.8" fill="none" stroke="#151515" stroke-width="2.6"/>
<line x1="760.8" y1="719.1" x2="760.8" y2="713.6" stroke="#151515" stroke-width="2"/>
<line x1="843.0" y1="719.1" x2="843.0" y2="713.6" stroke="#151515" stroke-width="2"/>
<line x1="925.1" y1="719.1" x2="925.1" y2="713.6" stroke="#151515" stroke-width="2"/>
<line x1="1007.3" y1="719.1" x2="1007.3" y2="713.6" stroke="#151515" stroke-width="2"/>
<line x1="1089.4" y1="719.1" x2="1089.4" y2="713.6" stroke="#151515" stroke-width="2"/>
<line x1="1171.6" y1="719.1" x2="1171.6" y2="713.6" stroke="#151515" stroke-width="2"/>
<line x1="1253.7" y1="719.1" x2="1253.7" y2="713.6" stroke="#151515" stroke-width="2"/>
<line x1="1323.7" y1="571.5" x2="1318.2" y2="571.5" stroke="#151515" stroke-width="2"/>
<line x1="1323.7" y1="620.7" x2="1318.2" y2="620.7" stroke="#151515" stroke-width="2"/>
<line x1="1323.7" y1="669.9" x2="1318.2" y2="669.9" stroke="#151515" stroke-width="2"/>
<text x="760.8" y="750.7" class="tk" text-anchor="middle">0</text>
<text x="843.0" y="750.7" class="tk" text-anchor="middle">5</text>
<text x="925.1" y="750.7" class="tk" text-anchor="middle">10</text>
<text x="1007.3" y="750.7" class="tk" text-anchor="middle">15</text>
<text x="1089.4" y="750.7" class="tk" text-anchor="middle">20</text>
<text x="1171.6" y="750.7" class="tk" text-anchor="middle">25</text>
<text x="1253.7" y="750.7" class="tk" text-anchor="middle">30</text>
<text x="1042.2" y="780.8" class="lab" text-anchor="middle">Distance from north bank (km)</text>
<text x="1170.8" y="689.9" class="lab">Spring Ebb</text>
<rect x="1333.3" y="528.3" width="29.8" height="190.8" fill="url(#cbg)" stroke="#222" stroke-width="1.3"/>
<text x="1372.3" y="537.2" class="tk">2</text>
<line x1="1363.1" y1="576.0" x2="1360.9" y2="576.0" stroke="#333" stroke-width="1.1"/>
<text x="1372.3" y="584.9" class="tk">1</text>
<line x1="1363.1" y1="623.7" x2="1360.9" y2="623.7" stroke="#333" stroke-width="1.1"/>
<text x="1372.3" y="632.6" class="tk">0</text>
<line x1="1363.1" y1="671.4" x2="1360.9" y2="671.4" stroke="#333" stroke-width="1.1"/>
<text x="1372.3" y="680.3" class="tk">-1</text>
<text x="1372.3" y="728.0" class="tk">-2</text>
<text x="1348.2" y="514.5" class="un" text-anchor="middle">kg m<tspan class="sup" dy="-11">-2</tspan><tspan dy="11"> s</tspan><tspan class="sup" dy="-11">-1</tspan></text>
<text x="724.2" y="535.4" class="let">F</text>
<path d="M73.6 961.7 C73.7 962.3 73.3 962.3 74.1 965.6 C74.9 968.9 76.8 977.1 78.5 981.3 C80.3 985.6 82.5 990.1 84.4 991.2 C86.4 992.2 88.0 988.9 90.0 987.7 C92.1 986.6 93.3 985.5 96.8 984.3 C100.3 983.1 105.9 981.5 111.1 980.4 C116.2 979.2 120.6 979.2 127.5 977.4 C134.3 975.6 144.6 971.5 152.1 969.5 C159.7 967.6 165.8 966.7 172.7 965.6 C179.5 964.5 186.4 963.8 193.2 962.6 C200.1 961.5 206.9 960.2 213.7 958.7 C220.6 957.2 227.4 955.6 234.3 953.8 C241.1 952.0 248.0 949.2 254.8 947.9 C261.7 946.6 268.5 946.4 275.4 945.9 C282.2 945.4 289.1 945.1 295.9 944.9 C302.7 944.8 309.6 945.1 316.4 944.9 C323.3 944.8 329.7 944.4 337.0 944.0 C344.2 943.5 353.0 941.8 360.0 942.0 C367.0 942.1 373.7 944.6 378.9 944.9 C384.0 945.3 385.6 945.3 391.0 944.0 C396.5 942.6 404.7 939.4 411.6 937.1 C418.4 934.7 425.4 932.1 432.3 929.7 C439.1 927.2 445.8 924.7 452.6 922.3 C459.5 919.9 466.3 918.5 473.2 915.4 C480.0 912.4 486.9 908.7 493.7 904.1 C500.6 899.5 508.1 893.1 514.3 887.6 C520.4 882.1 525.5 877.0 530.7 871.1 C535.8 865.3 541.0 857.6 545.1 852.4 C549.3 847.3 551.9 843.5 555.3 840.4 C558.8 837.4 562.3 835.7 565.7 834.2 C569.1 832.8 570.7 832.5 575.9 831.8 C581.0 831.0 589.7 830.8 596.6 829.7 C603.4 828.6 610.3 826.6 616.9 825.0 C623.6 823.3 633.2 820.7 636.5 819.9 L637.5 819.9 L637.5 1015.8 L72.6 1015.8 L72.6 961.2 Z" fill="#fff"/>
<path d="M74.0 822.5 C91.8 822.8 146.2 824.0 180.5 824.3 C214.8 824.6 263.3 824.1 279.9 824.1" class="ct"/>
<path d="M336.5 825.3 C352.6 826.4 416.8 830.7 433.3 832.2 C449.8 833.7 436.7 829.8 435.4 834.2 C434.1 838.6 429.0 849.0 425.3 858.4 C421.6 867.8 418.6 879.9 413.2 890.7 C407.8 901.5 399.1 916.3 393.0 923.0 C386.9 929.7 386.9 931.4 376.8 931.1 C366.7 930.8 339.8 922.7 332.4 921.0" class="ct"/>
<path d="M271.9 935.2 C266.5 937.2 246.3 944.3 239.6 947.3 C232.9 950.3 232.8 952.3 231.5 953.3" class="ct"/>
<text x="308.2" y="826.1" transform="rotate(1.2 308.2 826.1)" class="cl">0.4</text>
<text x="301.0" y="928.0" transform="rotate(-13.2 301.0 928.0)" class="cl">0.4</text>
<path d="M74.0 825.0 C91.8 825.1 158.2 825.1 180.5 825.6 C202.8 826.1 199.8 826.9 208.1 827.7 C216.4 828.5 225.3 829.3 230.2 830.4 C235.1 831.5 236.4 831.0 237.6 834.1 C238.8 837.2 237.9 842.0 237.6 848.8 C237.3 855.5 236.8 868.4 236.0 874.6 C235.2 880.8 233.5 884.1 233.0 886.0" class="ct"/>
<path d="M223.4 915.0 C222.1 917.7 218.7 925.1 215.3 931.1 C211.9 937.1 207.2 946.2 203.2 951.3 C199.2 956.3 193.1 959.7 191.1 961.4" class="ct"/>
<text x="229.5" y="900.5" transform="rotate(-71.7 229.5 900.5)" class="cl">0.2</text>
<path d="M140.7 975.0 L142.7 915.0" class="ct"/>
<path d="M142.7 888.0 C142.7 883.0 143.0 866.1 142.7 858.0 C142.4 849.9 142.3 843.1 140.9 839.6 C139.5 836.1 140.2 837.8 134.5 836.9 C128.8 836.0 114.5 835.0 106.8 834.5 C99.1 834.0 92.4 833.9 88.4 834.1 C84.4 834.4 84.1 835.4 82.9 836.0 C81.7 836.6 81.8 834.1 81.0 837.8 C80.2 841.5 78.9 851.0 78.3 858.0 C77.7 865.0 77.5 866.3 77.4 880.0 C77.3 893.7 77.3 924.7 77.5 940.0 C77.7 955.3 78.3 966.7 78.5 972.0" class="ct"/>
<text x="141.9" y="901.5" transform="rotate(-90.0 141.9 901.5)" class="cl">0</text>
<path d="M596.0 818.0 C596.3 819.0 596.3 822.7 598.0 824.0 C599.7 825.3 603.7 826.3 606.0 826.0 C608.3 825.7 611.0 823.3 612.0 822.0 C613.0 820.7 612.0 818.7 612.0 818.0" class="ct"/>
<path d="M105.0 818.9 C117.5 819.0 159.2 819.1 180.0 819.2 C200.8 819.3 221.7 819.5 230.0 819.5" class="ct"/>
<path d="M73.6 961.7 C73.7 962.3 73.3 962.3 74.1 965.6 C74.9 968.9 76.8 977.1 78.5 981.3 C80.3 985.6 82.5 990.1 84.4 991.2 C86.4 992.2 88.0 988.9 90.0 987.7 C92.1 986.6 93.3 985.5 96.8 984.3 C100.3 983.1 105.9 981.5 111.1 980.4 C116.2 979.2 120.6 979.2 127.5 977.4 C134.3 975.6 144.6 971.5 152.1 969.5 C159.7 967.6 165.8 966.7 172.7 965.6 C179.5 964.5 186.4 963.8 193.2 962.6 C200.1 961.5 206.9 960.2 213.7 958.7 C220.6 957.2 227.4 955.6 234.3 953.8 C241.1 952.0 248.0 949.2 254.8 947.9 C261.7 946.6 268.5 946.4 275.4 945.9 C282.2 945.4 289.1 945.1 295.9 944.9 C302.7 944.8 309.6 945.1 316.4 944.9 C323.3 944.8 329.7 944.4 337.0 944.0 C344.2 943.5 353.0 941.8 360.0 942.0 C367.0 942.1 373.7 944.6 378.9 944.9 C384.0 945.3 385.6 945.3 391.0 944.0 C396.5 942.6 404.7 939.4 411.6 937.1 C418.4 934.7 425.4 932.1 432.3 929.7 C439.1 927.2 445.8 924.7 452.6 922.3 C459.5 919.9 466.3 918.5 473.2 915.4 C480.0 912.4 486.9 908.7 493.7 904.1 C500.6 899.5 508.1 893.1 514.3 887.6 C520.4 882.1 525.5 877.0 530.7 871.1 C535.8 865.3 541.0 857.6 545.1 852.4 C549.3 847.3 551.9 843.5 555.3 840.4 C558.8 837.4 562.3 835.7 565.7 834.2 C569.1 832.8 570.7 832.5 575.9 831.8 C581.0 831.0 589.7 830.8 596.6 829.7 C603.4 828.6 610.3 826.6 616.9 825.0 C623.6 823.3 633.2 820.7 636.5 819.9" fill="none" stroke="#000" stroke-width="1.4"/>
<rect x="73.6" y="818.0" width="562.9" height="196.8" fill="none" stroke="#151515" stroke-width="2.6"/>
<line x1="73.6" y1="1014.8" x2="73.6" y2="1009.3" stroke="#151515" stroke-width="2"/>
<line x1="155.8" y1="1014.8" x2="155.8" y2="1009.3" stroke="#151515" stroke-width="2"/>
<line x1="237.9" y1="1014.8" x2="237.9" y2="1009.3" stroke="#151515" stroke-width="2"/>
<line x1="320.1" y1="1014.8" x2="320.1" y2="1009.3" stroke="#151515" stroke-width="2"/>
<line x1="402.2" y1="1014.8" x2="402.2" y2="1009.3" stroke="#151515" stroke-width="2"/>
<line x1="484.4" y1="1014.8" x2="484.4" y2="1009.3" stroke="#151515" stroke-width="2"/>
<line x1="566.5" y1="1014.8" x2="566.5" y2="1009.3" stroke="#151515" stroke-width="2"/>
<line x1="636.5" y1="867.2" x2="631.0" y2="867.2" stroke="#151515" stroke-width="2"/>
<line x1="636.5" y1="916.4" x2="631.0" y2="916.4" stroke="#151515" stroke-width="2"/>
<line x1="636.5" y1="965.6" x2="631.0" y2="965.6" stroke="#151515" stroke-width="2"/>
<text x="63.8" y="827.2" class="tk" text-anchor="end">0</text>
<text x="63.8" y="876.4" class="tk" text-anchor="end">-5</text>
<text x="63.8" y="925.6" class="tk" text-anchor="end">-10</text>
<text x="63.8" y="974.8" class="tk" text-anchor="end">-15</text>
<text x="63.8" y="1024.0" class="tk" text-anchor="end">-20</text>
<text class="lab" text-anchor="middle" transform="translate(20.9 916.4) rotate(-90)">Depth (m)</text>
<text x="483.6" y="985.6" class="lab">Spring Flood</text>
<rect x="645.8" y="824.0" width="29.8" height="190.8" fill="url(#cbg)" stroke="#222" stroke-width="1.3"/>
<text x="684.8" y="832.9" class="tk">0.4</text>
<line x1="675.6" y1="871.7" x2="673.4" y2="871.7" stroke="#333" stroke-width="1.1"/>
<text x="684.8" y="880.6" class="tk">0.2</text>
<line x1="675.6" y1="919.4" x2="673.4" y2="919.4" stroke="#333" stroke-width="1.1"/>
<text x="684.8" y="928.3" class="tk">0</text>
<line x1="675.6" y1="967.1" x2="673.4" y2="967.1" stroke="#333" stroke-width="1.1"/>
<text x="684.8" y="976.0" class="tk">-0.2</text>
<text x="684.8" y="1023.7" class="tk">-0.4</text>
<text x="660.7" y="810.9" class="un" text-anchor="middle">kg m<tspan class="sup" dy="-11">-3</tspan></text>
<text x="2.6" y="806.8" class="let">A</text>
<text x="33.9" y="806.8" class="let">’</text>
<linearGradient id="sg_Bp_0" x1="0" x2="1" y1="0" y2="0"><stop offset="0" stop-color="#a0c864" stop-opacity="0"/><stop offset="0.5" stop-color="#a0c864" stop-opacity="0.85"/><stop offset="1" stop-color="#a0c864" stop-opacity="0"/></linearGradient>
<rect x="923.5" y="826.0" width="13.0" height="119.0" fill="url(#sg_Bp_0)"/>
<path d="M760.8 951.8 C760.9 952.8 760.3 954.1 761.1 957.7 C762.0 961.3 763.8 969.5 765.7 973.5 C767.6 977.4 769.8 980.9 772.5 981.3 C775.1 981.8 778.4 978.1 781.7 976.4 C784.9 974.8 787.9 972.7 792.0 971.5 C796.1 970.4 800.5 970.4 806.3 969.5 C812.1 968.7 820.0 967.9 826.8 966.6 C833.7 965.3 840.5 963.0 847.4 961.7 C854.2 960.4 861.1 959.8 867.9 958.7 C874.8 957.7 881.6 957.0 888.5 955.4 C895.3 953.7 902.8 950.8 909.0 948.9 C915.2 947.0 920.3 945.3 925.4 944.0 C930.6 942.6 934.1 942.1 939.9 941.0 C945.7 939.9 953.6 938.0 960.4 937.1 C967.3 936.1 974.1 935.4 981.0 935.1 C987.8 934.8 994.7 935.1 1001.5 935.1 C1008.3 935.1 1015.6 935.5 1022.0 935.1 C1028.5 934.7 1033.7 932.7 1040.1 932.8 C1046.5 933.0 1054.3 935.3 1060.5 935.9 C1066.6 936.5 1071.9 937.1 1077.1 936.5 C1082.2 935.8 1085.6 933.8 1091.4 931.8 C1097.2 929.9 1105.1 927.0 1111.9 924.6 C1118.8 922.2 1125.6 919.6 1132.5 917.4 C1139.3 915.2 1146.1 913.8 1153.0 911.3 C1159.8 908.7 1166.7 906.0 1173.5 902.0 C1180.4 898.1 1188.3 892.4 1194.1 887.6 C1199.9 882.8 1203.9 878.1 1208.4 873.3 C1212.8 868.5 1216.5 864.1 1220.7 858.9 C1224.8 853.8 1229.4 846.8 1233.2 842.5 C1236.9 838.2 1239.6 835.5 1243.4 833.2 C1247.1 830.8 1251.9 829.4 1255.7 828.1 C1259.4 826.9 1260.7 826.3 1265.9 825.6 C1271.0 824.8 1279.6 824.2 1286.4 823.6 C1293.2 823.0 1300.7 822.7 1306.9 821.9 C1313.2 821.1 1320.9 819.3 1323.7 818.8 L1324.7 818.8 L1324.7 1015.8 L759.8 1015.8 L759.8 951.3 Z" fill="#fff"/>
<path d="M763.1 822.2 L840.0 822.2" class="ct"/>
<path d="M893.0 822.2 C898.5 822.6 919.1 823.3 926.0 824.3 C932.9 825.3 931.5 828.3 934.2 828.3 C936.9 828.3 911.1 824.6 942.3 824.3 C973.5 824.0 1088.9 824.9 1121.5 826.3 C1154.1 827.6 1134.1 829.7 1137.8 832.4 C1141.5 835.1 1142.9 837.7 1143.9 842.6 C1144.9 847.5 1143.9 858.8 1143.9 862.0" class="ct"/>
<path d="M1144.0 895.0 C1144.0 896.5 1145.6 900.6 1143.9 903.7 C1142.2 906.8 1137.1 911.4 1133.7 913.8 C1130.3 916.2 1125.2 917.2 1123.5 917.9" class="ct"/>
<text x="854.8" y="826.6" transform="rotate(0.0 854.8 826.6)" class="cl">0.2</text>
<text x="1145.9" y="879.2" transform="rotate(-90.2 1145.9 879.2)" class="cl">0.2</text>
<path d="M1174.4 824.3 C1175.4 825.3 1179.4 827.3 1180.5 830.4 C1181.6 833.5 1180.9 840.9 1181.0 843.0" class="ct"/>
<path d="M1177.0 874.0 C1176.2 875.5 1173.5 879.4 1172.4 883.3 C1171.3 887.2 1172.0 893.8 1170.3 897.5 C1168.6 901.2 1163.5 904.3 1162.2 905.7" class="ct"/>
<text x="1180.5" y="858.9" transform="rotate(-82.6 1180.5 858.9)" class="cl">0.4</text>
<path d="M922.0 891.0 C922.0 891.4 922.0 886.0 922.0 893.5 C922.0 901.0 922.4 927.7 922.0 936.2 C921.6 944.7 926.9 941.8 919.9 944.4 C912.9 947.0 893.9 949.6 880.0 952.0 C866.1 954.4 845.7 958.5 836.4 958.6 C827.1 958.7 826.6 960.3 824.2 952.5 C821.8 944.7 821.5 922.6 822.2 911.8 C822.9 900.9 825.2 894.5 828.3 887.4 C831.3 880.3 833.7 873.1 840.5 869.0 C847.3 864.9 860.9 863.2 869.0 862.9 C877.1 862.6 884.3 865.6 889.4 867.0 C894.5 868.4 896.9 868.5 899.6 871.1 C902.3 873.7 903.9 884.2 905.5 882.5 C907.1 880.8 908.4 864.6 909.0 861.0" class="ct"/>
<text x="877.2" y="824.6" transform="rotate(0.0 877.2 824.6)" class="cl">0.4</text>
<text x="917.5" y="876.0" transform="rotate(-90.0 917.5 876.0)" class="cl">0</text>
<path d="M760.8 951.8 C760.9 952.8 760.3 954.1 761.1 957.7 C762.0 961.3 763.8 969.5 765.7 973.5 C767.6 977.4 769.8 980.9 772.5 981.3 C775.1 981.8 778.4 978.1 781.7 976.4 C784.9 974.8 787.9 972.7 792.0 971.5 C796.1 970.4 800.5 970.4 806.3 969.5 C812.1 968.7 820.0 967.9 826.8 966.6 C833.7 965.3 840.5 963.0 847.4 961.7 C854.2 960.4 861.1 959.8 867.9 958.7 C874.8 957.7 881.6 957.0 888.5 955.4 C895.3 953.7 902.8 950.8 909.0 948.9 C915.2 947.0 920.3 945.3 925.4 944.0 C930.6 942.6 934.1 942.1 939.9 941.0 C945.7 939.9 953.6 938.0 960.4 937.1 C967.3 936.1 974.1 935.4 981.0 935.1 C987.8 934.8 994.7 935.1 1001.5 935.1 C1008.3 935.1 1015.6 935.5 1022.0 935.1 C1028.5 934.7 1033.7 932.7 1040.1 932.8 C1046.5 933.0 1054.3 935.3 1060.5 935.9 C1066.6 936.5 1071.9 937.1 1077.1 936.5 C1082.2 935.8 1085.6 933.8 1091.4 931.8 C1097.2 929.9 1105.1 927.0 1111.9 924.6 C1118.8 922.2 1125.6 919.6 1132.5 917.4 C1139.3 915.2 1146.1 913.8 1153.0 911.3 C1159.8 908.7 1166.7 906.0 1173.5 902.0 C1180.4 898.1 1188.3 892.4 1194.1 887.6 C1199.9 882.8 1203.9 878.1 1208.4 873.3 C1212.8 868.5 1216.5 864.1 1220.7 858.9 C1224.8 853.8 1229.4 846.8 1233.2 842.5 C1236.9 838.2 1239.6 835.5 1243.4 833.2 C1247.1 830.8 1251.9 829.4 1255.7 828.1 C1259.4 826.9 1260.7 826.3 1265.9 825.6 C1271.0 824.8 1279.6 824.2 1286.4 823.6 C1293.2 823.0 1300.7 822.7 1306.9 821.9 C1313.2 821.1 1320.9 819.3 1323.7 818.8" fill="none" stroke="#000" stroke-width="1.4"/>
<rect x="760.8" y="818.0" width="562.9" height="196.8" fill="none" stroke="#151515" stroke-width="2.6"/>
<line x1="760.8" y1="1014.8" x2="760.8" y2="1009.3" stroke="#151515" stroke-width="2"/>
<line x1="843.0" y1="1014.8" x2="843.0" y2="1009.3" stroke="#151515" stroke-width="2"/>
<line x1="925.1" y1="1014.8" x2="925.1" y2="1009.3" stroke="#151515" stroke-width="2"/>
<line x1="1007.3" y1="1014.8" x2="1007.3" y2="1009.3" stroke="#151515" stroke-width="2"/>
<line x1="1089.4" y1="1014.8" x2="1089.4" y2="1009.3" stroke="#151515" stroke-width="2"/>
<line x1="1171.6" y1="1014.8" x2="1171.6" y2="1009.3" stroke="#151515" stroke-width="2"/>
<line x1="1253.7" y1="1014.8" x2="1253.7" y2="1009.3" stroke="#151515" stroke-width="2"/>
<line x1="1323.7" y1="867.2" x2="1318.2" y2="867.2" stroke="#151515" stroke-width="2"/>
<line x1="1323.7" y1="916.4" x2="1318.2" y2="916.4" stroke="#151515" stroke-width="2"/>
<line x1="1323.7" y1="965.6" x2="1318.2" y2="965.6" stroke="#151515" stroke-width="2"/>
<text x="1170.8" y="985.6" class="lab">Spring Ebb</text>
<rect x="1333.3" y="824.0" width="29.8" height="190.8" fill="url(#cbg)" stroke="#222" stroke-width="1.3"/>
<text x="1372.3" y="832.9" class="tk">0.4</text>
<line x1="1363.1" y1="871.7" x2="1360.9" y2="871.7" stroke="#333" stroke-width="1.1"/>
<text x="1372.3" y="880.6" class="tk">0.2</text>
<line x1="1363.1" y1="919.4" x2="1360.9" y2="919.4" stroke="#333" stroke-width="1.1"/>
<text x="1372.3" y="928.3" class="tk">0</text>
<line x1="1363.1" y1="967.1" x2="1360.9" y2="967.1" stroke="#333" stroke-width="1.1"/>
<text x="1372.3" y="976.0" class="tk">-0.2</text>
<text x="1372.3" y="1023.7" class="tk">-0.4</text>
<text x="1348.2" y="810.9" class="un" text-anchor="middle">kg m<tspan class="sup" dy="-11">-3</tspan></text>
<text x="727.7" y="807.0" class="let">B</text>
<text x="757.8" y="807.0" class="let">’</text>
<path d="M73.6 1205.4 C73.7 1206.0 73.3 1206.0 74.1 1209.3 C74.9 1212.6 76.8 1220.8 78.5 1225.0 C80.3 1229.3 82.5 1233.8 84.4 1234.9 C86.4 1236.0 88.0 1232.6 90.0 1231.4 C92.1 1230.3 93.3 1229.2 96.8 1228.0 C100.3 1226.8 105.9 1225.2 111.1 1224.1 C116.2 1222.9 120.6 1222.9 127.5 1221.1 C134.3 1219.3 144.6 1215.2 152.1 1213.2 C159.7 1211.3 165.8 1210.4 172.7 1209.3 C179.5 1208.2 186.4 1207.5 193.2 1206.3 C200.1 1205.2 206.9 1203.9 213.7 1202.4 C220.6 1200.9 227.4 1199.3 234.3 1197.5 C241.1 1195.7 248.0 1192.9 254.8 1191.6 C261.7 1190.3 268.5 1190.1 275.4 1189.6 C282.2 1189.1 289.1 1188.8 295.9 1188.6 C302.7 1188.5 309.6 1188.8 316.4 1188.6 C323.3 1188.5 329.7 1188.1 337.0 1187.7 C344.2 1187.2 353.0 1185.5 360.0 1185.7 C367.0 1185.8 373.7 1188.3 378.9 1188.6 C384.0 1189.0 385.6 1189.0 391.0 1187.7 C396.5 1186.3 404.7 1183.1 411.6 1180.8 C418.4 1178.4 425.4 1175.8 432.3 1173.4 C439.1 1170.9 445.8 1168.4 452.6 1166.0 C459.5 1163.6 466.3 1162.2 473.2 1159.1 C480.0 1156.1 486.9 1152.4 493.7 1147.8 C500.6 1143.2 508.1 1136.8 514.3 1131.3 C520.4 1125.8 525.5 1120.7 530.7 1114.8 C535.8 1109.0 541.0 1101.3 545.1 1096.1 C549.3 1091.0 551.9 1087.2 555.3 1084.1 C558.8 1081.1 562.3 1079.4 565.7 1077.9 C569.1 1076.5 570.7 1076.2 575.9 1075.5 C581.0 1074.7 589.7 1074.5 596.6 1073.4 C603.4 1072.3 610.3 1070.3 616.9 1068.7 C623.6 1067.0 633.2 1064.4 636.5 1063.6 L637.5 1063.6 L637.5 1259.5 L72.6 1259.5 L72.6 1204.9 Z" fill="#fff"/>
<path d="M74.0 1070.3 L94.2 1069.1" class="ct"/>
<path d="M154.8 1077.2 C159.5 1078.9 173.6 1083.3 183.0 1087.3 C192.4 1091.3 203.2 1097.4 211.3 1101.4 C219.4 1105.4 226.1 1107.1 231.5 1111.5 C236.9 1115.9 239.6 1124.7 243.6 1127.7 C247.6 1130.7 251.7 1126.3 255.7 1129.7 C259.7 1133.1 262.4 1141.2 267.8 1147.9 C273.2 1154.6 280.6 1165.1 288.0 1170.1 C295.4 1175.1 304.8 1176.4 312.2 1178.1 C319.6 1179.8 325.7 1181.2 332.4 1180.2 C339.1 1179.2 346.6 1175.8 352.6 1172.1 C358.7 1168.4 364.7 1160.0 368.7 1158.0 C372.7 1156.0 372.8 1157.0 376.8 1160.0 C380.9 1163.0 388.3 1173.1 393.0 1176.1 C397.7 1179.1 399.7 1178.8 405.1 1178.1 C410.5 1177.4 421.9 1173.1 425.3 1172.1" class="ct"/>
<text x="128.5" y="1075.2" transform="rotate(7.6 128.5 1075.2)" class="cl">0.5</text>
<path d="M154.8 1062.3 L203.2 1063.9" class="ct"/>
<path d="M231.5 1065.1 C238.2 1066.1 257.1 1069.3 271.9 1071.1 C286.7 1072.9 304.2 1075.5 320.3 1076.0 C336.4 1076.5 357.3 1073.5 368.7 1074.4 C380.1 1075.3 382.8 1077.7 388.9 1081.2 C395.0 1084.7 399.0 1090.4 405.1 1095.4 C411.2 1100.5 417.9 1107.1 425.3 1111.5 C432.7 1115.9 443.4 1118.6 449.5 1121.6 C455.6 1124.6 458.2 1128.3 461.6 1129.7 C465.0 1131.1 466.3 1129.4 469.7 1129.7 C473.1 1130.0 477.8 1130.7 481.8 1131.7 C485.8 1132.7 490.5 1134.7 493.9 1135.7 C497.3 1136.7 499.6 1138.1 502.0 1137.8 C504.4 1137.5 507.0 1134.4 508.0 1133.7" class="ct"/>
<path d="M523.0 1119.0 L527.0 1114.0" class="ct"/>
<text x="215.3" y="1068.3" transform="rotate(2.4 215.3 1068.3)" class="cl">1</text>
<text x="516.1" y="1125.7" transform="rotate(-44.4 516.1 1125.7)" class="cl">1</text>
<path d="M75.5 1218.0 C75.5 1208.3 75.5 1176.0 75.5 1160.0 C75.5 1144.0 75.1 1129.4 75.5 1122.0 C75.9 1114.6 76.3 1117.3 78.1 1115.6 C79.9 1113.8 80.7 1112.5 86.1 1111.5 C91.5 1110.5 104.3 1108.8 110.4 1109.5 C116.5 1110.2 118.5 1109.9 122.5 1115.6 C126.5 1121.3 132.3 1137.7 134.6 1143.8 C136.9 1149.9 136.2 1150.6 136.5 1152.0" class="ct"/>
<path d="M143.5 1180.0 C143.7 1180.7 143.8 1178.8 144.7 1184.2 C145.6 1189.6 148.0 1207.8 148.7 1212.5" class="ct"/>
<text x="140.7" y="1166.0" transform="rotate(76.0 140.7 1166.0)" class="cl">0</text>
<path d="M563.5 1077.0 C564.0 1075.3 565.7 1067.2 566.5 1067.0 C567.3 1066.8 568.2 1074.5 568.5 1076.0" class="ct" style="stroke-width:1.8"/>
<path d="M589.2 1062.0 L589.2 1073.0" class="ct" style="stroke-width:1.6"/>
<path d="M592.6 1062.0 L592.6 1073.0" class="ct" style="stroke-width:1.6"/>
<path d="M73.6 1205.4 C73.7 1206.0 73.3 1206.0 74.1 1209.3 C74.9 1212.6 76.8 1220.8 78.5 1225.0 C80.3 1229.3 82.5 1233.8 84.4 1234.9 C86.4 1236.0 88.0 1232.6 90.0 1231.4 C92.1 1230.3 93.3 1229.2 96.8 1228.0 C100.3 1226.8 105.9 1225.2 111.1 1224.1 C116.2 1222.9 120.6 1222.9 127.5 1221.1 C134.3 1219.3 144.6 1215.2 152.1 1213.2 C159.7 1211.3 165.8 1210.4 172.7 1209.3 C179.5 1208.2 186.4 1207.5 193.2 1206.3 C200.1 1205.2 206.9 1203.9 213.7 1202.4 C220.6 1200.9 227.4 1199.3 234.3 1197.5 C241.1 1195.7 248.0 1192.9 254.8 1191.6 C261.7 1190.3 268.5 1190.1 275.4 1189.6 C282.2 1189.1 289.1 1188.8 295.9 1188.6 C302.7 1188.5 309.6 1188.8 316.4 1188.6 C323.3 1188.5 329.7 1188.1 337.0 1187.7 C344.2 1187.2 353.0 1185.5 360.0 1185.7 C367.0 1185.8 373.7 1188.3 378.9 1188.6 C384.0 1189.0 385.6 1189.0 391.0 1187.7 C396.5 1186.3 404.7 1183.1 411.6 1180.8 C418.4 1178.4 425.4 1175.8 432.3 1173.4 C439.1 1170.9 445.8 1168.4 452.6 1166.0 C459.5 1163.6 466.3 1162.2 473.2 1159.1 C480.0 1156.1 486.9 1152.4 493.7 1147.8 C500.6 1143.2 508.1 1136.8 514.3 1131.3 C520.4 1125.8 525.5 1120.7 530.7 1114.8 C535.8 1109.0 541.0 1101.3 545.1 1096.1 C549.3 1091.0 551.9 1087.2 555.3 1084.1 C558.8 1081.1 562.3 1079.4 565.7 1077.9 C569.1 1076.5 570.7 1076.2 575.9 1075.5 C581.0 1074.7 589.7 1074.5 596.6 1073.4 C603.4 1072.3 610.3 1070.3 616.9 1068.7 C623.6 1067.0 633.2 1064.4 636.5 1063.6" fill="none" stroke="#000" stroke-width="1.4"/>
<rect x="73.6" y="1061.7" width="562.9" height="196.8" fill="none" stroke="#151515" stroke-width="2.6"/>
<line x1="73.6" y1="1258.5" x2="73.6" y2="1253.0" stroke="#151515" stroke-width="2"/>
<line x1="155.8" y1="1258.5" x2="155.8" y2="1253.0" stroke="#151515" stroke-width="2"/>
<line x1="237.9" y1="1258.5" x2="237.9" y2="1253.0" stroke="#151515" stroke-width="2"/>
<line x1="320.1" y1="1258.5" x2="320.1" y2="1253.0" stroke="#151515" stroke-width="2"/>
<line x1="402.2" y1="1258.5" x2="402.2" y2="1253.0" stroke="#151515" stroke-width="2"/>
<line x1="484.4" y1="1258.5" x2="484.4" y2="1253.0" stroke="#151515" stroke-width="2"/>
<line x1="566.5" y1="1258.5" x2="566.5" y2="1253.0" stroke="#151515" stroke-width="2"/>
<line x1="636.5" y1="1110.9" x2="631.0" y2="1110.9" stroke="#151515" stroke-width="2"/>
<line x1="636.5" y1="1160.1" x2="631.0" y2="1160.1" stroke="#151515" stroke-width="2"/>
<line x1="636.5" y1="1209.3" x2="631.0" y2="1209.3" stroke="#151515" stroke-width="2"/>
<text x="63.8" y="1070.9" class="tk" text-anchor="end">0</text>
<text x="63.8" y="1120.1" class="tk" text-anchor="end">-5</text>
<text x="63.8" y="1169.3" class="tk" text-anchor="end">-10</text>
<text x="63.8" y="1218.5" class="tk" text-anchor="end">-15</text>
<text x="63.8" y="1267.7" class="tk" text-anchor="end">-20</text>
<text class="lab" text-anchor="middle" transform="translate(20.9 1160.1) rotate(-90)">Depth (m)</text>
<text x="483.6" y="1229.3" class="lab">Spring Flood</text>
<rect x="645.8" y="1067.7" width="29.8" height="190.8" fill="url(#cbg)" stroke="#222" stroke-width="1.3"/>
<text x="684.8" y="1076.6" class="tk">1</text>
<line x1="675.6" y1="1115.4" x2="673.4" y2="1115.4" stroke="#333" stroke-width="1.1"/>
<text x="684.8" y="1124.3" class="tk">0.5</text>
<line x1="675.6" y1="1163.1" x2="673.4" y2="1163.1" stroke="#333" stroke-width="1.1"/>
<text x="684.8" y="1172.0" class="tk">0</text>
<line x1="675.6" y1="1210.8" x2="673.4" y2="1210.8" stroke="#333" stroke-width="1.1"/>
<text x="684.8" y="1219.7" class="tk">-0.5</text>
<text x="684.8" y="1267.4" class="tk">-1</text>
<text x="660.7" y="1053.9" class="un" text-anchor="middle">kg m<tspan class="sup" dy="-11">-2</tspan><tspan dy="11"> s</tspan><tspan class="sup" dy="-11">-1</tspan></text>
<text x="4.0" y="1076.7" class="let">C</text>
<text x="33.9" y="1076.3" class="let">’</text>
<path d="M760.8 1205.4 C760.9 1206.0 760.5 1206.0 761.3 1209.3 C762.1 1212.6 764.0 1220.8 765.7 1225.0 C767.5 1229.3 769.7 1233.8 771.6 1234.9 C773.6 1236.0 775.2 1232.6 777.2 1231.4 C779.3 1230.3 780.5 1229.2 784.0 1228.0 C787.5 1226.8 793.1 1225.2 798.3 1224.1 C803.4 1222.9 807.8 1222.9 814.7 1221.1 C821.5 1219.3 831.8 1215.2 839.3 1213.2 C846.9 1211.3 853.0 1210.4 859.9 1209.3 C866.7 1208.2 873.6 1207.5 880.4 1206.3 C887.3 1205.2 894.1 1203.9 900.9 1202.4 C907.8 1200.9 914.6 1199.3 921.5 1197.5 C928.3 1195.7 935.2 1192.9 942.0 1191.6 C948.9 1190.3 955.7 1190.1 962.6 1189.6 C969.4 1189.1 976.3 1188.8 983.1 1188.6 C989.9 1188.5 996.8 1188.8 1003.6 1188.6 C1010.5 1188.5 1016.9 1188.1 1024.2 1187.7 C1031.4 1187.2 1040.2 1185.5 1047.2 1185.7 C1054.2 1185.8 1060.9 1188.3 1066.1 1188.6 C1071.2 1189.0 1072.8 1189.0 1078.2 1187.7 C1083.7 1186.3 1091.9 1183.1 1098.8 1180.8 C1105.6 1178.4 1112.6 1175.8 1119.5 1173.4 C1126.3 1170.9 1133.0 1168.4 1139.8 1166.0 C1146.7 1163.6 1153.5 1162.2 1160.4 1159.1 C1167.2 1156.1 1174.1 1152.4 1180.9 1147.8 C1187.8 1143.2 1195.3 1136.8 1201.5 1131.3 C1207.6 1125.8 1212.7 1120.7 1217.9 1114.8 C1223.0 1109.0 1228.2 1101.3 1232.3 1096.1 C1236.5 1091.0 1239.1 1087.2 1242.5 1084.1 C1246.0 1081.1 1249.5 1079.4 1252.9 1077.9 C1256.3 1076.5 1257.9 1076.2 1263.1 1075.5 C1268.2 1074.7 1276.9 1074.5 1283.8 1073.4 C1290.6 1072.3 1297.5 1070.3 1304.1 1068.7 C1310.8 1067.0 1320.4 1064.4 1323.7 1063.6 L1324.7 1063.6 L1324.7 1259.5 L759.8 1259.5 L759.8 1204.9 Z" fill="#fff"/>
<path d="M767.3 1062.2 C767.6 1062.4 767.0 1062.9 769.4 1063.2 C771.8 1063.5 777.2 1063.5 781.7 1064.2 C786.2 1064.9 791.3 1066.4 796.1 1067.3 C800.9 1068.2 807.4 1069.3 810.5 1069.8 C813.6 1070.2 814.2 1070.0 815.0 1070.0" class="ct"/>
<path d="M861.8 1063.2 L880.3 1063.2" class="ct"/>
<text x="836.5" y="1067.3" transform="rotate(-8.3 836.5 1067.3)" class="cl">0.4</text>
<path d="M761.2 1066.3 C762.2 1067.2 764.9 1069.9 767.3 1071.4 C769.7 1072.9 772.4 1074.6 775.5 1075.5 C778.6 1076.4 782.4 1075.9 785.8 1076.6 C789.2 1077.3 792.3 1078.2 796.1 1079.6 C799.9 1081.0 804.0 1084.6 808.4 1084.8 C812.8 1085.0 818.0 1081.7 822.8 1080.7 C827.6 1079.7 829.7 1079.3 837.2 1078.6 C844.7 1077.9 855.0 1077.1 868.0 1076.6 C881.0 1076.1 906.5 1075.7 915.2 1075.5 C923.9 1075.3 919.2 1075.5 920.0 1075.5" class="ct"/>
<path d="M962.0 1074.0 C962.8 1073.9 961.6 1074.3 966.5 1073.5 C971.4 1072.7 984.4 1070.8 991.2 1069.4 C998.1 1068.0 1004.4 1066.4 1007.6 1065.3 C1010.9 1064.2 1010.2 1063.2 1010.7 1062.8" class="ct"/>
<text x="940.9" y="1077.6" transform="rotate(-2.0 940.9 1077.6)" class="cl">0.2</text>
<path d="M764.3 1212.0 C764.3 1203.3 764.2 1176.2 764.3 1160.0 C764.4 1143.8 764.3 1123.1 765.0 1114.6 C765.7 1106.1 766.8 1110.4 768.5 1109.0 C770.2 1107.6 773.9 1106.8 775.5 1106.3 C777.1 1105.8 777.6 1106.0 778.0 1106.0" class="ct"/>
<path d="M801.0 1108.0 C801.5 1108.1 801.7 1108.6 804.3 1108.8 C806.9 1109.0 812.8 1109.4 816.6 1109.4 C820.4 1109.4 821.8 1108.3 826.9 1108.8 C832.0 1109.3 840.5 1111.2 847.4 1112.5 C854.2 1113.8 861.1 1115.8 868.0 1116.6 C874.9 1117.4 881.7 1117.8 888.5 1117.6 C895.3 1117.4 900.5 1116.8 909.0 1115.6 C917.5 1114.4 929.5 1112.7 939.8 1110.5 C950.1 1108.3 960.3 1105.1 970.6 1102.2 C980.9 1099.3 992.9 1095.6 1001.5 1093.0 C1010.1 1090.4 1015.6 1088.2 1022.0 1086.8 C1028.4 1085.4 1031.9 1084.8 1040.0 1084.8 C1048.1 1084.8 1062.2 1086.6 1070.8 1086.8 C1079.3 1087.0 1086.5 1086.3 1091.3 1085.8 C1096.1 1085.3 1098.2 1084.1 1099.6 1083.8" class="ct"/>
<path d="M1124.2 1074.5 C1125.9 1073.7 1131.4 1070.8 1134.5 1069.4 C1137.6 1068.0 1141.7 1067.2 1142.7 1066.3 C1143.7 1065.4 1142.0 1064.9 1140.6 1064.2 C1139.2 1063.5 1135.5 1062.5 1134.5 1062.2" class="ct"/>
<text x="789.9" y="1106.3" transform="rotate(5.0 789.9 1106.3)" class="cl">0</text>
<text x="1112.9" y="1079.6" transform="rotate(-20.7 1112.9 1079.6)" class="cl">0</text>
<path d="M1101.1 1175.1 C1097.7 1176.1 1091.0 1179.8 1080.8 1181.2 C1070.6 1182.6 1050.9 1183.3 1040.0 1183.3 C1029.1 1183.3 1021.7 1183.2 1015.6 1181.2 C1009.5 1179.2 1004.8 1175.8 1003.4 1171.0 C1002.0 1166.2 1004.1 1158.8 1007.5 1152.7 C1010.9 1146.6 1018.4 1138.4 1023.8 1134.4 C1029.2 1130.4 1032.2 1128.8 1040.0 1128.9 C1047.8 1129.0 1061.2 1135.8 1070.8 1135.1 C1080.4 1134.4 1091.6 1127.6 1097.5 1124.8 C1103.4 1122.0 1104.6 1119.1 1106.0 1118.0" class="ct"/>
<path d="M1145.0 1087.0 C1145.7 1086.5 1144.2 1085.7 1148.9 1083.8 C1153.7 1081.9 1166.0 1077.9 1173.5 1075.5 C1181.0 1073.1 1188.9 1070.9 1194.0 1069.4 C1199.1 1067.9 1201.9 1067.3 1204.3 1066.3 C1206.7 1065.3 1207.7 1063.7 1208.4 1063.2" class="ct"/>
<text x="1126.3" y="1102.2" transform="rotate(-38.5 1126.3 1102.2)" class="cl">-0.2</text>
<path d="M1159.1 1151.5 C1157.7 1150.5 1152.8 1147.8 1150.9 1145.4 C1149.0 1143.0 1147.8 1139.4 1147.8 1137.2 C1147.8 1135.0 1149.7 1133.7 1150.9 1132.0 C1152.1 1130.3 1154.3 1127.8 1155.0 1127.0" class="ct"/>
<path d="M1192.0 1094.0 C1193.0 1093.2 1195.0 1091.6 1198.1 1088.9 C1201.2 1086.2 1206.7 1081.2 1210.5 1077.6 C1214.3 1074.0 1218.5 1069.7 1220.7 1067.3 C1222.9 1064.9 1223.3 1063.9 1223.8 1063.2" class="ct"/>
<text x="1173.5" y="1108.4" transform="rotate(-41.7 1173.5 1108.4)" class="cl">-0.4</text>
<path d="M805.9 1168.0 C807.0 1168.7 811.1 1168.1 812.5 1172.0 C813.9 1175.9 814.0 1184.9 814.0 1191.4 C814.0 1197.9 813.9 1207.1 812.5 1211.0 C811.1 1214.9 808.1 1215.0 805.9 1215.0 C803.7 1215.0 800.6 1214.9 799.3 1211.0 C797.9 1207.1 797.8 1197.9 797.8 1191.4 C797.8 1184.9 797.9 1175.9 799.3 1172.0 C800.6 1168.1 804.8 1168.7 805.9 1168.0" class="ct"/>
<path d="M1280.3 1062.0 L1280.3 1072.5" class="ct"/>
<path d="M1282.6 1062.0 L1282.6 1072.0" class="ct"/>
<rect x="866.0" y="1062.0" width="14.0" height="3.5" rx="1" fill="#111"/>
<rect x="1080.0" y="1062.0" width="12.0" height="2.8" rx="1" fill="#111"/>
<path d="M760.8 1205.4 C760.9 1206.0 760.5 1206.0 761.3 1209.3 C762.1 1212.6 764.0 1220.8 765.7 1225.0 C767.5 1229.3 769.7 1233.8 771.6 1234.9 C773.6 1236.0 775.2 1232.6 777.2 1231.4 C779.3 1230.3 780.5 1229.2 784.0 1228.0 C787.5 1226.8 793.1 1225.2 798.3 1224.1 C803.4 1222.9 807.8 1222.9 814.7 1221.1 C821.5 1219.3 831.8 1215.2 839.3 1213.2 C846.9 1211.3 853.0 1210.4 859.9 1209.3 C866.7 1208.2 873.6 1207.5 880.4 1206.3 C887.3 1205.2 894.1 1203.9 900.9 1202.4 C907.8 1200.9 914.6 1199.3 921.5 1197.5 C928.3 1195.7 935.2 1192.9 942.0 1191.6 C948.9 1190.3 955.7 1190.1 962.6 1189.6 C969.4 1189.1 976.3 1188.8 983.1 1188.6 C989.9 1188.5 996.8 1188.8 1003.6 1188.6 C1010.5 1188.5 1016.9 1188.1 1024.2 1187.7 C1031.4 1187.2 1040.2 1185.5 1047.2 1185.7 C1054.2 1185.8 1060.9 1188.3 1066.1 1188.6 C1071.2 1189.0 1072.8 1189.0 1078.2 1187.7 C1083.7 1186.3 1091.9 1183.1 1098.8 1180.8 C1105.6 1178.4 1112.6 1175.8 1119.5 1173.4 C1126.3 1170.9 1133.0 1168.4 1139.8 1166.0 C1146.7 1163.6 1153.5 1162.2 1160.4 1159.1 C1167.2 1156.1 1174.1 1152.4 1180.9 1147.8 C1187.8 1143.2 1195.3 1136.8 1201.5 1131.3 C1207.6 1125.8 1212.7 1120.7 1217.9 1114.8 C1223.0 1109.0 1228.2 1101.3 1232.3 1096.1 C1236.5 1091.0 1239.1 1087.2 1242.5 1084.1 C1246.0 1081.1 1249.5 1079.4 1252.9 1077.9 C1256.3 1076.5 1257.9 1076.2 1263.1 1075.5 C1268.2 1074.7 1276.9 1074.5 1283.8 1073.4 C1290.6 1072.3 1297.5 1070.3 1304.1 1068.7 C1310.8 1067.0 1320.4 1064.4 1323.7 1063.6" fill="none" stroke="#000" stroke-width="1.4"/>
<rect x="760.8" y="1061.7" width="562.9" height="196.8" fill="none" stroke="#151515" stroke-width="2.6"/>
<line x1="760.8" y1="1258.5" x2="760.8" y2="1253.0" stroke="#151515" stroke-width="2"/>
<line x1="843.0" y1="1258.5" x2="843.0" y2="1253.0" stroke="#151515" stroke-width="2"/>
<line x1="925.1" y1="1258.5" x2="925.1" y2="1253.0" stroke="#151515" stroke-width="2"/>
<line x1="1007.3" y1="1258.5" x2="1007.3" y2="1253.0" stroke="#151515" stroke-width="2"/>
<line x1="1089.4" y1="1258.5" x2="1089.4" y2="1253.0" stroke="#151515" stroke-width="2"/>
<line x1="1171.6" y1="1258.5" x2="1171.6" y2="1253.0" stroke="#151515" stroke-width="2"/>
<line x1="1253.7" y1="1258.5" x2="1253.7" y2="1253.0" stroke="#151515" stroke-width="2"/>
<line x1="1323.7" y1="1110.9" x2="1318.2" y2="1110.9" stroke="#151515" stroke-width="2"/>
<line x1="1323.7" y1="1160.1" x2="1318.2" y2="1160.1" stroke="#151515" stroke-width="2"/>
<line x1="1323.7" y1="1209.3" x2="1318.2" y2="1209.3" stroke="#151515" stroke-width="2"/>
<text x="1170.8" y="1229.3" class="lab">Spring Flood</text>
<rect x="1333.3" y="1067.7" width="29.8" height="190.8" fill="url(#cbg)" stroke="#222" stroke-width="1.3"/>
<text x="1372.3" y="1076.6" class="tk">0.4</text>
<line x1="1363.1" y1="1115.4" x2="1360.9" y2="1115.4" stroke="#333" stroke-width="1.1"/>
<text x="1372.3" y="1124.3" class="tk">0.2</text>
<line x1="1363.1" y1="1163.1" x2="1360.9" y2="1163.1" stroke="#333" stroke-width="1.1"/>
<text x="1372.3" y="1172.0" class="tk">0</text>
<line x1="1363.1" y1="1210.8" x2="1360.9" y2="1210.8" stroke="#333" stroke-width="1.1"/>
<text x="1372.3" y="1219.7" class="tk">-0.2</text>
<text x="1372.3" y="1267.4" class="tk">-0.4</text>
<text x="1348.2" y="1053.9" class="un" text-anchor="middle">kg m<tspan class="sup" dy="-11">-2</tspan><tspan dy="11"> s</tspan><tspan class="sup" dy="-11">-1</tspan></text>
<text x="722.1" y="1076.7" class="let">D</text>
<text x="751.8" y="1076.7" class="let">’</text>
<linearGradient id="sg_Ep_0" x1="0" x2="1" y1="0" y2="0"><stop offset="0" stop-color="#5d9ce2" stop-opacity="0"/><stop offset="0.5" stop-color="#5d9ce2" stop-opacity="0.50"/><stop offset="1" stop-color="#5d9ce2" stop-opacity="0"/></linearGradient>
<rect x="236.0" y="1312.0" width="10.0" height="90.0" fill="url(#sg_Ep_0)"/>
<path d="M73.6 1439.9 C73.7 1440.9 73.1 1442.2 73.9 1445.8 C74.8 1449.4 76.6 1457.6 78.5 1461.6 C80.4 1465.5 82.6 1469.0 85.3 1469.4 C87.9 1469.9 91.2 1466.2 94.5 1464.5 C97.7 1462.9 100.7 1460.8 104.8 1459.6 C108.9 1458.5 113.3 1458.5 119.1 1457.6 C124.9 1456.8 132.8 1456.0 139.6 1454.7 C146.5 1453.4 153.3 1451.1 160.2 1449.8 C167.0 1448.5 173.9 1447.9 180.7 1446.8 C187.6 1445.8 194.4 1445.1 201.3 1443.5 C208.1 1441.8 215.6 1438.9 221.8 1437.0 C228.0 1435.1 233.1 1433.4 238.2 1432.1 C243.4 1430.7 246.9 1430.2 252.7 1429.1 C258.5 1428.0 266.4 1426.1 273.2 1425.2 C280.1 1424.2 286.9 1423.5 293.8 1423.2 C300.6 1422.9 307.5 1423.2 314.3 1423.2 C321.1 1423.2 328.4 1423.6 334.8 1423.2 C341.3 1422.8 346.5 1420.8 352.9 1420.9 C359.3 1421.1 367.1 1423.4 373.3 1424.0 C379.4 1424.6 384.7 1425.2 389.9 1424.6 C395.0 1423.9 398.4 1421.9 404.2 1419.9 C410.0 1418.0 417.9 1415.1 424.7 1412.7 C431.6 1410.3 438.4 1407.7 445.3 1405.5 C452.1 1403.3 458.9 1401.9 465.8 1399.4 C472.6 1396.8 479.5 1394.1 486.3 1390.1 C493.2 1386.2 501.1 1380.5 506.9 1375.7 C512.7 1370.9 516.7 1366.2 521.2 1361.4 C525.6 1356.6 529.3 1352.2 533.5 1347.0 C537.6 1341.9 542.2 1334.9 546.0 1330.6 C549.7 1326.3 552.4 1323.6 556.2 1321.3 C559.9 1318.9 564.7 1317.5 568.5 1316.2 C572.2 1315.0 573.5 1314.4 578.7 1313.7 C583.8 1312.9 592.4 1312.3 599.2 1311.7 C606.0 1311.1 613.5 1310.8 619.7 1310.0 C626.0 1309.2 633.7 1307.4 636.5 1306.9 L637.5 1306.9 L637.5 1503.9 L72.6 1503.9 L72.6 1439.4 Z" fill="#fff"/>
<path d="M74.0 1407.0 C74.7 1410.0 76.7 1419.6 78.0 1425.0 C79.3 1430.4 80.8 1438.0 82.1 1439.3 C83.4 1440.6 85.3 1434.0 86.0 1433.0" class="ct"/>
<path d="M120.5 1376.7 C124.2 1370.3 136.0 1349.0 142.7 1338.4 C149.4 1327.8 152.7 1317.8 160.8 1313.3 C168.9 1308.8 178.7 1311.7 191.1 1311.3 C203.5 1310.9 226.9 1309.4 235.5 1310.9 C244.1 1312.4 240.8 1320.0 242.8 1320.2 C244.8 1320.4 242.8 1313.8 247.6 1312.1 C252.4 1310.4 257.1 1310.4 271.9 1310.1 C286.7 1309.8 325.7 1310.1 336.5 1310.1" class="ct"/>
<path d="M401.0 1310.1 C404.4 1310.8 415.8 1312.8 421.2 1314.1 C426.6 1315.4 430.6 1314.2 433.3 1318.2 C436.0 1322.2 434.7 1331.0 437.4 1338.4 C440.1 1345.8 446.1 1355.2 449.5 1362.6 C452.9 1370.0 453.6 1378.4 457.6 1382.8 C461.6 1387.2 469.0 1388.1 473.7 1388.8 C478.4 1389.5 483.8 1387.1 485.8 1386.8" class="ct"/>
<text x="104.3" y="1398.9" transform="rotate(-58.5 104.3 1398.9)" class="cl">-0.5</text>
<text x="368.7" y="1313.3" transform="rotate(0.0 368.7 1313.3)" class="cl">-0.5</text>
<path d="M73.6 1439.9 C73.7 1440.9 73.1 1442.2 73.9 1445.8 C74.8 1449.4 76.6 1457.6 78.5 1461.6 C80.4 1465.5 82.6 1469.0 85.3 1469.4 C87.9 1469.9 91.2 1466.2 94.5 1464.5 C97.7 1462.9 100.7 1460.8 104.8 1459.6 C108.9 1458.5 113.3 1458.5 119.1 1457.6 C124.9 1456.8 132.8 1456.0 139.6 1454.7 C146.5 1453.4 153.3 1451.1 160.2 1449.8 C167.0 1448.5 173.9 1447.9 180.7 1446.8 C187.6 1445.8 194.4 1445.1 201.3 1443.5 C208.1 1441.8 215.6 1438.9 221.8 1437.0 C228.0 1435.1 233.1 1433.4 238.2 1432.1 C243.4 1430.7 246.9 1430.2 252.7 1429.1 C258.5 1428.0 266.4 1426.1 273.2 1425.2 C280.1 1424.2 286.9 1423.5 293.8 1423.2 C300.6 1422.9 307.5 1423.2 314.3 1423.2 C321.1 1423.2 328.4 1423.6 334.8 1423.2 C341.3 1422.8 346.5 1420.8 352.9 1420.9 C359.3 1421.1 367.1 1423.4 373.3 1424.0 C379.4 1424.6 384.7 1425.2 389.9 1424.6 C395.0 1423.9 398.4 1421.9 404.2 1419.9 C410.0 1418.0 417.9 1415.1 424.7 1412.7 C431.6 1410.3 438.4 1407.7 445.3 1405.5 C452.1 1403.3 458.9 1401.9 465.8 1399.4 C472.6 1396.8 479.5 1394.1 486.3 1390.1 C493.2 1386.2 501.1 1380.5 506.9 1375.7 C512.7 1370.9 516.7 1366.2 521.2 1361.4 C525.6 1356.6 529.3 1352.2 533.5 1347.0 C537.6 1341.9 542.2 1334.9 546.0 1330.6 C549.7 1326.3 552.4 1323.6 556.2 1321.3 C559.9 1318.9 564.7 1317.5 568.5 1316.2 C572.2 1315.0 573.5 1314.4 578.7 1313.7 C583.8 1312.9 592.4 1312.3 599.2 1311.7 C606.0 1311.1 613.5 1310.8 619.7 1310.0 C626.0 1309.2 633.7 1307.4 636.5 1306.9" fill="none" stroke="#000" stroke-width="1.4"/>
<rect x="73.6" y="1306.1" width="562.9" height="196.8" fill="none" stroke="#151515" stroke-width="2.6"/>
<line x1="73.6" y1="1502.9" x2="73.6" y2="1497.4" stroke="#151515" stroke-width="2"/>
<line x1="155.8" y1="1502.9" x2="155.8" y2="1497.4" stroke="#151515" stroke-width="2"/>
<line x1="237.9" y1="1502.9" x2="237.9" y2="1497.4" stroke="#151515" stroke-width="2"/>
<line x1="320.1" y1="1502.9" x2="320.1" y2="1497.4" stroke="#151515" stroke-width="2"/>
<line x1="402.2" y1="1502.9" x2="402.2" y2="1497.4" stroke="#151515" stroke-width="2"/>
<line x1="484.4" y1="1502.9" x2="484.4" y2="1497.4" stroke="#151515" stroke-width="2"/>
<line x1="566.5" y1="1502.9" x2="566.5" y2="1497.4" stroke="#151515" stroke-width="2"/>
<line x1="636.5" y1="1355.3" x2="631.0" y2="1355.3" stroke="#151515" stroke-width="2"/>
<line x1="636.5" y1="1404.5" x2="631.0" y2="1404.5" stroke="#151515" stroke-width="2"/>
<line x1="636.5" y1="1453.7" x2="631.0" y2="1453.7" stroke="#151515" stroke-width="2"/>
<text x="63.8" y="1315.3" class="tk" text-anchor="end">0</text>
<text x="63.8" y="1364.5" class="tk" text-anchor="end">-5</text>
<text x="63.8" y="1413.7" class="tk" text-anchor="end">-10</text>
<text x="63.8" y="1462.9" class="tk" text-anchor="end">-15</text>
<text x="63.8" y="1512.1" class="tk" text-anchor="end">-20</text>
<text class="lab" text-anchor="middle" transform="translate(20.9 1404.5) rotate(-90)">Depth (m)</text>
<text x="73.6" y="1534.5" class="tk" text-anchor="middle">0</text>
<text x="155.8" y="1534.5" class="tk" text-anchor="middle">5</text>
<text x="237.9" y="1534.5" class="tk" text-anchor="middle">10</text>
<text x="320.1" y="1534.5" class="tk" text-anchor="middle">15</text>
<text x="402.2" y="1534.5" class="tk" text-anchor="middle">20</text>
<text x="484.4" y="1534.5" class="tk" text-anchor="middle">25</text>
<text x="566.5" y="1534.5" class="tk" text-anchor="middle">30</text>
<text x="355.0" y="1564.6" class="lab" text-anchor="middle">Distance from north bank (km)</text>
<text x="483.6" y="1473.7" class="lab">Spring Ebb</text>
<rect x="645.8" y="1312.1" width="29.8" height="190.8" fill="url(#cbg)" stroke="#222" stroke-width="1.3"/>
<text x="684.8" y="1321.0" class="tk">1</text>
<line x1="675.6" y1="1359.8" x2="673.4" y2="1359.8" stroke="#333" stroke-width="1.1"/>
<text x="684.8" y="1368.7" class="tk">0.5</text>
<line x1="675.6" y1="1407.5" x2="673.4" y2="1407.5" stroke="#333" stroke-width="1.1"/>
<text x="684.8" y="1416.4" class="tk">0</text>
<line x1="675.6" y1="1455.2" x2="673.4" y2="1455.2" stroke="#333" stroke-width="1.1"/>
<text x="684.8" y="1464.1" class="tk">-0.5</text>
<text x="684.8" y="1511.8" class="tk">-1</text>
<text x="660.7" y="1298.3" class="un" text-anchor="middle">kg m<tspan class="sup" dy="-11">-2</tspan><tspan dy="11"> s</tspan><tspan class="sup" dy="-11">-1</tspan></text>
<text x="5.2" y="1303.3" class="let">E</text>
<text x="32.5" y="1303.3" class="let">’</text>
<path d="M760.8 1439.9 C760.9 1440.9 760.3 1442.2 761.1 1445.8 C762.0 1449.4 763.8 1457.6 765.7 1461.6 C767.6 1465.5 769.8 1469.0 772.5 1469.4 C775.1 1469.9 778.4 1466.2 781.7 1464.5 C784.9 1462.9 787.9 1460.8 792.0 1459.6 C796.1 1458.5 800.5 1458.5 806.3 1457.6 C812.1 1456.8 820.0 1456.0 826.8 1454.7 C833.7 1453.4 840.5 1451.1 847.4 1449.8 C854.2 1448.5 861.1 1447.9 867.9 1446.8 C874.8 1445.8 881.6 1445.1 888.5 1443.5 C895.3 1441.8 902.8 1438.9 909.0 1437.0 C915.2 1435.1 920.3 1433.4 925.4 1432.1 C930.6 1430.7 934.1 1430.2 939.9 1429.1 C945.7 1428.0 953.6 1426.1 960.4 1425.2 C967.3 1424.2 974.1 1423.5 981.0 1423.2 C987.8 1422.9 994.7 1423.2 1001.5 1423.2 C1008.3 1423.2 1015.6 1423.6 1022.0 1423.2 C1028.5 1422.8 1033.7 1420.8 1040.1 1420.9 C1046.5 1421.1 1054.3 1423.4 1060.5 1424.0 C1066.6 1424.6 1071.9 1425.2 1077.1 1424.6 C1082.2 1423.9 1085.6 1421.9 1091.4 1419.9 C1097.2 1418.0 1105.1 1415.1 1111.9 1412.7 C1118.8 1410.3 1125.6 1407.7 1132.5 1405.5 C1139.3 1403.3 1146.1 1401.9 1153.0 1399.4 C1159.8 1396.8 1166.7 1394.1 1173.5 1390.1 C1180.4 1386.2 1188.3 1380.5 1194.1 1375.7 C1199.9 1370.9 1203.9 1366.2 1208.4 1361.4 C1212.8 1356.6 1216.5 1352.2 1220.7 1347.0 C1224.8 1341.9 1229.4 1334.9 1233.2 1330.6 C1236.9 1326.3 1239.6 1323.6 1243.4 1321.3 C1247.1 1318.9 1251.9 1317.5 1255.7 1316.2 C1259.4 1315.0 1260.7 1314.4 1265.9 1313.7 C1271.0 1312.9 1279.6 1312.3 1286.4 1311.7 C1293.2 1311.1 1300.7 1310.8 1306.9 1310.0 C1313.2 1309.2 1320.9 1307.4 1323.7 1306.9 L1324.7 1306.9 L1324.7 1503.9 L759.8 1503.9 L759.8 1439.4 Z" fill="#fff"/>
<path d="M851.5 1307.2 C856.0 1307.5 866.9 1308.6 878.2 1309.3 C889.5 1310.0 902.2 1310.7 919.3 1311.3 C936.4 1311.9 960.8 1312.3 980.9 1312.8 C1001.0 1313.3 1025.0 1314.2 1040.0 1314.4 C1055.0 1314.6 1060.5 1314.3 1070.8 1314.0 C1081.1 1313.7 1095.9 1313.0 1101.6 1312.8 C1107.3 1312.6 1104.4 1312.8 1105.0 1312.8" class="ct"/>
<path d="M1153.0 1313.4 C1153.3 1313.4 1149.9 1313.0 1155.0 1313.4 C1160.1 1313.9 1176.3 1316.1 1183.8 1316.1 C1191.3 1316.1 1195.4 1314.9 1200.2 1313.4 C1205.0 1311.9 1209.8 1308.4 1212.5 1307.2 C1215.2 1306.0 1215.9 1306.4 1216.6 1306.2" class="ct"/>
<text x="1128.3" y="1315.5" transform="rotate(0.7 1128.3 1315.5)" class="cl">0.4</text>
<path d="M796.1 1307.2 C797.1 1307.9 798.8 1309.9 802.2 1311.3 C805.6 1312.7 809.1 1314.3 816.6 1315.5 C824.1 1316.7 840.5 1317.8 847.4 1318.5 C854.3 1319.2 856.2 1319.3 858.0 1319.5" class="ct"/>
<path d="M889.0 1319.6 C891.0 1319.6 892.3 1319.4 900.8 1319.6 C909.3 1319.8 926.4 1320.5 939.8 1321.0 C953.1 1321.5 964.2 1321.8 980.9 1322.6 C997.6 1323.4 1025.0 1325.0 1040.0 1325.7 C1055.0 1326.4 1060.5 1326.5 1070.8 1326.8 C1081.1 1327.0 1093.0 1326.9 1101.6 1327.2 C1110.2 1327.5 1115.3 1328.0 1122.2 1328.8 C1129.1 1329.6 1136.6 1330.7 1142.7 1331.9 C1148.8 1333.1 1154.0 1334.6 1159.1 1336.0 C1164.2 1337.4 1170.5 1339.3 1173.5 1340.1 C1176.5 1340.9 1176.4 1340.8 1177.0 1341.0" class="ct"/>
<path d="M1220.7 1324.7 C1221.4 1324.5 1223.4 1323.0 1224.8 1323.7 C1226.2 1324.4 1227.3 1329.2 1229.0 1328.8 C1230.7 1328.4 1232.4 1324.3 1235.1 1321.6 C1237.8 1318.9 1242.7 1314.5 1245.4 1312.4 C1248.1 1310.4 1249.8 1309.3 1251.5 1309.3 C1253.2 1309.3 1254.9 1311.9 1255.6 1312.4" class="ct"/>
<text x="873.1" y="1321.6" transform="rotate(0.2 873.1 1321.6)" class="cl">0.2</text>
<text x="1199.2" y="1339.1" transform="rotate(-20.5 1199.2 1339.1)" class="cl">0.2</text>
<path d="M767.3 1307.2 C767.6 1308.2 768.0 1310.8 769.4 1313.4 C770.8 1316.0 772.8 1320.4 775.5 1322.6 C778.2 1324.8 781.0 1325.4 785.8 1326.3 C790.6 1327.2 801.2 1327.5 804.3 1327.8" class="ct"/>
<path d="M829.0 1334.5 C829.7 1334.6 828.2 1334.4 833.0 1335.0 C837.8 1335.6 848.5 1337.0 857.7 1338.0 C867.0 1339.0 878.2 1340.4 888.5 1341.1 C898.8 1341.8 912.4 1342.2 919.3 1342.2 C926.1 1342.2 922.8 1341.1 929.6 1341.1 C936.5 1341.1 950.1 1341.7 960.4 1342.2 C970.7 1342.7 982.7 1343.0 991.2 1344.2 C999.8 1345.4 1003.6 1348.3 1011.7 1349.3 C1019.8 1350.3 1030.2 1350.4 1040.0 1350.4 C1049.8 1350.4 1062.2 1349.5 1070.8 1349.3 C1079.3 1349.0 1084.4 1348.2 1091.3 1348.9 C1098.2 1349.6 1105.7 1351.7 1111.9 1353.5 C1118.1 1355.3 1125.3 1358.3 1128.3 1359.6 C1131.3 1360.8 1129.7 1360.8 1130.0 1361.0" class="ct"/>
<path d="M1147.0 1380.0 C1147.3 1380.4 1147.9 1380.8 1148.9 1382.2 C1149.9 1383.6 1152.0 1386.2 1153.0 1388.4 C1154.0 1390.6 1154.7 1394.4 1155.0 1395.6" class="ct"/>
<text x="816.6" y="1332.9" transform="rotate(15.2 816.6 1332.9)" class="cl">0</text>
<text x="1138.6" y="1371.2" transform="rotate(48.2 1138.6 1371.2)" class="cl">0</text>
<path d="M762.5 1460.0 C762.4 1453.3 762.0 1433.3 761.8 1420.0 C761.6 1406.7 761.6 1390.1 761.5 1380.0 C761.4 1369.9 760.6 1363.2 761.2 1359.6 C761.8 1356.0 762.9 1357.6 765.3 1358.6 C767.7 1359.6 770.4 1364.9 775.5 1365.8 C780.6 1366.7 789.9 1363.4 796.1 1363.7 C802.3 1364.0 807.4 1365.8 812.5 1367.8 C817.6 1369.8 822.1 1372.9 826.9 1376.0 C831.7 1379.1 837.2 1382.5 841.3 1386.3 C845.4 1390.1 847.5 1393.6 851.5 1398.6 C855.5 1403.6 862.4 1412.2 865.0 1416.1 C867.6 1420.0 868.4 1420.2 867.0 1422.2 C865.6 1424.2 862.2 1424.9 856.8 1428.3 C851.4 1431.7 838.9 1439.8 834.4 1442.6 C829.9 1445.4 830.7 1444.6 830.0 1445.0" class="ct"/>
<path d="M782.0 1462.0 C780.8 1462.5 777.3 1465.0 775.0 1465.0 C772.7 1465.0 769.2 1462.5 768.0 1462.0" class="ct"/>
<text x="805.9" y="1454.8" transform="rotate(-19.5 805.9 1454.8)" class="cl">-0.2</text>
<path d="M1282.3 1306.0 L1282.3 1312.0" class="ct"/>
<path d="M760.8 1439.9 C760.9 1440.9 760.3 1442.2 761.1 1445.8 C762.0 1449.4 763.8 1457.6 765.7 1461.6 C767.6 1465.5 769.8 1469.0 772.5 1469.4 C775.1 1469.9 778.4 1466.2 781.7 1464.5 C784.9 1462.9 787.9 1460.8 792.0 1459.6 C796.1 1458.5 800.5 1458.5 806.3 1457.6 C812.1 1456.8 820.0 1456.0 826.8 1454.7 C833.7 1453.4 840.5 1451.1 847.4 1449.8 C854.2 1448.5 861.1 1447.9 867.9 1446.8 C874.8 1445.8 881.6 1445.1 888.5 1443.5 C895.3 1441.8 902.8 1438.9 909.0 1437.0 C915.2 1435.1 920.3 1433.4 925.4 1432.1 C930.6 1430.7 934.1 1430.2 939.9 1429.1 C945.7 1428.0 953.6 1426.1 960.4 1425.2 C967.3 1424.2 974.1 1423.5 981.0 1423.2 C987.8 1422.9 994.7 1423.2 1001.5 1423.2 C1008.3 1423.2 1015.6 1423.6 1022.0 1423.2 C1028.5 1422.8 1033.7 1420.8 1040.1 1420.9 C1046.5 1421.1 1054.3 1423.4 1060.5 1424.0 C1066.6 1424.6 1071.9 1425.2 1077.1 1424.6 C1082.2 1423.9 1085.6 1421.9 1091.4 1419.9 C1097.2 1418.0 1105.1 1415.1 1111.9 1412.7 C1118.8 1410.3 1125.6 1407.7 1132.5 1405.5 C1139.3 1403.3 1146.1 1401.9 1153.0 1399.4 C1159.8 1396.8 1166.7 1394.1 1173.5 1390.1 C1180.4 1386.2 1188.3 1380.5 1194.1 1375.7 C1199.9 1370.9 1203.9 1366.2 1208.4 1361.4 C1212.8 1356.6 1216.5 1352.2 1220.7 1347.0 C1224.8 1341.9 1229.4 1334.9 1233.2 1330.6 C1236.9 1326.3 1239.6 1323.6 1243.4 1321.3 C1247.1 1318.9 1251.9 1317.5 1255.7 1316.2 C1259.4 1315.0 1260.7 1314.4 1265.9 1313.7 C1271.0 1312.9 1279.6 1312.3 1286.4 1311.7 C1293.2 1311.1 1300.7 1310.8 1306.9 1310.0 C1313.2 1309.2 1320.9 1307.4 1323.7 1306.9" fill="none" stroke="#000" stroke-width="1.4"/>
<rect x="760.8" y="1306.1" width="562.9" height="196.8" fill="none" stroke="#151515" stroke-width="2.6"/>
<line x1="760.8" y1="1502.9" x2="760.8" y2="1497.4" stroke="#151515" stroke-width="2"/>
<line x1="843.0" y1="1502.9" x2="843.0" y2="1497.4" stroke="#151515" stroke-width="2"/>
<line x1="925.1" y1="1502.9" x2="925.1" y2="1497.4" stroke="#151515" stroke-width="2"/>
<line x1="1007.3" y1="1502.9" x2="1007.3" y2="1497.4" stroke="#151515" stroke-width="2"/>
<line x1="1089.4" y1="1502.9" x2="1089.4" y2="1497.4" stroke="#151515" stroke-width="2"/>
<line x1="1171.6" y1="1502.9" x2="1171.6" y2="1497.4" stroke="#151515" stroke-width="2"/>
<line x1="1253.7" y1="1502.9" x2="1253.7" y2="1497.4" stroke="#151515" stroke-width="2"/>
<line x1="1323.7" y1="1355.3" x2="1318.2" y2="1355.3" stroke="#151515" stroke-width="2"/>
<line x1="1323.7" y1="1404.5" x2="1318.2" y2="1404.5" stroke="#151515" stroke-width="2"/>
<line x1="1323.7" y1="1453.7" x2="1318.2" y2="1453.7" stroke="#151515" stroke-width="2"/>
<text x="760.8" y="1534.5" class="tk" text-anchor="middle">0</text>
<text x="843.0" y="1534.5" class="tk" text-anchor="middle">5</text>
<text x="925.1" y="1534.5" class="tk" text-anchor="middle">10</text>
<text x="1007.3" y="1534.5" class="tk" text-anchor="middle">15</text>
<text x="1089.4" y="1534.5" class="tk" text-anchor="middle">20</text>
<text x="1171.6" y="1534.5" class="tk" text-anchor="middle">25</text>
<text x="1253.7" y="1534.5" class="tk" text-anchor="middle">30</text>
<text x="1042.2" y="1564.6" class="lab" text-anchor="middle">Distance from north bank (km)</text>
<text x="1170.8" y="1473.7" class="lab">Spring Ebb</text>
<rect x="1333.3" y="1312.1" width="29.8" height="190.8" fill="url(#cbg)" stroke="#222" stroke-width="1.3"/>
<text x="1372.3" y="1321.0" class="tk">0.4</text>
<line x1="1363.1" y1="1359.8" x2="1360.9" y2="1359.8" stroke="#333" stroke-width="1.1"/>
<text x="1372.3" y="1368.7" class="tk">0.2</text>
<line x1="1363.1" y1="1407.5" x2="1360.9" y2="1407.5" stroke="#333" stroke-width="1.1"/>
<text x="1372.3" y="1416.4" class="tk">0</text>
<line x1="1363.1" y1="1455.2" x2="1360.9" y2="1455.2" stroke="#333" stroke-width="1.1"/>
<text x="1372.3" y="1464.1" class="tk">-0.2</text>
<text x="1372.3" y="1511.8" class="tk">-0.4</text>
<text x="1348.2" y="1298.3" class="un" text-anchor="middle">kg m<tspan class="sup" dy="-11">-2</tspan><tspan dy="11"> s</tspan><tspan class="sup" dy="-11">-1</tspan></text>
<text x="724.6" y="1303.3" class="let">F</text>
<text x="749.3" y="1303.3" class="let">’</text>
</svg></body></html>
